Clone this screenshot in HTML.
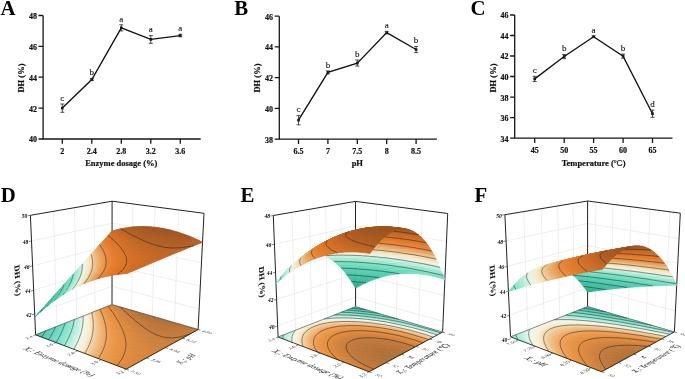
<!DOCTYPE html><html><head><meta charset="utf-8"><style>*{margin:0;padding:0}html,body{width:685px;height:379px;overflow:hidden;background:#fff}
svg{display:block;will-change:transform}
text{font-family:"Liberation Serif",serif}
.ax{fill:none;stroke:#161616;stroke-width:1.3}
.dl{fill:none;stroke:#111;stroke-width:1.35}
.eb{fill:none;stroke:#222;stroke-width:.8}
.mk{fill:#111}
.tl{font-size:8px;font-weight:bold;fill:#111;stroke:#111;stroke-width:.2}
.xt{font-size:8.5px;font-weight:bold;fill:#111;stroke:#111;stroke-width:.2}
.lt{font-size:9px;fill:#111;stroke:#111;stroke-width:.12}
.pl{font-size:20.8px;font-weight:bold;fill:#000}
.gr{fill:none;stroke:#dcdcdc;stroke-width:.5}
.bx{fill:none;stroke:#222;stroke-width:1}
.fe{fill:none;stroke:#111;stroke-width:.8}
.fb{fill:none;stroke:#444;stroke-width:.6}
.zl{font-size:5.5px;font-weight:bold;font-style:italic;fill:#000}
.dh{font-size:9px;font-weight:bold;fill:#111;stroke:#111;stroke-width:.1}
.kl{font-size:5.4px;font-style:italic;fill:#222}
.at{font-size:7.3px;font-style:italic;fill:#111}
.tk{fill:none;stroke:#333;stroke-width:.6}
.s path{fill:currentColor;stroke:currentColor;stroke-width:.7}
.s path.cl,path.cl{fill:none;stroke:#1a1a1a;stroke-width:.5}
</style></head><body><svg width="685" height="379" viewBox="0 0 685 379"><path d="M43.1 15.5V139H200.7" class="ax"/><text x="36.9" y="18.9" class="tl" text-anchor="end">48</text><text x="36.9" y="49.8" class="tl" text-anchor="end">46</text><text x="36.9" y="80.7" class="tl" text-anchor="end">44</text><text x="36.9" y="111.5" class="tl" text-anchor="end">42</text><text x="36.9" y="142.4" class="tl" text-anchor="end">40</text><text x="62.3" y="153.6" class="tl" text-anchor="middle">2</text><text x="91.8" y="153.6" class="tl" text-anchor="middle">2.4</text><text x="121.3" y="153.6" class="tl" text-anchor="middle">2.8</text><text x="150.8" y="153.6" class="tl" text-anchor="middle">3.2</text><text x="180.3" y="153.6" class="tl" text-anchor="middle">3.6</text><path d="M38.5 15.5H43.1M38.5 46.4H43.1M38.5 77.2H43.1M38.5 108.1H43.1M38.5 139H43.1M62.3 139V143.8M91.8 139V143.8M121.3 139V143.8M150.8 139V143.8M180.3 139V143.8" class="ax"/><polyline points="62.3,108.1 91.8,79.6 121.3,27.8 150.8,39.4 180.3,35.6" class="dl"/><rect x="61" y="106.8" width="2.6" height="2.6" class="mk"/><text x="62.3" y="100.8" class="lt" text-anchor="middle">c</text><rect x="90.5" y="78.3" width="2.6" height="2.6" class="mk"/><text x="91.8" y="75.4" class="lt" text-anchor="middle">b</text><rect x="120" y="26.5" width="2.6" height="2.6" class="mk"/><text x="121.3" y="21.6" class="lt" text-anchor="middle">a</text><rect x="149.5" y="38.1" width="2.6" height="2.6" class="mk"/><text x="150.8" y="32.4" class="lt" text-anchor="middle">a</text><rect x="179" y="34.3" width="2.6" height="2.6" class="mk"/><text x="180.3" y="31.1" class="lt" text-anchor="middle">a</text><path d="M62.3 104V112.3M60.3 104h4M60.3 112.3h4M91.8 78.6V80.5M89.8 78.6h4M89.8 80.5h4M121.3 24.8V30.9M119.3 24.8h4M119.3 30.9h4M150.8 35.6V43.3M148.8 35.6h4M148.8 43.3h4M180.3 34.3V36.8M178.3 34.3h4M178.3 36.8h4" class="eb"/><text x="121.3" y="166.1" class="xt" text-anchor="middle">Enzyme dosage (%)</text><text transform="translate(23.8 78) rotate(-90)" class="xt" text-anchor="middle">DH (%)</text><text x=".5" y="14.6" class="pl">A</text><path d="M279.3 16.2V139.1H436.9" class="ax"/><text x="273.1" y="19.6" class="tl" text-anchor="end">46</text><text x="273.1" y="50.3" class="tl" text-anchor="end">44</text><text x="273.1" y="81.1" class="tl" text-anchor="end">42</text><text x="273.1" y="111.8" class="tl" text-anchor="end">40</text><text x="273.1" y="142.5" class="tl" text-anchor="end">38</text><text x="298.5" y="153.7" class="tl" text-anchor="middle">6.5</text><text x="327.9" y="153.7" class="tl" text-anchor="middle">7</text><text x="357.3" y="153.7" class="tl" text-anchor="middle">7.5</text><text x="386.7" y="153.7" class="tl" text-anchor="middle">8</text><text x="416.1" y="153.7" class="tl" text-anchor="middle">8.5</text><path d="M274.7 16.2H279.3M274.7 46.9H279.3M274.7 77.7H279.3M274.7 108.4H279.3M274.7 139.1H279.3M298.5 139.1V143.9M327.9 139.1V143.9M357.3 139.1V143.9M386.7 139.1V143.9M416.1 139.1V143.9" class="ax"/><polyline points="298.5,120.2 327.9,72.4 357.3,63.1 386.7,32.6 416.1,49.5" class="dl"/><rect x="297.2" y="118.9" width="2.6" height="2.6" class="mk"/><text x="298.5" y="112.4" class="lt" text-anchor="middle">c</text><rect x="326.6" y="71.1" width="2.6" height="2.6" class="mk"/><text x="327.9" y="67.7" class="lt" text-anchor="middle">b</text><rect x="356" y="61.8" width="2.6" height="2.6" class="mk"/><text x="357.3" y="56.8" class="lt" text-anchor="middle">b</text><rect x="385.4" y="31.3" width="2.6" height="2.6" class="mk"/><text x="386.7" y="28.2" class="lt" text-anchor="middle">a</text><rect x="414.8" y="48.2" width="2.6" height="2.6" class="mk"/><text x="416.1" y="43.3" class="lt" text-anchor="middle">b</text><path d="M298.5 115.6V124.8M296.5 115.6h4M296.5 124.8h4M327.9 70.9V74M325.9 70.9h4M325.9 74h4M357.3 60V66.1M355.3 60h4M355.3 66.1h4M386.7 31.4V33.9M384.7 31.4h4M384.7 33.9h4M416.1 46.5V52.6M414.1 46.5h4M414.1 52.6h4" class="eb"/><text x="357.3" y="166.1" class="xt" text-anchor="middle">pH</text><text transform="translate(260 78) rotate(-90)" class="xt" text-anchor="middle">DH (%)</text><text x="234.3" y="14.6" class="pl">B</text><path d="M514.7 15V138.1H672.5" class="ax"/><text x="508.5" y="18.4" class="tl" text-anchor="end">46</text><text x="508.5" y="38.9" class="tl" text-anchor="end">44</text><text x="508.5" y="59.4" class="tl" text-anchor="end">42</text><text x="508.5" y="80" class="tl" text-anchor="end">40</text><text x="508.5" y="100.5" class="tl" text-anchor="end">38</text><text x="508.5" y="121" class="tl" text-anchor="end">36</text><text x="508.5" y="141.5" class="tl" text-anchor="end">34</text><text x="534.7" y="152.7" class="tl" text-anchor="middle">45</text><text x="564.2" y="152.7" class="tl" text-anchor="middle">50</text><text x="593.6" y="152.7" class="tl" text-anchor="middle">55</text><text x="623.1" y="152.7" class="tl" text-anchor="middle">60</text><text x="652.5" y="152.7" class="tl" text-anchor="middle">65</text><path d="M510.1 15H514.7M510.1 35.5H514.7M510.1 56H514.7M510.1 76.5H514.7M510.1 97.1H514.7M510.1 117.6H514.7M510.1 138.1H514.7M534.7 138.1V142.9M564.2 138.1V142.9M593.6 138.1V142.9M623.1 138.1V142.9M652.5 138.1V142.9" class="ax"/><polyline points="534.7,78.9 564.2,56.5 593.6,36.7 623.1,56.1 652.5,113.7" class="dl"/><rect x="533.4" y="77.6" width="2.6" height="2.6" class="mk"/><text x="534.7" y="73.1" class="lt" text-anchor="middle">c</text><rect x="562.9" y="55.2" width="2.6" height="2.6" class="mk"/><text x="564.2" y="51.3" class="lt" text-anchor="middle">b</text><rect x="592.3" y="35.4" width="2.6" height="2.6" class="mk"/><text x="593.6" y="32.7" class="lt" text-anchor="middle">a</text><rect x="621.8" y="54.8" width="2.6" height="2.6" class="mk"/><text x="623.1" y="50.9" class="lt" text-anchor="middle">b</text><rect x="651.2" y="112.4" width="2.6" height="2.6" class="mk"/><text x="652.5" y="106.9" class="lt" text-anchor="middle">d</text><path d="M534.7 76.3V81.5M532.7 76.3h4M532.7 81.5h4M564.2 54.5V58.6M562.2 54.5h4M562.2 58.6h4M593.6 35.9V37.6M591.6 35.9h4M591.6 37.6h4M623.1 54.1V58.2M621.1 54.1h4M621.1 58.2h4M652.5 110.1V117.3M650.5 110.1h4M650.5 117.3h4" class="eb"/><text x="593.6" y="166.1" class="xt" text-anchor="middle">Temperature (<tspan font-size="5.5px" font-weight="normal" dy="-3">o</tspan><tspan dy="3" font-family="Liberation Sans" font-weight="normal" stroke-width=".1">C</tspan>)</text><text transform="translate(495.7 78) rotate(-90)" class="xt" text-anchor="middle">DH (%)</text><text x="470.6" y="14.6" class="pl">C</text><path d="M34.7 313.8L112 286.3L199.1 309.1M33.7 290.2L112 265.8L200.3 286.1M32.6 265.9L112 244.8L201.5 262.5M31.5 241L112 223.2L202.8 238.2M57 326.4L53.4 211.3M76.7 318.6L74.5 207.7M95 311.3L94 204.3M131.6 310.3L132.9 203.9M152.4 316.3L155 206.9M174.5 322.7L178.7 210" class="gr"/><path d="M35.6 334.8L30.4 215.3L112.1 201.2L204 213.3M112.1 201.2L112 304.6M204 213.3L198.1 329.5" class="bx"/><g class="s"><path d="M35.6 334.8l3.1 1.1 3.4-1.3-3.1-1.1z" color="#4cc1a6"/><path d="M38.7 335.9l3 1.2 3.4-1.4-3-1.1z" color="#54c8ae"/><path d="M41.7 337.1l3.1 1.2 3.4-1.4-3.1-1.2z" color="#5bcdb4"/><path d="M44.8 338.3l3.1 1.2 3.4-1.4-3.1-1.2z" color="#61d1b9"/><path d="M47.9 339.5l3.2 1.2 3.4-1.5-3.2-1.1z" color="#69d5bf"/><path d="M51.1 340.7l3.2 1.2 3.4-1.5-3.2-1.2z" color="#71dac3"/><path d="M54.3 341.9l3.2 1.2 3.4-1.5-3.2-1.2z" color="#79e0c6"/><path d="M57.5 343.1l3.3 1.2 3.4-1.4-3.3-1.3z" color="#87e4cc"/><path d="M60.8 344.3l3.3 1.3 3.4-1.5-3.3-1.2z" color="#98e9d3"/><path d="M64.1 345.6l3.3 1.2 3.4-1.5-3.3-1.2z" color="#aaedda"/><path d="M67.4 346.8l3.4 1.3 3.4-1.5-3.4-1.3z" color="#c2f1e2"/><path d="M70.8 348.1l3.4 1.3 3.4-1.5-3.4-1.3z" color="#ddf5e9"/><path d="M74.2 349.4l3.5 1.3 3.3-1.5-3.4-1.3z" color="#f2f6e7"/><path d="M77.7 350.7l3.4 1.3 3.4-1.5-3.5-1.3z" color="#f7efd7"/><path d="M81.1 352l3.6 1.4 3.3-1.6-3.5-1.3z" color="#f5e1be"/><path d="M84.7 353.4l3.5 1.3 3.4-1.6-3.6-1.3z" color="#f2d0a2"/><path d="M88.2 354.7l3.6 1.4 3.4-1.6-3.6-1.4z" color="#f0c189"/><path d="M91.8 356.1l3.7 1.4 3.3-1.7-3.6-1.3z" color="#efb374"/><path d="M95.5 357.5l3.7 1.3 3.3-1.6-3.7-1.4z" color="#eea55f"/><path d="M99.2 358.8l3.7 1.5 3.3-1.7-3.7-1.4z" color="#ec9f55"/><path d="M102.9 360.3l3.8 1.4 3.3-1.7-3.8-1.4z" color="#ea984b"/><path d="M106.7 361.7l3.8 1.4 3.3-1.7-3.8-1.4z" color="#e89344"/><path d="M110.5 363.1l3.9 1.5 3.3-1.7-3.9-1.5z" color="#e59042"/><path d="M114.4 364.6l3.9 1.5 3.3-1.8-3.9-1.4z" color="#e18d41"/><path d="M118.3 366.1l3.9 1.5 3.3-1.8-3.9-1.5z" color="#de8b40"/><path d="M122.2 367.6l4 1.5 3.3-1.8-4-1.5z" color="#dc893f"/><path d="M39 333.5l3.1 1.1 3.3-1.3-3-1.2z" color="#51c6ab"/><path d="M42.1 334.6l3 1.1 3.4-1.3-3.1-1.1z" color="#58ccb2"/><path d="M45.1 335.7l3.1 1.2 3.4-1.4-3.1-1.1z" color="#5fd0b7"/><path d="M48.2 336.9l3.1 1.2 3.4-1.4-3.1-1.2z" color="#66d3bd"/><path d="M51.3 338.1l3.2 1.1 3.3-1.4-3.1-1.1z" color="#6ed9c1"/><path d="M54.5 339.2l3.2 1.2 3.3-1.4-3.2-1.2z" color="#76dec5"/><path d="M57.7 340.4l3.2 1.2 3.4-1.4-3.3-1.2z" color="#80e3c9"/><path d="M60.9 341.6l3.3 1.3 3.3-1.5-3.2-1.2z" color="#92e7d0"/><path d="M64.2 342.9l3.3 1.2 3.3-1.5-3.3-1.2z" color="#a2ebd7"/><path d="M67.5 344.1l3.3 1.2 3.3-1.4-3.3-1.3z" color="#b9f0df"/><path d="M70.8 345.3l3.4 1.3 3.3-1.5-3.4-1.2z" color="#d1f4e7"/><path d="M74.2 346.6l3.4 1.3 3.3-1.5-3.4-1.3z" color="#eff8ec"/><path d="M77.6 347.9l3.4 1.3 3.3-1.6-3.4-1.2z" color="#f5f2dd"/><path d="M81 349.2l3.5 1.3 3.3-1.6-3.5-1.3z" color="#f7e8ca"/><path d="M84.5 350.5l3.5 1.3 3.3-1.6-3.5-1.3z" color="#f3d7ae"/><path d="M88 351.8l3.6 1.3 3.3-1.6-3.6-1.3z" color="#f0c894"/><path d="M91.6 353.1l3.6 1.4 3.3-1.6-3.6-1.4z" color="#efb97e"/><path d="M95.2 354.5l3.6 1.3 3.3-1.6-3.6-1.3z" color="#eeac69"/><path d="M98.8 355.8l3.7 1.4 3.3-1.6-3.7-1.4z" color="#eda25a"/><path d="M102.5 357.2l3.7 1.4 3.3-1.7-3.7-1.3z" color="#eb9c50"/><path d="M106.2 358.6l3.8 1.4 3.3-1.7-3.8-1.4z" color="#ea9647"/><path d="M110 360l3.8 1.4 3.3-1.7-3.8-1.4z" color="#e79243"/><path d="M113.8 361.4l3.9 1.5 3.2-1.8-3.8-1.4z" color="#e38f42"/><path d="M117.7 362.9l3.9 1.4 3.2-1.7-3.9-1.5z" color="#e08c41"/><path d="M121.6 364.3l3.9 1.5 3.2-1.8-3.9-1.4z" color="#de8a3f"/><path d="M125.5 365.8l4 1.5 3.2-1.8-4-1.5z" color="#db883e"/><path d="M42.4 332.1l3 1.2 3.3-1.4-3-1.1z" color="#56cbb0"/><path d="M45.4 333.3l3.1 1.1 3.3-1.4-3.1-1.1z" color="#5dceb6"/><path d="M48.5 334.4l3.1 1.1 3.3-1.3-3.1-1.2z" color="#64d2bb"/><path d="M51.6 335.5l3.1 1.2 3.3-1.4-3.1-1.1z" color="#6bd7c0"/><path d="M54.7 336.7l3.1 1.1 3.3-1.3-3.1-1.2z" color="#74dcc4"/><path d="M57.8 337.8l3.2 1.2 3.3-1.4-3.2-1.1z" color="#7ce1c7"/><path d="M61 339l3.3 1.2 3.2-1.4-3.2-1.2z" color="#8ce6ce"/><path d="M64.3 340.2l3.2 1.2 3.3-1.4-3.3-1.2z" color="#9dead5"/><path d="M67.5 341.4l3.3 1.2 3.3-1.4-3.3-1.2z" color="#b1eedc"/><path d="M70.8 342.6l3.3 1.3 3.3-1.5-3.3-1.2z" color="#c8f2e4"/><path d="M74.1 343.9l3.4 1.2 3.3-1.5-3.4-1.2z" color="#e4f6ea"/><path d="M77.5 345.1l3.4 1.3 3.3-1.5-3.4-1.3z" color="#f3f4e3"/><path d="M80.9 346.4l3.4 1.2 3.3-1.5-3.4-1.2z" color="#f8eed5"/><path d="M84.3 347.6l3.5 1.3 3.3-1.5-3.5-1.3z" color="#f5deb9"/><path d="M87.8 348.9l3.5 1.3 3.3-1.5-3.5-1.3z" color="#f2ce9e"/><path d="M91.3 350.2l3.6 1.3 3.2-1.5-3.5-1.3z" color="#f0bf87"/><path d="M94.9 351.5l3.6 1.4 3.2-1.6-3.6-1.3z" color="#efb172"/><path d="M98.5 352.9l3.6 1.3 3.2-1.6-3.6-1.3z" color="#eea55f"/><path d="M102.1 354.2l3.7 1.4 3.2-1.7-3.7-1.3z" color="#ec9e55"/><path d="M105.8 355.6l3.7 1.3 3.2-1.6-3.7-1.4z" color="#ea994b"/><path d="M109.5 356.9l3.8 1.4 3.2-1.6-3.8-1.4z" color="#e89344"/><path d="M113.3 358.3l3.8 1.4 3.2-1.6-3.8-1.4z" color="#e59142"/><path d="M117.1 359.7l3.8 1.4 3.2-1.6-3.8-1.4z" color="#e28e41"/><path d="M120.9 361.1l3.9 1.5 3.2-1.7-3.9-1.4z" color="#df8b40"/><path d="M124.8 362.6l3.9 1.4 3.2-1.7-3.9-1.4z" color="#dd893f"/><path d="M128.7 364l4 1.5 3.2-1.7-4-1.5z" color="#da873e"/><path d="M45.7 330.8l3 1.1 3.3-1.3-3-1.1z" color="#5bcdb4"/><path d="M48.7 331.9l3.1 1.1 3.2-1.3-3-1.1z" color="#62d1ba"/><path d="M51.8 333l3.1 1.2 3.2-1.4-3.1-1.1z" color="#69d5bf"/><path d="M54.9 334.2l3.1 1.1 3.2-1.3-3.1-1.2z" color="#71dac3"/><path d="M58 335.3l3.1 1.2 3.3-1.4-3.2-1.1z" color="#79e0c6"/><path d="M61.1 336.5l3.2 1.1 3.3-1.3-3.2-1.2z" color="#86e4cc"/><path d="M64.3 337.6l3.2 1.2 3.3-1.4-3.2-1.1z" color="#97e9d2"/><path d="M67.5 338.8l3.3 1.2 3.2-1.4-3.2-1.2z" color="#a9edd9"/><path d="M70.8 340l3.3 1.2 3.2-1.4-3.3-1.2z" color="#c0f1e2"/><path d="M74.1 341.2l3.3 1.2 3.3-1.4-3.4-1.2z" color="#daf5e8"/><path d="M77.4 342.4l3.4 1.2 3.2-1.4-3.3-1.2z" color="#f1f7e9"/><path d="M80.8 343.6l3.4 1.3 3.2-1.5-3.4-1.2z" color="#f6f0da"/><path d="M84.2 344.9l3.4 1.2 3.2-1.5-3.4-1.2z" color="#f6e4c3"/><path d="M87.6 346.1l3.5 1.3 3.2-1.5-3.5-1.3z" color="#f3d4a8"/><path d="M91.1 347.4l3.5 1.3 3.2-1.5-3.5-1.3z" color="#f0c58f"/><path d="M94.6 348.7l3.5 1.3 3.2-1.6-3.5-1.2z" color="#efb77a"/><path d="M98.1 350l3.6 1.3 3.2-1.6-3.6-1.3z" color="#eeaa66"/><path d="M101.7 351.3l3.6 1.3 3.2-1.6-3.6-1.3z" color="#eda159"/><path d="M105.3 352.6l3.7 1.3 3.2-1.5-3.7-1.4z" color="#eb9b4f"/><path d="M109 353.9l3.7 1.4 3.2-1.6-3.7-1.3z" color="#e99646"/><path d="M112.7 355.3l3.8 1.4 3.1-1.7-3.7-1.3z" color="#e79243"/><path d="M116.5 356.7l3.8 1.4 3.1-1.7-3.8-1.4z" color="#e38f42"/><path d="M120.3 358.1l3.8 1.4 3.2-1.7-3.9-1.4z" color="#e18d41"/><path d="M124.1 359.5l3.9 1.4 3.1-1.7-3.8-1.4z" color="#de8a40"/><path d="M128 360.9l3.9 1.4 3.2-1.7-4-1.4z" color="#dc883f"/><path d="M131.9 362.3l4 1.5 3.1-1.8-3.9-1.4z" color="#d9873e"/><path d="M49 329.5l3 1.1 3.2-1.3-3-1z" color="#60d0b8"/><path d="M52 330.6l3 1.1 3.3-1.3-3.1-1.1z" color="#66d4bd"/><path d="M55 331.7l3.1 1.1 3.3-1.3-3.1-1.1z" color="#6fd9c1"/><path d="M58.1 332.8l3.1 1.2 3.3-1.4-3.1-1.1z" color="#77dec5"/><path d="M61.2 334l3.2 1.1 3.2-1.3-3.1-1.2z" color="#81e3ca"/><path d="M64.4 335.1l3.2 1.2 3.2-1.4-3.2-1.1z" color="#92e7d0"/><path d="M67.6 336.3l3.2 1.1 3.2-1.4-3.2-1.1z" color="#a3ebd7"/><path d="M70.8 337.4l3.2 1.2 3.3-1.4-3.3-1.2z" color="#b9f0df"/><path d="M74 338.6l3.3 1.2 3.2-1.4-3.2-1.2z" color="#d1f4e7"/><path d="M77.3 339.8l3.4 1.2 3.2-1.4-3.4-1.2z" color="#edf8ec"/><path d="M80.7 341l3.3 1.2 3.2-1.5-3.3-1.1z" color="#f4f2df"/><path d="M84 342.2l3.4 1.2 3.2-1.4-3.4-1.3z" color="#f7e9cc"/><path d="M87.4 343.4l3.4 1.2 3.2-1.4-3.4-1.2z" color="#f4d9b1"/><path d="M90.8 344.6l3.5 1.3 3.2-1.5-3.5-1.2z" color="#f1ca97"/><path d="M94.3 345.9l3.5 1.3 3.2-1.5-3.5-1.3z" color="#efbc81"/><path d="M97.8 347.2l3.5 1.2 3.2-1.5-3.5-1.2z" color="#efae6d"/><path d="M101.3 348.4l3.6 1.3 3.2-1.5-3.6-1.3z" color="#eea35c"/><path d="M104.9 349.7l3.6 1.3 3.2-1.5-3.6-1.3z" color="#ec9d53"/><path d="M108.5 351l3.7 1.4 3.1-1.6-3.6-1.3z" color="#ea984a"/><path d="M112.2 352.4l3.7 1.3 3.1-1.6-3.7-1.3z" color="#e89344"/><path d="M115.9 353.7l3.7 1.3 3.2-1.6-3.8-1.3z" color="#e59042"/><path d="M119.6 355l3.8 1.4 3.1-1.6-3.7-1.4z" color="#e28e41"/><path d="M123.4 356.4l3.9 1.4 3.1-1.6-3.9-1.4z" color="#df8c40"/><path d="M127.3 357.8l3.8 1.4 3.1-1.7-3.8-1.3z" color="#dd893f"/><path d="M131.1 359.2l4 1.4 3-1.7-3.9-1.4z" color="#db883e"/><path d="M135.1 360.6l3.9 1.4 3.1-1.7-4-1.4z" color="#d8863e"/><path d="M52.2 328.3l3 1 3.2-1.2-3-1.1z" color="#65d3bc"/><path d="M55.2 329.3l3.1 1.1 3.2-1.3-3.1-1z" color="#6cd7c0"/><path d="M58.3 330.4l3.1 1.1 3.1-1.3-3-1.1z" color="#75ddc4"/><path d="M61.4 331.5l3.1 1.1 3.1-1.3-3.1-1.1z" color="#7de2c8"/><path d="M64.5 332.6l3.1 1.2 3.2-1.4-3.2-1.1z" color="#8de6cf"/><path d="M67.6 333.8l3.2 1.1 3.2-1.3-3.2-1.2z" color="#9eead5"/><path d="M70.8 334.9l3.2 1.1 3.2-1.3-3.2-1.1z" color="#b2eedd"/><path d="M74 336l3.3 1.2 3.1-1.4-3.2-1.1z" color="#c9f2e5"/><path d="M77.3 337.2l3.2 1.2 3.2-1.4-3.3-1.2z" color="#e5f6ea"/><path d="M80.5 338.4l3.4 1.2 3.1-1.4-3.3-1.2z" color="#f3f4e3"/><path d="M83.9 339.6l3.3 1.1 3.2-1.4-3.4-1.1z" color="#f8eed4"/><path d="M87.2 340.7l3.4 1.3 3.1-1.5-3.3-1.2z" color="#f5deba"/><path d="M90.6 342l3.4 1.2 3.2-1.5-3.5-1.2z" color="#f2cf9f"/><path d="M94 343.2l3.5 1.2 3.1-1.4-3.4-1.3z" color="#f0c088"/><path d="M97.5 344.4l3.5 1.3 3.1-1.5-3.5-1.2z" color="#efb374"/><path d="M101 345.7l3.5 1.2 3.1-1.5-3.5-1.2z" color="#eea661"/><path d="M104.5 346.9l3.6 1.3 3.1-1.5-3.6-1.3z" color="#ec9f56"/><path d="M108.1 348.2l3.6 1.3 3.1-1.5-3.6-1.3z" color="#eb9a4d"/><path d="M111.7 349.5l3.6 1.3 3.1-1.6-3.6-1.2z" color="#e99445"/><path d="M115.3 350.8l3.7 1.3 3.1-1.6-3.7-1.3z" color="#e69143"/><path d="M119 352.1l3.8 1.3 3.1-1.5-3.8-1.4z" color="#e38f42"/><path d="M122.8 353.4l3.7 1.4 3.1-1.6-3.7-1.3z" color="#e08c41"/><path d="M126.5 354.8l3.9 1.4 3-1.7-3.8-1.3z" color="#de8a40"/><path d="M130.4 356.2l3.8 1.3 3.1-1.6-3.9-1.4z" color="#dc893f"/><path d="M134.2 357.5l3.9 1.4 3.1-1.6-3.9-1.4z" color="#da873e"/><path d="M138.1 358.9l4 1.4 3-1.6-3.9-1.4z" color="#d7853e"/><path d="M55.4 327l3 1.1 3.2-1.3-3.1-1.1z" color="#6ad6bf"/><path d="M58.4 328.1l3.1 1 3.1-1.2-3-1.1z" color="#73dbc3"/><path d="M61.5 329.1l3 1.1 3.2-1.3-3.1-1z" color="#7be1c7"/><path d="M64.5 330.2l3.1 1.1 3.2-1.3-3.1-1.1z" color="#89e5cd"/><path d="M67.6 331.3l3.2 1.1 3.1-1.3-3.1-1.1z" color="#9ae9d4"/><path d="M70.8 332.4l3.2 1.2 3.1-1.4-3.2-1.1z" color="#aceddb"/><path d="M74 333.6l3.2 1.1 3.1-1.4-3.2-1.1z" color="#c3f1e3"/><path d="M77.2 334.7l3.2 1.1 3.1-1.3-3.2-1.2z" color="#ddf5e9"/><path d="M80.4 335.8l3.3 1.2 3.1-1.4-3.3-1.1z" color="#f2f6e7"/><path d="M83.7 337l3.3 1.2 3.1-1.4-3.3-1.2z" color="#f7f0d8"/><path d="M87 338.2l3.4 1.1 3.1-1.4-3.4-1.1z" color="#f6e3c1"/><path d="M90.4 339.3l3.3 1.2 3.1-1.4-3.3-1.2z" color="#f3d3a7"/><path d="M93.7 340.5l3.5 1.2 3.1-1.4-3.5-1.2z" color="#f0c48e"/><path d="M97.2 341.7l3.4 1.3 3.1-1.5-3.4-1.2z" color="#efb77a"/><path d="M100.6 343l3.5 1.2 3.1-1.5-3.5-1.2z" color="#eeaa66"/><path d="M104.1 344.2l3.5 1.2 3.1-1.4-3.5-1.3z" color="#eda159"/><path d="M107.6 345.4l3.6 1.3 3.1-1.5-3.6-1.2z" color="#eb9b50"/><path d="M111.2 346.7l3.6 1.3 3.1-1.5-3.6-1.3z" color="#ea9647"/><path d="M114.8 348l3.6 1.2 3.1-1.5-3.6-1.2z" color="#e79243"/><path d="M118.4 349.2l3.7 1.3 3.1-1.5-3.7-1.3z" color="#e49042"/><path d="M122.1 350.5l3.8 1.4 3-1.6-3.7-1.3z" color="#e18d41"/><path d="M125.9 351.9l3.7 1.3 3.1-1.6-3.8-1.3z" color="#df8b40"/><path d="M129.6 353.2l3.8 1.3 3.1-1.6-3.8-1.3z" color="#dd893f"/><path d="M133.4 354.5l3.9 1.4 3-1.6-3.8-1.4z" color="#db883e"/><path d="M137.3 355.9l3.9 1.4 3-1.7-3.9-1.3z" color="#d8863e"/><path d="M141.2 357.3l3.9 1.4 3-1.7-3.9-1.4z" color="#d6853e"/><path d="M58.5 325.7l3.1 1.1 3.1-1.2-3-1.1z" color="#71dac2"/><path d="M61.6 326.8l3 1.1 3.1-1.3-3-1z" color="#79dfc6"/><path d="M64.6 327.9l3.1 1 3.1-1.2-3.1-1.1z" color="#85e4cb"/><path d="M67.7 328.9l3.1 1.1 3.1-1.3-3.1-1z" color="#96e8d2"/><path d="M70.8 330l3.1 1.1 3.1-1.3-3.1-1.1z" color="#a7ecd9"/><path d="M73.9 331.1l3.2 1.1 3.1-1.3-3.2-1.1z" color="#bef0e1"/><path d="M77.1 332.2l3.2 1.1 3.1-1.3-3.2-1.1z" color="#d6f4e8"/><path d="M80.3 333.3l3.2 1.2 3.1-1.4-3.2-1.1z" color="#f0f7eb"/><path d="M83.5 334.5l3.3 1.1 3.1-1.3-3.3-1.2z" color="#f5f1dc"/><path d="M86.8 335.6l3.3 1.2 3.1-1.4-3.3-1.1z" color="#f7e7c8"/><path d="M90.1 336.8l3.4 1.1 3-1.3-3.3-1.2z" color="#f3d7ad"/><path d="M93.5 337.9l3.3 1.2 3.1-1.4-3.4-1.1z" color="#f0c894"/><path d="M96.8 339.1l3.5 1.2 3-1.4-3.4-1.2z" color="#efba7f"/><path d="M100.3 340.3l3.4 1.2 3.1-1.4-3.5-1.2z" color="#eead6b"/><path d="M103.7 341.5l3.5 1.2 3-1.4-3.4-1.2z" color="#eda35c"/><path d="M107.2 342.7l3.5 1.3 3-1.5-3.5-1.2z" color="#ec9d52"/><path d="M110.7 344l3.6 1.2 3-1.5-3.6-1.2z" color="#ea984a"/><path d="M114.3 345.2l3.6 1.3 3-1.5-3.6-1.3z" color="#e89344"/><path d="M117.9 346.5l3.6 1.2 3-1.5-3.6-1.2z" color="#e59042"/><path d="M121.5 347.7l3.7 1.3 3-1.5-3.7-1.3z" color="#e28e41"/><path d="M125.2 349l3.7 1.3 3-1.5-3.7-1.3z" color="#e08c40"/><path d="M128.9 350.3l3.8 1.3 3-1.5-3.8-1.3z" color="#dd8a3f"/><path d="M132.7 351.6l3.8 1.3 3-1.5-3.8-1.3z" color="#db883f"/><path d="M136.5 352.9l3.8 1.4 3-1.6-3.8-1.3z" color="#d9873e"/><path d="M140.3 354.3l3.9 1.3 3-1.6-3.9-1.3z" color="#d7853e"/><path d="M144.2 355.6l3.9 1.4 3-1.6-3.9-1.4z" color="#d5843e"/><path d="M61.7 324.5l3 1.1 3-1.3-3-1z" color="#77dec5"/><path d="M64.7 325.6l3 1 3.1-1.2-3.1-1.1z" color="#82e3ca"/><path d="M67.7 326.6l3.1 1.1 3.1-1.3-3.1-1z" color="#92e7d1"/><path d="M70.8 327.7l3.1 1 3.1-1.2-3.1-1.1z" color="#a3ebd7"/><path d="M73.9 328.7l3.1 1.1 3.1-1.3-3.1-1z" color="#b9f0df"/><path d="M77 329.8l3.2 1.1 3.1-1.3-3.2-1.1z" color="#d0f3e7"/><path d="M80.2 330.9l3.2 1.1 3.1-1.3-3.2-1.1z" color="#edf8eb"/><path d="M83.4 332l3.2 1.1 3.1-1.3-3.2-1.1z" color="#f4f3df"/><path d="M86.6 333.1l3.3 1.2 3-1.4-3.2-1.1z" color="#f7eace"/><path d="M89.9 334.3l3.3 1.1 3-1.3-3.3-1.2z" color="#f4dab3"/><path d="M93.2 335.4l3.3 1.2 3.1-1.4-3.4-1.1z" color="#f1cb99"/><path d="M96.5 336.6l3.4 1.1 3-1.4-3.3-1.1z" color="#efbd83"/><path d="M99.9 337.7l3.4 1.2 3-1.4-3.4-1.2z" color="#efb06f"/><path d="M103.3 338.9l3.5 1.2 3-1.4-3.5-1.2z" color="#eea45e"/><path d="M106.8 340.1l3.4 1.2 3-1.4-3.4-1.2z" color="#ec9e54"/><path d="M110.2 341.3l3.5 1.2 3.1-1.4-3.6-1.2z" color="#ea994b"/><path d="M113.7 342.5l3.6 1.2 3-1.4-3.5-1.2z" color="#e99444"/><path d="M117.3 343.7l3.6 1.3 3-1.5-3.6-1.2z" color="#e69143"/><path d="M120.9 345l3.6 1.2 3-1.5-3.6-1.2z" color="#e38f41"/><path d="M124.5 346.2l3.7 1.3 3-1.5-3.7-1.3z" color="#e08c40"/><path d="M128.2 347.5l3.7 1.3 3-1.6-3.7-1.2z" color="#de8a40"/><path d="M131.9 348.8l3.8 1.3 2.9-1.6-3.7-1.3z" color="#dc893f"/><path d="M135.7 350.1l3.8 1.3 2.9-1.6-3.8-1.3z" color="#da873e"/><path d="M139.5 351.4l3.8 1.3 2.9-1.6-3.8-1.3z" color="#d7863e"/><path d="M143.3 352.7l3.9 1.3 2.9-1.6-3.9-1.3z" color="#d5843e"/><path d="M147.2 354l3.9 1.4 2.9-1.6-3.9-1.4z" color="#d4833d"/><path d="M64.7 323.3l3 1 3.1-1.2-3-1z" color="#7ee2c9"/><path d="M67.7 324.3l3.1 1.1 3-1.3-3-1z" color="#8fe7cf"/><path d="M70.8 325.4l3.1 1 3-1.2-3.1-1.1z" color="#a0ebd6"/><path d="M73.9 326.4l3.1 1.1 3-1.3-3.1-1z" color="#b5efde"/><path d="M77 327.5l3.1 1 3-1.2-3.1-1.1z" color="#cbf3e5"/><path d="M80.1 328.5l3.2 1.1 3-1.3-3.2-1z" color="#e8f7eb"/><path d="M83.3 329.6l3.2 1.1 3-1.3-3.2-1.1z" color="#f3f4e2"/><path d="M86.5 330.7l3.2 1.1 3-1.3-3.2-1.1z" color="#f8edd3"/><path d="M89.7 331.8l3.2 1.1 3.1-1.3-3.3-1.1z" color="#f5ddb8"/><path d="M92.9 332.9l3.3 1.2 3-1.4-3.2-1.1z" color="#f2ce9e"/><path d="M96.2 334.1l3.4 1.1 3-1.4-3.4-1.1z" color="#f0bf87"/><path d="M99.6 335.2l3.3 1.1 3-1.3-3.3-1.2z" color="#efb273"/><path d="M102.9 336.3l3.4 1.2 3-1.4-3.4-1.1z" color="#eea660"/><path d="M106.3 337.5l3.5 1.2 2.9-1.4-3.4-1.2z" color="#ec9f56"/><path d="M109.8 338.7l3.4 1.2 3-1.4-3.5-1.2z" color="#eb9a4d"/><path d="M113.2 339.9l3.6 1.2 2.9-1.5-3.5-1.1z" color="#e99445"/><path d="M116.8 341.1l3.5 1.2 3-1.5-3.6-1.2z" color="#e69243"/><path d="M120.3 342.3l3.6 1.2 2.9-1.5-3.5-1.2z" color="#e38f42"/><path d="M123.9 343.5l3.6 1.2 2.9-1.4-3.6-1.3z" color="#e18d41"/><path d="M127.5 344.7l3.7 1.3 2.9-1.5-3.7-1.2z" color="#de8b40"/><path d="M131.2 346l3.7 1.2 2.9-1.4-3.7-1.3z" color="#dc893f"/><path d="M134.9 347.2l3.7 1.3 2.9-1.5-3.7-1.2z" color="#da873e"/><path d="M138.6 348.5l3.8 1.3 2.9-1.5-3.8-1.3z" color="#d8863e"/><path d="M142.4 349.8l3.8 1.3 2.9-1.5-3.8-1.3z" color="#d6853e"/><path d="M146.2 351.1l3.9 1.3 2.9-1.5-3.9-1.3z" color="#d4843e"/><path d="M150.1 352.4l3.9 1.4 2.9-1.6-3.9-1.3z" color="#d2833d"/><path d="M67.8 322.1l3 1 3-1.2-3-1z" color="#8de6ce"/><path d="M70.8 323.1l3 1 3-1.2-3-1z" color="#9dead5"/><path d="M73.8 324.1l3.1 1.1 3-1.3-3.1-1z" color="#b1eedc"/><path d="M76.9 325.2l3.1 1 3-1.2-3.1-1.1z" color="#c8f2e4"/><path d="M80 326.2l3.1 1.1 3-1.3-3.1-1z" color="#e3f6ea"/><path d="M83.1 327.3l3.2 1 3-1.2-3.2-1.1z" color="#f3f5e4"/><path d="M86.3 328.3l3.2 1.1 2.9-1.3-3.1-1z" color="#f7efd6"/><path d="M89.5 329.4l3.2 1.1 3-1.3-3.3-1.1z" color="#f5dfbc"/><path d="M92.7 330.5l3.3 1.1 2.9-1.3-3.2-1.1z" color="#f2d0a2"/><path d="M96 331.6l3.2 1.1 3-1.3-3.3-1.1z" color="#f0c18a"/><path d="M99.2 332.7l3.4 1.1 2.9-1.3-3.3-1.1z" color="#efb476"/><path d="M102.6 333.8l3.3 1.2 3-1.4-3.4-1.1z" color="#eea763"/><path d="M105.9 335l3.4 1.1 3-1.3-3.4-1.2z" color="#eda057"/><path d="M109.3 336.1l3.4 1.2 3-1.4-3.4-1.1z" color="#eb9a4e"/><path d="M112.7 337.3l3.5 1.2 2.9-1.4-3.4-1.2z" color="#e99546"/><path d="M116.2 338.5l3.5 1.1 2.9-1.4-3.5-1.1z" color="#e79243"/><path d="M119.7 339.6l3.6 1.2 2.9-1.4-3.6-1.2z" color="#e48f42"/><path d="M123.3 340.8l3.5 1.2 2.9-1.4-3.5-1.2z" color="#e18d41"/><path d="M126.8 342l3.6 1.3 2.9-1.5-3.6-1.2z" color="#de8b40"/><path d="M130.4 343.3l3.7 1.2 2.9-1.5-3.7-1.2z" color="#dc893f"/><path d="M134.1 344.5l3.7 1.3 2.9-1.5-3.7-1.3z" color="#da873e"/><path d="M137.8 345.8l3.7 1.2 2.9-1.5-3.7-1.2z" color="#d8863e"/><path d="M141.5 347l3.8 1.3 2.9-1.5-3.8-1.3z" color="#d6853e"/><path d="M145.3 348.3l3.8 1.3 2.9-1.5-3.8-1.3z" color="#d4833d"/><path d="M149.1 349.6l3.9 1.3 2.8-1.6-3.8-1.2z" color="#d2833d"/><path d="M153 350.9l3.9 1.3 2.8-1.6-3.9-1.3z" color="#d1823d"/><path d="M70.8 320.9l3 1 3-1.2-3-1z" color="#9be9d4"/><path d="M73.8 321.9l3 1 3-1.2-3-1z" color="#aeeedb"/><path d="M76.8 322.9l3.1 1 2.9-1.2-3-1z" color="#c5f2e3"/><path d="M79.9 323.9l3.1 1.1 2.9-1.2-3.1-1.1z" color="#dff6e9"/><path d="M83 325l3.1 1 3-1.2-3.2-1z" color="#f2f5e6"/><path d="M86.1 326l3.2 1.1 2.9-1.3-3.1-1z" color="#f7efd7"/><path d="M89.3 327.1l3.1 1 3-1.2-3.2-1.1z" color="#f5e1bf"/><path d="M92.4 328.1l3.3 1.1 2.9-1.2-3.2-1.1z" color="#f2d2a5"/><path d="M95.7 329.2l3.2 1.1 3-1.3-3.3-1z" color="#f0c38c"/><path d="M98.9 330.3l3.3 1.1 2.9-1.3-3.2-1.1z" color="#efb578"/><path d="M102.2 331.4l3.3 1.1 2.9-1.3-3.3-1.1z" color="#eea964"/><path d="M105.5 332.5l3.4 1.1 2.9-1.3-3.4-1.1z" color="#eda158"/><path d="M108.9 333.6l3.4 1.2 2.9-1.4-3.4-1.1z" color="#eb9b4f"/><path d="M112.3 334.8l3.4 1.1 2.9-1.3-3.4-1.2z" color="#e99646"/><path d="M115.7 335.9l3.4 1.2 2.9-1.4-3.4-1.1z" color="#e79243"/><path d="M119.1 337.1l3.5 1.1 2.9-1.3-3.5-1.2z" color="#e48f42"/><path d="M122.6 338.2l3.6 1.2 2.9-1.4-3.6-1.1z" color="#e18d41"/><path d="M126.2 339.4l3.5 1.2 2.9-1.4-3.5-1.2z" color="#de8b40"/><path d="M129.7 340.6l3.6 1.2 2.9-1.4-3.6-1.2z" color="#dc893f"/><path d="M133.3 341.8l3.7 1.2 2.9-1.4-3.7-1.2z" color="#da873e"/><path d="M137 343l3.7 1.3 2.8-1.5-3.6-1.2z" color="#d8863e"/><path d="M140.7 344.3l3.7 1.2 2.8-1.5-3.7-1.2z" color="#d5843e"/><path d="M144.4 345.5l3.8 1.3 2.8-1.5-3.8-1.3z" color="#d3833d"/><path d="M148.2 346.8l3.8 1.3 2.8-1.6-3.8-1.2z" color="#d2823d"/><path d="M152 348.1l3.8 1.2 2.8-1.5-3.8-1.3z" color="#d1823d"/><path d="M155.8 349.3l3.9 1.3 2.8-1.5-3.9-1.3z" color="#d0823d"/><path d="M73.8 319.7l3 1 2.9-1.1-3-1z" color="#abedda"/><path d="M76.8 320.7l3 1 2.9-1.2-3-.9z" color="#c2f1e2"/><path d="M79.8 321.7l3 1 3-1.2-3.1-1z" color="#dcf5e9"/><path d="M82.8 322.7l3.1 1.1 3-1.2-3.1-1.1z" color="#f2f6e7"/><path d="M85.9 323.8l3.2 1 2.9-1.2-3.1-1z" color="#f6f0d9"/><path d="M89.1 324.8l3.1 1 2.9-1.2-3.1-1z" color="#f6e3c1"/><path d="M92.2 325.8l3.2 1.1 2.9-1.3-3.2-1z" color="#f3d3a7"/><path d="M95.4 326.9l3.2 1.1 2.9-1.3-3.2-1.1z" color="#f0c48e"/><path d="M98.6 328l3.3 1 2.8-1.2-3.2-1.1z" color="#efb679"/><path d="M101.9 329l3.2 1.1 2.9-1.3-3.3-1z" color="#eea966"/><path d="M105.1 330.1l3.3 1.1 2.9-1.3-3.3-1.1z" color="#eda159"/><path d="M108.4 331.2l3.4 1.1 2.9-1.3-3.4-1.1z" color="#eb9b4f"/><path d="M111.8 332.3l3.4 1.1 2.8-1.3-3.3-1.1z" color="#ea9647"/><path d="M115.2 333.4l3.4 1.2 2.9-1.4-3.5-1.1z" color="#e79243"/><path d="M118.6 334.6l3.4 1.1 2.9-1.3-3.4-1.2z" color="#e48f42"/><path d="M122 335.7l3.5 1.2 2.9-1.4-3.5-1.1z" color="#e18d41"/><path d="M125.5 336.9l3.6 1.1 2.8-1.4-3.5-1.1z" color="#de8b40"/><path d="M129.1 338l3.5 1.2 2.9-1.4-3.6-1.2z" color="#dc893f"/><path d="M132.6 339.2l3.6 1.2 2.8-1.4-3.5-1.2z" color="#da873e"/><path d="M136.2 340.4l3.7 1.2 2.8-1.4-3.7-1.2z" color="#d7853e"/><path d="M139.9 341.6l3.6 1.2 2.8-1.4-3.6-1.2z" color="#d5843e"/><path d="M143.5 342.8l3.7 1.2 2.8-1.4-3.7-1.2z" color="#d3833d"/><path d="M147.2 344l3.8 1.3 2.8-1.5-3.8-1.2z" color="#d1823d"/><path d="M151 345.3l3.8 1.2 2.8-1.4-3.8-1.3z" color="#d0813d"/><path d="M154.8 346.5l3.8 1.3 2.8-1.5-3.8-1.2z" color="#d0813d"/><path d="M158.6 347.8l3.9 1.3 2.8-1.5-3.9-1.3z" color="#cf813d"/><path d="M76.7 318.6l3 1 2.9-1.2-3-1z" color="#c0f1e2"/><path d="M79.7 319.6l3 .9 2.9-1.1-3-1z" color="#daf5e8"/><path d="M82.7 320.5l3.1 1 2.9-1.1-3.1-1z" color="#f1f7e8"/><path d="M85.8 321.5l3.1 1.1 2.8-1.2-3-1z" color="#f6f0da"/><path d="M88.9 322.6l3.1 1 2.9-1.2-3.2-1z" color="#f6e4c3"/><path d="M92 323.6l3.1 1 2.9-1.2-3.1-1z" color="#f3d4a8"/><path d="M95.1 324.6l3.2 1 2.9-1.2-3.2-1z" color="#f0c58f"/><path d="M98.3 325.6l3.2 1.1 2.9-1.2-3.2-1.1z" color="#efb77a"/><path d="M101.5 326.7l3.2 1.1 2.9-1.3-3.2-1z" color="#eeaa66"/><path d="M104.7 327.8l3.3 1 2.9-1.2-3.3-1.1z" color="#eda159"/><path d="M108 328.8l3.3 1.1 2.9-1.3-3.3-1z" color="#eb9b4f"/><path d="M111.3 329.9l3.4 1.1 2.8-1.3-3.3-1.1z" color="#e99647"/><path d="M114.7 331l3.3 1.1 2.9-1.3-3.4-1.1z" color="#e79243"/><path d="M118 332.1l3.5 1.1 2.8-1.3-3.4-1.1z" color="#e48f42"/><path d="M121.5 333.2l3.4 1.2 2.8-1.4-3.4-1.1z" color="#e18d41"/><path d="M124.9 334.4l3.5 1.1 2.8-1.4-3.5-1.1z" color="#de8b40"/><path d="M128.4 335.5l3.5 1.1 2.8-1.3-3.5-1.2z" color="#dc893f"/><path d="M131.9 336.6l3.6 1.2 2.8-1.4-3.6-1.1z" color="#da873e"/><path d="M135.5 337.8l3.5 1.2 2.8-1.4-3.5-1.2z" color="#d7853e"/><path d="M139 339l3.7 1.2 2.8-1.4-3.7-1.2z" color="#d4843e"/><path d="M142.7 340.2l3.6 1.2 2.8-1.4-3.6-1.2z" color="#d2833d"/><path d="M146.3 341.4l3.7 1.2 2.8-1.4-3.7-1.2z" color="#d0823d"/><path d="M150 342.6l3.8 1.2 2.7-1.4-3.7-1.2z" color="#cf813d"/><path d="M153.8 343.8l3.8 1.3 2.7-1.5-3.8-1.2z" color="#ce813d"/><path d="M157.6 345.1l3.8 1.2 2.7-1.5-3.8-1.2z" color="#ce803d"/><path d="M161.4 346.3l3.9 1.3 2.7-1.5-3.9-1.3z" color="#ce803d"/><path d="M79.6 317.4l3 1 2.9-1.2-3-.9z" color="#d9f5e8"/><path d="M82.6 318.4l3 1 2.9-1.2-3-1z" color="#f1f7e9"/><path d="M85.6 319.4l3.1 1 2.8-1.2-3-1z" color="#f6f1da"/><path d="M88.7 320.4l3 1 2.9-1.2-3.1-1z" color="#f6e4c4"/><path d="M91.7 321.4l3.2 1 2.8-1.2-3.1-1z" color="#f3d4a9"/><path d="M94.9 322.4l3.1 1 2.8-1.2-3.1-1z" color="#f0c58f"/><path d="M98 323.4l3.2 1 2.8-1.2-3.2-1z" color="#efb77a"/><path d="M101.2 324.4l3.2 1.1 2.8-1.3-3.2-1z" color="#eeaa66"/><path d="M104.4 325.5l3.2 1 2.8-1.2-3.2-1.1z" color="#eda159"/><path d="M107.6 326.5l3.3 1.1 2.8-1.3-3.3-1z" color="#eb9b4f"/><path d="M110.9 327.6l3.3 1 2.8-1.2-3.3-1.1z" color="#e99546"/><path d="M114.2 328.6l3.3 1.1 2.8-1.3-3.3-1z" color="#e69243"/><path d="M117.5 329.7l3.4 1.1 2.8-1.3-3.4-1.1z" color="#e38f42"/><path d="M120.9 330.8l3.4 1.1 2.8-1.3-3.4-1.1z" color="#e08d41"/><path d="M124.3 331.9l3.4 1.1 2.8-1.3-3.4-1.1z" color="#de8a3f"/><path d="M127.7 333l3.5 1.1 2.8-1.3-3.5-1.1z" color="#db883f"/><path d="M131.2 334.1l3.5 1.2 2.8-1.4-3.5-1.1z" color="#d9863e"/><path d="M134.7 335.3l3.6 1.1 2.7-1.3-3.5-1.2z" color="#d6853e"/><path d="M138.3 336.4l3.5 1.2 2.8-1.4-3.6-1.1z" color="#d3833d"/><path d="M141.8 337.6l3.7 1.2 2.7-1.4-3.6-1.2z" color="#d1823d"/><path d="M145.5 338.8l3.6 1.2 2.8-1.4-3.7-1.2z" color="#cf813d"/><path d="M149.1 340l3.7 1.2 2.7-1.5-3.6-1.1z" color="#ce803d"/><path d="M152.8 341.2l3.7 1.2 2.8-1.5-3.8-1.2z" color="#cd803d"/><path d="M156.5 342.4l3.8 1.2 2.7-1.5-3.7-1.2z" color="#cd803d"/><path d="M160.3 343.6l3.8 1.2 2.7-1.4-3.8-1.3z" color="#cd803d"/><path d="M164.1 344.8l3.9 1.3 2.7-1.5-3.9-1.2z" color="#cd803d"/><path d="M82.5 316.3l3 .9 2.8-1.1-3-.9z" color="#f1f7ea"/><path d="M85.5 317.2l3 1 2.8-1.1-3-1z" color="#f6f1da"/><path d="M88.5 318.2l3 1 2.8-1.2-3-.9z" color="#f6e4c4"/><path d="M91.5 319.2l3.1 1 2.8-1.2-3.1-1z" color="#f3d4a9"/><path d="M94.6 320.2l3.1 1 2.8-1.2-3.1-1z" color="#f0c58f"/><path d="M97.7 321.2l3.1 1 2.8-1.2-3.1-1z" color="#efb67a"/><path d="M100.8 322.2l3.2 1 2.8-1.2-3.2-1z" color="#eea965"/><path d="M104 323.2l3.2 1 2.8-1.2-3.2-1z" color="#eda158"/><path d="M107.2 324.2l3.2 1.1 2.8-1.3-3.2-1z" color="#eb9b4e"/><path d="M110.4 325.3l3.3 1 2.8-1.2-3.3-1.1z" color="#e99545"/><path d="M113.7 326.3l3.3 1.1 2.8-1.3-3.3-1z" color="#e69143"/><path d="M117 327.4l3.3 1 2.8-1.2-3.3-1.1z" color="#e38f42"/><path d="M120.3 328.4l3.4 1.1 2.8-1.3-3.4-1z" color="#e08c40"/><path d="M123.7 329.5l3.4 1.1 2.7-1.3-3.3-1.1z" color="#dd8a3f"/><path d="M127.1 330.6l3.4 1.1 2.8-1.3-3.5-1.1z" color="#db883e"/><path d="M130.5 331.7l3.5 1.1 2.7-1.3-3.4-1.1z" color="#d8863e"/><path d="M134 332.8l3.5 1.1 2.7-1.3-3.5-1.1z" color="#d5843e"/><path d="M137.5 333.9l3.5 1.2 2.7-1.4-3.5-1.1z" color="#d2823d"/><path d="M141 335.1l3.6 1.1 2.7-1.3-3.6-1.2z" color="#d0813d"/><path d="M144.6 336.2l3.6 1.2 2.7-1.4-3.6-1.1z" color="#ce803d"/><path d="M148.2 337.4l3.7 1.2 2.7-1.4-3.7-1.2z" color="#cc7f3d"/><path d="M151.9 338.6l3.6 1.1 2.7-1.4-3.6-1.1z" color="#cb7f3d"/><path d="M155.5 339.7l3.8 1.2 2.7-1.4-3.8-1.2z" color="#cb7f3d"/><path d="M159.3 340.9l3.7 1.2 2.7-1.4-3.7-1.2z" color="#cb7f3d"/><path d="M163 342.1l3.8 1.3 2.7-1.5-3.8-1.2z" color="#cb7f3d"/><path d="M166.8 343.4l3.9 1.2 2.6-1.5-3.8-1.2z" color="#cc7f3d"/><path d="M85.3 315.2l3 .9 2.8-1.1-3-.9z" color="#f6f1da"/><path d="M88.3 316.1l3 1 2.8-1.2-3-.9z" color="#f6e4c3"/><path d="M91.3 317.1l3 .9 2.8-1.1-3-1z" color="#f3d4a8"/><path d="M94.3 318l3.1 1 2.8-1.1-3.1-1z" color="#f0c48e"/><path d="M97.4 319l3.1 1 2.8-1.2-3.1-.9z" color="#efb678"/><path d="M100.5 320l3.1 1 2.8-1.2-3.1-1z" color="#eea864"/><path d="M103.6 321l3.2 1 2.8-1.2-3.2-1z" color="#eda057"/><path d="M106.8 322l3.2 1 2.8-1.2-3.2-1z" color="#eb9a4d"/><path d="M110 323l3.2 1 2.8-1.2-3.2-1z" color="#e99444"/><path d="M113.2 324l3.3 1.1 2.7-1.2-3.2-1.1z" color="#e69143"/><path d="M116.5 325.1l3.3 1 2.7-1.2-3.3-1z" color="#e28e41"/><path d="M119.8 326.1l3.3 1.1 2.7-1.3-3.3-1z" color="#df8c40"/><path d="M123.1 327.2l3.4 1 2.7-1.2-3.4-1.1z" color="#dc893f"/><path d="M126.5 328.2l3.3 1.1 2.8-1.3-3.4-1z" color="#da873e"/><path d="M129.8 329.3l3.5 1.1 2.7-1.3-3.4-1.1z" color="#d6853e"/><path d="M133.3 330.4l3.4 1.1 2.7-1.3-3.4-1.1z" color="#d3833d"/><path d="M136.7 331.5l3.5 1.1 2.7-1.3-3.5-1.1z" color="#d0823d"/><path d="M140.2 332.6l3.5 1.1 2.7-1.3-3.5-1.1z" color="#ce803d"/><path d="M143.7 333.7l3.6 1.2 2.7-1.4-3.6-1.1z" color="#cc7f3d"/><path d="M147.3 334.9l3.6 1.1 2.7-1.3-3.6-1.2z" color="#cb7e3d"/><path d="M150.9 336l3.7 1.2 2.6-1.4-3.6-1.1z" color="#ca7e3d"/><path d="M154.6 337.2l3.6 1.1 2.7-1.3-3.7-1.2z" color="#c97d3d"/><path d="M158.2 338.3l3.8 1.2 2.6-1.4-3.7-1.1z" color="#c97d3d"/><path d="M162 339.5l3.7 1.2 2.6-1.4-3.7-1.2z" color="#c97e3d"/><path d="M165.7 340.7l3.8 1.2 2.6-1.4-3.8-1.2z" color="#ca7e3d"/><path d="M169.5 341.9l3.8 1.2 2.7-1.4-3.9-1.2z" color="#cb7f3d"/><path d="M88.1 314.1l3 .9 2.8-1.1-3-.9z" color="#f6e3c2"/><path d="M91.1 315l3 .9 2.8-1.1-3-.9z" color="#f3d3a6"/><path d="M94.1 315.9l3 1 2.8-1.1-3-1z" color="#f0c38c"/><path d="M97.1 316.9l3.1 1 2.8-1.2-3.1-.9z" color="#efb476"/><path d="M100.2 317.9l3.1 .9 2.7-1.1-3-1z" color="#eea761"/><path d="M103.3 318.8l3.1 1 2.8-1.1-3.2-1z" color="#ec9f56"/><path d="M106.4 319.8l3.2 1 2.7-1.2-3.1-.9z" color="#ea994c"/><path d="M109.6 320.8l3.2 1 2.7-1.2-3.2-1z" color="#e89344"/><path d="M112.8 321.8l3.2 1 2.7-1.2-3.2-1z" color="#e59042"/><path d="M116 322.8l3.2 1.1 2.8-1.3-3.3-1z" color="#e18d41"/><path d="M119.2 323.9l3.3 1 2.7-1.2-3.2-1.1z" color="#de8b40"/><path d="M122.5 324.9l3.3 1 2.7-1.2-3.3-1z" color="#dc883f"/><path d="M125.8 325.9l3.4 1.1 2.7-1.3-3.4-1z" color="#d8863e"/><path d="M129.2 327l3.4 1 2.7-1.2-3.4-1.1z" color="#d5843e"/><path d="M132.6 328l3.4 1.1 2.7-1.3-3.4-1z" color="#d1823d"/><path d="M136 329.1l3.4 1.1 2.7-1.3-3.4-1.1z" color="#cf813d"/><path d="M139.4 330.2l3.5 1.1 2.7-1.3-3.5-1.1z" color="#cc7f3d"/><path d="M142.9 331.3l3.5 1.1 2.7-1.3-3.5-1.1z" color="#ca7e3d"/><path d="M146.4 332.4l3.6 1.1 2.7-1.3-3.6-1.1z" color="#c97d3d"/><path d="M150 333.5l3.6 1.2 2.6-1.4-3.5-1.1z" color="#c77d3d"/><path d="M153.6 334.7l3.6 1.1 2.7-1.4-3.7-1.1z" color="#c77c3c"/><path d="M157.2 335.8l3.7 1.2 2.6-1.4-3.6-1.2z" color="#c77c3c"/><path d="M160.9 337l3.7 1.1 2.6-1.4-3.7-1.1z" color="#c77c3c"/><path d="M164.6 338.1l3.7 1.2 2.7-1.4-3.8-1.2z" color="#c77d3d"/><path d="M168.3 339.3l3.8 1.2 2.6-1.4-3.7-1.2z" color="#c97d3d"/><path d="M172.1 340.5l3.9 1.2 2.5-1.4-3.8-1.2z" color="#ca7e3d"/><path d="M90.9 313l3 .9 2.7-1.1-3-.9z" color="#f2d1a3"/><path d="M93.9 313.9l3 .9 2.7-1.1-3-.9z" color="#f0c18a"/><path d="M96.9 314.8l3 1 2.7-1.1-3-1z" color="#efb374"/><path d="M99.9 315.8l3.1 .9 2.7-1.1-3.1-.9z" color="#eea55f"/><path d="M103 316.7l3 1 2.8-1.1-3.1-1z" color="#ec9e54"/><path d="M106 317.7l3.2 1 2.7-1.2-3.1-.9z" color="#ea984a"/><path d="M109.2 318.7l3.1 .9 2.7-1.1-3.1-1z" color="#e89343"/><path d="M112.3 319.6l3.2 1 2.7-1.1-3.2-1z" color="#e49042"/><path d="M115.5 320.6l3.2 1 2.7-1.1-3.2-1z" color="#e18d41"/><path d="M118.7 321.6l3.3 1 2.7-1.1-3.3-1z" color="#dd8a3f"/><path d="M122 322.6l3.2 1.1 2.7-1.2-3.2-1z" color="#db883e"/><path d="M125.2 323.7l3.3 1 2.7-1.2-3.3-1z" color="#d7853e"/><path d="M128.5 324.7l3.4 1 2.7-1.2-3.4-1z" color="#d3833d"/><path d="M131.9 325.7l3.4 1.1 2.6-1.3-3.3-1z" color="#cf813d"/><path d="M135.3 326.8l3.4 1 2.6-1.2-3.4-1.1z" color="#cc7f3d"/><path d="M138.7 327.8l3.4 1.1 2.7-1.2-3.5-1.1z" color="#ca7e3d"/><path d="M142.1 328.9l3.5 1.1 2.6-1.3-3.4-1z" color="#c87d3d"/><path d="M145.6 330l3.5 1.1 2.6-1.3-3.5-1.1z" color="#c67c3c"/><path d="M149.1 331.1l3.6 1.1 2.6-1.3-3.6-1.1z" color="#c57b3c"/><path d="M152.7 332.2l3.5 1.1 2.7-1.3-3.6-1.1z" color="#c47b3c"/><path d="M156.2 333.3l3.7 1.1 2.6-1.3-3.6-1.1z" color="#c47b3c"/><path d="M159.9 334.4l3.6 1.2 2.6-1.4-3.6-1.1z" color="#c47b3c"/><path d="M163.5 335.6l3.7 1.1 2.6-1.3-3.7-1.2z" color="#c57b3c"/><path d="M167.2 336.7l3.8 1.2 2.5-1.4-3.7-1.1z" color="#c67c3c"/><path d="M171 337.9l3.7 1.2 2.6-1.4-3.8-1.2z" color="#c77d3d"/><path d="M174.7 339.1l3.8 1.2 2.6-1.4-3.8-1.2z" color="#c97e3d"/><path d="M93.6 311.9l3 .9 2.7-1.1-3-.9z" color="#f0bf87"/><path d="M96.6 312.8l3 .9 2.7-1.1-3-.9z" color="#efb070"/><path d="M99.6 313.7l3 1 2.7-1.1-3-1z" color="#eea45d"/><path d="M102.6 314.7l3.1 .9 2.7-1.1-3.1-.9z" color="#ec9d52"/><path d="M105.7 315.6l3.1 1 2.7-1.2-3.1-.9z" color="#ea9648"/><path d="M108.8 316.6l3.1 .9 2.7-1.1-3.1-1z" color="#e79243"/><path d="M111.9 317.5l3.1 1 2.7-1.2-3.1-.9z" color="#e38f42"/><path d="M115 318.5l3.2 1 2.7-1.2-3.2-1z" color="#e08c40"/><path d="M118.2 319.5l3.2 1 2.7-1.2-3.2-1z" color="#dc893f"/><path d="M121.4 320.5l3.3 1 2.6-1.2-3.2-1z" color="#d9863e"/><path d="M124.7 321.5l3.2 1 2.7-1.2-3.3-1z" color="#d5843e"/><path d="M127.9 322.5l3.3 1 2.7-1.2-3.3-1z" color="#d1823d"/><path d="M131.2 323.5l3.4 1 2.6-1.2-3.3-1z" color="#cd803d"/><path d="M134.6 324.5l3.3 1 2.7-1.2-3.4-1z" color="#ca7e3d"/><path d="M137.9 325.5l3.4 1.1 2.7-1.2-3.4-1.1z" color="#c87d3d"/><path d="M141.3 326.6l3.5 1.1 2.6-1.3-3.4-1z" color="#c57b3c"/><path d="M144.8 327.7l3.4 1 2.6-1.2-3.4-1.1z" color="#c47b3c"/><path d="M148.2 328.7l3.5 1.1 2.6-1.3-3.5-1z" color="#c27a3c"/><path d="M151.7 329.8l3.6 1.1 2.6-1.3-3.6-1.1z" color="#c2793c"/><path d="M155.3 330.9l3.6 1.1 2.5-1.3-3.5-1.1z" color="#c1793c"/><path d="M158.9 332l3.6 1.1 2.5-1.3-3.6-1.1z" color="#c1793c"/><path d="M162.5 333.1l3.6 1.1 2.6-1.3-3.7-1.1z" color="#c2793c"/><path d="M166.1 334.2l3.7 1.2 2.6-1.4-3.7-1.1z" color="#c37a3c"/><path d="M169.8 335.4l3.7 1.1 2.6-1.3-3.7-1.2z" color="#c47b3c"/><path d="M173.5 336.5l3.8 1.2 2.5-1.4-3.7-1.1z" color="#c67c3c"/><path d="M177.3 337.7l3.8 1.2 2.5-1.4-3.8-1.2z" color="#c87d3d"/><path d="M96.3 310.8l3 .9 2.7-1-3-.9z" color="#efae6c"/><path d="M99.3 311.7l3 .9 2.7-1-3-.9z" color="#eda25b"/><path d="M102.3 312.6l3 1 2.7-1.1-3-.9z" color="#eb9b50"/><path d="M105.3 313.6l3.1 .9 2.6-1.1-3-.9z" color="#e99545"/><path d="M108.4 314.5l3.1 .9 2.6-1.1-3.1-.9z" color="#e69143"/><path d="M111.5 315.4l3.1 1 2.6-1.1-3.1-1z" color="#e28e41"/><path d="M114.6 316.4l3.1 .9 2.6-1.1-3.1-.9z" color="#de8b40"/><path d="M117.7 317.3l3.2 1 2.6-1.1-3.2-1z" color="#db883e"/><path d="M120.9 318.3l3.2 1 2.6-1.2-3.2-.9z" color="#d7853e"/><path d="M124.1 319.3l3.2 1 2.6-1.2-3.2-1z" color="#d2833d"/><path d="M127.3 320.3l3.3 1 2.6-1.2-3.3-1z" color="#ce803d"/><path d="M130.6 321.3l3.3 1 2.6-1.2-3.3-1z" color="#cb7e3d"/><path d="M133.9 322.3l3.3 1 2.6-1.2-3.3-1z" color="#c87d3d"/><path d="M137.2 323.3l3.4 1 2.6-1.2-3.4-1z" color="#c57b3c"/><path d="M140.6 324.3l3.4 1.1 2.5-1.3-3.3-1z" color="#c37a3c"/><path d="M144 325.4l3.4 1 2.6-1.2-3.5-1.1z" color="#c1793c"/><path d="M147.4 326.4l3.4 1.1 2.6-1.3-3.4-1z" color="#c0783c"/><path d="M150.8 327.5l3.5 1 2.6-1.2-3.5-1.1z" color="#bf783c"/><path d="M154.3 328.5l3.6 1.1 2.5-1.3-3.5-1z" color="#bf783b"/><path d="M157.9 329.6l3.5 1.1 2.6-1.3-3.6-1.1z" color="#bf783b"/><path d="M161.4 330.7l3.6 1.1 2.6-1.3-3.6-1.1z" color="#bf783c"/><path d="M165 331.8l3.7 1.1 2.5-1.3-3.6-1.1z" color="#c0783c"/><path d="M168.7 332.9l3.7 1.1 2.5-1.3-3.7-1.1z" color="#c1793c"/><path d="M172.4 334l3.7 1.2 2.5-1.4-3.7-1.1z" color="#c27a3c"/><path d="M176.1 335.2l3.7 1.1 2.5-1.3-3.7-1.2z" color="#c57b3c"/><path d="M179.8 336.3l3.8 1.2 2.5-1.4-3.8-1.1z" color="#c77d3d"/><path d="M99 309.8l3 .9 2.6-1.1-3-.9z" color="#eda058"/><path d="M102 310.7l3 .9 2.6-1.1-3-.9z" color="#eb9a4d"/><path d="M105 311.6l3 .9 2.6-1.1-3-.9z" color="#e89344"/><path d="M108 312.5l3 .9 2.7-1.1-3.1-.9z" color="#e49042"/><path d="M111 313.4l3.1 .9 2.6-1.1-3-.9z" color="#e08d41"/><path d="M114.1 314.3l3.1 1 2.6-1.1-3.1-1z" color="#dd8a3f"/><path d="M117.2 315.3l3.1 .9 2.7-1.1-3.2-.9z" color="#d9873e"/><path d="M120.3 316.2l3.2 1 2.6-1.2-3.1-.9z" color="#d4843e"/><path d="M123.5 317.2l3.2 .9 2.6-1.1-3.2-1z" color="#d0813d"/><path d="M126.7 318.1l3.2 1 2.6-1.1-3.2-1z" color="#cc7f3d"/><path d="M129.9 319.1l3.3 1 2.6-1.2-3.3-.9z" color="#c87d3d"/><path d="M133.2 320.1l3.3 1 2.6-1.2-3.3-1z" color="#c57b3c"/><path d="M136.5 321.1l3.3 1 2.6-1.2-3.3-1z" color="#c27a3c"/><path d="M139.8 322.1l3.4 1 2.5-1.2-3.3-1z" color="#c0793c"/><path d="M143.2 323.1l3.3 1 2.6-1.2-3.4-1z" color="#bf783b"/><path d="M146.5 324.1l3.5 1.1 2.5-1.3-3.4-1z" color="#be773b"/><path d="M150 325.2l3.4 1 2.6-1.2-3.5-1.1z" color="#bd773b"/><path d="M153.4 326.2l3.5 1.1 2.5-1.3-3.4-1z" color="#bd773b"/><path d="M156.9 327.3l3.5 1 2.6-1.2-3.6-1.1z" color="#bc773b"/><path d="M160.4 328.3l3.6 1.1 2.5-1.3-3.5-1z" color="#bd773b"/><path d="M164 329.4l3.6 1.1 2.5-1.3-3.6-1.1z" color="#bd773b"/><path d="M167.6 330.5l3.6 1.1 2.5-1.3-3.6-1.1z" color="#be783b"/><path d="M171.2 331.6l3.7 1.1 2.5-1.3-3.7-1.1z" color="#bf783c"/><path d="M174.9 332.7l3.7 1.1 2.5-1.3-3.7-1.1z" color="#c1793c"/><path d="M178.6 333.8l3.7 1.2 2.5-1.4-3.7-1.1z" color="#c37a3c"/><path d="M182.3 335l3.8 1.1 2.5-1.4-3.8-1.1z" color="#c67c3c"/><path d="M101.6 308.7l3 .9 2.6-1.1-2.9-.8z" color="#ea984a"/><path d="M104.6 309.6l3 .9 2.6-1.1-3-.9z" color="#e79243"/><path d="M107.6 310.5l3 .9 2.6-1.1-3-.9z" color="#e38f42"/><path d="M110.6 311.4l3.1 .9 2.6-1.1-3.1-.9z" color="#df8b40"/><path d="M113.7 312.3l3 .9 2.6-1.1-3-.9z" color="#db883f"/><path d="M116.7 313.2l3.1 1 2.6-1.1-3.1-1z" color="#d7853e"/><path d="M119.8 314.2l3.2 .9 2.5-1.1-3.1-.9z" color="#d2823d"/><path d="M123 315.1l3.1 .9 2.6-1.1-3.2-.9z" color="#cd803d"/><path d="M126.1 316l3.2 1 2.6-1.1-3.2-1z" color="#c97d3d"/><path d="M129.3 317l3.2 1 2.6-1.2-3.2-.9z" color="#c57b3c"/><path d="M132.5 318l3.3 .9 2.5-1.1-3.2-1z" color="#c2793c"/><path d="M135.8 318.9l3.3 1 2.5-1.1-3.3-1z" color="#bf783c"/><path d="M139.1 319.9l3.3 1 2.5-1.2-3.3-.9z" color="#be773b"/><path d="M142.4 320.9l3.3 1 2.6-1.2-3.4-1z" color="#bc773b"/><path d="M145.7 321.9l3.4 1 2.5-1.2-3.3-1z" color="#bb763a"/><path d="M149.1 322.9l3.4 1 2.5-1.2-3.4-1z" color="#ba763a"/><path d="M152.5 323.9l3.5 1.1 2.5-1.2-3.5-1.1z" color="#ba753a"/><path d="M156 325l3.4 1 2.5-1.2-3.4-1z" color="#ba753a"/><path d="M159.4 326l3.6 1.1 2.4-1.3-3.5-1z" color="#ba753a"/><path d="M163 327.1l3.5 1 2.5-1.2-3.6-1.1z" color="#ba763a"/><path d="M166.5 328.1l3.6 1.1 2.5-1.3-3.6-1z" color="#bb763a"/><path d="M170.1 329.2l3.6 1.1 2.5-1.3-3.6-1.1z" color="#bc773b"/><path d="M173.7 330.3l3.7 1.1 2.4-1.3-3.6-1.1z" color="#be773b"/><path d="M177.4 331.4l3.7 1.1 2.4-1.3-3.7-1.1z" color="#c0783c"/><path d="M181.1 332.5l3.7 1.1 2.4-1.3-3.7-1.1z" color="#c27a3c"/><path d="M184.8 333.6l3.8 1.1 2.4-1.3-3.8-1.1z" color="#c57b3c"/><path d="M104.3 307.7l2.9 .8 2.6-1-2.9-.9z" color="#e59143"/><path d="M107.2 308.5l3 .9 2.6-1-3-.9z" color="#e18d41"/><path d="M110.2 309.4l3 .9 2.6-1-3-.9z" color="#dd8a3f"/><path d="M113.2 310.3l3.1 .9 2.5-1-3-.9z" color="#d9873e"/><path d="M116.3 311.2l3 .9 2.6-1-3.1-.9z" color="#d4843e"/><path d="M119.3 312.1l3.1 1 2.6-1.1-3.1-.9z" color="#cf813d"/><path d="M122.4 313.1l3.1 .9 2.6-1.1-3.1-.9z" color="#ca7e3d"/><path d="M125.5 314l3.2 .9 2.6-1.1-3.2-.9z" color="#c67c3c"/><path d="M128.7 314.9l3.2 1 2.5-1.1-3.1-1z" color="#c2793c"/><path d="M131.9 315.9l3.2 .9 2.5-1.1-3.2-.9z" color="#bf783b"/><path d="M135.1 316.8l3.2 1 2.6-1.2-3.3-.9z" color="#bd773b"/><path d="M138.3 317.8l3.3 1 2.5-1.2-3.2-1z" color="#bb763a"/><path d="M141.6 318.8l3.3 .9 2.5-1.1-3.3-1z" color="#ba753a"/><path d="M144.9 319.7l3.4 1 2.5-1.1-3.4-1z" color="#b9753a"/><path d="M148.3 320.7l3.3 1 2.5-1.2-3.3-.9z" color="#b87439"/><path d="M151.6 321.7l3.4 1 2.5-1.2-3.4-1z" color="#b77439"/><path d="M155 322.7l3.5 1.1 2.5-1.2-3.5-1.1z" color="#b77439"/><path d="M158.5 323.8l3.4 1 2.5-1.2-3.4-1z" color="#b77439"/><path d="M161.9 324.8l3.5 1 2.5-1.2-3.5-1z" color="#b87439"/><path d="M165.4 325.8l3.6 1.1 2.4-1.3-3.5-1z" color="#b8753a"/><path d="M169 326.9l3.6 1 2.4-1.2-3.6-1.1z" color="#b9753a"/><path d="M172.6 327.9l3.6 1.1 2.4-1.3-3.6-1z" color="#bb763a"/><path d="M176.2 329l3.6 1.1 2.5-1.3-3.7-1.1z" color="#bc773b"/><path d="M179.8 330.1l3.7 1.1 2.4-1.3-3.6-1.1z" color="#bf783b"/><path d="M183.5 331.2l3.7 1.1 2.4-1.3-3.7-1.1z" color="#c1793c"/><path d="M187.2 332.3l3.8 1.1 2.4-1.3-3.8-1.1z" color="#c57b3c"/><path d="M106.9 306.6l2.9 .9 2.6-1-3-.9z" color="#df8c40"/><path d="M109.8 307.5l3 .9 2.5-1-2.9-.9z" color="#dc883f"/><path d="M112.8 308.4l3 .9 2.5-1.1-3-.8z" color="#d6853e"/><path d="M115.8 309.3l3 .9 2.6-1.1-3.1-.9z" color="#d1823d"/><path d="M118.8 310.2l3.1 .9 2.5-1.1-3-.9z" color="#cb7f3d"/><path d="M121.9 311.1l3.1 .9 2.5-1.1-3.1-.9z" color="#c77c3c"/><path d="M125 312l3.1 .9 2.5-1.1-3.1-.9z" color="#c27a3c"/><path d="M128.1 312.9l3.2 .9 2.5-1.1-3.2-.9z" color="#bf783b"/><path d="M131.3 313.8l3.1 1 2.5-1.1-3.1-1z" color="#bd773b"/><path d="M134.4 314.8l3.2 .9 2.5-1.1-3.2-.9z" color="#ba763a"/><path d="M137.6 315.7l3.3 .9 2.5-1.1-3.3-.9z" color="#b8753a"/><path d="M140.9 316.6l3.2 1 2.5-1.1-3.2-1z" color="#b77439"/><path d="M144.1 317.6l3.3 1 2.5-1.2-3.3-.9z" color="#b67339"/><path d="M147.4 318.6l3.4 1 2.4-1.2-3.3-1z" color="#b57339"/><path d="M150.8 319.6l3.3 .9 2.5-1.1-3.4-1z" color="#b47338"/><path d="M154.1 320.5l3.4 1 2.5-1.1-3.4-1z" color="#b47238"/><path d="M157.5 321.5l3.5 1.1 2.4-1.2-3.4-1z" color="#b47238"/><path d="M161 322.6l3.4 1 2.5-1.2-3.5-1z" color="#b47338"/><path d="M164.4 323.6l3.5 1 2.5-1.2-3.5-1z" color="#b57339"/><path d="M167.9 324.6l3.5 1 2.5-1.2-3.5-1z" color="#b67439"/><path d="M171.4 325.6l3.6 1.1 2.4-1.3-3.5-1z" color="#b77439"/><path d="M175 326.7l3.6 1 2.4-1.2-3.6-1.1z" color="#b9753a"/><path d="M178.6 327.7l3.7 1.1 2.3-1.2-3.6-1.1z" color="#bb763a"/><path d="M182.3 328.8l3.6 1.1 2.4-1.3-3.7-1z" color="#bd773b"/><path d="M185.9 329.9l3.7 1.1 2.4-1.3-3.7-1.1z" color="#c0783c"/><path d="M189.6 331l3.8 1.1 2.4-1.3-3.8-1.1z" color="#c47a3c"/><path d="M109.4 305.6l3 .9 2.5-1-2.9-.9z" color="#d9873e"/><path d="M112.4 306.5l2.9 .9 2.6-1.1-3-.8z" color="#d3833d"/><path d="M115.3 307.4l3 .8 2.6-1-3-.9z" color="#cd803d"/><path d="M118.3 308.2l3.1 .9 2.5-1-3-.9z" color="#c87d3d"/><path d="M121.4 309.1l3 .9 2.5-1-3-.9z" color="#c37a3c"/><path d="M124.4 310l3.1 .9 2.5-1.1-3.1-.8z" color="#bf783c"/><path d="M127.5 310.9l3.1 .9 2.5-1.1-3.1-.9z" color="#bc773b"/><path d="M130.6 311.8l3.2 .9 2.5-1.1-3.2-.9z" color="#ba753a"/><path d="M133.8 312.7l3.1 1 2.5-1.1-3.1-1z" color="#b87439"/><path d="M136.9 313.7l3.2 .9 2.5-1.1-3.2-.9z" color="#b67339"/><path d="M140.1 314.6l3.3 .9 2.4-1.1-3.2-.9z" color="#b47238"/><path d="M143.4 315.5l3.2 1 2.5-1.1-3.3-1z" color="#b37238"/><path d="M146.6 316.5l3.3 .9 2.5-1.1-3.3-.9z" color="#b27138"/><path d="M149.9 317.4l3.3 1 2.5-1.1-3.3-1z" color="#b17138"/><path d="M153.2 318.4l3.4 1 2.4-1.2-3.3-.9z" color="#b17137"/><path d="M156.6 319.4l3.4 1 2.4-1.2-3.4-1z" color="#b17137"/><path d="M160 320.4l3.4 1 2.4-1.2-3.4-1z" color="#b17138"/><path d="M163.4 321.4l3.5 1 2.4-1.2-3.5-1z" color="#b27138"/><path d="M166.9 322.4l3.5 1 2.4-1.2-3.5-1z" color="#b37238"/><path d="M170.4 323.4l3.5 1 2.4-1.2-3.5-1z" color="#b47238"/><path d="M173.9 324.4l3.5 1 2.4-1.2-3.5-1z" color="#b57339"/><path d="M177.4 325.4l3.6 1.1 2.4-1.2-3.6-1.1z" color="#b77439"/><path d="M181 326.5l3.6 1.1 2.4-1.3-3.6-1z" color="#ba753a"/><path d="M184.6 327.6l3.7 1 2.4-1.2-3.7-1.1z" color="#bc773b"/><path d="M188.3 328.6l3.7 1.1 2.4-1.3-3.7-1z" color="#bf783b"/><path d="M192 329.7l3.8 1.1 2.3-1.3-3.7-1.1z" color="#c37a3c"/></g><path d="M41.9 337l.8-1.2M42.7 335.8l.5-.8M41.8 337.1l.1 0M41.9 337.1l0-.1M49 339l.6-.9M49.6 338.1l.3-.6M48.6 339.7l.1-.3M48.7 339.4l.3-.4M57.1 340.7l.1-.2M57.2 340.5l.1-.2M56 342.5l.5-.7M56.5 341.8l.6-1.1M64.4 345.5l.8-1.3M65.2 344.2l.4-.8M64.2 345.6l.1 0M64.3 345.6l.1-.1M73.7 349.2l.8-1.2M74.5 348l.5-1.1M84.7 353.3l1-1.4M85.7 351.9l.4-.8M84.7 353.4l0 0M84.7 353.4l0-.1M98.3 358.5l.9-1.2M99.2 357.3l.6-1.1M117 365.6l1-1.1M118 364.5l.8-1.2M44 333.8l.3-.5M44.3 333.3l.2-.4M43.2 335l.3-.5M43.5 334.5l.5-.7M51 335.8l.1-.3M51.1 335.5l.1-.1M49.9 337.5l.5-.7M50.4 336.8l.6-1M57.3 340.3l.8-1.2M58.1 339.1l.5-1M66.5 341.9l.2-.5M66.7 341.4l.1-.2M65.6 343.4l.4-.6M66 342.8l.5-.9M75.5 346l.5-.8M76 345.2l.3-.5M75 346.9l.2-.3M75.2 346.6l.3-.6M87.1 349.3l.2-.4M87.3 348.9l0-.2M86.1 351.1l.4-.7M86.5 350.4l.6-1.1M100.5 355l.5-.8M101 354.2l.1-.4M99.8 356.2l.3-.4M100.1 355.8l.4-.8M119.9 361.6l.4-.4M120.3 361.2l.1-.2M118.8 363.3l.4-.5M119.2 362.8l.7-1.2M44.5 332.9l.6-.9M45.1 332l.6-1.2M51.2 335.4l.7-1.1M51.9 334.3l.5-1M59 337.4l.5-.9M59.5 336.5l.3-.5M58.6 338.1l.2-.3M58.8 337.8l.2-.4M66.8 341.2l.6-1.1M67.4 340.1l.6-1.1M77.4 342.4l0 0M77.4 342.4l0 0M76.3 344.7l.5-.9M76.8 343.8l.6-1.4M87.3 348.7l.7-1.2M88 347.5l.5-1M101.1 353.8l.7-1.1M101.8 352.7l.5-1.2M120.4 361l1.1-1.4M121.5 359.6l.4-.9M45.7 330.8l0 0M45.7 330.8l.1 0M52.7 332.7l.5-.9M53.2 331.8l.3-.6M52.4 333.3l.2-.3M52.6 333l.1-.3M60.6 334.2l.2-.2M60.8 334l0-.2M59.8 336l.4-.8M60.2 335.2l.4-1M68.2 338.5l.5-1M68.7 337.5l.3-.7M68 339l.1-.2M68.1 338.8l.1-.3M77.4 342.4l.7-1.3M78.1 341.1l.3-.9M88.9 345.5l.4-.8M89.3 344.7l.2-.5M88.5 346.5l.2-.4M88.7 346.1l.2-.6M102.6 350.9l.5-1.1M103.1 349.8l.3-.6M102.3 351.5l.2-.2M102.5 351.3l.1-.4M122.9 356.7l.2-.3M123.1 356.4l0-.1M121.9 358.7l.5-.7M122.4 358l.5-1.3M54.3 329.7l.1-.3M54.4 329.4l.2-.3M53.5 331.2l.4-.6M53.9 330.6l.4-.9M60.8 333.8l.6-1.1M61.4 332.7l.4-1M69.7 335.4l.2-.5M69.9 334.9l.1-.3M69 336.8l.3-.6M69.3 336.2l.4-.8M78.8 339.1l.4-.7M79.2 338.4l.1-.5M78.4 340.2l.2-.5M78.6 339.7l.2-.6M90.3 342.1l0-.1M90.3 342l.1-.1M89.5 344.2l.4-.9M89.9 343.3l.4-1.2M104.1 347.1l.1-.2M104.2 346.9l0-.1M103.4 349.2l.3-.8M103.7 348.4l.4-1.3M123.1 356.3l.8-1.4M123.9 354.9l.3-1M54.6 329.1l.4-.9M55 328.2l.5-1.2M62 331.2l.5-.9M62.5 330.3l.3-.7M61.8 331.7l.1-.2M61.9 331.5l.1-.3M70 334.6l.4-.9M70.4 333.7l.5-1.2M80 336l.1-.2M80.1 335.8l0-.1M79.3 337.9l.4-.8M79.7 337.1l.3-1.1M90.4 341.9l.5-1.3M90.9 340.6l.2-1M104.2 346.8l.5-1.3M104.7 345.5l.3-1M124.6 352.5l.3-.6M124.9 351.9l.1-.4M124.2 353.9l.2-.5M124.4 353.4l.2-.9M55.5 327l0 0M55.5 327l.1-.1M63.2 328.4l.2-.5M63.4 327.9l.2-.4M62.8 329.6l.2-.5M63 329.1l.2-.7M70.9 332.4l.5-1.2M71.4 331.2l.2-.9M70.9 332.5l0-.1M70.9 332.4l0 0M80.1 335.7l.5-1.1M80.6 334.6l.2-1.1M91.3 338.9l.3-.9M91.6 338l.2-.7M91.1 339.6l.1-.3M91.2 339.3l.1-.4M105.1 343.7l.3-.9M105.4 342.8l.1-.7M105 344.5l.1-.3M105.1 344.2l0-.5M125 351.5l.3-1.1M125.3 350.4l.2-1.3M64.2 325.7l.1-.1M64.3 325.6l0-.2M63.6 327.5l.3-.8M63.9 326.7l.3-1M71.9 329.6l.3-.8M72.2 328.8l.1-.6M71.6 330.3l.2-.3M71.8 330l.1-.4M81 333.1l.3-1M81.3 332.1l.2-.7M80.8 333.5l.1-.2M80.9 333.3l.1-.2M92.1 335.9l.1-.5M92.2 335.4l.1-.3M91.8 337.3l.2-.6M92 336.7l.1-.8M105.8 340.5l.1-.4M105.9 340.1l.1-.3M105.5 342.1l.2-.7M105.7 341.4l.1-.9M125.5 348.8l.3-1.2M125.8 347.6l0-.9M125.5 349.1l0-.1M125.5 349l0-.2M64.3 325.4l.4-1M64.7 324.4l.3-1M72.7 326.9l.1-.5M72.8 326.4l.1-.3M72.3 328.2l.2-.6M72.5 327.6l.2-.7M81.7 330.3l.2-.6M81.9 329.7l.1-.5M81.5 331.4l.1-.5M81.6 330.9l.1-.6M92.7 333.1l0-.2M92.7 332.9l0-.1M92.3 335.1l.2-.9M92.5 334.2l.2-1.1M106.2 337.6l0-.1M106.2 337.5l0 0M106 339.8l.1-1M106.1 338.8l.1-1.2M125.9 345.6l.1-.8M126 344.8l-.1-.6M125.8 346.7l.1-.5M125.9 346.2l0-.6M65 323.4l0-.1M65 323.3l0-.1M73.3 324.3l.1-.1M73.4 324.2l0-.2M72.9 326.1l.2-.8M73.1 325.3l.2-1M82.3 327.6l0-.3M82.3 327.3l.1-.3M82 329.2l.1-.7M82.1 328.5l.2-.9M92.7 332.8l.2-1.1M92.9 331.7l.1-1.1M106.2 337.5l.2-1.3M106.4 336.2l0-1.1M125.8 342.5l0-.4M125.8 342.1l0-.4M125.9 344.2l.1-.8M126 343.4l-.2-.9M73.4 324l.2-1M73.6 323l.2-1.1M82.7 325.1l0-.1M82.7 325l0-.1M82.4 327l.2-.9M82.6 326.1l.1-1M93 330.4l.2-1.1M93.2 329.3l0-.9M93 330.6l0-.1M93 330.5l0-.1M106.4 334.8l0-1.1M106.4 333.7l0-.9M106.4 335.1l0-.1M106.4 335l0-.2M125.5 339.8l0-.4M125.5 339.4l-.1-.2M125.8 341.7l-.1-.9M125.7 340.8l-.2-1M73.8 321.9l.3-1.1M74.1 320.8l.1-.9M73.8 321.9l0 0M73.8 321.9l0 0M82.7 324.9l.2-1M82.9 323.9l0-1.1M93.2 327.8l.1-.8M93.3 327l0-.8M93.2 328.4l0-.3M93.2 328.1l0-.3M106.3 332.2l0-.9M106.3 331.3l-.1-.8M106.4 332.8l0-.3M106.4 332.5l-.1-.3M124.9 337.1l0-.2M124.9 336.9l-.1-.3M125.4 339.2l-.1-1M125.3 338.2l-.4-1.1M74.2 319.9l0-.2M74.2 319.7l0-.2M82.9 322.7l.2-1.1M83.1 321.6l0-.9M82.9 322.8l0-.1M82.9 322.7l0 0M93.3 325.4l0-.7M93.3 324.7l0-.7M93.3 326.2l0-.4M93.3 325.8l0-.4M106.1 329.7l0-.8M106.1 328.9l-.1-.7M106.2 330.5l0-.4M106.2 330.1l-.1-.4M124.3 334.7l-.1-.3M124.2 334.4l-.1-.3M124.8 336.6l-.2-1M124.6 335.6l-.3-.9M83.1 320.4l.1-1M83.2 319.4l-.1-.8M83.1 320.7l0-.2M83.1 320.5l0-.1M93.2 323.1l0-.7M93.2 322.4l0-.6M93.3 324l0-.5M93.3 323.5l-.1-.4M105.8 327.3l0-.7M105.8 326.6l-.2-.7M106 328.2l-.1-.5M105.9 327.7l-.1-.4M123.4 332.3l0-.4M123.4 331.9l-.2-.3M124.1 334.1l-.3-1M123.8 333.1l-.4-.8M83.1 318.2l.1-.9M83.2 317.3l-.1-.8M83.1 318.6l0-.2M83.1 318.4l0-.2M93.1 320.8l-.1-.6M93 320.2l0-.5M93.2 321.8l-.1-.5M93.1 321.3l0-.5M105.4 325l-.1-.7M105.3 324.3l-.2-.7M105.6 325.9l0-.5M105.6 325.4l-.2-.4M122.5 330l-.1-.4M122.4 329.6l-.3-.6M123.2 331.6l-.3-.9M122.9 330.7l-.4-.7M83.1 316.5l0-.2M83.1 316.3l0-.3M92.8 318.7l0-.6M92.8 318.1l-.1-.6M93 319.7l-.1-.5M92.9 319.2l-.1-.5M104.9 322.8l-.1-.7M104.8 322.1l-.2-.8M105.1 323.6l0-.4M105.1 323.2l-.2-.4M121.6 327.9l-.2-.7M121.4 327.2l-.4-.7M122.1 329l-.2-.6M121.9 328.4l-.3-.5M92.5 316.6l0-.6M92.5 316l-.2-.6M92.7 317.5l-.1-.5M92.6 317l-.1-.4M104.4 320.7l-.2-.8M104.2 319.9l-.3-.9M104.6 321.3l-.1-.3M104.5 321l-.1-.3M120.6 325.8l-.4-.8M120.2 325l-.5-1M121 326.5l-.2-.4M120.8 326.1l-.2-.3M92.1 314.6l0-.7M92.1 313.9l-.2-.6M92.3 315.4l0-.4M92.3 315l-.2-.4M103.8 318.6l-.3-.8M103.5 317.8l-.4-1M103.9 319l-.1-.2M103.8 318.8l0-.2M118.4 321.8l0-.2M118.4 321.6l-.1-.1M119.5 323.7l-.5-1M119 322.7l-.6-.9M119.7 324l-.1-.2M119.6 323.8l-.1-.1M151.9 332.6l-.5-.4M151.4 332.2l-1.7-.9M154.8 334.1l-1.1-.7M153.7 333.4l-1.8-.8M157.9 335.4l-1.8-.8M156.1 334.6l-1.3-.5M161.5 336.6l-2.5-.9M159 335.7l-1.1-.3M165.7 337.5l-2.8-.6M162.9 336.9l-1.4-.3M170.9 337.9l0 0M170.9 337.9l-5.2-.4M171 337.9l-.1 0M91.9 313.3l-.1-.4M91.8 312.9l-.1-.3M102.4 314.8l0-.1M102.4 314.7l-.1-.1M103.1 316.7l-.3-1M102.8 315.7l-.4-.9M103.1 316.8l0-.1M103.1 316.7l0 0M117.3 319.9l-.2-.4M117.1 319.5l-.2-.4M118.3 321.5l-.5-.9M117.8 320.6l-.5-.7M144.4 327.8l-.1-.1M144.3 327.7l-.5-.3M146.8 329.4l-.8-.6M146 328.8l-1.6-1M149.2 331l-1.5-1.1M147.7 329.9l-.9-.5M149.7 331.3l-.3-.2M149.4 331.1l-.2-.1M171 337.9l0 0M171 337.9l5.5-.4M101.6 312.9l0-.2M101.6 312.7l-.2-.3M102.3 314.6l-.3-.9M102 313.7l-.4-.8M116.2 318l-.3-.6M115.9 317.4l-.5-.8M116.9 319.1l-.4-.7M116.5 318.4l-.3-.4M140.1 324.6l-.3-.3M139.8 324.3l-.5-.4M142.2 326.2l-.9-.8M141.3 325.4l-1.2-.8M143.8 327.4l-1-.8M142.8 326.6l-.6-.4M176.5 337.5l1.6-.3M180.9 336.6l-2.8 .6M100.9 311.1l-.2-.4M100.7 310.7l-.2-.5M101.4 312.4l-.2-.7M101.2 311.7l-.3-.6M113.9 314.4l0-.1M113.9 314.3l-.1-.1M115.1 316.2l-.5-.9M114.6 315.3l-.7-.9M115.4 316.6l-.2-.2M115.2 316.4l-.1-.2M136 321.3l-.2-.2M135.8 321.1l-.4-.3M138 322.9l-.8-.7M137.2 322.2l-1.2-.9M139.3 323.9l-.8-.6M138.5 323.3l-.5-.4M180.9 336.6l1.4-.4M182.3 336.2l2.4-.5M100.5 310.2l-.2-.5M100.3 309.7l-.2-.4M112.8 312.7l-.2-.4M112.6 312.3l-.4-.4M113.8 314.2l-.5-.9M113.3 313.3l-.5-.6M132.3 318.1l-.1-.1M132.2 318l-.3-.2M134.1 319.7l-.7-.7M133.4 319l-1.1-.9M135.4 320.8l-.8-.7M134.6 320.1l-.5-.4M184.7 335.7l2.7-.9M187.4 334.8l.7-.2M111.6 311l-.4-.6M111.2 310.4l-.6-.8M112.2 311.9l-.3-.5M111.9 311.4l-.3-.4M130.5 316.5l-.6-.6M129.9 315.9l-1.2-1M131.9 317.8l-.9-.9M131 316.9l-.5-.4M188.1 334.6l1.8-.6M109.3 307.7l-.1-.2M109.2 307.5l-.2-.2M110.5 309.3l-.6-.8M109.9 308.5l-.6-.8M110.6 309.6l-.1-.2M110.5 309.4l0-.1M127 313.4l-.4-.5M126.6 312.9l-.9-.7M128.7 314.9l-1-1M127.7 313.9l-.7-.5M128.7 314.9l0 0M128.7 314.9l0 0M109 307.3l-.4-.7M108.6 306.6l-.4-.5M123.7 310.3l-.3-.3M123.4 310l-.5-.4M125.3 311.8l-.8-.8M124.5 311l-.8-.7M125.7 312.2l-.2-.2M125.5 312l-.2-.2M120.5 307.3l-.1-.1M120.4 307.2l-.2-.2M122.1 308.8l-.7-.7M121.4 308.1l-.9-.8M122.9 309.6l-.5-.5M122.4 309.1l-.3-.3" class="cl"/><path d="M35.6 334.8L112 304.6L198.1 329.5" class="fb"/><path d="M35.6 334.8L126.2 369.1L198.1 329.5" class="fe"/><g class="s"><path d="M110 233.3l2.4-.8 2-2.1-2.4 .7z" color="#cd6b26"/><path d="M108 235.5l2.3-.8 2.1-2.2-2.4 .8z" color="#d37027"/><path d="M112.4 232.5l2.3-.6 2-2.2-2.3 .7z" color="#c76925"/><path d="M105.9 237.8l2.4-.8 2-2.3-2.3 .8z" color="#d97429"/><path d="M110.3 234.7l2.4-.7 2-2.1-2.3 .6z" color="#cf6d26"/><path d="M114.7 231.9l2.4-.7 2-2.1-2.4 .6z" color="#c16625"/><path d="M103.9 240l2.3-.8 2.1-2.2-2.4 .8z" color="#df782a"/><path d="M108.3 237l2.3-.8 2.1-2.2-2.4 .7z" color="#d57128"/><path d="M112.7 234l2.4-.6 2-2.2-2.4 .7z" color="#ca6a26"/><path d="M117.1 231.2l2.4-.5 2-2.1-2.4 .5z" color="#bc6325"/><path d="M101.8 242.3l2.3-.9 2.1-2.2-2.3 .8z" color="#e37f30"/><path d="M106.2 239.2l2.4-.8 2-2.2-2.3 .8z" color="#db7529"/><path d="M110.6 236.2l2.4-.7 2.1-2.1-2.4 .6z" color="#d16e27"/><path d="M115.1 233.4l2.4-.7 2-2-2.4 .5z" color="#c46725"/><path d="M119.5 230.7l2.4-.5 2-2.1-2.4 .5z" color="#b76125"/><path d="M99.7 244.6l2.3-.9 2.1-2.3-2.3 .9z" color="#e6863a"/><path d="M104.1 241.4l2.4-.8 2.1-2.2-2.4 .8z" color="#e1792b"/><path d="M108.6 238.4l2.4-.8 2-2.1-2.4 .7z" color="#d77228"/><path d="M113 235.5l2.4-.7 2.1-2.1-2.4 .7z" color="#cd6c26"/><path d="M117.5 232.7l2.4-.5 2-2-2.4 .5z" color="#bf6525"/><path d="M97.6 247l2.3-1 2.1-2.3-2.3 .9z" color="#e88f45"/><path d="M121.9 230.2l2.5-.5 2-2-2.5 .4z" color="#b25f24"/><path d="M102 243.7l2.4-.9 2.1-2.2-2.4 .8z" color="#e48032"/><path d="M106.5 240.6l2.4-.8 2.1-2.2-2.4 .8z" color="#dc7629"/><path d="M111 237.6l2.4-.7 2-2.1-2.4 .7z" color="#d36f27"/><path d="M115.4 234.8l2.5-.6 2-2-2.4 .5z" color="#c86925"/><path d="M95.5 249.3l2.3-1 2.1-2.3-2.3 1z" color="#e99f59"/><path d="M119.9 232.2l2.4-.5 2.1-2-2.5 .5z" color="#ba6225"/><path d="M124.4 229.7l2.4-.4 2.1-1.9-2.5 .3z" color="#ae5d24"/><path d="M99.9 246l2.4-.9 2.1-2.3-2.4 .9z" color="#e6883c"/><path d="M104.4 242.8l2.4-.8 2.1-2.2-2.4 .8z" color="#e27b2b"/><path d="M108.9 239.8l2.4-.7 2.1-2.2-2.4 .7z" color="#d87328"/><path d="M113.4 236.9l2.4-.6 2.1-2.1-2.5 .6z" color="#cf6d26"/><path d="M93.4 251.7l2.3-1.1 2.1-2.3-2.3 1z" color="#ebaf6f"/><path d="M117.9 234.2l2.4-.5 2-2-2.4 .5z" color="#c26625"/><path d="M122.3 231.7l2.5-.4 2-2-2.4 .4z" color="#b56024"/><path d="M97.8 248.3l2.4-1 2.1-2.2-2.4 .9z" color="#e99248"/><path d="M126.8 229.3l2.5-.3 2-1.9-2.4 .3z" color="#ab5c23"/><path d="M102.3 245.1l2.4-.9 2.1-2.2-2.4 .8z" color="#e48234"/><path d="M106.8 242l2.4-.8 2.1-2.1-2.4 .7z" color="#de772a"/><path d="M111.3 239.1l2.4-.7 2.1-2.1-2.4 .6z" color="#d57127"/><path d="M91.2 254.1l2.3-1.1 2.2-2.4-2.3 1.1z" color="#edc087"/><path d="M115.8 236.3l2.4-.6 2.1-2-2.4 .5z" color="#ca6a26"/><path d="M95.7 250.6l2.4-1 2.1-2.3-2.4 1z" color="#eaa15c"/><path d="M120.3 233.7l2.5-.5 2-1.9-2.5 .4z" color="#bd6425"/><path d="M124.8 231.3l2.5-.4 2-1.9-2.5 .3z" color="#b15e24"/><path d="M100.2 247.3l2.4-.9 2.1-2.2-2.4 .9z" color="#e7893e"/><path d="M129.3 229l2.5-.3 2-1.9-2.5 .3z" color="#a95a23"/><path d="M104.7 244.2l2.4-.8 2.1-2.2-2.4 .8z" color="#e27c2d"/><path d="M89.1 256.5l2.3-1.2 2.1-2.3-2.3 1.1z" color="#f1d2a3"/><path d="M109.2 241.2l2.4-.7 2.1-2.1-2.4 .7z" color="#da7429"/><path d="M113.7 238.4l2.5-.6 2-2.1-2.4 .6z" color="#d16e26"/><path d="M93.5 253l2.4-1.1 2.2-2.3-2.4 1z" color="#ebb171"/><path d="M118.2 235.7l2.5-.5 2.1-2-2.5 .5z" color="#c56825"/><path d="M122.8 233.2l2.5-.4 2-1.9-2.5 .4z" color="#b96225"/><path d="M98.1 249.6l2.3-1 2.2-2.2-2.4 .9z" color="#e9944b"/><path d="M127.3 230.9l2.5-.4 2-1.8-2.5 .3z" color="#ae5d24"/><path d="M131.8 228.7l2.6-.2 2-1.8-2.6 .1z" color="#a65923"/><path d="M102.6 246.4l2.4-.9 2.1-2.1-2.4 .8z" color="#e58336"/><path d="M86.9 258.9l2.3-1.2 2.2-2.4-2.3 1.2z" color="#f5e4c0"/><path d="M107.1 243.4l2.4-.8 2.1-2.1-2.4 .7z" color="#df782a"/><path d="M111.6 240.5l2.5-.7 2.1-2-2.5 .6z" color="#d67228"/><path d="M91.4 255.3l2.3-1.1 2.2-2.3-2.4 1.1z" color="#eec28a"/><path d="M116.2 237.8l2.4-.6 2.1-2-2.5 .5z" color="#cd6c26"/><path d="M120.7 235.2l2.5-.5 2.1-1.9-2.5 .4z" color="#c06525"/><path d="M95.9 251.9l2.4-1 2.1-2.3-2.3 1z" color="#eaa35f"/><path d="M125.3 232.8l2.5-.4 2-1.9-2.5 .4z" color="#b46024"/><path d="M129.8 230.5l2.5-.2 2.1-1.8-2.6 .2z" color="#ab5c23"/><path d="M100.4 248.6l2.4-.9 2.2-2.2-2.4 .9z" color="#e78b3f"/><path d="M134.4 228.5l2.5-.2 2-1.8-2.5 .2z" color="#a45922"/><path d="M84.7 261.3l2.3-1.2 2.2-2.4-2.3 1.2z" color="#f2edd2"/><path d="M105 245.5l2.4-.8 2.1-2.1-2.4 .8z" color="#e37e2f"/><path d="M109.5 242.6l2.5-.7 2.1-2.1-2.5 .7z" color="#db7529"/><path d="M89.2 257.7l2.4-1.2 2.1-2.3-2.3 1.1z" color="#f1d3a5"/><path d="M114.1 239.8l2.4-.6 2.1-2-2.4 .6z" color="#d36f27"/><path d="M93.7 254.2l2.4-1 2.2-2.3-2.4 1z" color="#ebb373"/><path d="M118.6 237.2l2.5-.5 2.1-2-2.5 .5z" color="#c86925"/><path d="M123.2 234.7l2.5-.4 2.1-1.9-2.5 .4z" color="#bc6325"/><path d="M127.8 232.4l2.5-.3 2-1.8-2.5 .2z" color="#b15e24"/><path d="M98.3 250.9l2.4-.9 2.1-2.3-2.4 .9z" color="#e9964e"/><path d="M132.3 230.3l2.6-.2 2-1.8-2.5 .2z" color="#a95b23"/><path d="M136.9 228.3l2.6-.1 2-1.7-2.6 0z" color="#a25822"/><path d="M82.5 263.8l2.3-1.3 2.2-2.4-2.3 1.2z" color="#ecf4e1"/><path d="M102.8 247.7l2.5-.8 2.1-2.2-2.4 .8z" color="#e58538"/><path d="M87 260.1l2.4-1.2 2.2-2.4-2.4 1.2z" color="#f5e5c1"/><path d="M107.4 244.7l2.4-.7 2.2-2.1-2.5 .7z" color="#e0792a"/><path d="M112 241.9l2.4-.7 2.1-2-2.4 .6z" color="#d77328"/><path d="M91.6 256.5l2.3-1 2.2-2.3-2.4 1z" color="#eec38c"/><path d="M116.5 239.2l2.5-.5 2.1-2-2.5 .5z" color="#cf6d26"/><path d="M121.1 236.7l2.5-.5 2.1-1.9-2.5 .4z" color="#c36725"/><path d="M96.1 253.2l2.4-1 2.2-2.2-2.4 .9z" color="#eaa561"/><path d="M125.7 234.3l2.5-.3 2.1-1.9-2.5 .3z" color="#b86125"/><path d="M80.3 266.2l2.3-1.3 2.2-2.4-2.3 1.3z" color="#d7f3e2"/><path d="M130.3 232.1l2.5-.2 2.1-1.8-2.6 .2z" color="#ae5d24"/><path d="M134.9 230.1l2.5-.2 2.1-1.7-2.6 .1z" color="#a75a23"/><path d="M139.5 228.2l2.5 0 2-1.7-2.5 0z" color="#a05721"/><path d="M100.7 250l2.4-.9 2.2-2.2-2.5 .8z" color="#e88c41"/><path d="M84.8 262.5l2.3-1.2 2.3-2.4-2.4 1.2z" color="#f2edd2"/><path d="M105.3 246.9l2.4-.8 2.1-2.1-2.4 .7z" color="#e37f31"/><path d="M109.8 244l2.5-.7 2.1-2.1-2.4 .7z" color="#dc7629"/><path d="M89.4 258.9l2.3-1.1 2.2-2.3-2.3 1z" color="#f1d4a6"/><path d="M114.4 241.2l2.5-.6 2.1-1.9-2.5 .5z" color="#d47027"/><path d="M119 238.7l2.5-.5 2.1-2-2.5 .5z" color="#cb6a26"/><path d="M93.9 255.5l2.4-1.1 2.2-2.2-2.4 1z" color="#ebb475"/><path d="M78 268.7l2.3-1.3 2.3-2.5-2.3 1.3z" color="#bcefdd"/><path d="M123.6 236.2l2.6-.4 2-1.8-2.5 .3z" color="#bf6525"/><path d="M128.2 234l2.6-.3 2-1.8-2.5 .2z" color="#b45f24"/><path d="M132.8 231.9l2.6-.2 2-1.8-2.5 .2z" color="#ab5c23"/><path d="M98.5 252.2l2.4-1 2.2-2.1-2.4 .9z" color="#e99850"/><path d="M137.4 229.9l2.6 0 2-1.7-2.5 0z" color="#a55922"/><path d="M142 228.2l2.6 0 2-1.6-2.6-.1z" color="#9f5621"/><path d="M82.6 264.9l2.3-1.2 2.2-2.4-2.3 1.2z" color="#edf4e1"/><path d="M103.1 249.1l2.4-.9 2.2-2.1-2.4 .8z" color="#e68639"/><path d="M107.7 246.1l2.5-.8 2.1-2-2.5 .7z" color="#e17a2b"/><path d="M87.1 261.3l2.4-1.2 2.2-2.3-2.3 1.1z" color="#f5e5c1"/><path d="M112.3 243.3l2.5-.7 2.1-2-2.5 .6z" color="#d97428"/><path d="M91.7 257.8l2.4-1.1 2.2-2.3-2.4 1.1z" color="#eec48d"/><path d="M116.9 240.6l2.5-.5 2.1-1.9-2.5 .5z" color="#d16e26"/><path d="M75.8 271.2l2.3-1.4 2.2-2.4-2.3 1.3z" color="#a8ebd6"/><path d="M121.5 238.2l2.6-.5 2.1-1.9-2.6 .4z" color="#c66825"/><path d="M126.2 235.8l2.5-.3 2.1-1.8-2.6 .3z" color="#bb6325"/><path d="M96.3 254.4l2.4-1 2.2-2.2-2.4 1z" color="#eaa663"/><path d="M130.8 233.7l2.5-.3 2.1-1.7-2.6 .2z" color="#b05e24"/><path d="M135.4 231.7l2.6-.1 2-1.7-2.6 0z" color="#a95b23"/><path d="M140 229.9l2.6-.1 2-1.6-2.6 0z" color="#a35822"/><path d="M144.6 228.2l2.7 .1 2-1.6-2.7-.1z" color="#9e5621"/><path d="M80.3 267.4l2.4-1.3 2.2-2.4-2.3 1.2z" color="#d8f3e2"/><path d="M100.9 251.2l2.5-.8 2.1-2.2-2.4 .9z" color="#e88d42"/><path d="M105.5 248.2l2.5-.8 2.2-2.1-2.5 .8z" color="#e48032"/><path d="M84.9 263.7l2.4-1.3 2.2-2.3-2.4 1.2z" color="#f2edd2"/><path d="M110.2 245.3l2.5-.6 2.1-2.1-2.5 .7z" color="#de772a"/><path d="M89.5 260.1l2.4-1.1 2.2-2.3-2.4 1.1z" color="#f1d4a7"/><path d="M73.5 273.8l2.3-1.5 2.3-2.5-2.3 1.4z" color="#95e7ce"/><path d="M114.8 242.6l2.5-.5 2.1-2-2.5 .5z" color="#d57128"/><path d="M119.4 240.1l2.6-.5 2.1-1.9-2.6 .5z" color="#cd6b26"/><path d="M94.1 256.7l2.4-1 2.2-2.3-2.4 1z" color="#ebb577"/><path d="M124.1 237.7l2.5-.4 2.1-1.8-2.5 .3z" color="#c16625"/><path d="M128.7 235.5l2.6-.3 2-1.8-2.5 .3z" color="#b76125"/><path d="M78.1 269.8l2.3-1.3 2.3-2.4-2.4 1.3z" color="#beefde"/><path d="M133.3 233.4l2.6-.1 2.1-1.7-2.6 .1z" color="#ae5d24"/><path d="M147.3 228.3l2.6 .1 2-1.5-2.6-.2z" color="#9d5521"/><path d="M138 231.6l2.6-.1 2-1.7-2.6 .1z" color="#a75a23"/><path d="M142.6 229.8l2.6 .1 2.1-1.6-2.7-.1z" color="#a25822"/><path d="M98.7 253.4l2.5-.9 2.2-2.1-2.5 .8z" color="#e99952"/><path d="M82.7 266.1l2.3-1.3 2.3-2.4-2.4 1.3z" color="#edf3e1"/><path d="M103.4 250.4l2.4-.9 2.2-2.1-2.5 .8z" color="#e6873a"/><path d="M108 247.4l2.5-.7 2.2-2-2.5 .6z" color="#e27b2c"/><path d="M87.3 262.4l2.4-1.1 2.2-2.3-2.4 1.1z" color="#f5e5c1"/><path d="M71.2 276.3l2.3-1.4 2.3-2.6-2.3 1.5z" color="#86e3c8"/><path d="M112.7 244.7l2.5-.7 2.1-1.9-2.5 .5z" color="#da7529"/><path d="M117.3 242.1l2.5-.6 2.2-1.9-2.6 .5z" color="#d26f27"/><path d="M91.9 259l2.4-1.1 2.2-2.2-2.4 1z" color="#eec48e"/><path d="M122 239.6l2.5-.4 2.1-1.9-2.5 .4z" color="#c86925"/><path d="M75.8 272.3l2.3-1.4 2.3-2.4-2.3 1.3z" color="#aaebd6"/><path d="M126.6 237.3l2.6-.3 2.1-1.8-2.6 .3z" color="#bd6425"/><path d="M131.3 235.2l2.6-.2 2-1.7-2.6 .1z" color="#b35f24"/><path d="M149.9 228.4l2.7 .2 1.9-1.4-2.6-.3z" color="#9c5521"/><path d="M96.5 255.7l2.5-1 2.2-2.2-2.5 .9z" color="#eaa764"/><path d="M135.9 233.3l2.6-.1 2.1-1.7-2.6 .1z" color="#ac5c24"/><path d="M145.2 229.9l2.7 .1 2-1.6-2.6-.1z" color="#a15721"/><path d="M140.6 231.5l2.6 0 2-1.6-2.6-.1z" color="#a65922"/><path d="M80.4 268.5l2.4-1.3 2.2-2.4-2.3 1.3z" color="#daf3e3"/><path d="M101.2 252.5l2.5-.9 2.1-2.1-2.4 .9z" color="#e88e43"/><path d="M105.8 249.5l2.5-.7 2.2-2.1-2.5 .7z" color="#e48133"/><path d="M68.9 278.9l2.3-1.5 2.3-2.5-2.3 1.4z" color="#79e0c3"/><path d="M85 264.8l2.4-1.2 2.3-2.3-2.4 1.1z" color="#f2edd2"/><path d="M110.5 246.7l2.5-.7 2.2-2-2.5 .7z" color="#df782a"/><path d="M115.2 244l2.5-.5 2.1-2-2.5 .6z" color="#d67228"/><path d="M89.7 261.3l2.4-1.1 2.2-2.3-2.4 1.1z" color="#f2d4a7"/><path d="M73.5 274.9l2.3-1.5 2.3-2.5-2.3 1.4z" color="#97e7cf"/><path d="M119.8 241.5l2.6-.4 2.1-1.9-2.5 .4z" color="#cf6d26"/><path d="M124.5 239.2l2.6-.4 2.1-1.8-2.6 .3z" color="#c46725"/><path d="M94.3 257.9l2.5-1 2.2-2.2-2.5 1z" color="#ebb678"/><path d="M152.6 228.6l2.6 .3 2-1.4-2.7-.3z" color="#9b5521"/><path d="M129.2 237l2.6-.2 2.1-1.8-2.6 .2z" color="#ba6225"/><path d="M147.9 230l2.7 .2 2-1.6-2.7-.2z" color="#a05721"/><path d="M133.9 235l2.6-.1 2-1.7-2.6 .1z" color="#b05e24"/><path d="M143.2 231.5l2.7 .1 2-1.6-2.7-.1z" color="#a45922"/><path d="M138.5 233.2l2.7-.1 2-1.6-2.6 0z" color="#aa5b23"/><path d="M78.1 270.9l2.4-1.3 2.3-2.4-2.4 1.3z" color="#c0efde"/><path d="M99 254.7l2.4-.9 2.3-2.2-2.5 .9z" color="#e99b54"/><path d="M66.6 281.5l2.3-1.6 2.3-2.5-2.3 1.5z" color="#6ddcbd"/><path d="M103.7 251.6l2.4-.8 2.2-2-2.5 .7z" color="#e6883c"/><path d="M82.8 267.2l2.4-1.3 2.2-2.3-2.4 1.2z" color="#edf3e0"/><path d="M108.3 248.8l2.5-.8 2.2-2-2.5 .7z" color="#e27c2d"/><path d="M87.4 263.6l2.4-1.1 2.3-2.3-2.4 1.1z" color="#f5e5c1"/><path d="M113 246l2.5-.6 2.2-1.9-2.5 .5z" color="#db7529"/><path d="M71.2 277.4l2.3-1.5 2.3-2.5-2.3 1.5z" color="#87e4c9"/><path d="M117.7 243.5l2.6-.6 2.1-1.8-2.6 .4z" color="#d37027"/><path d="M92.1 260.2l2.4-1.1 2.3-2.2-2.5 1z" color="#eec58f"/><path d="M122.4 241.1l2.6-.5 2.1-1.8-2.6 .4z" color="#cb6a26"/><path d="M155.2 228.9l2.7 .4 2-1.4-2.7-.4z" color="#9b5520"/><path d="M127.1 238.8l2.6-.3 2.1-1.7-2.6 .2z" color="#c06525"/><path d="M75.8 273.4l2.4-1.4 2.3-2.4-2.4 1.3z" color="#acecd7"/><path d="M150.6 230.2l2.6 .2 2-1.5-2.6-.3z" color="#9f5621"/><path d="M131.8 236.8l2.6-.2 2.1-1.7-2.6 .1z" color="#b66125"/><path d="M145.9 231.6l2.6 .1 2.1-1.5-2.7-.2z" color="#a35822"/><path d="M136.5 234.9l2.6-.1 2.1-1.7-2.7 .1z" color="#ae5d24"/><path d="M141.2 233.1l2.6 0 2.1-1.5-2.7-.1z" color="#a85a23"/><path d="M96.8 256.9l2.4-1 2.2-2.1-2.4 .9z" color="#eaa865"/><path d="M64.3 284.1l2.2-1.6 2.4-2.6-2.3 1.6z" color="#61d9b8"/><path d="M80.5 269.6l2.4-1.3 2.3-2.4-2.4 1.3z" color="#dcf3e3"/><path d="M101.4 253.8l2.5-.9 2.2-2.1-2.4 .8z" color="#e88f45"/><path d="M106.1 250.8l2.6-.7 2.1-2.1-2.5 .8z" color="#e48235"/><path d="M85.2 265.9l2.4-1.2 2.2-2.2-2.4 1.1z" color="#f2edd1"/><path d="M68.9 279.9l2.3-1.5 2.3-2.5-2.3 1.5z" color="#7be0c4"/><path d="M110.8 248l2.6-.6 2.1-2-2.5 .6z" color="#df792a"/><path d="M115.5 245.4l2.6-.6 2.2-1.9-2.6 .6z" color="#d77328"/><path d="M89.8 262.5l2.5-1.2 2.2-2.2-2.4 1.1z" color="#f1d4a7"/><path d="M120.3 242.9l2.5-.4 2.2-1.9-2.6 .5z" color="#d06d26"/><path d="M157.9 229.3l2.8 .4 1.9-1.4-2.7-.4z" color="#9b5520"/><path d="M73.5 275.9l2.4-1.4 2.3-2.5-2.4 1.4z" color="#99e8d0"/><path d="M125 240.6l2.6-.3 2.1-1.8-2.6 .3z" color="#c66825"/><path d="M153.2 230.4l2.7 .3 2-1.4-2.7-.4z" color="#9e5621"/><path d="M129.7 238.5l2.6-.2 2.1-1.7-2.6 .2z" color="#bc6325"/><path d="M148.5 231.7l2.7 .2 2-1.5-2.6-.2z" color="#a25822"/><path d="M94.5 259.1l2.5-1 2.2-2.2-2.4 1z" color="#ebb678"/><path d="M134.4 236.6l2.6-.2 2.1-1.6-2.6 .1z" color="#b35f24"/><path d="M143.8 233.1l2.7 .1 2-1.5-2.6-.1z" color="#a75a23"/><path d="M139.1 234.8l2.7-.1 2-1.6-2.6 0z" color="#ac5c24"/><path d="M61.9 286.8l2.3-1.7 2.3-2.6-2.2 1.6z" color="#5cd5b5"/><path d="M78.2 272l2.4-1.3 2.3-2.4-2.4 1.3z" color="#c3f0df"/><path d="M99.2 255.9l2.5-.9 2.2-2.1-2.5 .9z" color="#e99b55"/><path d="M103.9 252.9l2.5-.8 2.3-2-2.6 .7z" color="#e7883c"/><path d="M66.5 282.5l2.4-1.6 2.3-2.5-2.3 1.5z" color="#70ddbe"/><path d="M82.9 268.3l2.4-1.2 2.3-2.4-2.4 1.2z" color="#edf3df"/><path d="M108.7 250.1l2.5-.7 2.2-2-2.6 .6z" color="#e37d2e"/><path d="M113.4 247.4l2.5-.6 2.2-2-2.6 .6z" color="#dc7629"/><path d="M87.6 264.7l2.4-1.1 2.3-2.3-2.5 1.2z" color="#f5e4c0"/><path d="M71.2 278.4l2.4-1.5 2.3-2.4-2.4 1.4z" color="#89e4ca"/><path d="M160.7 229.7l2.7 .5 2-1.3-2.8-.6z" color="#9b5520"/><path d="M118.1 244.8l2.6-.5 2.1-1.8-2.5 .4z" color="#d47027"/><path d="M155.9 230.7l2.8 .4 2-1.4-2.8-.4z" color="#9e5621"/><path d="M122.8 242.5l2.6-.4 2.2-1.8-2.6 .3z" color="#cd6b26"/><path d="M92.3 261.3l2.4-1 2.3-2.2-2.5 1z" color="#eec58e"/><path d="M151.2 231.9l2.7 .2 2-1.4-2.7-.3z" color="#a25722"/><path d="M127.6 240.3l2.6-.3 2.1-1.7-2.6 .2z" color="#c26625"/><path d="M59.5 289.4l2.3-1.7 2.4-2.6-2.3 1.7z" color="#57d1b2"/><path d="M146.5 233.2l2.7 .2 2-1.5-2.7-.2z" color="#a65922"/><path d="M132.3 238.3l2.6-.2 2.1-1.7-2.6 .2z" color="#b96225"/><path d="M141.8 234.7l2.6 .1 2.1-1.6-2.7-.1z" color="#ab5b23"/><path d="M137 236.4l2.7-.1 2.1-1.6-2.7 .1z" color="#b05e24"/><path d="M75.9 274.5l2.4-1.4 2.3-2.4-2.4 1.3z" color="#afecd8"/><path d="M97 258.1l2.5-.9 2.2-2.2-2.5 .9z" color="#eaa966"/><path d="M64.2 285.1l2.3-1.6 2.4-2.6-2.4 1.6z" color="#64d9b9"/><path d="M101.7 255l2.5-.8 2.2-2.1-2.5 .8z" color="#e89046"/><path d="M80.6 270.7l2.4-1.3 2.3-2.3-2.4 1.2z" color="#dff4e4"/><path d="M106.4 252.1l2.6-.7 2.2-2-2.5 .7z" color="#e58335"/><path d="M85.3 267.1l2.4-1.2 2.3-2.3-2.4 1.1z" color="#f2ecd0"/><path d="M111.2 249.4l2.5-.7 2.2-1.9-2.5 .6z" color="#e0792a"/><path d="M68.9 280.9l2.3-1.5 2.4-2.5-2.4 1.5z" color="#7ee1c5"/><path d="M163.4 230.2l2.8 .5 1.9-1.2-2.7-.6z" color="#9b5521"/><path d="M115.9 246.8l2.6-.6 2.2-1.9-2.6 .5z" color="#d87328"/><path d="M158.7 231.1l2.7 .4 2-1.3-2.7-.5z" color="#9e5621"/><path d="M57.1 292.1l2.3-1.8 2.4-2.6-2.3 1.7z" color="#52cdaf"/><path d="M120.7 244.3l2.6-.4 2.1-1.8-2.6 .4z" color="#d16e27"/><path d="M90 263.6l2.5-1.1 2.2-2.2-2.4 1z" color="#f1d4a6"/><path d="M153.9 232.1l2.8 .4 2-1.4-2.8-.4z" color="#a15722"/><path d="M125.4 242.1l2.7-.3 2.1-1.8-2.6 .3z" color="#c96925"/><path d="M149.2 233.4l2.7 .2 2-1.5-2.7-.2z" color="#a55922"/><path d="M130.2 240l2.6-.2 2.1-1.7-2.6 .2z" color="#bf6525"/><path d="M73.6 276.9l2.3-1.4 2.4-2.4-2.4 1.4z" color="#9ce9d1"/><path d="M144.4 234.8l2.7 .1 2.1-1.5-2.7-.2z" color="#a95b23"/><path d="M134.9 238.1l2.7-.1 2.1-1.7-2.7 .1z" color="#b66025"/><path d="M139.7 236.3l2.7 0 2-1.5-2.6-.1z" color="#ae5d24"/><path d="M94.7 260.3l2.5-1 2.3-2.1-2.5 .9z" color="#ebb678"/><path d="M61.8 287.7l2.3-1.6 2.4-2.6-2.3 1.6z" color="#5ed6b6"/><path d="M78.3 273.1l2.4-1.3 2.3-2.4-2.4 1.3z" color="#c6f0df"/><path d="M99.5 257.2l2.5-.9 2.2-2.1-2.5 .8z" color="#e99c56"/><path d="M104.2 254.2l2.6-.8 2.2-2-2.6 .7z" color="#e7893d"/><path d="M83 269.4l2.4-1.2 2.3-2.3-2.4 1.2z" color="#eef2dd"/><path d="M66.5 283.5l2.3-1.6 2.4-2.5-2.3 1.5z" color="#72debf"/><path d="M109 251.4l2.5-.7 2.2-2-2.5 .7z" color="#e37e2f"/><path d="M166.2 230.7l2.7 .6 2-1.2-2.8-.6z" color="#9c5521"/><path d="M113.7 248.7l2.6-.6 2.2-1.9-2.6 .6z" color="#dd7729"/><path d="M54.7 294.8l2.3-1.8 2.4-2.7-2.3 1.8z" color="#4dc9ad"/><path d="M161.4 231.5l2.8 .5 2-1.3-2.8-.5z" color="#9e5621"/><path d="M87.7 265.9l2.5-1.2 2.3-2.2-2.5 1.1z" color="#f4e3be"/><path d="M118.5 246.2l2.6-.5 2.2-1.8-2.6 .4z" color="#d57128"/><path d="M156.7 232.5l2.7 .4 2-1.4-2.7-.4z" color="#a15722"/><path d="M71.2 279.4l2.4-1.4 2.3-2.5-2.3 1.4z" color="#8ce5cb"/><path d="M123.3 243.9l2.6-.4 2.2-1.7-2.7 .3z" color="#cf6c26"/><path d="M151.9 233.6l2.7 .3 2.1-1.4-2.8-.4z" color="#a45922"/><path d="M128.1 241.8l2.6-.3 2.1-1.7-2.6 .2z" color="#c56725"/><path d="M147.1 234.9l2.8 .1 2-1.4-2.7-.2z" color="#a85a23"/><path d="M132.8 239.8l2.7-.2 2.1-1.6-2.7 .1z" color="#bb6325"/><path d="M142.4 236.3l2.7 .1 2-1.5-2.7-.1z" color="#ad5c24"/><path d="M137.6 238l2.7-.1 2.1-1.6-2.7 0z" color="#b35f24"/><path d="M92.5 262.5l2.4-1 2.3-2.2-2.5 1z" color="#eec48e"/><path d="M59.4 290.3l2.3-1.6 2.4-2.6-2.3 1.6z" color="#59d2b3"/><path d="M75.9 275.5l2.4-1.4 2.4-2.3-2.4 1.3z" color="#b2edd9"/><path d="M97.2 259.3l2.5-.9 2.3-2.1-2.5 .9z" color="#eaa966"/><path d="M102 256.3l2.5-.9 2.3-2-2.6 .8z" color="#e89046"/><path d="M64.1 286.1l2.4-1.6 2.3-2.6-2.3 1.6z" color="#67daba"/><path d="M80.7 271.8l2.4-1.3 2.3-2.3-2.4 1.2z" color="#e2f4e4"/><path d="M168.9 231.3l2.8 .7 2-1.1-2.8-.8z" color="#9d5521"/><path d="M106.8 253.4l2.5-.8 2.2-1.9-2.5 .7z" color="#e58436"/><path d="M52.3 297.5l2.3-1.8 2.4-2.7-2.3 1.8z" color="#49c5a9"/><path d="M164.2 232l2.8 .6 1.9-1.3-2.7-.6z" color="#9e5621"/><path d="M111.5 250.7l2.6-.7 2.2-1.9-2.6 .6z" color="#e17a2b"/><path d="M85.4 268.2l2.5-1.2 2.3-2.3-2.5 1.2z" color="#f3eccf"/><path d="M159.4 232.9l2.8 .4 2-1.3-2.8-.5z" color="#a15722"/><path d="M68.8 281.9l2.4-1.5 2.4-2.4-2.4 1.4z" color="#80e2c6"/><path d="M116.3 248.1l2.6-.5 2.2-1.9-2.6 .5z" color="#d97429"/><path d="M154.6 233.9l2.8 .3 2-1.3-2.7-.4z" color="#a45822"/><path d="M121.1 245.7l2.6-.4 2.2-1.8-2.6 .4z" color="#d26f27"/><path d="M149.9 235l2.7 .3 2-1.4-2.7-.3z" color="#a75a23"/><path d="M90.2 264.7l2.4-1.1 2.3-2.1-2.4 1z" color="#f1d3a4"/><path d="M125.9 243.5l2.7-.3 2.1-1.7-2.6 .3z" color="#cb6a26"/><path d="M145.1 236.4l2.7 .1 2.1-1.5-2.8-.1z" color="#ac5c23"/><path d="M130.7 241.5l2.7-.2 2.1-1.7-2.7 .2z" color="#c16625"/><path d="M57 293l2.3-1.7 2.4-2.6-2.3 1.6z" color="#54ceb0"/><path d="M140.3 237.9l2.7 0 2.1-1.5-2.7-.1z" color="#b15e24"/><path d="M135.5 239.6l2.7-.1 2.1-1.6-2.7 .1z" color="#b86225"/><path d="M73.6 278l2.4-1.5 2.3-2.4-2.4 1.4z" color="#a0e9d3"/><path d="M94.9 261.5l2.5-1 2.3-2.1-2.5 .9z" color="#ebb678"/><path d="M99.7 258.4l2.6-.9 2.2-2.1-2.5 .9z" color="#e99c56"/><path d="M61.7 288.7l2.3-1.7 2.5-2.5-2.4 1.6z" color="#5fd7b6"/><path d="M78.3 274.1l2.4-1.3 2.4-2.3-2.4 1.3z" color="#caf1e0"/><path d="M171.7 232l2.8 .8 2-1.1-2.8-.8z" color="#9e5621"/><path d="M49.9 300.2l2.2-1.8 2.5-2.7-2.3 1.8z" color="#45c3a6"/><path d="M104.5 255.4l2.6-.8 2.2-2-2.5 .8z" color="#e7893e"/><path d="M167 232.6l2.8 .6 1.9-1.2-2.8-.7z" color="#9f5621"/><path d="M83.1 270.5l2.4-1.2 2.4-2.3-2.5 1.2z" color="#eef1dc"/><path d="M109.3 252.6l2.6-.6 2.2-2-2.6 .7z" color="#e37e30"/><path d="M66.5 284.5l2.3-1.6 2.4-2.5-2.4 1.5z" color="#75dfc1"/><path d="M162.2 233.3l2.8 .5 2-1.2-2.8-.6z" color="#a15722"/><path d="M114.1 250l2.6-.5 2.2-1.9-2.6 .5z" color="#dd772a"/><path d="M157.4 234.2l2.8 .4 2-1.3-2.8-.4z" color="#a45822"/><path d="M118.9 247.6l2.7-.5 2.1-1.8-2.6 .4z" color="#d67228"/><path d="M87.9 267l2.4-1.1 2.3-2.3-2.4 1.1z" color="#f4e1bc"/><path d="M54.6 295.7l2.3-1.8 2.4-2.6-2.3 1.7z" color="#4fcaae"/><path d="M152.6 235.3l2.8 .3 2-1.4-2.8-.3z" color="#a75a23"/><path d="M123.7 245.3l2.7-.3 2.2-1.8-2.7 .3z" color="#d06d26"/><path d="M147.8 236.5l2.7 .2 2.1-1.4-2.7-.3z" color="#aa5b23"/><path d="M128.6 243.2l2.6-.2 2.2-1.7-2.7 .2z" color="#c76825"/><path d="M143 237.9l2.7 .1 2.1-1.5-2.7-.1z" color="#af5d24"/><path d="M71.2 280.4l2.4-1.4 2.4-2.5-2.4 1.5z" color="#8fe6cc"/><path d="M133.4 241.3l2.7-.2 2.1-1.6-2.7 .1z" color="#be6425"/><path d="M138.2 239.5l2.7 0 2.1-1.6-2.7 0z" color="#b66025"/><path d="M92.6 263.6l2.6-1 2.2-2.1-2.5 1z" color="#eec38c"/><path d="M59.3 291.3l2.3-1.7 2.4-2.6-2.3 1.7z" color="#5ad3b4"/><path d="M97.4 260.5l2.6-1 2.3-2-2.6 .9z" color="#eaa866"/><path d="M174.5 232.8l2.9 .8 1.9-1.1-2.8-.8z" color="#9f5621"/><path d="M76 276.5l2.4-1.3 2.3-2.4-2.4 1.3z" color="#b5eddb"/><path d="M47.4 303l2.3-1.9 2.4-2.7-2.2 1.8z" color="#42c0a2"/><path d="M102.3 257.5l2.5-.9 2.3-2-2.6 .8z" color="#e99147"/><path d="M169.8 233.2l2.8 .8 1.9-1.2-2.8-.8z" color="#a05721"/><path d="M80.7 272.8l2.5-1.3 2.3-2.2-2.4 1.2z" color="#e6f5e5"/><path d="M64 287l2.4-1.6 2.4-2.5-2.3 1.6z" color="#6adbbc"/><path d="M107.1 254.6l2.6-.7 2.2-1.9-2.6 .6z" color="#e58437"/><path d="M165 233.8l2.8 .6 2-1.2-2.8-.6z" color="#a15722"/><path d="M111.9 252l2.6-.7 2.2-1.8-2.6 .5z" color="#e17a2b"/><path d="M160.2 234.6l2.8 .5 2-1.3-2.8-.5z" color="#a45822"/><path d="M52.1 298.4l2.3-1.8 2.5-2.7-2.3 1.8z" color="#4ac6ab"/><path d="M85.5 269.3l2.5-1.2 2.3-2.2-2.4 1.1z" color="#f3ebcd"/><path d="M116.7 249.5l2.7-.6 2.2-1.8-2.7 .5z" color="#da7529"/><path d="M155.4 235.6l2.7 .4 2.1-1.4-2.8-.4z" color="#a65923"/><path d="M121.6 247.1l2.6-.4 2.2-1.7-2.7 .3z" color="#d37027"/><path d="M150.5 236.7l2.8 .3 2.1-1.4-2.8-.3z" color="#aa5b23"/><path d="M68.8 282.9l2.4-1.5 2.4-2.4-2.4 1.4z" color="#83e3c7"/><path d="M126.4 245l2.7-.3 2.1-1.7-2.6 .2z" color="#cc6b26"/><path d="M145.7 238l2.8 .2 2-1.5-2.7-.2z" color="#ae5d24"/><path d="M131.2 243l2.7-.2 2.2-1.7-2.7 .2z" color="#c36725"/><path d="M140.9 239.5l2.7 0 2.1-1.5-2.7-.1z" color="#b35f24"/><path d="M136.1 241.1l2.7 0 2.1-1.6-2.7 0z" color="#bb6325"/><path d="M90.3 265.9l2.5-1.1 2.4-2.2-2.6 1z" color="#f1d1a2"/><path d="M56.9 293.9l2.3-1.7 2.4-2.6-2.3 1.7z" color="#55cfb1"/><path d="M177.4 233.6l2.8 .9 1.9-1-2.8-1z" color="#a05721"/><path d="M73.6 279l2.4-1.5 2.4-2.3-2.4 1.3z" color="#a4ead4"/><path d="M95.2 262.6l2.5-1 2.3-2.1-2.6 1z" color="#ebb577"/><path d="M44.9 305.8l2.3-1.9 2.5-2.8-2.3 1.9z" color="#3ebd9e"/><path d="M172.6 234l2.8 .7 2-1.1-2.9-.8z" color="#a15722"/><path d="M100 259.5l2.5-.8 2.3-2.1-2.5 .9z" color="#e99c56"/><path d="M78.4 275.2l2.4-1.4 2.4-2.3-2.5 1.3z" color="#cef1e1"/><path d="M61.6 289.6l2.4-1.7 2.4-2.5-2.4 1.6z" color="#60d8b7"/><path d="M167.8 234.4l2.8 .7 2-1.1-2.8-.8z" color="#a25822"/><path d="M104.8 256.6l2.6-.7 2.3-2-2.6 .7z" color="#e78a3e"/><path d="M163 235.1l2.8 .6 2-1.3-2.8-.6z" color="#a45822"/><path d="M49.7 301.1l2.2-1.9 2.5-2.6-2.3 1.8z" color="#47c4a7"/><path d="M109.7 253.9l2.6-.7 2.2-1.9-2.6 .7z" color="#e37f30"/><path d="M83.2 271.5l2.5-1.2 2.3-2.2-2.5 1.2z" color="#eff0da"/><path d="M158.1 236l2.8 .4 2.1-1.3-2.8-.5z" color="#a65923"/><path d="M114.5 251.3l2.6-.5 2.3-1.9-2.7 .6z" color="#de772a"/><path d="M66.4 285.4l2.4-1.5 2.4-2.5-2.4 1.5z" color="#78dfc2"/><path d="M153.3 237l2.8 .3 2-1.3-2.7-.4z" color="#a95b23"/><path d="M119.4 248.9l2.6-.4 2.2-1.8-2.6 .4z" color="#d77228"/><path d="M148.5 238.2l2.7 .2 2.1-1.4-2.8-.3z" color="#ad5c24"/><path d="M124.2 246.7l2.7-.3 2.2-1.7-2.7 .3z" color="#d16e26"/><path d="M88 268.1l2.5-1.2 2.3-2.1-2.5 1.1z" color="#f4e0b9"/><path d="M143.6 239.5l2.8 .1 2.1-1.4-2.8-.2z" color="#b25e24"/><path d="M129.1 244.7l2.7-.3 2.1-1.6-2.7 .2z" color="#c86925"/><path d="M138.8 241.1l2.7-.1 2.1-1.5-2.7 0z" color="#b86225"/><path d="M133.9 242.8l2.7-.2 2.2-1.5-2.7 0z" color="#c06525"/><path d="M180.2 234.5l2.9 1 1.9-1-2.9-1z" color="#a25822"/><path d="M54.4 296.6l2.3-1.8 2.5-2.6-2.3 1.7z" color="#50cbae"/><path d="M71.2 281.4l2.4-1.5 2.4-2.4-2.4 1.5z" color="#93e7ce"/><path d="M42.5 308.6l2.2-2 2.5-2.7-2.3 1.9z" color="#3bbb9a"/><path d="M92.8 264.8l2.6-1.1 2.3-2.1-2.5 1z" color="#eec28b"/><path d="M175.4 234.7l2.9 .9 1.9-1.1-2.8-.9z" color="#a25822"/><path d="M97.7 261.6l2.5-.9 2.3-2-2.5 .8z" color="#eaa865"/><path d="M59.2 292.2l2.3-1.7 2.5-2.6-2.4 1.7z" color="#5cd4b5"/><path d="M76 277.5l2.4-1.3 2.4-2.4-2.4 1.4z" color="#b9eedc"/><path d="M170.6 235.1l2.8 .8 2-1.2-2.8-.7z" color="#a35822"/><path d="M102.5 258.7l2.6-.9 2.3-1.9-2.6 .7z" color="#e99147"/><path d="M47.2 303.9l2.3-2 2.4-2.7-2.2 1.9z" color="#43c1a3"/><path d="M165.8 235.7l2.8 .6 2-1.2-2.8-.7z" color="#a45922"/><path d="M107.4 255.9l2.6-.7 2.3-2-2.6 .7z" color="#e58437"/><path d="M80.8 273.8l2.5-1.2 2.4-2.3-2.5 1.2z" color="#eaf5e6"/><path d="M160.9 236.4l2.9 .5 2-1.2-2.8-.6z" color="#a65923"/><path d="M64 287.9l2.3-1.6 2.5-2.4-2.4 1.5z" color="#6ddcbd"/><path d="M112.3 253.2l2.6-.6 2.2-1.8-2.6 .5z" color="#e27a2b"/><path d="M156.1 237.3l2.8 .4 2-1.3-2.8-.4z" color="#a95b23"/><path d="M117.1 250.8l2.7-.5 2.2-1.8-2.6 .4z" color="#db7529"/><path d="M183.1 235.5l2.9 1.1 1.9-1-2.9-1.1z" color="#a45822"/><path d="M151.2 238.4l2.8 .2 2.1-1.3-2.8-.3z" color="#ac5c24"/><path d="M85.7 270.3l2.5-1.2 2.3-2.2-2.5 1.2z" color="#f4eacb"/><path d="M51.9 299.2l2.4-1.8 2.4-2.6-2.3 1.8z" color="#4cc7ac"/><path d="M122 248.5l2.7-.4 2.2-1.7-2.7 .3z" color="#d47027"/><path d="M146.4 239.6l2.7 .2 2.1-1.4-2.7-.2z" color="#b05e24"/><path d="M126.9 246.4l2.7-.3 2.2-1.7-2.7 .3z" color="#ce6c26"/><path d="M141.5 241l2.8 .1 2.1-1.5-2.8-.1z" color="#b66125"/><path d="M39.9 311.4l2.3-2 2.5-2.8-2.2 2z" color="#37b796"/><path d="M131.8 244.4l2.7-.2 2.1-1.6-2.7 .2z" color="#c56825"/><path d="M136.6 242.6l2.8 0 2.1-1.6-2.7 .1z" color="#bd6425"/><path d="M68.8 283.9l2.4-1.6 2.4-2.4-2.4 1.5z" color="#86e4c8"/><path d="M178.3 235.6l2.9 .9 1.9-1-2.9-1z" color="#a45822"/><path d="M90.5 266.9l2.5-1 2.4-2.2-2.6 1.1z" color="#f1d0a0"/><path d="M56.7 294.8l2.4-1.8 2.4-2.5-2.3 1.7z" color="#57d0b2"/><path d="M173.4 235.9l2.9 .8 2-1.1-2.9-.9z" color="#a45922"/><path d="M95.4 263.7l2.5-.9 2.3-2.1-2.5 .9z" color="#ebb475"/><path d="M73.6 279.9l2.4-1.4 2.4-2.3-2.4 1.3z" color="#a8ebd6"/><path d="M44.7 306.6l2.2-1.9 2.6-2.8-2.3 2z" color="#40bfa0"/><path d="M168.6 236.3l2.9 .7 1.9-1.1-2.8-.8z" color="#a55922"/><path d="M100.2 260.7l2.6-.9 2.3-2-2.6 .9z" color="#e99c55"/><path d="M78.4 276.2l2.5-1.3 2.4-2.3-2.5 1.2z" color="#d3f2e2"/><path d="M163.8 236.9l2.8 .6 2-1.2-2.8-.6z" color="#a65a23"/><path d="M105.1 257.8l2.6-.7 2.3-1.9-2.6 .7z" color="#e78a3e"/><path d="M61.5 290.5l2.4-1.7 2.4-2.5-2.3 1.6z" color="#63d9b8"/><path d="M186 236.6l2.9 1.1 1.9-.9-2.9-1.2z" color="#a65923"/><path d="M158.9 237.7l2.8 .4 2.1-1.2-2.9-.5z" color="#a95a23"/><path d="M110 255.2l2.6-.7 2.3-1.9-2.6 .6z" color="#e37f31"/><path d="M49.5 301.9l2.3-1.8 2.5-2.7-2.4 1.8z" color="#48c5a8"/><path d="M83.3 272.6l2.5-1.2 2.4-2.3-2.5 1.2z" color="#f0efd7"/><path d="M154 238.6l2.8 .4 2.1-1.3-2.8-.4z" color="#ab5c23"/><path d="M114.9 252.6l2.6-.5 2.3-1.8-2.7 .5z" color="#de782a"/><path d="M37.4 314.3l2.2-2.1 2.6-2.8-2.3 2z" color="#34b292"/><path d="M149.1 239.8l2.8 .2 2.1-1.4-2.8-.2z" color="#af5d24"/><path d="M119.8 250.3l2.7-.5 2.2-1.7-2.7 .4z" color="#d87328"/><path d="M66.3 286.3l2.5-1.5 2.4-2.5-2.4 1.6z" color="#7be0c4"/><path d="M181.2 236.5l2.8 1 2-.9-2.9-1.1z" color="#a55922"/><path d="M144.3 241.1l2.7 .1 2.1-1.4-2.7-.2z" color="#b46024"/><path d="M124.7 248.1l2.7-.3 2.2-1.7-2.7 .3z" color="#d16e27"/><path d="M139.4 242.6l2.7 0 2.2-1.5-2.8-.1z" color="#bb6325"/><path d="M129.6 246.1l2.7-.2 2.2-1.7-2.7 .2z" color="#ca6a26"/><path d="M134.5 244.2l2.7-.1 2.2-1.5-2.8 0z" color="#c26625"/><path d="M88.2 269.1l2.5-1.1 2.3-2.1-2.5 1z" color="#f3ddb5"/><path d="M176.3 236.7l2.9 .9 2-1.1-2.9-.9z" color="#a55922"/><path d="M54.3 297.4l2.3-1.8 2.5-2.6-2.4 1.8z" color="#52cdaf"/><path d="M71.2 282.3l2.4-1.4 2.4-2.4-2.4 1.4z" color="#98e8d0"/><path d="M93 265.9l2.6-1 2.3-2.1-2.5 .9z" color="#edc188"/><path d="M42.2 309.4l2.2-2 2.5-2.7-2.2 1.9z" color="#3cbc9c"/><path d="M171.5 237l2.8 .8 2-1.1-2.9-.8z" color="#a65922"/><path d="M97.9 262.8l2.6-.9 2.3-2.1-2.6 .9z" color="#eaa764"/><path d="M76 278.5l2.5-1.3 2.4-2.3-2.5 1.3z" color="#bdefde"/><path d="M166.6 237.5l2.9 .6 2-1.1-2.9-.7z" color="#a75a23"/><path d="M59.1 293l2.3-1.6 2.5-2.6-2.4 1.7z" color="#5dd5b6"/><path d="M188.9 237.7l2.9 1.2 1.9-.9-2.9-1.2z" color="#a85a23"/><path d="M102.8 259.8l2.6-.8 2.3-1.9-2.6 .7z" color="#e99047"/><path d="M161.7 238.1l2.9 .6 2-1.2-2.8-.6z" color="#a95b23"/><path d="M46.9 304.7l2.3-1.9 2.6-2.7-2.3 1.8z" color="#45c2a5"/><path d="M107.7 257.1l2.7-.7 2.2-1.9-2.6 .7z" color="#e58437"/><path d="M34.9 317.2l2.2-2.1 2.5-2.9-2.2 2.1z" color="#31ad8d"/><path d="M80.9 274.9l2.5-1.3 2.4-2.2-2.5 1.2z" color="#ecf5e3"/><path d="M156.8 239l2.9 .4 2-1.3-2.8-.4z" color="#ab5b23"/><path d="M184 237.5l3 1.1 1.9-.9-2.9-1.1z" color="#a75a23"/><path d="M112.6 254.5l2.7-.6 2.2-1.8-2.6 .5z" color="#e27b2b"/><path d="M63.9 288.8l2.4-1.6 2.5-2.4-2.5 1.5z" color="#71ddbf"/><path d="M151.9 240l2.8 .3 2.1-1.3-2.8-.4z" color="#ae5d24"/><path d="M117.5 252.1l2.7-.5 2.3-1.8-2.7 .5z" color="#db7529"/><path d="M147 241.2l2.8 .2 2.1-1.4-2.8-.2z" color="#b25f24"/><path d="M122.5 249.8l2.7-.3 2.2-1.7-2.7 .3z" color="#d57127"/><path d="M142.1 242.6l2.8 .1 2.1-1.5-2.7-.1z" color="#b86225"/><path d="M85.8 271.4l2.5-1.2 2.4-2.2-2.5 1.1z" color="#f5e9c9"/><path d="M127.4 247.8l2.7-.3 2.2-1.6-2.7 .2z" color="#cf6d26"/><path d="M137.2 244.1l2.8 0 2.1-1.5-2.7 0z" color="#bf6525"/><path d="M132.3 245.9l2.7-.2 2.2-1.6-2.7 .1z" color="#c76825"/><path d="M179.2 237.6l2.9 .9 1.9-1-2.8-1z" color="#a75a23"/><path d="M51.8 300.1l2.3-1.8 2.5-2.7-2.3 1.8z" color="#4ec9ad"/><path d="M68.8 284.8l2.4-1.5 2.4-2.4-2.4 1.4z" color="#8ae5ca"/><path d="M39.6 312.2l2.3-2 2.5-2.8-2.2 2z" color="#39b998"/><path d="M90.7 268l2.5-1 2.4-2.1-2.6 1z" color="#f0ce9d"/><path d="M174.3 237.8l2.9 .8 2-1-2.9-.9z" color="#a75a23"/><path d="M95.6 264.9l2.6-1 2.3-2-2.6 .9z" color="#ebb374"/><path d="M191.8 238.9l3 1.3 1.8-.9-2.9-1.3z" color="#ab5c23"/><path d="M169.5 238.1l2.8 .8 2-1.1-2.8-.8z" color="#a85a23"/><path d="M56.6 295.6l2.3-1.7 2.5-2.5-2.3 1.6z" color="#59d2b3"/><path d="M73.6 280.9l2.5-1.4 2.4-2.3-2.5 1.3z" color="#adecd8"/><path d="M100.5 261.9l2.6-.9 2.3-2-2.6 .8z" color="#e99b54"/><path d="M164.6 238.7l2.8 .6 2.1-1.2-2.9-.6z" color="#a95b23"/><path d="M44.4 307.4l2.3-1.9 2.5-2.7-2.3 1.9z" color="#41c0a1"/><path d="M187 238.6l2.9 1.2 1.9-.9-2.9-1.2z" color="#aa5b23"/><path d="M105.4 259l2.7-.7 2.3-1.9-2.7 .7z" color="#e78a3e"/><path d="M78.5 277.2l2.5-1.3 2.4-2.3-2.5 1.3z" color="#d9f3e3"/><path d="M159.7 239.4l2.8 .5 2.1-1.2-2.9-.6z" color="#ab5b23"/><path d="M61.4 291.4l2.4-1.7 2.5-2.5-2.4 1.6z" color="#66daba"/><path d="M110.4 256.4l2.6-.7 2.3-1.8-2.7 .6z" color="#e47f31"/><path d="M154.7 240.3l2.9 .4 2.1-1.3-2.9-.4z" color="#ad5d24"/><path d="M115.3 253.9l2.7-.5 2.2-1.8-2.7 .5z" color="#df782a"/><path d="M182.1 238.5l2.9 1.1 2-1-3-1.1z" color="#a95a23"/><path d="M149.8 241.4l2.8 .3 2.1-1.4-2.8-.3z" color="#b15e24"/><path d="M83.4 273.6l2.5-1.2 2.4-2.2-2.5 1.2z" color="#f1eed5"/><path d="M120.2 251.6l2.7-.4 2.3-1.7-2.7 .3z" color="#d87328"/><path d="M144.9 242.7l2.8 .1 2.1-1.4-2.8-.2z" color="#b66125"/><path d="M49.2 302.8l2.4-1.9 2.5-2.6-2.3 1.8z" color="#4ac6aa"/><path d="M125.2 249.5l2.7-.4 2.2-1.6-2.7 .3z" color="#d26f27"/><path d="M140 244.1l2.8 0 2.1-1.4-2.8-.1z" color="#bd6425"/><path d="M130.1 247.5l2.7-.2 2.2-1.6-2.7 .2z" color="#cc6b26"/><path d="M135 245.7l2.8-.1 2.2-1.5-2.8 0z" color="#c46725"/><path d="M37.1 315.1l2.2-2.1 2.6-2.8-2.3 2z" color="#36b494"/><path d="M66.3 287.2l2.4-1.5 2.5-2.4-2.4 1.5z" color="#7fe1c5"/><path d="M177.2 238.6l2.9 .9 2-1-2.9-.9z" color="#a85a23"/><path d="M88.3 270.2l2.6-1.1 2.3-2.1-2.5 1z" color="#f3dbb1"/><path d="M194.8 240.2l2.9 1.3 1.9-.8-3-1.4z" color="#ae5d24"/><path d="M172.3 238.9l2.9 .8 2-1.1-2.9-.8z" color="#a95a23"/><path d="M93.2 267l2.6-1 2.4-2.1-2.6 1z" color="#edbf86"/><path d="M54.1 298.3l2.3-1.8 2.5-2.6-2.3 1.7z" color="#54ceb1"/><path d="M71.2 283.3l2.4-1.5 2.5-2.3-2.5 1.4z" color="#9de9d1"/><path d="M167.4 239.3l2.9 .7 2-1.1-2.8-.8z" color="#aa5b23"/><path d="M41.9 310.2l2.3-2 2.5-2.7-2.3 1.9z" color="#3ebd9e"/><path d="M189.9 239.8l3 1.2 1.9-.8-3-1.3z" color="#ac5c24"/><path d="M98.2 263.9l2.6-.9 2.3-2-2.6 .9z" color="#eaa663"/><path d="M162.5 239.9l2.9 .6 2-1.2-2.8-.6z" color="#ab5c23"/><path d="M76.1 279.5l2.5-1.4 2.4-2.2-2.5 1.3z" color="#c3f0df"/><path d="M103.1 261l2.6-.8 2.4-1.9-2.7 .7z" color="#e89046"/><path d="M58.9 293.9l2.4-1.7 2.5-2.5-2.4 1.7z" color="#5fd7b6"/><path d="M185 239.6l3 1.1 1.9-.9-2.9-1.2z" color="#ab5b23"/><path d="M157.6 240.7l2.8 .4 2.1-1.2-2.8-.5z" color="#ad5c24"/><path d="M108.1 258.3l2.6-.7 2.3-1.9-2.6 .7z" color="#e58437"/><path d="M152.6 241.7l2.9 .3 2.1-1.3-2.9-.4z" color="#b05e24"/><path d="M113 255.7l2.7-.5 2.3-1.8-2.7 .5z" color="#e27b2b"/><path d="M81 275.9l2.5-1.3 2.4-2.2-2.5 1.2z" color="#edf3e0"/><path d="M46.7 305.5l2.3-2 2.6-2.6-2.4 1.9z" color="#46c3a7"/><path d="M147.7 242.8l2.8 .2 2.1-1.3-2.8-.3z" color="#b56024"/><path d="M118 253.4l2.7-.5 2.2-1.7-2.7 .4z" color="#db7629"/><path d="M180.1 239.5l3 1 1.9-.9-2.9-1.1z" color="#aa5b23"/><path d="M142.8 244.1l2.8 .1 2.1-1.4-2.8-.1z" color="#ba6325"/><path d="M63.8 289.7l2.4-1.6 2.5-2.4-2.4 1.5z" color="#75dec1"/><path d="M122.9 251.2l2.7-.4 2.3-1.7-2.7 .4z" color="#d57128"/><path d="M137.8 245.6l2.8 0 2.2-1.5-2.8 0z" color="#c16625"/><path d="M197.7 241.5l3 1.5 1.9-.8-3-1.5z" color="#b25f24"/><path d="M127.9 249.1l2.7-.2 2.2-1.6-2.7 .2z" color="#d06d26"/><path d="M132.8 247.3l2.8-.2 2.2-1.5-2.8 .1z" color="#c86925"/><path d="M85.9 272.4l2.6-1.2 2.4-2.1-2.6 1.1z" color="#f6e8c7"/><path d="M175.2 239.7l3 .8 1.9-1-2.9-.9z" color="#aa5b23"/><path d="M51.6 300.9l2.3-1.8 2.5-2.6-2.3 1.8z" color="#50cbae"/><path d="M90.9 269.1l2.5-1.1 2.4-2-2.6 1z" color="#f0cb99"/><path d="M68.7 285.7l2.5-1.5 2.4-2.4-2.4 1.5z" color="#8de6cc"/><path d="M192.9 241l2.9 1.3 1.9-.8-2.9-1.3z" color="#af5d24"/><path d="M39.3 313l2.3-2.1 2.6-2.7-2.3 2z" color="#3bbb9a"/><path d="M170.3 240l2.9 .7 2-1-2.9-.8z" color="#aa5b23"/><path d="M95.8 266l2.6-1 2.4-2-2.6 .9z" color="#ebb171"/><path d="M165.4 240.5l2.9 .6 2-1.1-2.9-.7z" color="#ab5c23"/><path d="M73.6 281.8l2.5-1.4 2.5-2.3-2.5 1.4z" color="#b2edd9"/><path d="M188 240.7l2.9 1.2 2-.9-3-1.2z" color="#ad5c24"/><path d="M56.4 296.5l2.4-1.8 2.5-2.5-2.4 1.7z" color="#5bd3b4"/><path d="M100.8 263l2.6-.8 2.3-2-2.6 .8z" color="#e99a53"/><path d="M160.4 241.1l2.9 .5 2.1-1.1-2.9-.6z" color="#ad5c24"/><path d="M105.7 260.2l2.7-.7 2.3-1.9-2.6 .7z" color="#e7893d"/><path d="M44.2 308.2l2.3-2 2.5-2.7-2.3 2z" color="#43c1a3"/><path d="M155.5 242l2.9 .4 2-1.3-2.8-.4z" color="#b05d24"/><path d="M78.6 278.1l2.5-1.3 2.4-2.2-2.5 1.3z" color="#dff4e4"/><path d="M183.1 240.5l2.9 1.1 2-.9-3-1.1z" color="#ac5c24"/><path d="M110.7 257.6l2.7-.6 2.3-1.8-2.7 .5z" color="#e47f31"/><path d="M150.5 243l2.9 .3 2.1-1.3-2.9-.3z" color="#b45f24"/><path d="M61.3 292.2l2.4-1.6 2.5-2.5-2.4 1.6z" color="#6bdbbc"/><path d="M115.7 255.2l2.7-.6 2.3-1.7-2.7 .5z" color="#df782a"/><path d="M145.6 244.2l2.8 .2 2.1-1.4-2.8-.2z" color="#b96225"/><path d="M120.7 252.9l2.7-.4 2.2-1.7-2.7 .4z" color="#d87328"/><path d="M140.6 245.6l2.8 0 2.2-1.4-2.8-.1z" color="#be6525"/><path d="M125.6 250.8l2.8-.3 2.2-1.6-2.7 .2z" color="#d36f27"/><path d="M83.5 274.6l2.6-1.2 2.4-2.2-2.6 1.2z" color="#f2edd2"/><path d="M135.6 247.1l2.8 0 2.2-1.5-2.8 0z" color="#c56825"/><path d="M130.6 248.9l2.8-.2 2.2-1.6-2.8 .2z" color="#cd6b26"/><path d="M178.2 240.5l2.9 1 2-1-3-1z" color="#ab5c23"/><path d="M195.8 242.3l3 1.4 1.9-.7-3-1.5z" color="#b35f24"/><path d="M49 303.5l2.4-1.8 2.5-2.6-2.3 1.8z" color="#4bc7ac"/><path d="M66.2 288.1l2.5-1.5 2.5-2.4-2.5 1.5z" color="#83e3c7"/><path d="M88.5 271.2l2.5-1.1 2.4-2.1-2.5 1.1z" color="#f2d8ad"/><path d="M173.2 240.7l3 .8 2-1-3-.8z" color="#ab5c23"/><path d="M93.4 268l2.6-1 2.4-2-2.6 1z" color="#edbd82"/><path d="M190.9 241.9l3 1.2 1.9-.8-2.9-1.3z" color="#b05d24"/><path d="M168.3 241.1l2.9 .7 2-1.1-2.9-.7z" color="#ac5c24"/><path d="M71.2 284.2l2.5-1.5 2.4-2.3-2.5 1.4z" color="#a2ead4"/><path d="M53.9 299.1l2.4-1.8 2.5-2.6-2.4 1.8z" color="#56d0b2"/><path d="M98.4 265l2.6-.9 2.4-1.9-2.6 .8z" color="#eaa461"/><path d="M163.3 241.6l2.9 .6 2.1-1.1-2.9-.6z" color="#ad5c24"/><path d="M41.6 310.9l2.3-2 2.6-2.7-2.3 2z" color="#40bfa0"/><path d="M186 241.6l3 1.1 1.9-.8-2.9-1.2z" color="#ae5d24"/><path d="M103.4 262.2l2.7-.8 2.3-1.9-2.7 .7z" color="#e88f45"/><path d="M158.4 242.4l2.8 .4 2.1-1.2-2.9-.5z" color="#af5d24"/><path d="M76.1 280.4l2.5-1.3 2.5-2.3-2.5 1.3z" color="#caf1e0"/><path d="M58.8 294.7l2.4-1.6 2.5-2.5-2.4 1.6z" color="#61d8b8"/><path d="M108.4 259.5l2.7-.7 2.3-1.8-2.7 .6z" color="#e58437"/><path d="M153.4 243.3l2.9 .3 2.1-1.2-2.9-.4z" color="#b35f24"/><path d="M113.4 257l2.7-.6 2.3-1.8-2.7 .6z" color="#e27b2b"/><path d="M181.1 241.5l3 1 1.9-.9-2.9-1.1z" color="#ad5c24"/><path d="M148.4 244.4l2.8 .2 2.2-1.3-2.9-.3z" color="#b76125"/><path d="M81.1 276.8l2.5-1.2 2.5-2.2-2.6 1.2z" color="#eef2dd"/><path d="M118.4 254.6l2.7-.4 2.3-1.7-2.7 .4z" color="#dc7629"/><path d="M143.4 245.6l2.8 .1 2.2-1.3-2.8-.2z" color="#bc6425"/><path d="M123.4 252.5l2.7-.4 2.3-1.6-2.8 .3z" color="#d67128"/><path d="M138.4 247.1l2.8 0 2.2-1.5-2.8 0z" color="#c36625"/><path d="M46.5 306.2l2.3-1.9 2.6-2.6-2.4 1.8z" color="#48c5a8"/><path d="M128.4 250.5l2.8-.2 2.2-1.6-2.8 .2z" color="#d06e26"/><path d="M133.4 248.7l2.8-.1 2.2-1.5-2.8 0z" color="#ca6a26"/><path d="M63.7 290.6l2.5-1.6 2.5-2.4-2.5 1.5z" color="#79e0c2"/><path d="M176.2 241.5l2.9 .9 2-.9-2.9-1z" color="#ad5c24"/><path d="M86.1 273.4l2.5-1.2 2.4-2.1-2.5 1.1z" color="#f5e5c1"/><path d="M193.9 243.1l3 1.4 1.9-.8-3-1.4z" color="#b35f24"/><path d="M171.2 241.8l2.9 .8 2.1-1.1-3-.8z" color="#ad5c24"/><path d="M91 270.1l2.6-1 2.4-2.1-2.6 1z" color="#efc995"/><path d="M51.4 301.7l2.3-1.8 2.6-2.6-2.4 1.8z" color="#52ccaf"/><path d="M68.7 286.6l2.5-1.5 2.5-2.4-2.5 1.5z" color="#93e7ce"/><path d="M166.2 242.2l3 .7 2-1.1-2.9-.7z" color="#ae5d24"/><path d="M189 242.7l3 1.2 1.9-.8-3-1.2z" color="#b15e24"/><path d="M96 267l2.7-.9 2.3-2-2.6 .9z" color="#ebaf6f"/><path d="M161.2 242.8l3 .6 2-1.2-2.9-.6z" color="#af5d24"/><path d="M73.7 282.7l2.5-1.3 2.4-2.3-2.5 1.3z" color="#b7eedb"/><path d="M101 264.1l2.7-.8 2.4-1.9-2.7 .8z" color="#e99951"/><path d="M56.3 297.3l2.4-1.7 2.5-2.5-2.4 1.6z" color="#5dd5b5"/><path d="M184.1 242.5l2.9 1.1 2-.9-3-1.1z" color="#af5d24"/><path d="M156.3 243.6l2.8 .4 2.1-1.2-2.8-.4z" color="#b25f24"/><path d="M106.1 261.4l2.6-.8 2.4-1.8-2.7 .7z" color="#e7893d"/><path d="M151.2 244.6l2.9 .3 2.2-1.3-2.9-.3z" color="#b66125"/><path d="M111.1 258.8l2.7-.6 2.3-1.8-2.7 .6z" color="#e37f31"/><path d="M78.6 279.1l2.6-1.3 2.4-2.2-2.5 1.2z" color="#e6f5e5"/><path d="M43.9 308.9l2.3-1.9 2.6-2.7-2.3 1.9z" color="#45c2a5"/><path d="M146.2 245.7l2.9 .2 2.1-1.3-2.8-.2z" color="#bb6325"/><path d="M116.1 256.4l2.7-.5 2.3-1.7-2.7 .4z" color="#df782a"/><path d="M179.1 242.4l3 1 2-.9-3-1z" color="#ae5d24"/><path d="M141.2 247.1l2.9 0 2.1-1.4-2.8-.1z" color="#c06525"/><path d="M121.1 254.2l2.8-.4 2.2-1.7-2.7 .4z" color="#d97428"/><path d="M61.2 293.1l2.5-1.7 2.5-2.4-2.5 1.6z" color="#6fddbe"/><path d="M136.2 248.6l2.8-.1 2.2-1.4-2.8 0z" color="#c76825"/><path d="M126.1 252.1l2.8-.2 2.3-1.6-2.8 .2z" color="#d37027"/><path d="M131.2 250.3l2.8-.2 2.2-1.5-2.8 .1z" color="#ce6c26"/><path d="M83.6 275.6l2.6-1.2 2.4-2.2-2.5 1.2z" color="#f3eccf"/><path d="M174.1 242.6l3 .8 2-1-2.9-.9z" color="#ae5d24"/><path d="M48.8 304.3l2.3-1.9 2.6-2.5-2.3 1.8z" color="#4ec9ad"/><path d="M88.6 272.2l2.6-1 2.4-2.1-2.6 1z" color="#f2d5a8"/><path d="M66.2 289l2.5-1.5 2.5-2.4-2.5 1.5z" color="#87e4c9"/><path d="M192 243.9l3 1.3 1.9-.7-3-1.4z" color="#b46024"/><path d="M169.2 242.9l2.9 .7 2-1-2.9-.8z" color="#ae5d24"/><path d="M93.6 269.1l2.7-1 2.4-2-2.7 .9z" color="#ecba7f"/><path d="M164.2 243.4l2.9 .6 2.1-1.1-3-.7z" color="#b05d24"/><path d="M71.2 285.1l2.5-1.5 2.5-2.2-2.5 1.3z" color="#a8ebd6"/><path d="M187 243.6l3 1.2 2-.9-3-1.2z" color="#b25e24"/><path d="M53.7 299.9l2.4-1.8 2.6-2.5-2.4 1.7z" color="#58d2b3"/><path d="M98.7 266.1l2.6-.9 2.4-1.9-2.7 .8z" color="#eaa35e"/><path d="M159.1 244l3 .5 2.1-1.1-3-.6z" color="#b25f24"/><path d="M103.7 263.3l2.7-.8 2.3-1.9-2.6 .8z" color="#e88e43"/><path d="M154.1 244.9l2.9 .4 2.1-1.3-2.8-.4z" color="#b56024"/><path d="M76.2 281.4l2.5-1.4 2.5-2.2-2.6 1.3z" color="#d1f2e1"/><path d="M182.1 243.4l3 1.1 1.9-.9-2.9-1.1z" color="#b05e24"/><path d="M108.7 260.6l2.7-.6 2.4-1.8-2.7 .6z" color="#e58436"/><path d="M149.1 245.9l2.9 .3 2.1-1.3-2.9-.3z" color="#b96225"/><path d="M113.8 258.2l2.7-.6 2.3-1.7-2.7 .5z" color="#e27b2b"/><path d="M58.7 295.6l2.4-1.7 2.6-2.5-2.5 1.7z" color="#65dab9"/><path d="M144.1 247.1l2.8 .2 2.2-1.4-2.9-.2z" color="#be6425"/><path d="M118.8 255.9l2.8-.4 2.3-1.7-2.8 .4z" color="#dc7629"/><path d="M139 248.5l2.9 0 2.2-1.4-2.9 0z" color="#c46725"/><path d="M123.9 253.8l2.8-.3 2.2-1.6-2.8 .2z" color="#d67228"/><path d="M134 250.1l2.8-.1 2.2-1.5-2.8 .1z" color="#cb6a26"/><path d="M128.9 251.9l2.8-.3 2.3-1.5-2.8 .2z" color="#d16e26"/><path d="M81.2 277.8l2.5-1.3 2.5-2.1-2.6 1.2z" color="#eff0d9"/><path d="M177.1 243.4l3 .9 2-.9-3-1z" color="#af5d24"/><path d="M46.2 307l2.4-1.9 2.5-2.7-2.3 1.9z" color="#4ac6aa"/><path d="M63.7 291.4l2.4-1.6 2.6-2.3-2.5 1.5z" color="#7de1c4"/><path d="M86.2 274.4l2.6-1.2 2.4-2-2.6 1z" color="#f4e1bb"/><path d="M172.1 243.6l3 .8 2-1-3-.8z" color="#af5d24"/><path d="M190 244.8l3.1 1.2 1.9-.8-3-1.3z" color="#b56024"/><path d="M91.2 271.2l2.6-1.1 2.5-2-2.7 1z" color="#eec690"/><path d="M167.1 244l2.9 .7 2.1-1.1-2.9-.7z" color="#b05e24"/><path d="M68.7 287.5l2.5-1.5 2.5-2.4-2.5 1.5z" color="#99e8d0"/><path d="M51.1 302.4l2.4-1.8 2.6-2.5-2.4 1.8z" color="#54ceb0"/><path d="M96.3 268.1l2.6-.9 2.4-2-2.6 .9z" color="#eaad6c"/><path d="M162.1 244.5l2.9 .6 2.1-1.1-2.9-.6z" color="#b25f24"/><path d="M185.1 244.5l3 1.1 1.9-.8-3-1.2z" color="#b35f24"/><path d="M101.3 265.2l2.7-.8 2.4-1.9-2.7 .8z" color="#e9974f"/><path d="M157 245.3l2.9 .4 2.2-1.2-3-.5z" color="#b56024"/><path d="M73.7 283.6l2.5-1.3 2.5-2.3-2.5 1.4z" color="#bdefde"/><path d="M106.4 262.5l2.7-.7 2.3-1.8-2.7 .6z" color="#e7883c"/><path d="M152 246.2l2.9 .3 2.1-1.2-2.9-.4z" color="#b86225"/><path d="M56.1 298.1l2.4-1.8 2.6-2.4-2.4 1.7z" color="#5fd7b6"/><path d="M180.1 244.3l3 1 2-.8-3-1.1z" color="#b15e24"/><path d="M111.4 260l2.8-.6 2.3-1.8-2.7 .6z" color="#e37f31"/><path d="M146.9 247.3l2.9 .2 2.2-1.3-2.9-.3z" color="#bd6425"/><path d="M116.5 257.6l2.8-.5 2.3-1.6-2.8 .4z" color="#df782a"/><path d="M141.9 248.5l2.8 .1 2.2-1.3-2.8-.2z" color="#c26625"/><path d="M78.7 280l2.6-1.3 2.4-2.2-2.5 1.3z" color="#ebf5e4"/><path d="M121.6 255.5l2.8-.4 2.3-1.6-2.8 .3z" color="#d97429"/><path d="M136.8 250l2.8 0 2.3-1.5-2.9 0z" color="#c86925"/><path d="M126.7 253.5l2.8-.3 2.2-1.6-2.8 .3z" color="#d47027"/><path d="M131.7 251.6l2.9-.1 2.2-1.5-2.8 .1z" color="#cf6c26"/><path d="M175.1 244.4l2.9 .9 2.1-1-3-.9z" color="#b15e24"/><path d="M61.1 293.9l2.5-1.7 2.5-2.4-2.4 1.6z" color="#74dec0"/><path d="M83.7 276.5l2.6-1.1 2.5-2.2-2.6 1.2z" color="#f4eacb"/><path d="M170 244.7l3 .7 2.1-1-3-.8z" color="#b15e24"/><path d="M88.8 273.2l2.6-1 2.4-2.1-2.6 1.1z" color="#f1d1a2"/><path d="M48.6 305.1l2.3-1.9 2.6-2.6-2.4 1.8z" color="#50cbae"/><path d="M66.1 289.8l2.5-1.5 2.6-2.3-2.5 1.5z" color="#8be5cb"/><path d="M165 245.1l3 .6 2-1-2.9-.7z" color="#b25f24"/><path d="M188.1 245.6l3 1.2 2-.8-3.1-1.2z" color="#b66025"/><path d="M93.8 270.1l2.7-1 2.4-1.9-2.6 .9z" color="#ebb77a"/><path d="M159.9 245.7l3 .5 2.1-1.1-2.9-.6z" color="#b46024"/><path d="M98.9 267.2l2.7-.9 2.4-1.9-2.7 .8z" color="#eaa15b"/><path d="M71.2 286l2.5-1.5 2.5-2.2-2.5 1.3z" color="#aeecd8"/><path d="M183.1 245.3l3 1.1 2-.8-3-1.1z" color="#b46024"/><path d="M53.5 300.6l2.5-1.8 2.5-2.5-2.4 1.8z" color="#5bd3b4"/><path d="M154.9 246.5l2.9 .4 2.1-1.2-2.9-.4z" color="#b76125"/><path d="M104 264.4l2.7-.8 2.4-1.8-2.7 .7z" color="#e88d42"/><path d="M149.8 247.5l2.9 .2 2.2-1.2-2.9-.3z" color="#bb6325"/><path d="M109.1 261.8l2.7-.7 2.4-1.7-2.8 .6z" color="#e58336"/><path d="M76.2 282.3l2.6-1.4 2.5-2.2-2.6 1.3z" color="#d9f3e3"/><path d="M144.7 248.6l2.9 .2 2.2-1.3-2.9-.2z" color="#c06525"/><path d="M114.2 259.4l2.7-.6 2.4-1.7-2.8 .5z" color="#e27b2b"/><path d="M178 245.3l3.1 .9 2-.9-3-1z" color="#b35f24"/><path d="M139.6 250l2.9 0 2.2-1.4-2.8-.1z" color="#c56825"/><path d="M119.3 257.1l2.8-.4 2.3-1.6-2.8 .4z" color="#dc7629"/><path d="M134.6 251.5l2.8-.1 2.2-1.4-2.8 0z" color="#cc6b26"/><path d="M124.4 255.1l2.8-.3 2.3-1.6-2.8 .3z" color="#d67228"/><path d="M129.5 253.2l2.8-.2 2.3-1.5-2.9 .1z" color="#d16e27"/><path d="M58.5 296.3l2.5-1.6 2.6-2.5-2.5 1.7z" color="#6adbbc"/><path d="M81.3 278.7l2.5-1.2 2.5-2.1-2.6 1.1z" color="#f0efd6"/><path d="M173 245.4l3 .8 2-.9-2.9-.9z" color="#b35f24"/><path d="M86.3 275.4l2.6-1.2 2.5-2-2.6 1z" color="#f3ddb5"/><path d="M63.6 292.2l2.5-1.5 2.5-2.4-2.5 1.5z" color="#82e2c7"/><path d="M168 245.7l2.9 .7 2.1-1-3-.7z" color="#b35f24"/><path d="M91.4 272.2l2.7-1.1 2.4-2-2.7 1z" color="#eec28b"/><path d="M162.9 246.2l3 .6 2.1-1.1-3-.6z" color="#b56024"/><path d="M186.1 246.4l3 1.2 2-.8-3-1.2z" color="#b76125"/><path d="M68.6 288.3l2.5-1.5 2.6-2.3-2.5 1.5z" color="#a0e9d3"/><path d="M96.5 269.1l2.7-.9 2.4-1.9-2.7 .9z" color="#eaaa68"/><path d="M50.9 303.2l2.4-1.8 2.7-2.6-2.5 1.8z" color="#56d0b2"/><path d="M157.8 246.9l3 .5 2.1-1.2-3-.5z" color="#b76125"/><path d="M101.6 266.3l2.7-.8 2.4-1.9-2.7 .8z" color="#e9954c"/><path d="M152.7 247.7l3 .4 2.1-1.2-2.9-.4z" color="#ba6225"/><path d="M181.1 246.2l3 1.1 2-.9-3-1.1z" color="#b56024"/><path d="M73.7 284.5l2.5-1.4 2.6-2.2-2.6 1.4z" color="#c6f0df"/><path d="M106.7 263.6l2.7-.7 2.4-1.8-2.7 .7z" color="#e6883b"/><path d="M147.6 248.8l2.9 .2 2.2-1.3-2.9-.2z" color="#be6425"/><path d="M111.8 261.1l2.8-.5 2.3-1.8-2.7 .6z" color="#e37f30"/><path d="M142.5 250l2.9 .1 2.2-1.3-2.9-.2z" color="#c36725"/><path d="M56 298.8l2.4-1.7 2.6-2.4-2.5 1.6z" color="#61d8b8"/><path d="M116.9 258.8l2.8-.4 2.4-1.7-2.8 .4z" color="#df782a"/><path d="M137.4 251.4l2.9 0 2.2-1.4-2.9 0z" color="#c96926"/><path d="M122.1 256.7l2.8-.4 2.3-1.5-2.8 .3z" color="#d97429"/><path d="M132.3 253l2.8-.1 2.3-1.5-2.8 .1z" color="#cf6d26"/><path d="M176 246.2l3 1 2.1-1-3.1-.9z" color="#b46024"/><path d="M127.2 254.8l2.8-.3 2.3-1.5-2.8 .2z" color="#d47027"/><path d="M78.8 280.9l2.5-1.3 2.5-2.1-2.5 1.2z" color="#edf3e0"/><path d="M170.9 246.4l3 .8 2.1-1-3-.8z" color="#b46024"/><path d="M61 294.7l2.5-1.7 2.6-2.3-2.5 1.5z" color="#78e0c2"/><path d="M83.8 277.5l2.7-1.2 2.4-2.1-2.6 1.2z" color="#f5e9c8"/><path d="M165.9 246.8l2.9 .7 2.1-1.1-2.9-.7z" color="#b56024"/><path d="M88.9 274.2l2.7-1.1 2.5-2-2.7 1.1z" color="#f0cd9c"/><path d="M66.1 290.7l2.5-1.6 2.5-2.3-2.5 1.5z" color="#91e6cd"/><path d="M160.8 247.4l2.9 .5 2.2-1.1-3-.6z" color="#b76125"/><path d="M94.1 271.1l2.6-.9 2.5-2-2.7 .9z" color="#ebb476"/><path d="M184.1 247.3l3 1.1 2-.8-3-1.2z" color="#b86125"/><path d="M155.7 248.1l2.9 .4 2.2-1.1-3-.5z" color="#b96225"/><path d="M99.2 268.2l2.7-.8 2.4-1.9-2.7 .8z" color="#e99e58"/><path d="M71.1 286.8l2.6-1.4 2.5-2.3-2.5 1.4z" color="#b5eddb"/><path d="M150.5 249l3 .3 2.2-1.2-3-.4z" color="#bd6425"/><path d="M104.3 265.5l2.7-.8 2.4-1.8-2.7 .7z" color="#e88c41"/><path d="M53.3 301.4l2.5-1.8 2.6-2.5-2.4 1.7z" color="#5dd5b5"/><path d="M179 247.2l3.1 .9 2-.8-3-1.1z" color="#b66125"/><path d="M145.4 250.1l2.9 .2 2.2-1.3-2.9-.2z" color="#c16625"/><path d="M109.4 262.9l2.8-.6 2.4-1.7-2.8 .5z" color="#e58335"/><path d="M140.3 251.4l2.9 0 2.2-1.3-2.9-.1z" color="#c66825"/><path d="M114.6 260.6l2.8-.6 2.3-1.6-2.8 .4z" color="#e27a2b"/><path d="M76.2 283.1l2.6-1.3 2.5-2.2-2.5 1.3z" color="#e2f4e4"/><path d="M135.1 252.9l2.9-.1 2.3-1.4-2.9 0z" color="#cd6b26"/><path d="M119.7 258.4l2.8-.5 2.4-1.6-2.8 .4z" color="#dc7629"/><path d="M130 254.5l2.9-.2 2.2-1.4-2.8 .1z" color="#d26e27"/><path d="M124.9 256.3l2.8-.3 2.3-1.5-2.8 .3z" color="#d67228"/><path d="M173.9 247.2l3.1 .9 2-.9-3-1z" color="#b66025"/><path d="M58.4 297.1l2.5-1.7 2.6-2.4-2.5 1.7z" color="#6fddbe"/><path d="M81.3 279.6l2.7-1.2 2.5-2.1-2.7 1.2z" color="#f2edd1"/><path d="M168.8 247.5l3.1 .7 2-1-3-.8z" color="#b66025"/><path d="M86.5 276.3l2.6-1.1 2.5-2.1-2.7 1.1z" color="#f2d9ae"/><path d="M63.5 293l2.5-1.6 2.6-2.3-2.5 1.6z" color="#87e4c9"/><path d="M163.7 247.9l3 .6 2.1-1-2.9-.7z" color="#b76125"/><path d="M91.6 273.1l2.7-1 2.4-1.9-2.6 .9z" color="#edbf85"/><path d="M158.6 248.5l3 .5 2.1-1.1-2.9-.5z" color="#b96225"/><path d="M96.7 270.2l2.7-.9 2.5-1.9-2.7 .8z" color="#eaa764"/><path d="M68.6 289.1l2.5-1.5 2.6-2.2-2.6 1.4z" color="#a7ebd5"/><path d="M182.1 248.1l3 1.1 2-.8-3-1.1z" color="#b86225"/><path d="M153.5 249.3l2.9 .4 2.2-1.2-2.9-.4z" color="#bc6325"/><path d="M101.9 267.4l2.7-.8 2.4-1.9-2.7 .8z" color="#e9934a"/><path d="M148.3 250.3l3 .2 2.2-1.2-3-.3z" color="#c06525"/><path d="M107 264.7l2.8-.7 2.4-1.7-2.8 .6z" color="#e6873a"/><path d="M143.2 251.4l2.9 .2 2.2-1.3-2.9-.2z" color="#c46725"/><path d="M73.7 285.4l2.6-1.4 2.5-2.2-2.6 1.3z" color="#cff1e1"/><path d="M112.2 262.3l2.8-.6 2.4-1.7-2.8 .6z" color="#e37e2f"/><path d="M177 248.1l3 .9 2.1-.9-3.1-.9z" color="#b76125"/><path d="M138 252.8l2.9 0 2.3-1.4-2.9 0z" color="#ca6a26"/><path d="M117.4 260l2.8-.4 2.3-1.7-2.8 .5z" color="#de782a"/><path d="M132.9 254.3l2.9-.1 2.2-1.4-2.9 .1z" color="#cf6d26"/><path d="M122.5 257.9l2.9-.3 2.3-1.6-2.8 .3z" color="#d97429"/><path d="M127.7 256l2.9-.2 2.3-1.5-2.9 .2z" color="#d47027"/><path d="M55.8 299.6l2.5-1.7 2.6-2.5-2.5 1.7z" color="#66daba"/><path d="M78.8 281.8l2.6-1.3 2.6-2.1-2.7 1.2z" color="#eef1db"/><path d="M171.9 248.2l3 .8 2.1-.9-3.1-.9z" color="#b76125"/><path d="M84 278.4l2.6-1.2 2.5-2-2.6 1.1z" color="#f5e4c0"/><path d="M166.7 248.5l3.1 .7 2.1-1-3.1-.7z" color="#b86125"/><path d="M60.9 295.4l2.5-1.6 2.6-2.4-2.5 1.6z" color="#7ee1c5"/><path d="M89.1 275.2l2.7-1.1 2.5-2-2.7 1z" color="#efc996"/><path d="M161.6 249l3 .6 2.1-1.1-3-.6z" color="#b96225"/><path d="M66 291.4l2.5-1.5 2.6-2.3-2.5 1.5z" color="#99e8d0"/><path d="M94.3 272.1l2.7-.9 2.4-1.9-2.7 .9z" color="#ebb171"/><path d="M156.4 249.7l3 .4 2.2-1.1-3-.5z" color="#bb6325"/><path d="M99.4 269.3l2.8-.9 2.4-1.8-2.7 .8z" color="#e99b55"/><path d="M151.3 250.5l3 .3 2.1-1.1-2.9-.4z" color="#be6425"/><path d="M180 249l3.1 1 2-.8-3-1.1z" color="#b96225"/><path d="M104.6 266.6l2.8-.8 2.4-1.8-2.8 .7z" color="#e78b3f"/><path d="M71.1 287.6l2.6-1.4 2.6-2.2-2.6 1.4z" color="#bdefdd"/><path d="M146.1 251.6l3 .2 2.2-1.3-3-.2z" color="#c26625"/><path d="M109.8 264l2.8-.6 2.4-1.7-2.8 .6z" color="#e48234"/><path d="M140.9 252.8l3 .1 2.2-1.3-2.9-.2z" color="#c76925"/><path d="M115 261.7l2.8-.5 2.4-1.6-2.8 .4z" color="#e17a2b"/><path d="M135.8 254.2l2.9 0 2.2-1.4-2.9 0z" color="#cd6b26"/><path d="M120.2 259.6l2.8-.4 2.4-1.6-2.9 .3z" color="#db7629"/><path d="M130.6 255.8l2.9-.1 2.3-1.5-2.9 .1z" color="#d26e27"/><path d="M174.9 249l3.1 .9 2-.9-3-.9z" color="#b86225"/><path d="M125.4 257.6l2.8-.3 2.4-1.5-2.9 .2z" color="#d67228"/><path d="M76.3 284l2.6-1.3 2.5-2.2-2.6 1.3z" color="#ebf6e6"/><path d="M169.8 249.2l3 .8 2.1-1-3-.8z" color="#b86225"/><path d="M81.4 280.5l2.7-1.2 2.5-2.1-2.6 1.2z" color="#f3ebcd"/><path d="M58.3 297.9l2.5-1.7 2.6-2.4-2.5 1.6z" color="#75dec1"/><path d="M164.6 249.6l3 .6 2.2-1-3.1-.7z" color="#b96225"/><path d="M86.6 277.2l2.7-1.1 2.5-2-2.7 1.1z" color="#f1d4a7"/><path d="M63.4 293.8l2.5-1.6 2.6-2.3-2.5 1.5z" color="#8ce5cb"/><path d="M159.4 250.1l3 .5 2.2-1-3-.6z" color="#bb6325"/><path d="M91.8 274.1l2.7-1 2.5-1.9-2.7 .9z" color="#ecbb7f"/><path d="M154.3 250.8l2.9 .4 2.2-1.1-3-.4z" color="#bd6425"/><path d="M97 271.2l2.7-.9 2.5-1.9-2.8 .9z" color="#eaa460"/><path d="M68.5 289.9l2.6-1.5 2.6-2.2-2.6 1.4z" color="#afecd8"/><path d="M149.1 251.8l2.9 .2 2.3-1.2-3-.3z" color="#c16625"/><path d="M102.2 268.4l2.7-.8 2.5-1.8-2.8 .8z" color="#e89046"/><path d="M178 249.9l3 1 2.1-.9-3.1-1z" color="#ba6225"/><path d="M143.9 252.9l2.9 .1 2.3-1.2-3-.2z" color="#c56825"/><path d="M107.4 265.8l2.8-.7 2.4-1.7-2.8 .6z" color="#e68639"/><path d="M138.7 254.2l2.9 0 2.3-1.3-3-.1z" color="#ca6a26"/><path d="M112.6 263.4l2.8-.5 2.4-1.7-2.8 .5z" color="#e37d2e"/><path d="M73.7 286.2l2.6-1.4 2.6-2.1-2.6 1.3z" color="#d9f3e3"/><path d="M133.5 255.7l2.9-.1 2.3-1.4-2.9 0z" color="#d06d26"/><path d="M117.8 261.2l2.9-.4 2.3-1.6-2.8 .4z" color="#de782a"/><path d="M128.2 257.3l2.9-.2 2.4-1.4-2.9 .1z" color="#d47027"/><path d="M123 259.2l2.9-.4 2.3-1.5-2.8 .3z" color="#d97428"/><path d="M172.8 250l3.1 .8 2.1-.9-3.1-.9z" color="#ba6225"/><path d="M78.9 282.7l2.6-1.3 2.6-2.1-2.7 1.2z" color="#f0efd6"/><path d="M167.6 250.2l3.1 .7 2.1-.9-3-.8z" color="#ba6225"/><path d="M84.1 279.3l2.7-1.2 2.5-2-2.7 1.1z" color="#f4dfb8"/><path d="M162.4 250.6l3.1 .6 2.1-1-3-.6z" color="#bb6325"/><path d="M60.8 296.2l2.5-1.7 2.6-2.3-2.5 1.6z" color="#83e3c7"/><path d="M89.3 276.1l2.7-1.1 2.5-1.9-2.7 1z" color="#eec58f"/><path d="M157.2 251.2l3.1 .5 2.1-1.1-3-.5z" color="#bd6425"/><path d="M94.5 273.1l2.7-1 2.5-1.8-2.7 .9z" color="#eaad6c"/><path d="M65.9 292.2l2.6-1.5 2.6-2.3-2.6 1.5z" color="#a1e9d3"/><path d="M152 252l3 .4 2.2-1.2-2.9-.4z" color="#c06525"/><path d="M99.7 270.3l2.8-.9 2.4-1.8-2.7 .8z" color="#e99851"/><path d="M146.8 253l3 .2 2.2-1.2-2.9-.2z" color="#c36725"/><path d="M104.9 267.6l2.8-.7 2.5-1.8-2.8 .7z" color="#e78a3e"/><path d="M141.6 254.2l3 .1 2.2-1.3-2.9-.1z" color="#c86925"/><path d="M71.1 288.4l2.6-1.4 2.6-2.2-2.6 1.4z" color="#c7f0df"/><path d="M110.2 265.1l2.8-.6 2.4-1.6-2.8 .5z" color="#e48133"/><path d="M175.9 250.8l3.1 .9 2-.8-3-1z" color="#bb6325"/><path d="M136.4 255.6l2.9-.1 2.3-1.3-2.9 0z" color="#ce6c26"/><path d="M115.4 262.9l2.9-.5 2.4-1.6-2.9 .4z" color="#e17a2b"/><path d="M131.1 257.1l3-.1 2.3-1.4-2.9 .1z" color="#d26f27"/><path d="M120.7 260.8l2.8-.4 2.4-1.6-2.9 .4z" color="#db7529"/><path d="M125.9 258.8l2.9-.2 2.3-1.5-2.9 .2z" color="#d67228"/><path d="M76.3 284.8l2.7-1.3 2.5-2.1-2.6 1.3z" color="#edf3e0"/><path d="M170.7 250.9l3.1 .8 2.1-.9-3.1-.8z" color="#bb6325"/><path d="M81.5 281.4l2.7-1.2 2.6-2.1-2.7 1.2z" color="#f5e9c8"/><path d="M165.5 251.2l3 .7 2.2-1-3.1-.7z" color="#bb6325"/><path d="M86.8 278.1l2.7-1.1 2.5-2-2.7 1.1z" color="#f0cf9f"/><path d="M160.3 251.7l3 .5 2.2-1-3.1-.6z" color="#bd6425"/><path d="M63.3 294.5l2.6-1.5 2.6-2.3-2.6 1.5z" color="#94e7ce"/><path d="M92 275l2.7-1 2.5-1.9-2.7 1z" color="#ebb679"/><path d="M155 252.4l3.1 .4 2.2-1.1-3.1-.5z" color="#bf6525"/><path d="M97.2 272.1l2.8-.8 2.5-1.9-2.8 .9z" color="#eaa15c"/><path d="M149.8 253.2l3 .3 2.2-1.1-3-.4z" color="#c26625"/><path d="M102.5 269.4l2.8-.8 2.4-1.7-2.8 .7z" color="#e88d43"/><path d="M144.6 254.3l3 .2 2.2-1.3-3-.2z" color="#c66825"/><path d="M68.5 290.7l2.6-1.5 2.6-2.2-2.6 1.4z" color="#b7eedb"/><path d="M107.7 266.9l2.9-.7 2.4-1.7-2.8 .6z" color="#e58437"/><path d="M139.3 255.5l3 .1 2.3-1.3-3-.1z" color="#cb6a26"/><path d="M113 264.5l2.8-.5 2.5-1.6-2.9 .5z" color="#e27c2d"/><path d="M134.1 257l2.9-.1 2.3-1.4-2.9 .1z" color="#d06d26"/><path d="M118.3 262.4l2.8-.5 2.4-1.5-2.8 .4z" color="#de772a"/><path d="M173.8 251.7l3.1 .9 2.1-.9-3.1-.9z" color="#bc6325"/><path d="M128.8 258.6l2.9-.2 2.4-1.4-3 .1z" color="#d47027"/><path d="M123.5 260.4l2.9-.3 2.4-1.5-2.9 .2z" color="#d87328"/><path d="M73.7 287l2.7-1.4 2.6-2.1-2.7 1.3z" color="#e3f4e4"/><path d="M168.5 251.9l3.1 .7 2.2-.9-3.1-.8z" color="#bc6325"/><path d="M79 283.5l2.6-1.3 2.6-2-2.7 1.2z" color="#f2edd1"/><path d="M163.3 252.2l3.1 .7 2.1-1-3-.7z" color="#bd6425"/><path d="M84.2 280.2l2.7-1.2 2.6-2-2.7 1.1z" color="#f3d9af"/><path d="M158.1 252.8l3 .5 2.2-1.1-3-.5z" color="#be6425"/><path d="M89.5 277l2.7-1 2.5-2-2.7 1z" color="#edc087"/><path d="M152.8 253.5l3 .4 2.3-1.1-3.1-.4z" color="#c16625"/><path d="M94.7 274l2.8-.9 2.5-1.8-2.8 .8z" color="#eaa967"/><path d="M147.6 254.5l3 .2 2.2-1.2-3-.3z" color="#c46725"/><path d="M65.9 293l2.6-1.6 2.6-2.2-2.6 1.5z" color="#aaebd6"/><path d="M100 271.3l2.8-.9 2.5-1.8-2.8 .8z" color="#e9954d"/><path d="M142.3 255.6l3 .1 2.3-1.2-3-.2z" color="#c96925"/><path d="M105.3 268.6l2.8-.7 2.5-1.7-2.9 .7z" color="#e6883c"/><path d="M137 256.9l3 0 2.3-1.3-3-.1z" color="#ce6c26"/><path d="M110.6 266.2l2.8-.6 2.4-1.6-2.8 .5z" color="#e48031"/><path d="M131.7 258.4l3-.1 2.3-1.4-2.9 .1z" color="#d26e27"/><path d="M115.8 264l2.9-.5 2.4-1.6-2.8 .5z" color="#e0792a"/><path d="M71.1 289.2l2.6-1.4 2.7-2.2-2.7 1.4z" color="#d1f2e1"/><path d="M126.4 260.1l3-.3 2.3-1.4-2.9 .2z" color="#d67228"/><path d="M121.1 261.9l2.9-.3 2.4-1.5-2.9 .3z" color="#db7529"/><path d="M171.6 252.6l3.1 .8 2.2-.8-3.1-.9z" color="#bd6425"/><path d="M76.4 285.6l2.6-1.3 2.6-2.1-2.6 1.3z" color="#eff1db"/><path d="M166.4 252.9l3.1 .7 2.1-1-3.1-.7z" color="#bd6425"/><path d="M81.6 282.2l2.7-1.2 2.6-2-2.7 1.2z" color="#f5e4c0"/><path d="M161.1 253.3l3.1 .6 2.2-1-3.1-.7z" color="#be6425"/><path d="M86.9 279l2.7-1.1 2.6-1.9-2.7 1z" color="#efca96"/><path d="M155.8 253.9l3.1 .4 2.2-1-3-.5z" color="#c06525"/><path d="M92.2 276l2.7-1 2.6-1.9-2.8 .9z" color="#ebb272"/><path d="M150.6 254.7l3 .3 2.2-1.1-3-.4z" color="#c36725"/><path d="M97.5 273.1l2.8-.9 2.5-1.8-2.8 .9z" color="#e99d57"/><path d="M145.3 255.7l3 .2 2.3-1.2-3-.2z" color="#c76825"/><path d="M102.8 270.4l2.8-.7 2.5-1.8-2.8 .7z" color="#e88c41"/><path d="M140 256.9l3 .1 2.3-1.3-3-.1z" color="#cb6b26"/><path d="M68.5 291.4l2.6-1.4 2.6-2.2-2.6 1.4z" color="#c0efde"/><path d="M108.1 267.9l2.8-.6 2.5-1.7-2.8 .6z" color="#e58336"/><path d="M134.7 258.3l2.9-.1 2.4-1.3-3 0z" color="#d06d26"/><path d="M113.4 265.6l2.9-.5 2.4-1.6-2.9 .5z" color="#e27b2c"/><path d="M129.4 259.8l2.9-.2 2.4-1.3-3 .1z" color="#d47027"/><path d="M118.7 263.5l2.9-.4 2.4-1.5-2.9 .3z" color="#dd772a"/><path d="M124 261.6l3-.3 2.4-1.5-3 .3z" color="#d87328"/><path d="M169.5 253.6l3.1 .7 2.1-.9-3.1-.8z" color="#be6425"/><path d="M73.7 287.8l2.7-1.4 2.6-2.1-2.6 1.3z" color="#ecf5e4"/><path d="M164.2 253.9l3.1 .6 2.2-.9-3.1-.7z" color="#be6425"/><path d="M79 284.3l2.7-1.3 2.6-2-2.7 1.2z" color="#f4ebcc"/><path d="M158.9 254.3l3.1 .6 2.2-1-3.1-.6z" color="#c06525"/><path d="M84.3 281l2.7-1.1 2.6-2-2.7 1.1z" color="#f1d3a6"/><path d="M153.6 255l3.1 .4 2.2-1.1-3.1-.4z" color="#c26625"/><path d="M89.6 277.9l2.8-1 2.5-1.9-2.7 1z" color="#ecbb7f"/><path d="M148.3 255.9l3 .3 2.3-1.2-3-.3z" color="#c56825"/><path d="M94.9 275l2.8-1 2.6-1.8-2.8 .9z" color="#eaa561"/><path d="M143 257l3 .1 2.3-1.2-3-.2z" color="#c96926"/><path d="M100.3 272.2l2.8-.8 2.5-1.7-2.8 .7z" color="#e99148"/><path d="M137.6 258.2l3 0 2.4-1.2-3-.1z" color="#ce6c26"/><path d="M105.6 269.7l2.9-.7 2.4-1.7-2.8 .6z" color="#e6873a"/><path d="M132.3 259.6l3-.1 2.3-1.3-2.9 .1z" color="#d16e27"/><path d="M110.9 267.3l2.9-.6 2.5-1.6-2.9 .5z" color="#e37e30"/><path d="M127 261.3l2.9-.3 2.4-1.4-2.9 .2z" color="#d57128"/><path d="M116.3 265.1l2.9-.5 2.4-1.5-2.9 .4z" color="#df782a"/><path d="M121.6 263.1l3-.4 2.4-1.4-3 .3z" color="#da7529"/><path d="M71.1 290l2.6-1.5 2.7-2.1-2.7 1.4z" color="#ddf4e3"/><path d="M167.3 254.5l3.1 .7 2.2-.9-3.1-.7z" color="#bf6525"/><path d="M76.4 286.4l2.7-1.3 2.6-2.1-2.7 1.3z" color="#f1eed5"/><path d="M162 254.9l3.1 .6 2.2-1-3.1-.6z" color="#bf6525"/><path d="M81.7 283l2.7-1.2 2.6-1.9-2.7 1.1z" color="#f3deb5"/><path d="M156.7 255.4l3.1 .5 2.2-1-3.1-.6z" color="#c16625"/><path d="M87 279.9l2.8-1.1 2.6-1.9-2.8 1z" color="#eec48d"/><path d="M151.3 256.2l3.1 .3 2.3-1.1-3.1-.4z" color="#c46725"/><path d="M92.4 276.9l2.8-1 2.5-1.9-2.8 1z" color="#eaad6c"/><path d="M146 257.1l3 .2 2.3-1.1-3-.3z" color="#c76925"/><path d="M97.7 274l2.9-.8 2.5-1.8-2.8 .8z" color="#e99951"/><path d="M140.6 258.2l3.1 .1 2.3-1.2-3-.1z" color="#cb6b26"/><path d="M103.1 271.4l2.8-.8 2.6-1.6-2.9 .7z" color="#e78a3f"/><path d="M135.3 259.5l3 0 2.3-1.3-3 0z" color="#d06d26"/><path d="M108.5 269l2.8-.7 2.5-1.6-2.9 .6z" color="#e48234"/><path d="M129.9 261l3-.1 2.4-1.4-3 .1z" color="#d37027"/><path d="M113.8 266.7l2.9-.5 2.5-1.6-2.9 .5z" color="#e17a2b"/><path d="M124.6 262.7l2.9-.2 2.4-1.5-2.9 .3z" color="#d77328"/><path d="M119.2 264.6l2.9-.4 2.5-1.5-3 .4z" color="#dc7629"/><path d="M73.7 288.5l2.7-1.3 2.7-2.1-2.7 1.3z" color="#eef2de"/><path d="M165.1 255.5l3.1 .6 2.2-.9-3.1-.7z" color="#c06525"/><path d="M79.1 285.1l2.7-1.3 2.6-2-2.7 1.2z" color="#f5e8c6"/><path d="M159.8 255.9l3.1 .5 2.2-.9-3.1-.6z" color="#c16625"/><path d="M84.4 281.8l2.8-1.1 2.6-1.9-2.8 1.1z" color="#f0cd9c"/><path d="M154.4 256.5l3.1 .4 2.3-1-3.1-.5z" color="#c36625"/><path d="M89.8 278.8l2.8-1.1 2.6-1.8-2.8 1z" color="#ebb577"/><path d="M149 257.3l3.1 .3 2.3-1.1-3.1-.3z" color="#c56825"/><path d="M95.2 275.9l2.8-1 2.6-1.7-2.9 .8z" color="#eaa05b"/><path d="M143.7 258.3l3 .2 2.3-1.2-3-.2z" color="#c96a26"/><path d="M100.6 273.2l2.8-.8 2.5-1.8-2.8 .8z" color="#e88e43"/><path d="M138.3 259.5l3 0 2.4-1.2-3.1-.1z" color="#ce6c26"/><path d="M105.9 270.6l2.9-.6 2.5-1.7-2.8 .7z" color="#e58538"/><path d="M132.9 260.9l3-.1 2.4-1.3-3 0z" color="#d16e27"/><path d="M111.3 268.3l2.9-.6 2.5-1.5-2.9 .5z" color="#e37d2e"/><path d="M127.5 262.5l3-.3 2.4-1.3-3 .1z" color="#d57128"/><path d="M116.7 266.2l3-.5 2.4-1.5-2.9 .4z" color="#de782a"/><path d="M122.1 264.2l3-.3 2.4-1.4-2.9 .2z" color="#d97429"/><path d="M162.9 256.4l3.1 .6 2.2-.9-3.1-.6z" color="#c16625"/><path d="M76.4 287.2l2.8-1.3 2.6-2.1-2.7 1.3z" color="#f3eccf"/><path d="M157.5 256.9l3.1 .5 2.3-1-3.1-.5z" color="#c26625"/><path d="M81.8 283.8l2.8-1.2 2.6-1.9-2.8 1.1z" color="#f2d7ab"/><path d="M152.1 257.6l3.1 .4 2.3-1.1-3.1-.4z" color="#c46725"/><path d="M87.2 280.7l2.8-1.1 2.6-1.9-2.8 1.1z" color="#edbe84"/><path d="M146.7 258.5l3.1 .2 2.3-1.1-3.1-.3z" color="#c76925"/><path d="M92.6 277.7l2.8-.9 2.6-1.9-2.8 1z" color="#eaa865"/><path d="M141.3 259.5l3.1 .1 2.3-1.1-3-.2z" color="#cb6b26"/><path d="M98 274.9l2.9-.8 2.5-1.7-2.8 .8z" color="#e9944c"/><path d="M135.9 260.8l3.1 0 2.3-1.3-3 0z" color="#cf6d26"/><path d="M103.4 272.4l2.9-.8 2.5-1.6-2.9 .6z" color="#e6883c"/><path d="M130.5 262.2l3-.1 2.4-1.3-3 .1z" color="#d36f27"/><path d="M108.8 270l2.9-.7 2.5-1.6-2.9 .6z" color="#e48032"/><path d="M125.1 263.9l3-.3 2.4-1.4-3 .3z" color="#d77228"/><path d="M114.2 267.7l3-.5 2.5-1.5-3 .5z" color="#e0792a"/><path d="M119.7 265.7l2.9-.4 2.5-1.4-3 .3z" color="#db7629"/><path d="M160.6 257.4l3.2 .6 2.2-1-3.1-.6z" color="#c26625"/><path d="M79.2 285.9l2.7-1.3 2.7-2-2.8 1.2z" color="#f4e0ba"/><path d="M155.2 258l3.2 .4 2.2-1-3.1-.5z" color="#c36725"/><path d="M84.6 282.6l2.8-1.1 2.6-1.9-2.8 1.1z" color="#efc792"/><path d="M149.8 258.7l3.1 .3 2.3-1-3.1-.4z" color="#c66825"/><path d="M90 279.6l2.8-1 2.6-1.8-2.8 .9z" color="#ebb070"/><path d="M144.4 259.6l3.1 .2 2.3-1.1-3.1-.2z" color="#c96a26"/><path d="M95.4 276.8l2.9-1 2.6-1.7-2.9 .8z" color="#e99b55"/><path d="M139 260.8l3 0 2.4-1.2-3.1-.1z" color="#cd6c26"/><path d="M100.9 274.1l2.8-.8 2.6-1.7-2.9 .8z" color="#e88b40"/><path d="M133.5 262.1l3.1-.1 2.4-1.2-3.1 0z" color="#d16e26"/><path d="M106.3 271.6l2.9-.7 2.5-1.6-2.9 .7z" color="#e58336"/><path d="M128.1 263.6l3-.2 2.4-1.3-3 .1z" color="#d47027"/><path d="M111.7 269.3l3-.5 2.5-1.6-3 .5z" color="#e27b2c"/><path d="M122.6 265.3l3-.3 2.5-1.4-3 .3z" color="#d97428"/><path d="M117.2 267.2l3-.4 2.4-1.5-2.9 .4z" color="#dd772a"/><path d="M158.4 258.4l3.1 .5 2.3-.9-3.2-.6z" color="#c36625"/><path d="M81.9 284.6l2.8-1.2 2.7-1.9-2.8 1.1z" color="#f1d0a0"/><path d="M152.9 259l3.2 .4 2.3-1-3.2-.4z" color="#c46725"/><path d="M87.4 281.5l2.8-1.1 2.6-1.8-2.8 1z" color="#ebb87b"/><path d="M147.5 259.8l3.1 .3 2.3-1.1-3.1-.3z" color="#c76925"/><path d="M92.8 278.6l2.9-1 2.6-1.8-2.9 1z" color="#eaa35e"/><path d="M142 260.8l3.1 .2 2.4-1.2-3.1-.2z" color="#cb6a26"/><path d="M98.3 275.8l2.8-.8 2.6-1.7-2.8 .8z" color="#e89046"/><path d="M136.6 262l3 0 2.4-1.2-3 0z" color="#cf6c26"/><path d="M103.7 273.3l2.9-.7 2.6-1.7-2.9 .7z" color="#e68639"/><path d="M131.1 263.4l3.1-.1 2.4-1.3-3.1 .1z" color="#d26f27"/><path d="M109.2 270.9l3-.6 2.5-1.5-3 .5z" color="#e37e2f"/><path d="M125.6 265l3.1-.2 2.4-1.4-3 .2z" color="#d67228"/><path d="M114.7 268.8l3-.5 2.5-1.5-3 .4z" color="#df782a"/><path d="M120.2 266.8l3-.4 2.4-1.4-3 .3z" color="#da7529"/><path d="M156.1 259.4l3.1 .5 2.3-1-3.1-.5z" color="#c46725"/><path d="M150.6 260.1l3.2 .3 2.3-1-3.2-.4z" color="#c66825"/><path d="M84.7 283.4l2.8-1.1 2.7-1.9-2.8 1.1z" color="#edc087"/><path d="M145.1 261l3.2 .2 2.3-1.1-3.1-.3z" color="#c96926"/><path d="M90.2 280.4l2.8-1 2.7-1.8-2.9 1z" color="#eaaa68"/><path d="M139.6 262l3.2 .1 2.3-1.1-3.1-.2z" color="#cd6b26"/><path d="M95.7 277.6l2.8-.9 2.6-1.7-2.8 .8z" color="#e9964e"/><path d="M134.2 263.3l3 0 2.4-1.3-3 0z" color="#d06d26"/><path d="M101.1 275l3-.8 2.5-1.6-2.9 .7z" color="#e7893d"/><path d="M128.7 264.8l3-.2 2.5-1.3-3.1 .1z" color="#d47027"/><path d="M106.6 272.6l3-.7 2.6-1.6-3 .6z" color="#e48133"/><path d="M123.2 266.4l3-.3 2.5-1.3-3.1 .2z" color="#d87328"/><path d="M112.2 270.3l2.9-.5 2.6-1.5-3 .5z" color="#e17a2b"/><path d="M117.7 268.3l3-.4 2.5-1.5-3 .4z" color="#dc7629"/><path d="M153.8 260.4l3.1 .4 2.3-.9-3.1-.5z" color="#c56725"/><path d="M148.3 261.2l3.1 .2 2.4-1-3.2-.3z" color="#c76925"/><path d="M87.5 282.3l2.9-1.1 2.6-1.8-2.8 1z" color="#ebb172"/><path d="M142.8 262.1l3.1 .2 2.4-1.1-3.2-.2z" color="#ca6a26"/><path d="M93 279.4l2.9-1 2.6-1.7-2.8 .9z" color="#e99d57"/><path d="M137.2 263.3l3.1 0 2.5-1.2-3.2-.1z" color="#ce6c26"/><path d="M98.5 276.7l3-.8 2.6-1.7-3 .8z" color="#e88c41"/><path d="M131.7 264.6l3.1-.1 2.4-1.2-3 0z" color="#d26e27"/><path d="M104.1 274.2l2.9-.7 2.6-1.6-3 .7z" color="#e58437"/><path d="M126.2 266.1l3-.2 2.5-1.3-3 .2z" color="#d57128"/><path d="M109.6 271.9l3-.6 2.5-1.5-2.9 .5z" color="#e27c2d"/><path d="M120.7 267.9l3-.4 2.5-1.4-3 .3z" color="#d97429"/><path d="M115.1 269.8l3-.5 2.6-1.4-3 .4z" color="#de782a"/><path d="M151.4 261.4l3.2 .4 2.3-1-3.1-.4z" color="#c66825"/><path d="M145.9 262.3l3.1 .2 2.4-1.1-3.1-.2z" color="#c86925"/><path d="M90.4 281.2l2.8-1 2.7-1.8-2.9 1z" color="#eaa460"/><path d="M140.3 263.3l3.2 .1 2.4-1.1-3.1-.2z" color="#cc6b26"/><path d="M95.9 278.4l2.9-.9 2.7-1.6-3 .8z" color="#e99147"/><path d="M134.8 264.5l3.1 0 2.4-1.2-3.1 0z" color="#d06d26"/><path d="M101.5 275.9l2.9-.8 2.6-1.6-2.9 .7z" color="#e6873a"/><path d="M129.2 265.9l3.1-.2 2.5-1.2-3.1 .1z" color="#d36f27"/><path d="M107 273.5l3-.7 2.6-1.5-3 .6z" color="#e37f30"/><path d="M123.7 267.5l3.1-.3 2.4-1.3-3 .2z" color="#d77228"/><path d="M112.6 271.3l3-.5 2.5-1.5-3 .5z" color="#e0792a"/><path d="M118.1 269.3l3.1-.4 2.5-1.4-3 .4z" color="#db7529"/><path d="M149 262.5l3.2 .3 2.4-1-3.2-.4z" color="#c76825"/><path d="M143.5 263.4l3.2 .2 2.3-1.1-3.1-.2z" color="#ca6a26"/><path d="M137.9 264.5l3.2 0 2.4-1.1-3.2-.1z" color="#cd6c26"/><path d="M93.2 280.2l3-1 2.6-1.7-2.9 .9z" color="#e9974f"/><path d="M132.3 265.7l3.2 0 2.4-1.2-3.1 0z" color="#d16e26"/><path d="M98.8 277.5l3-.8 2.6-1.6-2.9 .8z" color="#e78a3e"/><path d="M126.8 267.2l3-.2 2.5-1.3-3.1 .2z" color="#d47027"/><path d="M104.4 275.1l3-.7 2.6-1.6-3 .7z" color="#e48134"/><path d="M121.2 268.9l3-.4 2.6-1.3-3.1 .3z" color="#d87328"/><path d="M110 272.8l3-.6 2.6-1.4-3 .5z" color="#e27a2b"/><path d="M115.6 270.8l3-.5 2.6-1.4-3.1 .4z" color="#dd7629"/><path d="M146.7 263.6l3.2 .2 2.3-1-3.2-.3z" color="#c86925"/><path d="M141.1 264.5l3.1 .1 2.5-1-3.2-.2z" color="#cb6a26"/><path d="M135.5 265.7l3.1-.1 2.5-1.1-3.2 0z" color="#cf6c26"/><path d="M96.2 279.2l2.9-.8 2.7-1.7-3 .8z" color="#e88c42"/><path d="M129.8 267l3.2-.1 2.5-1.2-3.2 0z" color="#d26f27"/><path d="M101.8 276.7l2.9-.8 2.7-1.5-3 .7z" color="#e58437"/><path d="M124.2 268.5l3.1-.2 2.5-1.3-3 .2z" color="#d57128"/><path d="M107.4 274.4l3-.7 2.6-1.5-3 .6z" color="#e37d2d"/><path d="M118.6 270.3l3.1-.4 2.5-1.4-3 .4z" color="#da7429"/><path d="M113 272.2l3-.5 2.6-1.4-3 .5z" color="#de782a"/><path d="M144.2 264.6l3.2 .2 2.5-1-3.2-.2z" color="#c96926"/><path d="M138.6 265.6l3.2 .1 2.4-1.1-3.1-.1z" color="#cc6b26"/><path d="M133 266.9l3.1-.1 2.5-1.2-3.1 .1z" color="#d06d26"/><path d="M127.3 268.3l3.2-.2 2.5-1.2-3.2 .1z" color="#d36f27"/><path d="M99.1 278.4l3-.9 2.6-1.6-2.9 .8z" color="#e6873a"/><path d="M121.7 269.9l3.1-.3 2.5-1.3-3.1 .2z" color="#d77228"/><path d="M104.7 275.9l3.1-.6 2.6-1.6-3 .7z" color="#e37f30"/><path d="M116 271.7l3.1-.4 2.6-1.4-3.1 .4z" color="#db7529"/><path d="M110.4 273.7l3-.5 2.6-1.5-3 .5z" color="#e0792a"/><path d="M141.8 265.7l3.2 .2 2.4-1.1-3.2-.2z" color="#ca6a26"/><path d="M136.1 266.8l3.2 0 2.5-1.1-3.2-.1z" color="#ce6c26"/><path d="M130.5 268.1l3.1-.1 2.5-1.2-3.1 .1z" color="#d16e26"/><path d="M124.8 269.6l3.1-.3 2.6-1.2-3.2 .2z" color="#d47027"/><path d="M102.1 277.5l3-.7 2.7-1.5-3.1 .6z" color="#e48133"/><path d="M119.1 271.3l3.1-.4 2.6-1.3-3.1 .3z" color="#d87328"/><path d="M107.8 275.3l3-.7 2.6-1.4-3 .5z" color="#e27a2b"/><path d="M113.4 273.2l3.1-.5 2.6-1.4-3.1 .4z" color="#dd7629"/><path d="M139.3 266.8l3.2 .1 2.5-1-3.2-.2z" color="#cb6a26"/><path d="M133.6 268l3.2-.1 2.5-1.1-3.2 0z" color="#cf6c26"/><path d="M127.9 269.3l3.2-.1 2.5-1.2-3.1 .1z" color="#d26f27"/><path d="M122.2 270.9l3.2-.3 2.5-1.3-3.1 .3z" color="#d57128"/><path d="M105.1 276.8l3-.7 2.7-1.5-3 .7z" color="#e27c2d"/><path d="M116.5 272.7l3.1-.5 2.6-1.3-3.1 .4z" color="#d97429"/><path d="M110.8 274.6l3.1-.5 2.6-1.4-3.1 .5z" color="#de782a"/><path d="M136.8 267.9l3.2 .1 2.5-1.1-3.2-.1z" color="#cc6b26"/><path d="M131.1 269.2l3.2-.1 2.5-1.2-3.2 .1z" color="#d06d26"/><path d="M125.4 270.6l3.1-.2 2.6-1.2-3.2 .1z" color="#d36f27"/><path d="M119.6 272.2l3.2-.3 2.6-1.3-3.2 .3z" color="#d67228"/><path d="M113.9 274.1l3.1-.5 2.6-1.4-3.1 .5z" color="#db7529"/><path d="M108.1 276.1l3.1-.6 2.7-1.4-3.1 .5z" color="#e0792a"/><path d="M134.3 269.1l3.2-.1 2.5-1-3.2-.1z" color="#cd6b26"/><path d="M128.5 270.4l3.2-.2 2.6-1.1-3.2 .1z" color="#d06e26"/><path d="M122.8 271.9l3.1-.3 2.6-1.2-3.1 .2z" color="#d47027"/><path d="M117 273.6l3.1-.4 2.7-1.3-3.2 .3z" color="#d87328"/><path d="M111.2 275.5l3.1-.6 2.7-1.3-3.1 .5z" color="#dc7629"/><path d="M131.7 270.2l3.3-.1 2.5-1.1-3.2 .1z" color="#ce6c26"/><path d="M125.9 271.6l3.2-.2 2.6-1.2-3.2 .2z" color="#d16e27"/><path d="M120.1 273.2l3.2-.4 2.6-1.2-3.1 .3z" color="#d57127"/><path d="M114.3 274.9l3.2-.4 2.6-1.3-3.1 .4z" color="#d97428"/><path d="M129.1 271.4l3.3-.2 2.6-1.1-3.3 .1z" color="#cf6c26"/><path d="M123.3 272.8l3.2-.3 2.6-1.1-3.2 .2z" color="#d26f27"/><path d="M117.5 274.5l3.2-.4 2.6-1.3-3.2 .4z" color="#d67128"/><path d="M126.5 272.5l3.3-.2 2.6-1.1-3.3 .2z" color="#d06d26"/><path d="M120.7 274.1l3.2-.4 2.6-1.2-3.2 .3z" color="#d36f27"/><path d="M123.9 273.7l3.2-.2 2.7-1.2-3.3 .2z" color="#d06d26"/></g><path d="M40.8 311.6l.5-.6M41.3 311l.6-.8M48.3 304.7l.1 0M47.3 306l.4-.4M47.7 305.6l.5-.6M55.6 299.2l0 0M54.6 300.4l.4-.4M55 300l.4-.6M62.9 294.8l.6-.7M63.5 294.1l.1-.2M63.7 293.8l.1-.2M73.3 288.2l.1-.1M73.4 288l.1-.1M72.4 289.3l.3-.5M72.7 288.8l.4-.5M83.7 283.9l.5-.6M84.2 283.3l.6-.7M97.8 278.8l.4-.5M98.2 278.3l.7-.8M117.3 274.5l1.1-.8M118.4 273.7l.4-.4M42.5 309.3l.1-.2M55.7 299l.3-.4M56.3 298.2l.1-.1M56.5 297.9l.1-.1M64.5 292.7l.1-.1M64.7 292.4l.3-.3M63.9 293.5l.2-.2M64.1 293.3l.1-.2M73.5 287.9l.6-.7M74.1 287.2l.4-.6M84.9 282.4l.6-.7M85.5 281.7l.3-.4M84.8 282.6l0-.1M84.8 282.5l.1-.1M99 277.4l.8-.8M99.8 276.6l.3-.3M98.9 277.5l.1 0M99 277.5l0-.1M118.8 273.3l.6-.5M119.4 272.8l.8-.6M43.8 307.5l.1-.1M49.7 302.8l.1-.2M50.3 302l.1-.1M57.2 297l.1-.2M57.5 296.5l.1-.1M57 297.3l.1-.2M65.8 290.9l.1-.1M65.2 291.7l.1-.1M65.5 291.4l.1-.2M65.7 291l.1-.1M74.9 286l.4-.5M75.3 285.5l.1-.2M74.5 286.6l.2-.2M74.7 286.4l.2-.3M86.6 280.2l.1-.2M86.7 280l.1 0M85.8 281.3l.4-.5M86.2 280.8l.4-.6M101 275.1l.1-.1M101.1 275l0 0M100.1 276.3l.4-.5M100.5 275.8l.5-.7M120.7 271.7l.6-.5M121.3 271.2l.1-.2M120.2 272.2l.2-.2M120.4 272l.3-.3M51.3 300.5l0-.1M50.4 301.8l.1-.1M50.9 301l.1-.1M58.6 295l0 0M58.6 295l0-.1M57.7 296.3l.3-.4M58.3 295.4l.1-.2M65.9 290.7l.3-.3M66.5 290l.3-.6M75.4 285.3l.4-.6M75.8 284.7l.3-.3M76.2 284.2l.1-.2M86.8 280l.5-.8M87.3 279.2l.4-.5M101.1 275l.6-.8M101.7 274.2l.3-.4M121.4 271l.7-.6M122.1 270.4l.5-.6M51.5 300.2l.1-.2M51.9 299.5l.1-.2M58.7 294.7l.4-.6M59.2 294l.1-.2M67.3 288.7l0-.1M67.4 288.5l.1-.1M67.5 288.4l.2-.3M66.8 289.4l.1-.1M66.9 289.2l.1 0M67 289.2l.2-.4M76.3 283.9l.6-.8M76.9 283.1l.2-.4M76.3 284l0 0M76.3 284l0-.1M88 278.1l.3-.4M88.3 277.7l.2-.3M87.7 278.7l.1-.2M87.8 278.5l.2-.4M102.6 272.9l.2-.2M102.8 272.7l0-.2M102 273.8l.3-.4M102.3 273.4l.3-.5M123.1 269.1l.4-.3M123.5 268.8l.1-.2M122.6 269.8l.2-.2M122.8 269.6l.3-.5M52.7 298.2l.1-.1M53 297.7l.1-.1M52.2 299l.1-.1M52.3 298.9l.1-.1M60 292.7l.1-.2M60.1 292.5l.1-.1M60.2 292.3l.1-.1M59.5 293.5l.1-.2M59.7 293.2l0-.1M68.3 286.9l.1-.1M67.7 287.9l.3-.3M68.1 287.4l.2-.5M77.5 282l.3-.4M77.8 281.6l.1-.2M77.1 282.7l.2-.3M77.3 282.4l.2-.4M89.2 276.2l0 0M89.2 276.2l0-.1M88.5 277.4l.3-.5M88.8 276.9l.4-.7M102.8 272.5l.5-.6M103.3 271.9l.3-.6M123.6 268.6l.5-.6M124.1 268l.3-.6M53.6 296.8l0-.1M53.7 296.5l.2-.2M53.3 297.3l0-.1M53.5 297l0-.2M60.8 291.2l.1 0M61 291l0-.2M60.3 292.2l0-.1M60.4 292l.1-.1M60.5 291.8l.1-.2M60.7 291.5l.1-.3M68.4 286.7l.5-.7M68.9 286l.3-.6M78.5 280.1l.1 0M78.6 280.1l0 0M77.9 281.4l.3-.6M78.2 280.8l.3-.7M89.2 276.1l.4-.7M89.6 275.4l.3-.5M103.7 270.9l.4-.5M104.1 270.4l.1-.4M103.6 271.3l.1-.2M103.7 271.1l0-.2M124.7 266.9l.4-.4M125.1 266.5l.1-.3M124.4 267.4l.2-.2M124.6 267.2l.1-.3M54 296l.1-.2M54.3 295.5l.1-.1M61 290.8l.1-.1M61.2 290.5l.2-.3M61.4 290.2l.2-.4M61.7 289.7l0-.2M69.4 284.9l.3-.4M69.7 284.5l.1-.4M69.2 285.4l.1-.1M69.3 285.3l0-.2M78.6 280.1l.4-.8M79 279.3l.2-.5M90.1 274.4l.2-.5M90.3 273.9l.2-.3M89.9 274.9l.1-.3M90 274.6l.1-.2M104.6 269.1l.1-.2M104.7 268.9l.1-.1M104.2 270l.2-.4M104.4 269.6l.2-.5M125.2 266.2l.3-.5M125.5 265.7l.2-.7M61.8 289.4l.3-.5M62.2 288.7l.2-.5M61.7 289.5l.1 0M61.8 289.5l0-.1M70.2 283.3l.2-.3M70.4 283l.1-.2M69.9 284l.1-.2M70 283.8l.2-.5M79.4 278.4l.2-.5M79.6 277.9l.2-.4M79.2 278.8l.1-.2M79.3 278.6l.1-.2M90.9 272.6l0-.2M90.9 272.4l.1-.1M90.5 273.6l.2-.4M90.7 273.2l.2-.6M104.8 268.8l.3-.6M105.1 268.2l.1-.7M125.8 264.9l.3-.7M126.1 264.2l.1-.4M125.7 265l.1 0M125.8 265l0-.1M62.6 287.7l.1-.1M62.7 287.4l.2-.2M62.9 287.2l0-.1M62.9 287l.1-.2M62.4 288.2l.1-.1M62.5 288l0-.1M62.5 287.9l.1-.2M71 281.6l0 0M71 281.6l0-.1M70.5 282.8l.2-.5M70.7 282.3l.3-.7M80.1 276.7l.1-.3M80.2 276.4l.1-.2M79.8 277.5l.2-.4M80 277.1l.1-.4M91 272.3l.2-.6M91.2 271.7l.2-.6M105.3 267.4l.2-.7M105.5 266.7l.1-.4M105.2 267.5l.1 0M105.3 267.5l0-.1M126.4 263.1l.1-.3M126.5 262.8l0-.3M126.2 263.8l.1-.3M126.3 263.5l.1-.4M63.4 286l.1-.3M63.5 285.7l.1-.2M63 286.8l.1-.1M63.2 286.5l.2-.5M71 281.5l.1-.2M71.2 281.2l.1-.4M71.3 280.8l.2-.6M80.7 275.1l0-.1M80.7 275l0-.1M80.3 276.2l.2-.5M80.5 275.7l.2-.6M91.5 271l.2-.7M91.7 270.3l.1-.5M91.4 271.1l0-.1M91.4 271l.1 0M105.7 265.7l.2-.4M105.9 265.3l0-.3M105.6 266.3l.1-.3M105.7 266l0-.3M126.6 261.5l0-.1M126.6 261.4l0-.1M126.5 262.5l.1-.4M126.6 262.1l0-.6M63.6 285.5l.2-.5M63.8 285l0-.1M63.9 284.7l.1-.3M71.6 280l.2-.6M71.8 279.4l.2-.5M71.5 280.2l.1-.1M71.6 280.1l0-.1M80.7 274.9l.3-.6M81 274.3l.1-.6M91.9 269.4l.1-.5M92 268.9l.1-.3M91.8 269.8l.1-.2M91.9 269.6l0-.2M106 264.2l.1-.2M106.1 264l0-.2M105.9 265l.1-.4M106 264.6l0-.4M126.6 261.3l.1-.6M126.7 260.7l-.1-.7M72.1 278.4l.2-.4M72.3 278l.1-.3M72 278.9l.1-.2M72.1 278.7l0-.3M81.2 273.5l.2-.6M81.4 272.9l.1-.5M81.1 273.7l.1-.1M81.2 273.6l0-.1M92.2 267.9l.1-.3M92.3 267.6l0-.3M92.1 268.6l.1-.4M92.2 268.2l0-.3M106.2 262.7l0-.1M106.2 262.6l0 0M106.1 263.8l.1-.5M106.2 263.3l0-.6M126.6 259.9l0-.6M126.6 259.3l-.1-.5M126.6 260l0 0M126.6 260l0-.1M72.6 276.9l.1-.3M72.7 276.6l0-.2M72.4 277.7l.1-.4M72.5 277.3l.1-.4M81.6 272l.1-.5M81.7 271.5l0-.3M81.5 272.4l0-.2M81.5 272.2l.1-.2M92.5 266.4l0-.2M92.5 266.2l0-.1M92.3 267.3l.1-.4M92.4 266.9l.1-.5M106.2 262.6l0-.7M106.2 261.9l0-.6M126.4 258.5l0-.5M126.4 258l-.1-.5M126.5 258.8l0-.2M126.5 258.6l-.1-.1M73 275.5l0-.2M73 275.3l0-.1M72.7 276.4l.2-.4M72.9 276l.1-.5M81.8 270.6l.1-.4M81.9 270.2l.1-.3M81.7 271.2l.1-.3M81.8 270.9l0-.3M92.6 265l0-.1M92.6 264.9l0 0M92.5 266.1l.1-.5M92.6 265.6l0-.6M106.2 261.3l0-.7M106.2 260.6l-.1-.5M106.2 261.3l0 0M106.2 261.3l0 0M126.1 257.1l-.1-.5M126 256.6l-.1-.4M126.3 257.5l-.1-.2M126.2 257.3l-.1-.2M73 275.2l.2-.6M73.2 274.6l.1-.6M82.1 269.2l0-.3M82.1 268.9l0-.2M82 269.9l0-.3M82 269.6l.1-.4M92.6 264.9l.1-.6M92.7 264.3l-.1-.7M106.1 259.9l0-.6M106.1 259.3l-.1-.4M106.1 260.1l0-.1M106.1 260l0-.1M125.7 255.8l-.1-.4M125.6 255.4l-.2-.4M125.9 256.2l-.1-.2M125.8 256l-.1-.2M82.2 267.8l0-.2M82.2 267.6l0-.1M82.1 268.7l.1-.4M82.2 268.3l0-.5M92.6 263.6l.1-.6M92.7 263l-.1-.6M92.6 263.6l0 0M92.6 263.6l0 0M105.9 258.6l0-.5M105.9 258.1l-.1-.5M106 258.9l0-.2M106 258.7l-.1-.1M125.1 254.5l-.1-.4M125 254.1l-.3-.4M125.4 255l-.1-.3M125.3 254.7l-.2-.2M82.3 266.5l0-.1M82.3 266.4l0-.1M82.2 267.5l.1-.5M82.3 267l0-.5M92.6 262.3l0-.6M92.6 261.7l0-.5M92.6 262.4l0 0M92.6 262.4l0-.1M105.7 257.3l-.1-.4M105.6 256.9l-.1-.5M105.8 257.6l0-.1M105.8 257.5l-.1-.2M124.5 253.3l-.2-.4M124.3 252.9l-.3-.5M124.7 253.7l-.1-.2M124.6 253.5l-.1-.2M82.3 265.2l0-.1M82.3 265.1l0 0M82.3 266.3l0-.6M82.3 265.7l0-.5M92.6 261.1l-.1-.6M92.5 260.5l-.1-.5M92.6 261.2l0-.1M92.6 261.1l0 0M105.4 256.1l-.1-.5M105.3 255.6l-.1-.4M105.5 256.4l0-.1M105.5 256.3l-.1-.2M123.8 252.2l-.2-.6M123.6 251.6l-.4-.5M124 252.4l-.1-.1M123.9 252.3l-.1-.1M82.3 265.1l0-.6M82.3 264.5l0-.5M92.4 259.8l0-.5M92.4 259.3l-.1-.5M92.4 260l0-.1M92.4 259.9l0-.1M105.1 254.9l-.2-.4M104.9 254.5l-.2-.5M105.2 255.2l-.1-.1M105.1 255.1l0-.2M122.3 249.9l0 0M122.3 249.9l0 0M123.1 251l-.3-.5M122.8 250.5l-.5-.6M123.2 251.1l-.1 0M123.1 251.1l0-.1M92.2 258.7l0-.6M92.2 258.1l-.2-.5M92.3 258.8l-.1-.1M92.2 258.7l0 0M104.7 253.8l-.2-.5M104.5 253.3l-.2-.5M104.7 254l0-.1M104.7 253.9l0-.1M121.5 248.9l0-.2M121.5 248.7l-.2-.1M122.3 249.9l-.4-.6M121.9 249.3l-.4-.4M92 257.5l-.1-.5M91.9 257l-.1-.5M92 257.6l0 0M92 257.6l0-.1M104.2 252.7l-.2-.6M104 252.1l-.3-.5M104.3 252.8l-.1-.1M104.2 252.7l0 0M120.7 247.8l-.1-.2M120.6 247.6l-.3-.3M121.3 248.6l-.3-.5M121 248.1l-.3-.3M91.7 256.4l-.1-.6M91.6 255.8l-.2-.5M91.8 256.5l-.1-.1M91.7 256.4l0 0M103.2 250.5l0 0M103.2 250.5l0-.1M103.7 251.6l-.2-.6M103.5 251l-.3-.5M103.7 251.6l0 0M103.7 251.6l0 0M119.8 246.8l-.2-.3M119.6 246.5l-.4-.4M120.3 247.3l-.2-.3M120.1 247l-.3-.2M156.7 245.5l-.3-.1M156.4 245.4l-1.1-.4M159.2 246.1l-.7-.2M158.5 245.9l-1.8-.4M161.9 246.8l-1-.3M160.9 246.5l-1.7-.4M164.9 247.3l-1.2-.3M163.7 247l-1.8-.2M168.3 247.7l-.9-.1M167.4 247.6l-2.5-.3M170.5 247.9l-2.2-.2M91.4 255.3l-.1-.6M91.3 254.7l-.2-.5M91.4 255.3l0 0M91.4 255.3l0 0M102.7 249.5l-.1-.1M102.6 249.4l0-.1M103.2 250.4l-.3-.5M102.9 249.9l-.2-.4M118.1 244.9l0 0M118.1 244.9l0 0M119 245.8l-.4-.4M118.6 245.4l-.5-.5M119.2 246.1l-.1-.2M119.1 245.9l-.1-.1M150.1 243.3l-.2-.2M149.9 243.1l-.7-.2M152.2 244l-.8-.3M151.4 243.7l-1.3-.4M154.4 244.8l-1.4-.6M153 244.2l-.8-.2M155.3 245l-.7-.2M154.6 244.8l-.2 0M170.5 247.9l1.9 .1M176.5 247.9l-4.1 .1M102.1 248.5l-.1-.2M102 248.3l-.1-.2M102.6 249.3l-.3-.5M102.3 248.8l-.2-.3M117.2 243.9l-.1-.1M117.1 243.8l-.2-.2M118.1 244.9l-.5-.6M117.6 244.3l-.4-.4M146.3 241.7l-.4-.2M145.9 241.5l-1.1-.4M148.1 242.5l-.9-.4M147.2 242.1l-.9-.4M149.2 242.9l-.7-.3M148.5 242.6l-.4-.1M176.5 247.9l.8 0M180.6 247.7l-3.3 .2M101.5 247.5l-.1-.3M101.4 247.2l-.2-.3M101.9 248.1l-.2-.4M101.7 247.7l-.2-.2M116.3 243l-.2-.3M116.1 242.7l-.4-.3M116.9 243.6l-.3-.4M116.6 243.2l-.3-.2M142.7 240.2l-.4-.3M142.3 239.9l-1.1-.4M144.4 241l-1-.5M143.4 240.5l-.7-.3M144.8 241.1l-.2-.1M144.6 241l-.2 0M180.6 247.7l3.4-.4M184.2 247.3l-.2 0M100.9 246.5l-.2-.3M100.7 246.2l-.2-.4M101.2 246.9l-.1-.2M101.1 246.7l-.2-.2M115.4 242.1l-.4-.4M115 241.7l-.5-.5M115.7 242.4l-.1-.2M115.6 242.2l-.2-.1M139.4 238.6l-.5-.2M138.9 238.4l-.9-.4M141 239.4l-1-.5M140 238.9l-.6-.3M141.2 239.5l-.1-.1M141.1 239.4l-.1 0M184.2 247.3l0 0M184.2 247.3l3-.5M100.3 245.6l-.2-.5M100.1 245.1l-.4-.4M100.5 245.8l-.1-.1M100.4 245.7l-.1-.1M113.6 240.3l-.1-.1M113.5 240.2l-.2-.2M114.5 241.2l-.5-.5M114 240.7l-.4-.4M114.5 241.2l0 0M114.5 241.2l0 0M136.2 237.1l-.4-.2M135.8 236.9l-.7-.4M137.8 237.9l-.9-.5M136.9 237.4l-.7-.3M138 238l-.2-.1M137.8 237.9l0 0M187.2 246.8l1.4-.2M188.6 246.6l1.5-.2M112.6 239.5l-.2-.3M112.4 239.2l-.4-.3M113.3 240l-.4-.3M112.9 239.7l-.3-.2M133.2 235.6l-.3-.2M132.9 235.4l-.6-.3M134.7 236.3l-.8-.4M133.9 235.9l-.7-.3M135.1 236.5l-.3-.1M134.8 236.4l-.1-.1M190.1 246.4l2.2-.5M192.3 245.9l.4 0M110.8 237.8l0 0M110.8 237.8l-.1-.1M111.7 238.6l-.4-.4M111.3 238.2l-.5-.4M112 238.9l-.1-.2M111.9 238.7l-.2-.1M130.3 234.1l-.2-.1M130.1 234l-.3-.2M131.7 234.8l-.6-.4M131.1 234.4l-.8-.3M132.3 235.1l-.3-.2M132 234.9l-.3-.1M192.7 245.9l1.3-.3M109.9 237l-.2-.2M109.7 236.8l-.2-.2M110.7 237.7l-.4-.4M110.3 237.3l-.4-.3M127.6 232.6l-.1 0M127.5 232.6l-.2-.1M128.9 233.3l-.5-.3M128.4 233l-.8-.4M129.8 233.8l-.5-.3M129.3 233.5l-.4-.2M109 236.2l-.3-.3M108.7 235.9l-.5-.5M109.5 236.6l-.3-.3M109.2 236.3l-.2-.1M126.2 231.9l-.4-.3M125.8 231.6l-.8-.4M127.3 232.5l-.7-.4M126.6 232.1l-.4-.2M108.2 235.4l-.1 0M108.1 235.4l0 0M123.6 230.5l-.3-.2M123.3 230.3l-.5-.3M124.9 231.2l-.8-.5M124.1 230.7l-.5-.2M125 231.2l-.1 0M124.9 231.2l0 0M121.1 229.1l-.2-.1M120.9 229l-.3-.2M122.3 229.8l-.6-.4M121.7 229.4l-.6-.3M122.8 230l-.3-.2M122.5 229.8l-.2 0" class="cl"/><path d="M277.6 325.9L355.6 297.1L443.1 321.3M276.6 299.4L355.6 274L444.2 295.4M275.5 272.2L355.5 250.3L445.3 268.8M274.4 244.2L355.5 226.2L446.5 241.5M295.5 330.2L291.9 212.3M311.9 323.8L309.3 209.3M327.3 317.8L325.7 206.5M341.8 312.1L341 203.9M375.4 312.5L376.4 204.1M396.4 318.6L398.6 207.1M418.7 325.1L422.3 210.2" class="gr"/><path d="M278.1 337L273.3 215.5L355.5 201.4L447.7 213.5M355.5 201.4L355.6 306.7M447.7 213.5L442.6 332.1" class="bx"/><g class="s"><path d="M278.1 337l3 1.1 3.5-1.3-3.1-1.2z" color="#94e8d1"/><path d="M281.1 338.1l3.1 1.2 3.4-1.4-3-1.1z" color="#a4ecd8"/><path d="M284.2 339.3l3.1 1.2 3.4-1.4-3.1-1.2z" color="#bbf0e0"/><path d="M287.3 340.5l3.2 1.2 3.4-1.4-3.2-1.2z" color="#d3f4e7"/><path d="M290.5 341.7l3.1 1.2 3.5-1.4-3.2-1.2z" color="#eff8ec"/><path d="M293.6 342.9l3.2 1.2 3.5-1.4-3.2-1.2z" color="#f5f2de"/><path d="M296.8 344.1l3.3 1.3 3.4-1.5-3.2-1.2z" color="#f7e9cb"/><path d="M300.1 345.4l3.3 1.2 3.4-1.4-3.3-1.3z" color="#f4d9b0"/><path d="M303.4 346.6l3.3 1.3 3.4-1.5-3.3-1.2z" color="#f1c997"/><path d="M306.7 347.9l3.3 1.3 3.4-1.5-3.3-1.3z" color="#efbb81"/><path d="M310 349.2l3.4 1.3 3.4-1.6-3.4-1.2z" color="#efae6d"/><path d="M313.4 350.5l3.4 1.3 3.5-1.6-3.5-1.3z" color="#eea35c"/><path d="M316.8 351.8l3.5 1.3 3.4-1.6-3.4-1.3z" color="#ec9d53"/><path d="M320.3 353.1l3.5 1.3 3.4-1.5-3.5-1.4z" color="#ea984a"/><path d="M323.8 354.4l3.6 1.4 3.4-1.6-3.6-1.3z" color="#e89344"/><path d="M327.4 355.8l3.5 1.3 3.4-1.6-3.5-1.3z" color="#e59142"/><path d="M330.9 357.1l3.7 1.4 3.4-1.6-3.7-1.4z" color="#e28e41"/><path d="M334.6 358.5l3.6 1.4 3.4-1.6-3.6-1.4z" color="#e08c40"/><path d="M338.2 359.9l3.7 1.4 3.4-1.6-3.7-1.4z" color="#dd8a3f"/><path d="M341.9 361.3l3.8 1.5 3.4-1.7-3.8-1.4z" color="#db883e"/><path d="M345.7 362.8l3.8 1.4 3.3-1.7-3.7-1.4z" color="#d9863e"/><path d="M349.5 364.2l3.8 1.5 3.4-1.7-3.9-1.5z" color="#d6853e"/><path d="M353.3 365.7l3.9 1.5 3.4-1.8-3.9-1.4z" color="#d4843e"/><path d="M357.2 367.2l3.9 1.5 3.4-1.8-3.9-1.5z" color="#d2833d"/><path d="M361.1 368.7l4 1.5 3.4-1.8-4-1.5z" color="#d1823d"/><path d="M365.1 370.2l4 1.5 3.4-1.8-4-1.5z" color="#d0823d"/><path d="M281.5 335.6l3.1 1.2 3.4-1.4-3.1-1.1z" color="#a4ecd8"/><path d="M284.6 336.8l3 1.1 3.4-1.3-3-1.2z" color="#bcf0e0"/><path d="M287.6 337.9l3.1 1.2 3.4-1.4-3.1-1.1z" color="#d5f4e7"/><path d="M290.7 339.1l3.2 1.2 3.4-1.4-3.2-1.2z" color="#f0f7eb"/><path d="M293.9 340.3l3.2 1.2 3.3-1.4-3.1-1.2z" color="#f6f1db"/><path d="M297.1 341.5l3.2 1.2 3.4-1.4-3.3-1.2z" color="#f6e5c5"/><path d="M300.3 342.7l3.2 1.2 3.4-1.4-3.2-1.2z" color="#f3d4a9"/><path d="M303.5 343.9l3.3 1.3 3.4-1.5-3.3-1.2z" color="#f0c58f"/><path d="M306.8 345.2l3.3 1.2 3.4-1.5-3.3-1.2z" color="#efb679"/><path d="M310.1 346.4l3.3 1.3 3.4-1.5-3.3-1.3z" color="#eea864"/><path d="M313.4 347.7l3.4 1.2 3.4-1.4-3.4-1.3z" color="#eda057"/><path d="M316.8 348.9l3.5 1.3 3.3-1.5-3.4-1.2z" color="#eb9a4d"/><path d="M320.3 350.2l3.4 1.3 3.4-1.5-3.5-1.3z" color="#e99444"/><path d="M323.7 351.5l3.5 1.4 3.4-1.6-3.5-1.3z" color="#e59143"/><path d="M327.2 352.9l3.6 1.3 3.3-1.6-3.5-1.3z" color="#e28e41"/><path d="M330.8 354.2l3.5 1.3 3.4-1.5-3.6-1.4z" color="#df8b40"/><path d="M334.3 355.5l3.7 1.4 3.3-1.6-3.6-1.3z" color="#dc893f"/><path d="M338 356.9l3.6 1.4 3.3-1.6-3.6-1.4z" color="#d9863e"/><path d="M341.6 358.3l3.7 1.4 3.3-1.6-3.7-1.4z" color="#d5843e"/><path d="M345.3 359.7l3.8 1.4 3.3-1.6-3.8-1.4z" color="#d2823d"/><path d="M349.1 361.1l3.7 1.4 3.4-1.6-3.8-1.4z" color="#cf813d"/><path d="M352.8 362.5l3.9 1.5 3.3-1.7-3.8-1.4z" color="#cc7f3d"/><path d="M356.7 364l3.9 1.4 3.3-1.7-3.9-1.4z" color="#ca7e3d"/><path d="M360.6 365.4l3.9 1.5 3.3-1.7-3.9-1.5z" color="#c97d3d"/><path d="M364.5 366.9l4 1.5 3.2-1.7-3.9-1.5z" color="#c77d3d"/><path d="M368.5 368.4l4 1.5 3.3-1.7-4.1-1.5z" color="#c77c3c"/><path d="M284.9 334.3l3.1 1.1 3.3-1.3-3-1.1z" color="#baf0df"/><path d="M288 335.4l3 1.2 3.4-1.4-3.1-1.1z" color="#d3f4e7"/><path d="M291 336.6l3.1 1.1 3.4-1.3-3.1-1.2z" color="#f0f8eb"/><path d="M294.1 337.7l3.2 1.2 3.3-1.4-3.1-1.1z" color="#f6f1db"/><path d="M297.3 338.9l3.1 1.2 3.4-1.4-3.2-1.2z" color="#f6e4c4"/><path d="M300.4 340.1l3.3 1.2 3.3-1.4-3.2-1.2z" color="#f3d3a7"/><path d="M303.7 341.3l3.2 1.2 3.3-1.4-3.2-1.2z" color="#f0c38c"/><path d="M306.9 342.5l3.3 1.2 3.3-1.4-3.3-1.2z" color="#efb375"/><path d="M310.2 343.7l3.3 1.2 3.3-1.4-3.3-1.2z" color="#eea55f"/><path d="M313.5 344.9l3.3 1.3 3.4-1.5-3.4-1.2z" color="#ec9e54"/><path d="M316.8 346.2l3.4 1.3 3.3-1.5-3.3-1.3z" color="#ea9749"/><path d="M320.2 347.5l3.4 1.2 3.3-1.5-3.4-1.2z" color="#e79243"/><path d="M323.6 348.7l3.5 1.3 3.3-1.5-3.5-1.3z" color="#e38f42"/><path d="M327.1 350l3.5 1.3 3.3-1.5-3.5-1.3z" color="#e08c40"/><path d="M330.6 351.3l3.5 1.3 3.3-1.5-3.5-1.3z" color="#dc893f"/><path d="M334.1 352.6l3.6 1.4 3.3-1.6-3.6-1.3z" color="#d9863e"/><path d="M337.7 354l3.6 1.3 3.3-1.6-3.6-1.3z" color="#d4843e"/><path d="M341.3 355.3l3.6 1.4 3.3-1.6-3.6-1.4z" color="#d0813d"/><path d="M344.9 356.7l3.7 1.4 3.3-1.6-3.7-1.4z" color="#cc7f3d"/><path d="M348.6 358.1l3.8 1.4 3.3-1.7-3.8-1.3z" color="#c97d3d"/><path d="M352.4 359.5l3.8 1.4 3.2-1.7-3.7-1.4z" color="#c67c3c"/><path d="M356.2 360.9l3.8 1.4 3.3-1.7-3.9-1.4z" color="#c47b3c"/><path d="M360 362.3l3.9 1.4 3.2-1.6-3.8-1.5z" color="#c2793c"/><path d="M363.9 363.7l3.9 1.5 3.2-1.7-3.9-1.4z" color="#c0793c"/><path d="M367.8 365.2l3.9 1.5 3.3-1.7-4-1.5z" color="#c0783c"/><path d="M371.7 366.7l4.1 1.5 3.2-1.8-4-1.4z" color="#bf783b"/><path d="M288.3 333l3 1.1 3.3-1.3-3-1.1z" color="#cdf3e6"/><path d="M291.3 334.1l3.1 1.1 3.3-1.3-3.1-1.1z" color="#ecf7eb"/><path d="M294.4 335.2l3.1 1.2 3.3-1.4-3.1-1.1z" color="#f5f2de"/><path d="M297.5 336.4l3.1 1.1 3.3-1.3-3.1-1.2z" color="#f7e7c8"/><path d="M300.6 337.5l3.2 1.2 3.3-1.4-3.2-1.1z" color="#f3d5aa"/><path d="M303.8 338.7l3.2 1.2 3.3-1.4-3.2-1.2z" color="#f0c48d"/><path d="M307 339.9l3.2 1.2 3.3-1.4-3.2-1.2z" color="#efb475"/><path d="M310.2 341.1l3.3 1.2 3.3-1.4-3.3-1.2z" color="#eea55f"/><path d="M313.5 342.3l3.3 1.2 3.3-1.4-3.3-1.2z" color="#ec9e53"/><path d="M316.8 343.5l3.4 1.2 3.2-1.4-3.3-1.2z" color="#ea9748"/><path d="M320.2 344.7l3.3 1.3 3.3-1.5-3.4-1.2z" color="#e69243"/><path d="M323.5 346l3.4 1.2 3.3-1.4-3.4-1.3z" color="#e28e41"/><path d="M326.9 347.2l3.5 1.3 3.3-1.5-3.5-1.2z" color="#df8b40"/><path d="M330.4 348.5l3.5 1.3 3.3-1.5-3.5-1.3z" color="#db883e"/><path d="M333.9 349.8l3.5 1.3 3.3-1.5-3.5-1.3z" color="#d6853e"/><path d="M337.4 351.1l3.6 1.3 3.2-1.5-3.5-1.3z" color="#d1823d"/><path d="M341 352.4l3.6 1.3 3.2-1.5-3.6-1.3z" color="#cd803d"/><path d="M344.6 353.7l3.6 1.4 3.3-1.6-3.7-1.3z" color="#c97d3d"/><path d="M348.2 355.1l3.7 1.4 3.3-1.6-3.7-1.4z" color="#c57b3c"/><path d="M351.9 356.5l3.8 1.3 3.2-1.6-3.7-1.3z" color="#c2793c"/><path d="M355.7 357.8l3.7 1.4 3.3-1.6-3.8-1.4z" color="#bf783c"/><path d="M359.4 359.2l3.9 1.4 3.2-1.6-3.8-1.4z" color="#be773b"/><path d="M363.3 360.6l3.8 1.5 3.2-1.7-3.8-1.4z" color="#bc773b"/><path d="M367.1 362.1l3.9 1.4 3.2-1.7-3.9-1.4z" color="#bb763a"/><path d="M371 363.5l4 1.5 3.2-1.8-4-1.4z" color="#ba763a"/><path d="M375 365l4 1.4 3.2-1.7-4-1.5z" color="#ba763a"/><path d="M291.6 331.7l3 1.1 3.3-1.3-3-1.1z" color="#e2f6ea"/><path d="M294.6 332.8l3.1 1.1 3.3-1.3-3.1-1.1z" color="#f3f4e3"/><path d="M297.7 333.9l3.1 1.1 3.3-1.3-3.1-1.1z" color="#f8ecd1"/><path d="M300.8 335l3.1 1.2 3.3-1.3-3.1-1.2z" color="#f4d9b1"/><path d="M303.9 336.2l3.2 1.1 3.3-1.3-3.2-1.1z" color="#f0c793"/><path d="M307.1 337.3l3.2 1.2 3.3-1.3-3.2-1.2z" color="#efb77a"/><path d="M310.3 338.5l3.2 1.2 3.3-1.4-3.2-1.1z" color="#eea762"/><path d="M313.5 339.7l3.3 1.2 3.3-1.4-3.3-1.2z" color="#ec9e55"/><path d="M316.8 340.9l3.3 1.2 3.3-1.4-3.3-1.2z" color="#ea9749"/><path d="M320.1 342.1l3.3 1.2 3.3-1.4-3.3-1.2z" color="#e79243"/><path d="M323.4 343.3l3.4 1.2 3.3-1.4-3.4-1.2z" color="#e28e41"/><path d="M326.8 344.5l3.4 1.3 3.3-1.5-3.4-1.2z" color="#de8b40"/><path d="M330.2 345.8l3.5 1.2 3.2-1.4-3.4-1.3z" color="#db873e"/><path d="M333.7 347l3.5 1.3 3.2-1.5-3.5-1.2z" color="#d5843e"/><path d="M337.2 348.3l3.5 1.3 3.2-1.5-3.5-1.3z" color="#d0813d"/><path d="M340.7 349.6l3.5 1.3 3.3-1.5-3.6-1.3z" color="#cb7e3d"/><path d="M344.2 350.9l3.6 1.3 3.3-1.5-3.6-1.3z" color="#c67c3c"/><path d="M347.8 352.2l3.7 1.3 3.2-1.5-3.6-1.3z" color="#c27a3c"/><path d="M351.5 353.5l3.7 1.4 3.2-1.6-3.7-1.3z" color="#bf783c"/><path d="M355.2 354.9l3.7 1.3 3.2-1.6-3.7-1.3z" color="#bd773b"/><path d="M358.9 356.2l3.8 1.4 3.2-1.6-3.8-1.4z" color="#bb763a"/><path d="M362.7 357.6l3.8 1.4 3.2-1.6-3.8-1.4z" color="#b9753a"/><path d="M366.5 359l3.8 1.4 3.2-1.6-3.8-1.4z" color="#b8753a"/><path d="M370.3 360.4l3.9 1.4 3.2-1.6-3.9-1.4z" color="#b77439"/><path d="M374.2 361.8l4 1.4 3.1-1.6-3.9-1.4z" color="#b67439"/><path d="M378.2 363.2l4 1.5 3.1-1.7-4-1.4z" color="#b67339"/><path d="M294.9 330.4l3 1.1 3.2-1.3-3-1z" color="#f1f7ea"/><path d="M297.9 331.5l3.1 1.1 3.2-1.3-3.1-1.1z" color="#f6f0d9"/><path d="M301 332.6l3.1 1.1 3.2-1.3-3.1-1.1z" color="#f5e1be"/><path d="M304.1 333.7l3.1 1.2 3.2-1.4-3.1-1.1z" color="#f2ce9f"/><path d="M307.2 334.9l3.2 1.1 3.2-1.3-3.2-1.2z" color="#efbd83"/><path d="M310.4 336l3.2 1.2 3.2-1.4-3.2-1.1z" color="#eeac6a"/><path d="M313.6 337.2l3.2 1.1 3.2-1.3-3.2-1.2z" color="#eda158"/><path d="M316.8 338.3l3.3 1.2 3.2-1.4-3.3-1.1z" color="#eb994c"/><path d="M320.1 339.5l3.3 1.2 3.2-1.4-3.3-1.2z" color="#e89343"/><path d="M323.4 340.7l3.3 1.2 3.2-1.4-3.3-1.2z" color="#e38f42"/><path d="M326.7 341.9l3.4 1.2 3.2-1.4-3.4-1.2z" color="#df8b40"/><path d="M330.1 343.1l3.4 1.2 3.2-1.4-3.4-1.2z" color="#db883e"/><path d="M333.5 344.3l3.4 1.3 3.2-1.5-3.4-1.2z" color="#d6843e"/><path d="M336.9 345.6l3.5 1.2 3.2-1.4-3.5-1.3z" color="#d0813d"/><path d="M340.4 346.8l3.5 1.3 3.2-1.5-3.5-1.2z" color="#ca7e3d"/><path d="M343.9 348.1l3.6 1.3 3.1-1.5-3.5-1.3z" color="#c67c3c"/><path d="M347.5 349.4l3.6 1.3 3.1-1.5-3.6-1.3z" color="#c1793c"/><path d="M351.1 350.7l3.6 1.3 3.2-1.6-3.7-1.2z" color="#be783b"/><path d="M354.7 352l3.7 1.3 3.1-1.5-3.6-1.4z" color="#bc763b"/><path d="M358.4 353.3l3.7 1.3 3.1-1.5-3.7-1.3z" color="#ba753a"/><path d="M362.1 354.6l3.8 1.4 3.1-1.6-3.8-1.3z" color="#b87439"/><path d="M365.9 356l3.8 1.4 3.1-1.6-3.8-1.4z" color="#b67439"/><path d="M369.7 357.4l3.8 1.4 3.1-1.7-3.8-1.3z" color="#b57339"/><path d="M373.5 358.8l3.9 1.4 3.1-1.7-3.9-1.4z" color="#b47238"/><path d="M377.4 360.2l3.9 1.4 3.1-1.7-3.9-1.4z" color="#b37238"/><path d="M381.3 361.6l4 1.4 3.1-1.7-4-1.4z" color="#b37238"/><path d="M298.1 329.2l3 1 3.2-1.2-3-1.1z" color="#f3f4e2"/><path d="M301.1 330.2l3.1 1.1 3.2-1.2-3.1-1.1z" color="#f7ebcf"/><path d="M304.2 331.3l3.1 1.1 3.2-1.3-3.1-1z" color="#f4d8af"/><path d="M307.3 332.4l3.1 1.1 3.2-1.3-3.1-1.1z" color="#f0c590"/><path d="M310.4 333.5l3.2 1.2 3.2-1.3-3.2-1.2z" color="#efb577"/><path d="M313.6 334.7l3.2 1.1 3.2-1.3-3.2-1.1z" color="#eea55e"/><path d="M316.8 335.8l3.2 1.2 3.2-1.4-3.2-1.1z" color="#ec9d52"/><path d="M320 337l3.3 1.1 3.1-1.3-3.2-1.2z" color="#e99546"/><path d="M323.3 338.1l3.3 1.2 3.1-1.4-3.3-1.1z" color="#e59142"/><path d="M326.6 339.3l3.3 1.2 3.2-1.4-3.4-1.2z" color="#e18d41"/><path d="M329.9 340.5l3.4 1.2 3.1-1.4-3.3-1.2z" color="#dc893f"/><path d="M333.3 341.7l3.4 1.2 3.1-1.4-3.4-1.2z" color="#d8863e"/><path d="M336.7 342.9l3.4 1.2 3.2-1.4-3.5-1.2z" color="#d1823d"/><path d="M340.1 344.1l3.5 1.3 3.1-1.5-3.4-1.2z" color="#cc7f3d"/><path d="M343.6 345.4l3.5 1.2 3.1-1.5-3.5-1.2z" color="#c77c3c"/><path d="M347.1 346.6l3.5 1.3 3.2-1.5-3.6-1.3z" color="#c2793c"/><path d="M350.6 347.9l3.6 1.3 3.2-1.5-3.6-1.3z" color="#be783b"/><path d="M354.2 349.2l3.7 1.2 3.1-1.5-3.6-1.2z" color="#bc763b"/><path d="M357.9 350.4l3.6 1.4 3.2-1.6-3.7-1.3z" color="#b9753a"/><path d="M361.5 351.8l3.7 1.3 3.2-1.6-3.7-1.3z" color="#b77439"/><path d="M365.2 353.1l3.8 1.3 3.1-1.5-3.7-1.4z" color="#b57339"/><path d="M369 354.4l3.8 1.4 3.1-1.6-3.8-1.3z" color="#b47238"/><path d="M372.8 355.8l3.8 1.3 3.1-1.6-3.8-1.3z" color="#b27238"/><path d="M376.6 357.1l3.9 1.4 3.1-1.6-3.9-1.4z" color="#b17138"/><path d="M380.5 358.5l3.9 1.4 3.1-1.6-3.9-1.4z" color="#b17138"/><path d="M384.4 359.9l4 1.4 3.1-1.6-4-1.4z" color="#b17137"/><path d="M301.3 327.9l3 1.1 3.2-1.3-3-1z" color="#f5f2dd"/><path d="M304.3 329l3.1 1.1 3.1-1.3-3-1.1z" color="#f6e4c4"/><path d="M307.4 330.1l3.1 1 3.1-1.2-3.1-1.1z" color="#f2d1a4"/><path d="M310.5 331.1l3.1 1.1 3.2-1.2-3.2-1.1z" color="#f0bf87"/><path d="M313.6 332.2l3.2 1.2 3.1-1.3-3.1-1.1z" color="#efaf6e"/><path d="M316.8 333.4l3.2 1.1 3.1-1.3-3.2-1.1z" color="#eda25a"/><path d="M320 334.5l3.2 1.1 3.1-1.3-3.2-1.1z" color="#eb9a4d"/><path d="M323.2 335.6l3.2 1.2 3.2-1.4-3.3-1.1z" color="#e89344"/><path d="M326.4 336.8l3.3 1.1 3.2-1.3-3.3-1.2z" color="#e38f42"/><path d="M329.7 337.9l3.4 1.2 3.1-1.4-3.3-1.1z" color="#df8b40"/><path d="M333.1 339.1l3.3 1.2 3.1-1.4-3.3-1.2z" color="#db883e"/><path d="M336.4 340.3l3.4 1.2 3.1-1.4-3.4-1.2z" color="#d5843e"/><path d="M339.8 341.5l3.5 1.2 3.1-1.4-3.5-1.2z" color="#cf813d"/><path d="M343.3 342.7l3.4 1.2 3.1-1.4-3.4-1.2z" color="#c97e3d"/><path d="M346.7 343.9l3.5 1.2 3.1-1.4-3.5-1.2z" color="#c47b3c"/><path d="M350.2 345.1l3.6 1.3 3.1-1.5-3.6-1.2z" color="#c0783c"/><path d="M353.8 346.4l3.6 1.3 3.1-1.5-3.6-1.3z" color="#bd773b"/><path d="M357.4 347.7l3.6 1.2 3.1-1.5-3.6-1.2z" color="#ba753a"/><path d="M361 348.9l3.7 1.3 3-1.5-3.6-1.3z" color="#b77439"/><path d="M364.7 350.2l3.7 1.3 3-1.5-3.7-1.3z" color="#b57339"/><path d="M368.4 351.5l3.7 1.4 3.1-1.6-3.8-1.3z" color="#b47238"/><path d="M372.1 352.9l3.8 1.3 3-1.6-3.7-1.3z" color="#b27238"/><path d="M375.9 354.2l3.8 1.3 3.1-1.5-3.9-1.4z" color="#b17138"/><path d="M379.7 355.5l3.9 1.4 3-1.6-3.8-1.3z" color="#b07137"/><path d="M383.6 356.9l3.9 1.4 3-1.6-3.9-1.4z" color="#b07037"/><path d="M387.5 358.3l4 1.4 3-1.7-4-1.3z" color="#af7037"/><path d="M304.5 326.7l3 1 3.1-1.2-3-1z" color="#f6f0d9"/><path d="M307.5 327.7l3 1.1 3.2-1.2-3.1-1.1z" color="#f5e0bd"/><path d="M310.5 328.8l3.1 1.1 3.2-1.3-3.1-1z" color="#f1cd9d"/><path d="M313.6 329.9l3.2 1.1 3.1-1.3-3.1-1.1z" color="#efbc81"/><path d="M316.8 331l3.1 1.1 3.1-1.3-3.1-1.1z" color="#eeab68"/><path d="M319.9 332.1l3.2 1.1 3.1-1.3-3.2-1.1z" color="#eca057"/><path d="M323.1 333.2l3.2 1.1 3.1-1.3-3.2-1.1z" color="#ea984b"/><path d="M326.3 334.3l3.3 1.1 3.1-1.3-3.3-1.1z" color="#e79243"/><path d="M329.6 335.4l3.3 1.2 3.1-1.4-3.3-1.1z" color="#e28e41"/><path d="M332.9 336.6l3.3 1.1 3.1-1.3-3.3-1.2z" color="#de8a40"/><path d="M336.2 337.7l3.3 1.2 3.1-1.4-3.3-1.1z" color="#da873e"/><path d="M339.5 338.9l3.4 1.2 3.1-1.4-3.4-1.2z" color="#d3833d"/><path d="M342.9 340.1l3.5 1.2 3-1.4-3.4-1.2z" color="#cd803d"/><path d="M346.4 341.3l3.4 1.2 3.1-1.4-3.5-1.2z" color="#c87d3d"/><path d="M349.8 342.5l3.5 1.2 3.1-1.4-3.5-1.2z" color="#c37a3c"/><path d="M353.3 343.7l3.6 1.2 3-1.4-3.5-1.2z" color="#bf783b"/><path d="M356.9 344.9l3.6 1.3 3-1.5-3.6-1.2z" color="#bc763b"/><path d="M360.5 346.2l3.6 1.2 3-1.4-3.6-1.3z" color="#b9753a"/><path d="M364.1 347.4l3.6 1.3 3.1-1.5-3.7-1.2z" color="#b77439"/><path d="M367.7 348.7l3.7 1.3 3.1-1.5-3.7-1.3z" color="#b57339"/><path d="M371.4 350l3.8 1.3 3-1.5-3.7-1.3z" color="#b37238"/><path d="M375.2 351.3l3.7 1.3 3.1-1.5-3.8-1.3z" color="#b27138"/><path d="M378.9 352.6l3.9 1.4 3-1.6-3.8-1.3z" color="#b07137"/><path d="M382.8 354l3.8 1.3 3-1.6-3.8-1.3z" color="#b07037"/><path d="M386.6 355.3l3.9 1.4 3-1.6-3.9-1.4z" color="#af7037"/><path d="M390.5 356.7l4 1.3 3-1.6-4-1.3z" color="#af7037"/><path d="M307.6 325.5l3 1 3.1-1.2-3-1.1z" color="#f7efd7"/><path d="M310.6 326.5l3.1 1.1 3-1.3-3-1z" color="#f5deba"/><path d="M313.7 327.6l3.1 1 3-1.2-3.1-1.1z" color="#f1cc9b"/><path d="M316.8 328.6l3.1 1.1 3-1.3-3.1-1z" color="#efba7f"/><path d="M319.9 329.7l3.1 1.1 3.1-1.3-3.2-1.1z" color="#eeaa66"/><path d="M323 330.8l3.2 1.1 3.1-1.3-3.2-1.1z" color="#ec9f56"/><path d="M326.2 331.9l3.2 1.1 3.1-1.3-3.2-1.1z" color="#ea984a"/><path d="M329.4 333l3.3 1.1 3-1.3-3.2-1.1z" color="#e79243"/><path d="M332.7 334.1l3.3 1.1 3-1.3-3.3-1.1z" color="#e28e41"/><path d="M336 335.2l3.3 1.2 3-1.4-3.3-1.1z" color="#de8a3f"/><path d="M339.3 336.4l3.3 1.1 3.1-1.3-3.4-1.2z" color="#d9873e"/><path d="M342.6 337.5l3.4 1.2 3.1-1.4-3.4-1.1z" color="#d3833d"/><path d="M346 338.7l3.4 1.2 3.1-1.4-3.4-1.2z" color="#cd803d"/><path d="M349.4 339.9l3.5 1.2 3-1.4-3.4-1.2z" color="#c87d3d"/><path d="M352.9 341.1l3.5 1.2 3-1.4-3.5-1.2z" color="#c37a3c"/><path d="M356.4 342.3l3.5 1.2 3-1.4-3.5-1.2z" color="#bf783b"/><path d="M359.9 343.5l3.6 1.2 3-1.4-3.6-1.2z" color="#bc763b"/><path d="M363.5 344.7l3.6 1.3 3-1.5-3.6-1.2z" color="#b9753a"/><path d="M367.1 346l3.7 1.2 3-1.4-3.7-1.3z" color="#b77439"/><path d="M370.8 347.2l3.7 1.3 2.9-1.5-3.6-1.2z" color="#b57339"/><path d="M374.5 348.5l3.7 1.3 3-1.5-3.8-1.3z" color="#b37238"/><path d="M378.2 349.8l3.8 1.3 2.9-1.5-3.7-1.3z" color="#b27138"/><path d="M382 351.1l3.8 1.3 2.9-1.5-3.8-1.3z" color="#b17138"/><path d="M385.8 352.4l3.8 1.3 3-1.5-3.9-1.3z" color="#b07137"/><path d="M389.6 353.7l3.9 1.4 3-1.6-3.9-1.3z" color="#b07037"/><path d="M393.5 355.1l4 1.3 2.9-1.5-3.9-1.4z" color="#b07037"/><path d="M310.7 324.2l3 1.1 3-1.2-3-1z" color="#f7f0d8"/><path d="M313.7 325.3l3 1 3.1-1.2-3.1-1z" color="#f5dfbb"/><path d="M316.7 326.3l3.1 1.1 3.1-1.2-3.1-1.1z" color="#f1cc9c"/><path d="M319.8 327.4l3.1 1 3.1-1.2-3.1-1z" color="#efbb80"/><path d="M322.9 328.4l3.2 1.1 3-1.2-3.1-1.1z" color="#eeab67"/><path d="M326.1 329.5l3.2 1.1 3-1.3-3.2-1z" color="#eca057"/><path d="M329.3 330.6l3.2 1.1 3-1.3-3.2-1.1z" color="#ea984b"/><path d="M332.5 331.7l3.2 1.1 3.1-1.3-3.3-1.1z" color="#e79243"/><path d="M335.7 332.8l3.3 1.1 3-1.3-3.2-1.1z" color="#e28e41"/><path d="M339 333.9l3.3 1.1 3-1.3-3.3-1.1z" color="#de8b40"/><path d="M342.3 335l3.4 1.2 3-1.3-3.4-1.2z" color="#da873e"/><path d="M345.7 336.2l3.4 1.1 3-1.3-3.4-1.1z" color="#d4843e"/><path d="M349.1 337.3l3.4 1.2 3-1.3-3.4-1.2z" color="#ce803d"/><path d="M352.5 338.5l3.4 1.2 3-1.4-3.4-1.1z" color="#c97d3d"/><path d="M355.9 339.7l3.5 1.2 3-1.4-3.5-1.2z" color="#c47b3c"/><path d="M359.4 340.9l3.5 1.2 3-1.4-3.5-1.2z" color="#c0783c"/><path d="M362.9 342.1l3.6 1.2 3-1.4-3.6-1.2z" color="#bd773b"/><path d="M366.5 343.3l3.6 1.2 3-1.4-3.6-1.2z" color="#ba763a"/><path d="M370.1 344.5l3.7 1.3 2.9-1.5-3.6-1.2z" color="#b8753a"/><path d="M373.8 345.8l3.6 1.2 3-1.4-3.7-1.3z" color="#b67439"/><path d="M377.4 347l3.8 1.3 2.9-1.5-3.7-1.2z" color="#b57339"/><path d="M381.2 348.3l3.7 1.3 3-1.5-3.8-1.3z" color="#b37238"/><path d="M384.9 349.6l3.8 1.3 3-1.5-3.8-1.3z" color="#b27238"/><path d="M388.7 350.9l3.9 1.3 2.9-1.5-3.8-1.3z" color="#b27138"/><path d="M392.6 352.2l3.9 1.3 2.9-1.5-3.9-1.3z" color="#b17138"/><path d="M396.5 353.5l3.9 1.4 2.9-1.6-3.9-1.3z" color="#b17138"/><path d="M313.7 323.1l3 1 3-1.2-3-1z" color="#f6f1da"/><path d="M316.7 324.1l3.1 1 3-1.2-3.1-1z" color="#f6e2c0"/><path d="M319.8 325.1l3.1 1.1 3-1.3-3.1-1z" color="#f2d0a1"/><path d="M322.9 326.2l3.1 1 3-1.2-3.1-1.1z" color="#f0be85"/><path d="M326 327.2l3.1 1.1 3-1.3-3.1-1z" color="#efae6c"/><path d="M329.1 328.3l3.2 1 3-1.2-3.2-1.1z" color="#eda25a"/><path d="M332.3 329.3l3.2 1.1 3-1.2-3.2-1.1z" color="#eb9a4e"/><path d="M335.5 330.4l3.3 1.1 2.9-1.3-3.2-1z" color="#e89344"/><path d="M338.8 331.5l3.2 1.1 3-1.3-3.3-1.1z" color="#e48f42"/><path d="M342 332.6l3.3 1.1 3-1.3-3.3-1.1z" color="#e08c40"/><path d="M345.3 333.7l3.4 1.2 3-1.4-3.4-1.1z" color="#dc883f"/><path d="M348.7 334.9l3.4 1.1 2.9-1.3-3.3-1.2z" color="#d6853e"/><path d="M352.1 336l3.4 1.2 2.9-1.4-3.4-1.1z" color="#d1823d"/><path d="M355.5 337.2l3.4 1.1 3-1.3-3.5-1.2z" color="#cb7f3d"/><path d="M358.9 338.3l3.5 1.2 3-1.4-3.5-1.1z" color="#c77c3c"/><path d="M362.4 339.5l3.5 1.2 3-1.4-3.5-1.2z" color="#c27a3c"/><path d="M365.9 340.7l3.6 1.2 2.9-1.4-3.5-1.2z" color="#bf783b"/><path d="M369.5 341.9l3.6 1.2 2.9-1.4-3.6-1.2z" color="#bd773b"/><path d="M373.1 343.1l3.6 1.2 2.9-1.4-3.6-1.2z" color="#ba763a"/><path d="M376.7 344.3l3.7 1.3 2.9-1.5-3.7-1.2z" color="#b8753a"/><path d="M380.4 345.6l3.7 1.2 2.9-1.4-3.7-1.3z" color="#b77439"/><path d="M384.1 346.8l3.8 1.3 2.9-1.5-3.8-1.2z" color="#b67339"/><path d="M387.9 348.1l3.8 1.3 2.9-1.5-3.8-1.3z" color="#b57339"/><path d="M391.7 349.4l3.8 1.3 2.9-1.6-3.8-1.2z" color="#b47238"/><path d="M395.5 350.7l3.9 1.3 2.9-1.6-3.9-1.3z" color="#b47238"/><path d="M399.4 352l3.9 1.3 2.9-1.6-3.9-1.3z" color="#b47238"/><path d="M316.7 321.9l3 1 3-1.2-3-1z" color="#f4f2df"/><path d="M319.7 322.9l3.1 1 3-1.2-3.1-1z" color="#f7e7c9"/><path d="M322.8 323.9l3.1 1 3-1.2-3.1-1z" color="#f3d5aa"/><path d="M325.9 324.9l3.1 1.1 3-1.2-3.1-1.1z" color="#f0c48d"/><path d="M329 326l3.1 1 3-1.2-3.1-1z" color="#efb375"/><path d="M332.1 327l3.2 1.1 3-1.2-3.2-1.1z" color="#eea55e"/><path d="M335.3 328.1l3.2 1.1 3-1.3-3.2-1z" color="#ec9d52"/><path d="M338.5 329.2l3.2 1 3-1.2-3.2-1.1z" color="#ea9647"/><path d="M341.7 330.2l3.3 1.1 3-1.2-3.3-1.1z" color="#e69143"/><path d="M345 331.3l3.3 1.1 3-1.3-3.3-1z" color="#e28e41"/><path d="M348.3 332.4l3.4 1.1 2.9-1.3-3.3-1.1z" color="#de8a3f"/><path d="M351.7 333.5l3.3 1.2 3-1.3-3.4-1.2z" color="#da873e"/><path d="M355 334.7l3.4 1.1 3-1.3-3.4-1.1z" color="#d5843e"/><path d="M358.4 335.8l3.5 1.2 2.9-1.4-3.4-1.1z" color="#cf813d"/><path d="M361.9 337l3.5 1.1 2.9-1.3-3.5-1.2z" color="#cb7e3d"/><path d="M365.4 338.1l3.5 1.2 2.9-1.4-3.5-1.1z" color="#c67c3c"/><path d="M368.9 339.3l3.5 1.2 2.9-1.4-3.5-1.2z" color="#c27a3c"/><path d="M372.4 340.5l3.6 1.2 2.9-1.4-3.6-1.2z" color="#bf783c"/><path d="M376 341.7l3.6 1.2 2.9-1.4-3.6-1.2z" color="#bd773b"/><path d="M379.6 342.9l3.7 1.2 2.9-1.4-3.7-1.2z" color="#bc763a"/><path d="M383.3 344.1l3.7 1.3 2.9-1.5-3.7-1.2z" color="#ba753a"/><path d="M387 345.4l3.8 1.2 2.8-1.5-3.7-1.2z" color="#b9753a"/><path d="M390.8 346.6l3.8 1.3 2.8-1.5-3.8-1.3z" color="#b87439"/><path d="M394.6 347.9l3.8 1.2 2.8-1.4-3.8-1.3z" color="#b77439"/><path d="M398.4 349.1l3.9 1.3 2.8-1.5-3.9-1.2z" color="#b77439"/><path d="M402.3 350.4l3.9 1.3 2.8-1.5-3.9-1.3z" color="#b77439"/><path d="M319.7 320.7l3 1 3-1.1-3-1z" color="#f2f5e5"/><path d="M322.7 321.7l3.1 1 2.9-1.1-3-1z" color="#f8eed5"/><path d="M325.8 322.7l3.1 1 2.9-1.1-3.1-1z" color="#f5ddb7"/><path d="M328.9 323.7l3.1 1.1 2.9-1.2-3.1-1z" color="#f1cb9a"/><path d="M332 324.8l3.1 1 2.9-1.2-3.1-1z" color="#efbb81"/><path d="M335.1 325.8l3.2 1.1 2.9-1.3-3.2-1z" color="#eeac6a"/><path d="M338.3 326.9l3.2 1 2.9-1.2-3.2-1.1z" color="#eda159"/><path d="M341.5 327.9l3.2 1.1 2.9-1.3-3.2-1z" color="#eb9a4e"/><path d="M344.7 329l3.3 1.1 2.9-1.3-3.3-1.1z" color="#e99444"/><path d="M348 330.1l3.3 1 2.9-1.2-3.3-1.1z" color="#e59042"/><path d="M351.3 331.1l3.3 1.1 2.9-1.2-3.3-1.1z" color="#e18d41"/><path d="M354.6 332.2l3.4 1.2 2.9-1.3-3.4-1.1z" color="#dd8a3f"/><path d="M358 333.4l3.4 1.1 2.9-1.3-3.4-1.1z" color="#da873e"/><path d="M361.4 334.5l3.4 1.1 2.9-1.3-3.4-1.1z" color="#d4843e"/><path d="M364.8 335.6l3.5 1.2 2.8-1.4-3.4-1.1z" color="#d0813d"/><path d="M368.3 336.8l3.5 1.1 2.8-1.3-3.5-1.2z" color="#cc7f3d"/><path d="M371.8 337.9l3.5 1.2 2.9-1.4-3.6-1.1z" color="#c87d3d"/><path d="M375.3 339.1l3.6 1.2 2.9-1.4-3.6-1.2z" color="#c47b3c"/><path d="M378.9 340.3l3.6 1.2 2.9-1.4-3.6-1.2z" color="#c1793c"/><path d="M382.5 341.5l3.7 1.2 2.8-1.4-3.6-1.2z" color="#c0783c"/><path d="M386.2 342.7l3.7 1.2 2.8-1.4-3.7-1.2z" color="#be783b"/><path d="M389.9 343.9l3.7 1.2 2.8-1.4-3.7-1.2z" color="#bd773b"/><path d="M393.6 345.1l3.8 1.3 2.8-1.5-3.8-1.2z" color="#bc773b"/><path d="M397.4 346.4l3.8 1.3 2.8-1.5-3.8-1.3z" color="#bc763a"/><path d="M401.2 347.7l3.9 1.2 2.8-1.5-3.9-1.2z" color="#bb763a"/><path d="M405.1 348.9l3.9 1.3 2.8-1.5-3.9-1.3z" color="#bb763a"/><path d="M322.7 319.6l3 1 2.9-1.2-3-1z" color="#eef8ec"/><path d="M325.7 320.6l3 1 2.9-1.2-3-1z" color="#f5f2dd"/><path d="M328.7 321.6l3.1 1 2.9-1.2-3.1-1z" color="#f7e7c9"/><path d="M331.8 322.6l3.1 1 2.9-1.2-3.1-1z" color="#f3d6ac"/><path d="M334.9 323.6l3.1 1 2.9-1.2-3.1-1z" color="#f0c590"/><path d="M338 324.6l3.2 1 2.9-1.2-3.2-1z" color="#efb679"/><path d="M341.2 325.6l3.2 1.1 2.9-1.2-3.2-1.1z" color="#eea864"/><path d="M344.4 326.7l3.2 1 2.9-1.2-3.2-1z" color="#eca056"/><path d="M347.6 327.7l3.3 1.1 2.9-1.2-3.3-1.1z" color="#ea994c"/><path d="M350.9 328.8l3.3 1.1 2.8-1.3-3.2-1z" color="#e89344"/><path d="M354.2 329.9l3.3 1.1 2.9-1.3-3.4-1.1z" color="#e49042"/><path d="M357.5 331l3.4 1.1 2.8-1.3-3.3-1.1z" color="#e18d41"/><path d="M360.9 332.1l3.4 1.1 2.8-1.3-3.4-1.1z" color="#de8a3f"/><path d="M364.3 333.2l3.4 1.1 2.8-1.3-3.4-1.1z" color="#db873e"/><path d="M367.7 334.3l3.4 1.1 2.9-1.3-3.5-1.1z" color="#d6853e"/><path d="M371.1 335.4l3.5 1.2 2.9-1.4-3.5-1.1z" color="#d2833d"/><path d="M374.6 336.6l3.6 1.1 2.8-1.3-3.5-1.2z" color="#ce813d"/><path d="M378.2 337.7l3.6 1.2 2.8-1.4-3.6-1.1z" color="#cb7f3d"/><path d="M381.8 338.9l3.6 1.2 2.8-1.4-3.6-1.2z" color="#c87d3d"/><path d="M385.4 340.1l3.6 1.2 2.8-1.4-3.6-1.2z" color="#c67c3c"/><path d="M389 341.3l3.7 1.2 2.8-1.4-3.7-1.2z" color="#c47b3c"/><path d="M392.7 342.5l3.7 1.2 2.8-1.4-3.7-1.2z" color="#c27a3c"/><path d="M396.4 343.7l3.8 1.2 2.8-1.4-3.8-1.2z" color="#c1793c"/><path d="M400.2 344.9l3.8 1.3 2.8-1.5-3.8-1.2z" color="#c1793c"/><path d="M404 346.2l3.9 1.2 2.7-1.4-3.8-1.3z" color="#c1793c"/><path d="M407.9 347.4l3.9 1.3 2.7-1.5-3.9-1.2z" color="#c1793c"/><path d="M325.6 318.4l3 1 2.9-1.1-3.1-1z" color="#dbf5e8"/><path d="M328.6 319.4l3 1 2.9-1.2-3-.9z" color="#f1f6e8"/><path d="M331.6 320.4l3.1 1 2.9-1.2-3.1-1z" color="#f6f0d9"/><path d="M334.7 321.4l3.1 1 2.9-1.2-3.1-1z" color="#f6e3c1"/><path d="M337.8 322.4l3.1 1 2.9-1.2-3.1-1z" color="#f2d2a6"/><path d="M340.9 323.4l3.2 1 2.8-1.2-3.1-1z" color="#f0c38c"/><path d="M344.1 324.4l3.2 1.1 2.8-1.2-3.2-1.1z" color="#efb577"/><path d="M347.3 325.5l3.2 1 2.8-1.2-3.2-1z" color="#eea763"/><path d="M350.5 326.5l3.3 1.1 2.8-1.3-3.3-1z" color="#eca057"/><path d="M353.8 327.6l3.2 1 2.9-1.2-3.3-1.1z" color="#eb9a4d"/><path d="M357 328.6l3.4 1.1 2.8-1.3-3.3-1z" color="#e99444"/><path d="M360.4 329.7l3.3 1.1 2.8-1.3-3.3-1.1z" color="#e59143"/><path d="M363.7 330.8l3.4 1.1 2.8-1.3-3.4-1.1z" color="#e28e41"/><path d="M367.1 331.9l3.4 1.1 2.8-1.3-3.4-1.1z" color="#df8c40"/><path d="M370.5 333l3.5 1.1 2.8-1.3-3.5-1.1z" color="#dd893f"/><path d="M374 334.1l3.5 1.1 2.8-1.3-3.5-1.1z" color="#da873e"/><path d="M377.5 335.2l3.5 1.2 2.8-1.3-3.5-1.2z" color="#d6853e"/><path d="M381 336.4l3.6 1.1 2.8-1.3-3.6-1.1z" color="#d3833d"/><path d="M384.6 337.5l3.6 1.2 2.8-1.4-3.6-1.1z" color="#d0823d"/><path d="M388.2 338.7l3.6 1.2 2.8-1.4-3.6-1.2z" color="#ce803d"/><path d="M391.8 339.9l3.7 1.2 2.8-1.4-3.7-1.2z" color="#cc7f3d"/><path d="M395.5 341.1l3.7 1.2 2.8-1.4-3.7-1.2z" color="#cb7e3d"/><path d="M399.2 342.3l3.8 1.2 2.7-1.4-3.7-1.2z" color="#ca7e3d"/><path d="M403 343.5l3.8 1.2 2.7-1.4-3.8-1.2z" color="#c97e3d"/><path d="M406.8 344.7l3.8 1.3 2.8-1.5-3.9-1.2z" color="#c97e3d"/><path d="M410.6 346l3.9 1.2 2.7-1.4-3.8-1.3z" color="#c97e3d"/><path d="M328.4 317.3l3.1 1 2.8-1.1-3-1z" color="#c6f2e4"/><path d="M331.5 318.3l3 .9 2.8-1.1-3-.9z" color="#e1f6e9"/><path d="M334.5 319.2l3.1 1 2.8-1.1-3.1-1z" color="#f2f5e6"/><path d="M337.6 320.2l3.1 1 2.8-1.1-3.1-1z" color="#f7efd7"/><path d="M340.7 321.2l3.1 1 2.8-1.1-3.1-1z" color="#f6e2bf"/><path d="M343.8 322.2l3.1 1 2.9-1.1-3.2-1z" color="#f2d2a6"/><path d="M346.9 323.2l3.2 1.1 2.8-1.2-3.1-1z" color="#f0c48e"/><path d="M350.1 324.3l3.2 1 2.9-1.2-3.3-1z" color="#efb77a"/><path d="M353.3 325.3l3.3 1 2.8-1.2-3.2-1z" color="#eeaa67"/><path d="M356.6 326.3l3.3 1.1 2.8-1.2-3.3-1.1z" color="#eda25a"/><path d="M359.9 327.4l3.3 1 2.8-1.2-3.3-1z" color="#eb9c51"/><path d="M363.2 328.4l3.3 1.1 2.8-1.2-3.3-1.1z" color="#ea9748"/><path d="M366.5 329.5l3.4 1.1 2.8-1.3-3.4-1z" color="#e89343"/><path d="M369.9 330.6l3.4 1.1 2.8-1.3-3.4-1.1z" color="#e59042"/><path d="M373.3 331.7l3.5 1.1 2.8-1.3-3.5-1.1z" color="#e28e41"/><path d="M376.8 332.8l3.5 1.1 2.8-1.3-3.5-1.1z" color="#e08c40"/><path d="M380.3 333.9l3.5 1.2 2.8-1.4-3.5-1.1z" color="#dd8a3f"/><path d="M383.8 335.1l3.6 1.1 2.7-1.3-3.5-1.2z" color="#dc883f"/><path d="M387.4 336.2l3.6 1.1 2.7-1.3-3.6-1.1z" color="#da873e"/><path d="M391 337.3l3.6 1.2 2.7-1.3-3.6-1.2z" color="#d8863e"/><path d="M394.6 338.5l3.7 1.2 2.7-1.4-3.7-1.1z" color="#d6853e"/><path d="M398.3 339.7l3.7 1.2 2.7-1.4-3.7-1.2z" color="#d5843e"/><path d="M402 340.9l3.7 1.2 2.8-1.4-3.8-1.2z" color="#d4833d"/><path d="M405.7 342.1l3.8 1.2 2.7-1.4-3.7-1.2z" color="#d3833d"/><path d="M409.5 343.3l3.9 1.2 2.7-1.4-3.9-1.2z" color="#d3833d"/><path d="M413.4 344.5l3.8 1.3 2.7-1.5-3.8-1.2z" color="#d3833d"/><path d="M331.3 316.2l3 1 2.8-1.2-3-.9z" color="#b2eedd"/><path d="M334.3 317.2l3 .9 2.8-1.1-3-1z" color="#c8f2e4"/><path d="M337.3 318.1l3.1 1 2.8-1.1-3.1-1z" color="#e1f6e9"/><path d="M340.4 319.1l3.1 1 2.8-1.2-3.1-.9z" color="#f2f6e6"/><path d="M343.5 320.1l3.1 1 2.8-1.2-3.1-1z" color="#f6f0d9"/><path d="M346.6 321.1l3.2 1 2.8-1.2-3.2-1z" color="#f6e4c4"/><path d="M349.8 322.1l3.1 1 2.8-1.2-3.1-1z" color="#f3d6ab"/><path d="M352.9 323.1l3.3 1 2.7-1.2-3.2-1z" color="#f0c895"/><path d="M356.2 324.1l3.2 1 2.8-1.2-3.3-1z" color="#efbc81"/><path d="M359.4 325.1l3.3 1.1 2.8-1.3-3.3-1z" color="#efb070"/><path d="M362.7 326.2l3.3 1 2.8-1.2-3.3-1.1z" color="#eea55f"/><path d="M366 327.2l3.3 1.1 2.8-1.3-3.3-1z" color="#eda057"/><path d="M369.3 328.3l3.4 1 2.8-1.2-3.4-1.1z" color="#eb9b4f"/><path d="M372.7 329.3l3.4 1.1 2.8-1.2-3.4-1.1z" color="#ea9749"/><path d="M376.1 330.4l3.5 1.1 2.7-1.3-3.4-1z" color="#e89344"/><path d="M379.6 331.5l3.5 1.1 2.7-1.3-3.5-1.1z" color="#e69143"/><path d="M383.1 332.6l3.5 1.1 2.7-1.3-3.5-1.1z" color="#e49042"/><path d="M386.6 333.7l3.5 1.2 2.7-1.4-3.5-1.1z" color="#e28e41"/><path d="M390.1 334.9l3.6 1.1 2.7-1.3-3.6-1.2z" color="#e08d41"/><path d="M393.7 336l3.6 1.2 2.7-1.4-3.6-1.1z" color="#df8b40"/><path d="M397.3 337.2l3.7 1.1 2.7-1.3-3.7-1.2z" color="#de8b40"/><path d="M401 338.3l3.7 1.2 2.7-1.4-3.7-1.1z" color="#dd8a3f"/><path d="M404.7 339.5l3.8 1.2 2.6-1.4-3.7-1.2z" color="#dd893f"/><path d="M408.5 340.7l3.7 1.2 2.7-1.4-3.8-1.2z" color="#dd893f"/><path d="M412.2 341.9l3.9 1.2 2.6-1.4-3.8-1.2z" color="#dd893f"/><path d="M416.1 343.1l3.8 1.2 2.7-1.4-3.9-1.2z" color="#dd893f"/><path d="M334.1 315.1l3 .9 2.8-1.1-3-.9z" color="#9fead5"/><path d="M337.1 316l3 1 2.8-1.1-3-1z" color="#b1eedc"/><path d="M340.1 317l3.1 1 2.8-1.2-3.1-.9z" color="#c5f2e3"/><path d="M343.2 318l3.1 .9 2.8-1.1-3.1-1z" color="#dcf5e9"/><path d="M346.3 318.9l3.1 1 2.8-1.1-3.1-1z" color="#f1f7e9"/><path d="M349.4 319.9l3.2 1 2.7-1.2-3.1-.9z" color="#f5f2dd"/><path d="M352.6 320.9l3.1 1 2.8-1.2-3.2-1z" color="#f7eace"/><path d="M355.7 321.9l3.2 1 2.8-1.2-3.2-1z" color="#f5ddb7"/><path d="M358.9 322.9l3.3 1 2.7-1.2-3.2-1z" color="#f2d0a2"/><path d="M362.2 323.9l3.3 1 2.7-1.1-3.3-1.1z" color="#f0c48e"/><path d="M365.5 324.9l3.3 1.1 2.7-1.2-3.3-1z" color="#efb97e"/><path d="M368.8 326l3.3 1 2.7-1.2-3.3-1z" color="#efb06f"/><path d="M372.1 327l3.4 1.1 2.7-1.2-3.4-1.1z" color="#eea661"/><path d="M375.5 328.1l3.4 1.1 2.7-1.3-3.4-1z" color="#eda159"/><path d="M378.9 329.2l3.4 1 2.7-1.2-3.4-1.1z" color="#ec9e53"/><path d="M382.3 330.2l3.5 1.1 2.7-1.2-3.5-1.1z" color="#eb9a4e"/><path d="M385.8 331.3l3.5 1.1 2.7-1.2-3.5-1.1z" color="#ea9749"/><path d="M389.3 332.4l3.5 1.1 2.7-1.2-3.5-1.1z" color="#e99444"/><path d="M392.8 333.5l3.6 1.2 2.7-1.3-3.6-1.1z" color="#e89343"/><path d="M396.4 334.7l3.6 1.1 2.7-1.3-3.6-1.1z" color="#e69243"/><path d="M400 335.8l3.7 1.2 2.7-1.4-3.7-1.1z" color="#e59143"/><path d="M403.7 337l3.7 1.1 2.6-1.3-3.6-1.2z" color="#e59042"/><path d="M407.4 338.1l3.7 1.2 2.7-1.4-3.8-1.1z" color="#e49042"/><path d="M411.1 339.3l3.8 1.2 2.6-1.4-3.7-1.2z" color="#e49042"/><path d="M414.9 340.5l3.8 1.2 2.6-1.4-3.8-1.2z" color="#e49042"/><path d="M418.7 341.7l3.9 1.2 2.6-1.4-3.9-1.2z" color="#e49042"/><path d="M336.9 314l3 .9 2.7-1-2.9-1z" color="#8de6cf"/><path d="M339.9 314.9l3 1 2.8-1.1-3.1-.9z" color="#9cead4"/><path d="M342.9 315.9l3.1 .9 2.7-1.1-3-.9z" color="#abedda"/><path d="M346 316.8l3.1 1 2.7-1.1-3.1-1z" color="#bff0e1"/><path d="M349.1 317.8l3.1 1 2.7-1.2-3.1-.9z" color="#d2f4e7"/><path d="M352.2 318.8l3.1 .9 2.7-1.1-3.1-1z" color="#e9f7eb"/><path d="M355.3 319.7l3.2 1 2.7-1.1-3.2-1z" color="#f3f5e4"/><path d="M358.5 320.7l3.2 1 2.7-1.1-3.2-1z" color="#f6f0d9"/><path d="M361.7 321.7l3.2 1 2.7-1.1-3.2-1z" color="#f7e7c8"/><path d="M364.9 322.7l3.3 1.1 2.7-1.2-3.3-1z" color="#f4dbb5"/><path d="M368.2 323.8l3.3 1 2.7-1.2-3.3-1z" color="#f2d0a2"/><path d="M371.5 324.8l3.3 1 2.7-1.2-3.3-1z" color="#f0c691"/><path d="M374.8 325.8l3.4 1.1 2.7-1.3-3.4-1z" color="#efbd84"/><path d="M378.2 326.9l3.4 1 2.7-1.2-3.4-1.1z" color="#efb577"/><path d="M381.6 327.9l3.4 1.1 2.7-1.3-3.4-1z" color="#efae6c"/><path d="M385 329l3.5 1.1 2.7-1.3-3.5-1.1z" color="#eea762"/><path d="M388.5 330.1l3.5 1.1 2.7-1.3-3.5-1.1z" color="#eda35c"/><path d="M392 331.2l3.5 1.1 2.7-1.3-3.5-1.1z" color="#eda058"/><path d="M395.5 332.3l3.6 1.1 2.6-1.3-3.5-1.1z" color="#ec9e54"/><path d="M399.1 333.4l3.6 1.1 2.6-1.3-3.6-1.1z" color="#eb9c51"/><path d="M402.7 334.5l3.7 1.1 2.6-1.3-3.7-1.1z" color="#eb9b4f"/><path d="M406.4 335.6l3.6 1.2 2.7-1.4-3.7-1.1z" color="#eb9a4d"/><path d="M410 336.8l3.8 1.1 2.6-1.3-3.7-1.2z" color="#eb994c"/><path d="M413.8 337.9l3.7 1.2 2.6-1.4-3.7-1.1z" color="#ea994c"/><path d="M417.5 339.1l3.8 1.2 2.6-1.4-3.8-1.2z" color="#eb994c"/><path d="M421.3 340.3l3.9 1.2 2.6-1.4-3.9-1.2z" color="#eb9a4d"/><path d="M339.7 312.9l2.9 1 2.8-1.1-3-.9z" color="#7ce1c8"/><path d="M342.6 313.9l3.1 .9 2.7-1.1-3-.9z" color="#89e5cd"/><path d="M345.7 314.8l3 .9 2.7-1.1-3-.9z" color="#96e8d2"/><path d="M348.7 315.7l3.1 1 2.7-1.1-3.1-1z" color="#a3ebd7"/><path d="M351.8 316.7l3.1 .9 2.7-1.1-3.1-.9z" color="#b4efdd"/><path d="M354.9 317.6l3.1 1 2.7-1.1-3.1-1z" color="#c5f2e3"/><path d="M358 318.6l3.2 1 2.7-1.2-3.2-.9z" color="#d8f5e8"/><path d="M361.2 319.6l3.2 1 2.7-1.2-3.2-1z" color="#ecf7eb"/><path d="M364.4 320.6l3.2 1 2.7-1.2-3.2-1z" color="#f3f4e4"/><path d="M367.6 321.6l3.3 1 2.7-1.2-3.3-1z" color="#f6f0da"/><path d="M370.9 322.6l3.3 1 2.7-1.2-3.3-1z" color="#f7eacd"/><path d="M374.2 323.6l3.3 1 2.7-1.2-3.3-1z" color="#f5e0bd"/><path d="M377.5 324.6l3.4 1 2.6-1.2-3.3-1z" color="#f3d7ad"/><path d="M380.9 325.6l3.4 1.1 2.6-1.2-3.4-1.1z" color="#f2cf9f"/><path d="M384.3 326.7l3.4 1 2.6-1.2-3.4-1z" color="#f0c793"/><path d="M387.7 327.7l3.5 1.1 2.6-1.2-3.5-1.1z" color="#f0c088"/><path d="M391.2 328.8l3.5 1.1 2.6-1.3-3.5-1z" color="#efbb80"/><path d="M394.7 329.9l3.5 1.1 2.6-1.3-3.5-1.1z" color="#efb678"/><path d="M398.2 331l3.5 1.1 2.7-1.3-3.6-1.1z" color="#efb172"/><path d="M401.7 332.1l3.6 1.1 2.7-1.3-3.6-1.1z" color="#efae6d"/><path d="M405.3 333.2l3.7 1.1 2.6-1.3-3.6-1.1z" color="#eeab69"/><path d="M409 334.3l3.7 1.1 2.6-1.3-3.7-1.1z" color="#eeaa66"/><path d="M412.7 335.4l3.7 1.2 2.6-1.4-3.7-1.1z" color="#eea864"/><path d="M416.4 336.6l3.7 1.1 2.6-1.3-3.7-1.2z" color="#eea864"/><path d="M420.1 337.7l3.8 1.2 2.6-1.4-3.8-1.1z" color="#eea965"/><path d="M423.9 338.9l3.9 1.2 2.5-1.4-3.8-1.2z" color="#eeaa66"/><path d="M342.4 311.9l3 .9 2.7-1.1-3-.9z" color="#73dbc3"/><path d="M345.4 312.8l3 .9 2.7-1.1-3-.9z" color="#79dfc6"/><path d="M348.4 313.7l3 .9 2.7-1-3-1z" color="#81e3ca"/><path d="M351.4 314.6l3.1 1 2.7-1.1-3.1-.9z" color="#8ee6cf"/><path d="M354.5 315.6l3.1 .9 2.7-1.1-3.1-.9z" color="#9ae9d3"/><path d="M357.6 316.5l3.1 1 2.7-1.1-3.1-1z" color="#a5ecd8"/><path d="M360.7 317.5l3.2 .9 2.7-1.1-3.2-.9z" color="#b5efde"/><path d="M363.9 318.4l3.2 1 2.7-1.1-3.2-1z" color="#c5f2e3"/><path d="M367.1 319.4l3.2 1 2.7-1.1-3.2-1z" color="#d5f4e7"/><path d="M370.3 320.4l3.3 1 2.6-1.2-3.2-.9z" color="#e6f7ea"/><path d="M373.6 321.4l3.3 1 2.6-1.2-3.3-1z" color="#f1f6e8"/><path d="M376.9 322.4l3.3 1 2.6-1.2-3.3-1z" color="#f4f3e0"/><path d="M380.2 323.4l3.3 1 2.7-1.2-3.4-1z" color="#f7f0d8"/><path d="M383.5 324.4l3.4 1.1 2.6-1.2-3.3-1.1z" color="#f7ebcf"/><path d="M386.9 325.5l3.4 1 2.7-1.2-3.5-1z" color="#f6e4c3"/><path d="M390.3 326.5l3.5 1.1 2.6-1.3-3.4-1z" color="#f5ddb8"/><path d="M393.8 327.6l3.5 1 2.6-1.2-3.5-1.1z" color="#f3d7ae"/><path d="M397.3 328.6l3.5 1.1 2.6-1.2-3.5-1.1z" color="#f2d2a5"/><path d="M400.8 329.7l3.6 1.1 2.5-1.3-3.5-1z" color="#f2ce9e"/><path d="M404.4 330.8l3.6 1.1 2.5-1.3-3.6-1.1z" color="#f1cb99"/><path d="M408 331.9l3.6 1.1 2.5-1.3-3.6-1.1z" color="#f0c894"/><path d="M411.6 333l3.7 1.1 2.5-1.3-3.7-1.1z" color="#f0c691"/><path d="M415.3 334.1l3.7 1.1 2.5-1.3-3.7-1.1z" color="#f0c590"/><path d="M419 335.2l3.7 1.2 2.5-1.3-3.7-1.2z" color="#f0c58f"/><path d="M422.7 336.4l3.8 1.1 2.5-1.3-3.8-1.1z" color="#f0c690"/><path d="M426.5 337.5l3.8 1.2 2.5-1.4-3.8-1.1z" color="#f0c793"/><path d="M345.1 310.8l3 .9 2.6-1-3-.9z" color="#68d5bf"/><path d="M348.1 311.7l3 .9 2.6-1-3-.9z" color="#6fd9c1"/><path d="M351.1 312.6l3 1 2.7-1.1-3.1-.9z" color="#75ddc4"/><path d="M354.1 313.6l3.1 .9 2.6-1.1-3-.9z" color="#7ae0c7"/><path d="M357.2 314.5l3.1 .9 2.6-1.1-3.1-.9z" color="#83e3ca"/><path d="M360.3 315.4l3.1 1 2.7-1.1-3.2-1z" color="#8ee6cf"/><path d="M363.4 316.4l3.2 .9 2.6-1.1-3.1-.9z" color="#99e9d3"/><path d="M366.6 317.3l3.2 1 2.6-1.1-3.2-1z" color="#a3ebd7"/><path d="M369.8 318.3l3.2 1 2.6-1.2-3.2-.9z" color="#b0eedc"/><path d="M373 319.3l3.2 .9 2.6-1.1-3.2-1z" color="#bdf0e0"/><path d="M376.2 320.2l3.3 1 2.6-1.1-3.3-1z" color="#c9f2e5"/><path d="M379.5 321.2l3.3 1 2.6-1.1-3.3-1z" color="#d7f4e8"/><path d="M382.8 322.2l3.4 1 2.6-1.1-3.4-1z" color="#e4f6ea"/><path d="M386.2 323.2l3.3 1.1 2.6-1.2-3.3-1z" color="#f0f8ec"/><path d="M389.5 324.3l3.5 1 2.5-1.2-3.4-1z" color="#f2f5e5"/><path d="M393 325.3l3.4 1 2.6-1.2-3.5-1z" color="#f4f3e0"/><path d="M396.4 326.3l3.5 1.1 2.5-1.2-3.4-1.1z" color="#f6f1db"/><path d="M399.9 327.4l3.5 1.1 2.6-1.3-3.6-1z" color="#f7efd7"/><path d="M403.4 328.5l3.5 1 2.6-1.2-3.5-1.1z" color="#f8eed3"/><path d="M406.9 329.5l3.6 1.1 2.6-1.3-3.6-1z" color="#f7eace"/><path d="M410.5 330.6l3.6 1.1 2.6-1.3-3.6-1.1z" color="#f7e8ca"/><path d="M414.1 331.7l3.7 1.1 2.5-1.3-3.6-1.1z" color="#f6e6c7"/><path d="M417.8 332.8l3.7 1.1 2.5-1.3-3.7-1.1z" color="#f6e5c6"/><path d="M421.5 333.9l3.7 1.2 2.5-1.4-3.7-1.1z" color="#f6e5c5"/><path d="M425.2 335.1l3.8 1.1 2.5-1.3-3.8-1.2z" color="#f6e6c7"/><path d="M429 336.2l3.8 1.1 2.5-1.3-3.8-1.1z" color="#f7e8c9"/><path d="M347.7 309.8l3 .9 2.7-1.1-3-.8z" color="#60d0b8"/><path d="M350.7 310.7l3 .9 2.7-1.1-3-.9z" color="#64d3bc"/><path d="M353.7 311.6l3.1 .9 2.6-1.1-3-.9z" color="#69d6bf"/><path d="M356.8 312.5l3 .9 2.7-1.1-3.1-.9z" color="#6fd9c2"/><path d="M359.8 313.4l3.1 .9 2.6-1-3-1z" color="#74dcc4"/><path d="M362.9 314.3l3.2 1 2.6-1.1-3.2-.9z" color="#79e0c6"/><path d="M366.1 315.3l3.1 .9 2.6-1.1-3.1-.9z" color="#7fe3c9"/><path d="M369.2 316.2l3.2 1 2.6-1.1-3.2-1z" color="#89e5cd"/><path d="M372.4 317.2l3.2 .9 2.6-1.1-3.2-.9z" color="#93e7d1"/><path d="M375.6 318.1l3.2 1 2.6-1.1-3.2-1z" color="#9bead4"/><path d="M378.8 319.1l3.3 1 2.6-1.2-3.3-.9z" color="#a4ecd7"/><path d="M382.1 320.1l3.3 1 2.6-1.2-3.3-1z" color="#aeeedb"/><path d="M385.4 321.1l3.4 1 2.5-1.2-3.3-1z" color="#b8efdf"/><path d="M388.8 322.1l3.3 1 2.6-1.2-3.4-1z" color="#c1f1e2"/><path d="M392.1 323.1l3.4 1 2.6-1.2-3.4-1z" color="#caf2e5"/><path d="M395.5 324.1l3.5 1 2.5-1.2-3.4-1z" color="#d3f4e7"/><path d="M399 325.1l3.4 1.1 2.6-1.2-3.5-1.1z" color="#dbf5e8"/><path d="M402.4 326.2l3.6 1 2.5-1.2-3.5-1z" color="#e2f6ea"/><path d="M406 327.2l3.5 1.1 2.5-1.3-3.5-1z" color="#e8f7eb"/><path d="M409.5 328.3l3.6 1 2.5-1.2-3.6-1.1z" color="#edf8eb"/><path d="M413.1 329.3l3.6 1.1 2.5-1.2-3.6-1.1z" color="#f0f8ec"/><path d="M416.7 330.4l3.6 1.1 2.5-1.3-3.6-1z" color="#f1f7ea"/><path d="M420.3 331.5l3.7 1.1 2.5-1.3-3.7-1.1z" color="#f1f7ea"/><path d="M424 332.6l3.7 1.1 2.5-1.3-3.7-1.1z" color="#f1f7ea"/><path d="M427.7 333.7l3.8 1.2 2.5-1.3-3.8-1.2z" color="#f0f7eb"/><path d="M431.5 334.9l3.8 1.1 2.5-1.3-3.8-1.1z" color="#f0f8ec"/><path d="M350.4 308.8l3 .8 2.6-1-3-.9z" color="#57cbb1"/><path d="M353.4 309.6l3 .9 2.6-1-3-.9z" color="#5bceb4"/><path d="M356.4 310.5l3 .9 2.6-1-3-.9z" color="#60d0b8"/><path d="M359.4 311.4l3.1 .9 2.5-1-3-.9z" color="#64d2bb"/><path d="M362.5 312.3l3 1 2.6-1.1-3.1-.9z" color="#68d5bf"/><path d="M365.5 313.3l3.2 .9 2.5-1.1-3.1-.9z" color="#6dd8c1"/><path d="M368.7 314.2l3.1 .9 2.6-1.1-3.2-.9z" color="#72dbc3"/><path d="M371.8 315.1l3.2 1 2.6-1.1-3.2-1z" color="#76dec5"/><path d="M375 316.1l3.2 .9 2.6-1.1-3.2-.9z" color="#7be0c7"/><path d="M378.2 317l3.2 1 2.6-1.1-3.2-1z" color="#80e3c9"/><path d="M381.4 318l3.3 .9 2.6-1.1-3.3-.9z" color="#88e5cc"/><path d="M384.7 318.9l3.3 1 2.5-1.1-3.2-1z" color="#8fe7cf"/><path d="M388 319.9l3.3 1 2.6-1.1-3.4-1z" color="#96e8d2"/><path d="M391.3 320.9l3.4 1 2.5-1.2-3.3-.9z" color="#9cead4"/><path d="M394.7 321.9l3.4 1 2.5-1.2-3.4-1z" color="#a2ebd7"/><path d="M398.1 322.9l3.4 1 2.5-1.2-3.4-1z" color="#a7ecd9"/><path d="M401.5 323.9l3.5 1.1 2.5-1.2-3.5-1.1z" color="#aeeddb"/><path d="M405 325l3.5 1 2.5-1.2-3.5-1z" color="#b3eedd"/><path d="M408.5 326l3.5 1 2.5-1.2-3.5-1z" color="#b7efde"/><path d="M412 327l3.6 1.1 2.5-1.2-3.6-1.1z" color="#bbf0e0"/><path d="M415.6 328.1l3.6 1.1 2.5-1.3-3.6-1z" color="#bdf0e1"/><path d="M419.2 329.2l3.6 1 2.5-1.2-3.6-1.1z" color="#bff1e1"/><path d="M422.8 330.2l3.7 1.1 2.5-1.2-3.7-1.1z" color="#c0f1e1"/><path d="M426.5 331.3l3.7 1.1 2.5-1.2-3.7-1.1z" color="#bff1e1"/><path d="M430.2 332.4l3.8 1.2 2.4-1.3-3.7-1.1z" color="#bef0e1"/><path d="M434 333.6l3.8 1.1 2.4-1.3-3.8-1.1z" color="#bcf0e0"/><path d="M353 307.7l3 .9 2.5-1-2.9-.9z" color="#4dc2a7"/><path d="M356 308.6l3 .9 2.5-1-3-.9z" color="#52c7ac"/><path d="M359 309.5l3 .9 2.6-1-3.1-.9z" color="#56cbb0"/><path d="M362 310.4l3 .9 2.6-1.1-3-.8z" color="#5acdb3"/><path d="M365 311.3l3.1 .9 2.6-1.1-3.1-.9z" color="#5ecfb7"/><path d="M368.1 312.2l3.1 .9 2.6-1.1-3.1-.9z" color="#62d1ba"/><path d="M371.2 313.1l3.2 .9 2.5-1-3.1-1z" color="#65d3bd"/><path d="M374.4 314l3.2 1 2.5-1.1-3.2-.9z" color="#69d5bf"/><path d="M377.6 315l3.2 .9 2.5-1.1-3.2-.9z" color="#6dd8c1"/><path d="M380.8 315.9l3.2 1 2.5-1.2-3.2-.9z" color="#71dbc3"/><path d="M384 316.9l3.3 .9 2.5-1.1-3.3-1z" color="#75ddc4"/><path d="M387.3 317.8l3.2 1 2.6-1.1-3.3-1z" color="#78dfc6"/><path d="M390.5 318.8l3.4 1 2.5-1.2-3.3-.9z" color="#7be1c7"/><path d="M393.9 319.8l3.3 .9 2.5-1.1-3.3-1z" color="#7fe2c9"/><path d="M397.2 320.7l3.4 1 2.5-1.1-3.4-1z" color="#84e4cb"/><path d="M400.6 321.7l3.4 1 2.5-1.1-3.4-1z" color="#89e5cd"/><path d="M404 322.7l3.5 1.1 2.5-1.2-3.5-1z" color="#8de6ce"/><path d="M407.5 323.8l3.5 1 2.5-1.2-3.5-1z" color="#90e7d0"/><path d="M411 324.8l3.5 1 2.5-1.2-3.5-1z" color="#93e8d1"/><path d="M414.5 325.8l3.6 1.1 2.4-1.3-3.5-1z" color="#95e8d2"/><path d="M418.1 326.9l3.6 1 2.4-1.2-3.6-1.1z" color="#97e8d2"/><path d="M421.7 327.9l3.6 1.1 2.4-1.3-3.6-1z" color="#98e9d3"/><path d="M425.3 329l3.7 1.1 2.4-1.3-3.7-1.1z" color="#98e9d3"/><path d="M429 330.1l3.7 1.1 2.4-1.3-3.7-1.1z" color="#98e9d3"/><path d="M432.7 331.2l3.7 1.1 2.4-1.3-3.7-1.1z" color="#97e8d2"/><path d="M436.4 332.3l3.8 1.1 2.4-1.3-3.8-1.1z" color="#95e8d2"/></g><path d="M282.9 337.4l.1-.6M283 336.8l0-.6M282.8 338.8l.1-.7M282.9 338.1l0-.7M291.9 341.1l0-.8M291.9 340.3l-.1-.8M292.1 342.3l-.1-.7M292 341.6l-.1-.5M302.4 344.4l-.1-.4M302.3 344l-.1-.6M303.1 346.5l-.4-1.2M302.7 345.3l-.3-.9M315.7 349.5l-.3-.5M315.4 349l-.4-.7M317.1 351.7l-.8-1.3M316.3 350.4l-.6-.9M317.2 351.9l-.1-.1M317.1 351.8l0-.1M333.7 355.8l-.2-.2M333.5 355.6l-.5-.6M336 357.9l-1-.9M335 357l-1.3-1.2M338.3 359.9l-1.6-1.4M336.7 358.5l-.7-.6M338.5 360l-.1-.1M338.4 359.9l-.1 0M283 336.2l.2-.6M283.2 335.6l.1-.7M291.9 338.7l.1-.9M292 337.8l0-.9M291.8 339.5l0-.4M291.8 339.1l.1-.4M302 342l-.1-.7M301.9 341.3l0-.7M302.2 343.4l-.1-.8M302.1 342.6l-.1-.6M314.6 347.2l-.3-.9M314.3 346.3l-.5-1.2M315 348.3l-.2-.7M314.8 347.6l-.2-.4M330.1 351.5l-.1-.2M330 351.3l-.2-.3M331.8 353.7l-.7-1M331.1 352.7l-1-1.2M333 355l-.8-.8M332.2 354.2l-.4-.5M359.8 362.4l-.1-.1M359.7 362.3l-.6-.3M363 364.2l-.6-.4M362.4 363.8l-2.6-1.4M366.4 365.9l-1.2-.6M365.2 365.3l-2.2-1.1M370 367.6l-1.6-.8M368.4 366.8l-2-.9M373.9 369.2l-2.1-.9M371.8 368.3l-1.8-.7M292.3 336.1l.2-.8M292.5 335.3l.2-.7M292 336.9l.1-.4M292.1 336.5l.2-.4M301.9 339.5l.1-.7M302 338.8l.1-.7M301.9 340.6l0-.6M301.9 340l0-.5M313.4 342.3l0 0M313.4 342.3l0 0M313.8 344.8l-.2-1.2M313.6 343.6l-.2-1.3M313.8 345.1l0-.2M313.8 344.9l0-.1M328.8 349.2l-.3-.6M328.5 348.6l-.4-.9M329.8 351l-.6-1.1M329.2 349.9l-.4-.7M351.7 356.6l-.1-.1M351.6 356.5l-.2-.3M354.2 358.6l-.8-.7M353.4 357.9l-1.7-1.3M356.9 360.5l-1.6-1.1M355.3 359.4l-1.1-.8M359.1 362l-1.7-1.2M357.4 360.8l-.5-.3M293.3 333.3l.3-.5M293.6 332.8l.2-.3M292.7 334.6l.3-.5M293 334.1l.3-.8M302.5 336.8l.2-.6M302.7 336.2l.2-.4M302.1 338.1l.2-.6M302.3 337.5l.2-.7M313.4 342.3l.2-1.3M313.6 341l.1-1.3M327.8 346.8l-.1-.9M327.7 345.9l-.3-1.2M328.1 347.7l-.1-.5M328 347.2l-.2-.4M347.8 352.2l0 0M347.8 352.2l0 0M349.6 354.4l-.6-.8M349 353.6l-1.2-1.4M351.4 356.2l-1.2-1.2M350.2 355l-.6-.6M293.8 332.5l.6-.9M294.4 331.6l.8-1.1M304 333.8l0-.1M304 333.7l0 0M302.9 335.8l.4-.8M303.3 335l.7-1.2M313.7 339.6l.5-1.2M314.2 338.4l.3-.9M313.7 339.7l0 0M313.7 339.7l0-.1M327.4 344.3l.1-1.1M327.5 343.2l.1-1M327.4 344.7l0-.2M327.4 344.5l0-.2M346.6 349.8l-.1-.4M346.5 349.4l-.2-.4M347.8 352.2l-.7-1.4M347.1 350.8l-.5-1M295.2 330.5l.1-.1M295.3 330.4l.2-.2M304 333.7l1.1-1.2M305.1 332.5l.5-.7M315.1 336.5l.5-.7M315.6 335.8l.2-.3M314.5 337.5l.3-.4M314.8 337.1l.3-.6M327.9 341.3l.4-.8M328.3 340.5l.2-.5M327.6 342.2l.2-.4M327.8 341.8l.1-.5M346.1 347l0-.4M346.1 346.6l0-.3M346.3 349l-.1-1M346.2 348l-.1-1M305.6 331.8l.7-.5M306.3 331.3l1.2-1.2M315.8 335.5l.9-.9M316.7 334.6l.9-.9M328.5 340l.6-.8M329.1 339.2l.9-1.2M346.1 346.3l.4-1M346.5 345.3l.5-1.3M308 329.8l1.5-1M309.5 328.8l.4-.2M307.5 330.1l.1-.1M307.6 330l.4-.2M319.5 332.2l.2-.1M319.7 332.1l.1-.1M317.6 333.7l.5-.4M318.1 333.3l1.4-1.1M330.5 337.6l1.2-1M331.7 336.6l.4-.3M330 338l.1-.1M330.1 337.9l.4-.3M347.3 343.6l1.1-1.1M348.4 342.5l.4-.4M347 344l.1-.1M347.1 343.9l.2-.3M309.9 328.6l1.7-1M311.6 327.6l.9-.4M319.8 332l2.2-1.2M322 330.8l.4-.2M332.1 336.3l1.7-1M333.8 335.3l.9-.5M348.8 342.1l1.6-.9M350.4 341.2l1-.6M312.5 327.2l1.8-.8M314.3 326.4l1.2-.5M322.4 330.6l2.5-1.1M324.9 329.5l.6-.2M334.7 334.8l2-.8M336.7 334l1.1-.5M351.4 340.6l2.2-.8M353.6 339.8l1.2-.5M315.5 325.9l2.2-.7M317.7 325.2l1.1-.4M325.5 329.3l3.2-1M328.7 328.3l.2-.1M337.8 333.5l3-.8M340.8 332.7l.7-.3M354.8 339.3l3.7-.8M359.1 338.4l-.6 .1M318.8 324.8l3.3-.9M322.1 323.9l.4-.1M328.9 328.2l.9-.2M332.9 327.3l-3.1 .7M341.5 332.4l1.7-.3M345.9 331.6l-2.7 .5M359.1 338.4l1.1-.1M360.2 338.3l4.3-.5M322.5 323.8l1.1-.2M326.6 323l-3 .6M332.9 327.3l1.9-.3M334.8 327l2.5-.5M345.9 331.6l3.4-.4M349.3 331.2l1.6-.2M364.5 337.8l1.5 0M371.3 337.8l-5.3 0M326.6 323l2.5-.4M329.1 322.6l2-.3M337.3 326.5l2.4-.3M342.2 326l-2.5 .2M350.9 331l.8 0M356.7 330.7l-5 .3M371.3 337.8l.7 0M377.3 338.2l-4.2-.3M373.1 337.9l-1.1-.1M380.4 338.5l-3.1-.3M326.5 318.7l-2.4 .3M331.1 322.3l1.7-.1M336.1 321.8l-3.3 .4M342.2 326l4.5-.3M347.8 325.6l-1.1 .1M356.7 330.7l1.4 0M363.6 330.7l-5.5 0M380.4 338.5l1.8 .2M386.8 339.4l-3.5-.5M383.3 338.9l-1.1-.2M391.2 340.2l-1.3-.3M389.9 339.9l-3.1-.5M395.3 341l-4.1-.8M326.5 318.7l4.9-.4M331.5 318.3l-.1 0M336.1 321.8l3.6-.2M341.6 321.5l-1.9 .1M347.8 325.6l4.9 0M354.2 325.6l-1.5 0M363.6 330.7l.2 .1M368.9 331.1l-4.8-.3M364.1 330.8l-.3 0M372.1 331.3l-3.2-.2M395.3 341l.2 .1M399.7 342.1l-4.1-1M395.6 341.1l-.1 0M403.7 343.2l-3.4-1M400.3 342.2l-.6-.1M407.6 344.3l-3-.9M404.6 343.4l-.9-.2M411.4 345.6l-2.8-.9M408.6 344.7l-1-.4M415.1 346.9l-2.8-1M412.3 345.9l-.9-.3M331.5 318.3l.4 0M331.9 318.3l5.1-.3M341.6 321.5l4.1 0M347.8 321.4l-2.1 .1M354.2 325.6l3.9 .1M361.6 325.8l-3.5-.1M372.1 331.3l1.7 .2M378.5 332l-3.2-.4M375.3 331.6l-1.5-.1M383 332.6l-.1 0M382.9 332.6l-4.4-.6M383.2 332.7l-.2-.1M337 318l.6 0M343.1 317.9l-5.5 .1M347.8 321.4l3.3 .1M354.8 321.6l-3.7-.1M361.6 325.8l1.6 .1M368 326.3l-2.8-.2M365.2 326.1l-2-.2M370.5 326.5l-2.5-.2M383.2 332.7l4.1 .7M391.6 334.2l-2.7-.5M388.9 333.7l-1.6-.3M395.7 335l-1.3-.3M394.4 334.7l-2.8-.5M399.8 335.9l-.4-.1M399.4 335.8l-3.7-.8M402.6 336.6l-2.8-.7M339.6 314.9l-5 0M343.1 317.9l.2 0M348.5 318l-4.6-.1M343.9 317.9l-.6 0M349.9 318.1l-1.4-.1M354.8 321.6l1.5 .1M361.1 322l-2.5-.2M358.6 321.8l-2.3-.1M362.9 322.1l-1.8-.1M370.5 326.5l2.2 .3M377.1 327.3l-2.9-.3M374.2 327l-1.5-.2M381.5 327.9l-.1 0M381.4 327.9l-4.3-.6M381.8 328l-.3-.1M402.6 336.6l1.2 .3M407.7 338l-3.8-1M403.9 337l-.1-.1M411.5 339.1l-3.4-1M408.1 338.1l-.4-.1M415.3 340.2l-3.2-.9M412.1 339.3l-.6-.2M419.1 341.5l-3.2-1.1M415.9 340.4l-.6-.2M422.8 342.8l-3.2-1.2M419.6 341.6l-.5-.1M339.6 314.9l.5 0M345.2 315l-3.5-.1M341.7 314.9l-1.6 0M346.4 315l-1.2 0M349.9 318.1l3.6 .1M357.6 318.5l-4.1-.3M362.9 322.1l2.9 .3M370.3 322.8l-1.9-.2M368.4 322.6l-2.6-.2M372.6 323.1l-2.3-.3M381.8 328l4 .6M389.9 329.4l-2.6-.5M387.3 328.9l-1.5-.3M394 330.2l-1.3-.3M392.7 329.9l-2.8-.5M398 331l-.2 0M397.8 331l-3.8-.8M399.4 331.3l-1.4-.3M343.7 312.3l-2.2-.1M346.4 315l3.7 .2M353.9 315.4l-3.8-.2M357.6 318.5l.6 0M362.8 318.9l-3.9-.3M358.9 318.6l-.7-.1M366.6 319.3l-3.8-.4M372.6 323.1l2.1 .3M379 324l-3.1-.5M375.9 323.5l-1.2-.1M383.2 324.6l-.9-.1M382.3 324.5l-3.3-.5M385.1 324.9l-1.9-.3M399.4 331.3l2.6 .6M405.9 332.9l-3.5-.9M402.4 332l-.4-.1M409.7 333.9l-2.9-.8M406.8 333.1l-.9-.2M413.6 335l-2.7-.8M410.9 334.2l-1.2-.3M417.3 336.1l-2.4-.7M414.9 335.4l-1.3-.4M421.1 337.2l-2.4-.7M418.7 336.5l-1.4-.4M424.8 338.4l-2.4-.7M422.4 337.7l-1.3-.5M428.5 339.7l-2.5-.9M426 338.8l-1.2-.4M343.7 312.3l2.6 .1M351 312.7l-.2-.1M350.8 312.6l-4.5-.2M351.2 312.7l-.2 0M353.9 315.4l.9 .1M359.3 315.8l-3.4-.3M355.9 315.5l-1.1 0M362.5 316.1l-3.2-.3M366.6 319.3l.7 0M371.6 319.9l-3.9-.5M367.7 319.4l-.4-.1M375.8 320.4l-1-.1M374.8 320.3l-3.2-.4M377.6 320.7l-1.8-.3M385.1 324.9l2.2 .4M391.3 326.1l-3.3-.7M388 325.4l-.7-.1M395.3 326.8l-2.1-.4M393.2 326.4l-1.9-.3M399.3 327.7l-1.2-.3M398.1 327.4l-2.8-.6M403.2 328.6l-.4-.1M402.8 328.5l-3.5-.8M405.8 329.2l-2.6-.6M349.3 310.2l-2.4-.1M351.2 312.7l4.3 .3M359.6 313.3l-4.1-.3M362.5 316.1l1.3 .1M368 316.7l-3.3-.4M364.7 316.3l-.9-.1M372.3 317.2l-.3 0M372 317.2l-4-.5M372.8 317.3l-.5-.1M377.6 320.7l2.4 .3M384.1 321.7l-3.1-.5M381 321.2l-1-.2M388.1 322.4l-1.4-.3M386.7 322.1l-2.6-.4M392.1 323.1l-.1 0M392 323.1l-3.9-.7M392.5 323.2l-.4-.1M405.8 329.2l1.2 .3M410.8 330.4l-3.6-.9M407.2 329.5l-.2 0M414.6 331.5l-3.3-.9M411.3 330.6l-.5-.2M418.4 332.5l-3-.8M415.4 331.7l-.8-.2M422.1 333.6l-2.9-.8M419.2 332.8l-.8-.3M425.8 334.7l-2.8-.8M423 333.9l-.9-.3M429.5 335.9l-2.9-.9M426.6 335l-.8-.3M433.2 337.2l-3-1M430.2 336.2l-.7-.3M349.3 310.2l2.1 .2M355.8 310.7l-1.9-.1M353.9 310.6l-2.5-.2M357.6 310.9l-1.8-.2M359.6 313.3l.3 .1M364.2 313.8l-4-.4M360.2 313.4l-.3 0M368.4 314.3l-.7-.1M367.7 314.2l-3.5-.4M369.5 314.4l-1.1-.1M372.8 317.3l3.6 .5M380.5 318.4l-2.3-.3M378.2 318.1l-1.8-.3M384.5 319l-.5 0M384 319l-3.5-.6M385.8 319.3l-1.3-.3M392.5 323.2l3.5 .7M399.9 324.7l-3.1-.6M396.8 324.1l-.8-.2M403.7 325.6l-2.3-.5M401.4 325.1l-1.5-.4M407.5 326.5l-1.6-.4M405.9 326.1l-2.2-.5M411.3 327.4l-1.2-.3M410.1 327.1l-2.6-.6M415.1 328.4l-.9-.3M414.2 328.1l-2.9-.7M418.8 329.4l-.6-.2M418.2 329.2l-3.1-.8M422.5 330.4l-.4-.1M422.1 330.3l-3.3-.9M426.2 331.5l-.4-.1M425.8 331.4l-3.3-1M429.9 332.6l-.5-.1M429.4 332.5l-3.2-1M433.6 333.8l-.6-.2M433 333.6l-3.1-1M437.2 335l-.8-.3M436.4 334.7l-2.8-.9M355.8 308.7l-.5-.1M355.3 308.6l-3.8-.3M356.3 308.7l-.5 0M357.6 310.9l2.5 .2M364.3 311.6l-2.2-.2M362.1 311.4l-2-.3M367.3 311.9l-3-.3M369.5 314.4l3 .4M376.6 315.4l-2.4-.3M374.2 315.1l-1.7-.3M380.6 316l-.5-.1M380.1 315.9l-3.5-.5M381.6 316.1l-1-.1M385.8 319.3l2.6 .4M392.3 320.5l-3-.6M389.3 319.9l-.9-.2M396.2 321.2l-2-.4M394.2 320.8l-1.9-.3M400 322l-1-.2M399 321.8l-2.8-.6M403.9 322.8l-.4 0M403.5 322.8l-3.5-.8M406 323.3l-2.1-.5M356.3 308.7l3.7 .4M364.1 309.5l-1.2-.1M362.9 309.4l-2.9-.3M365.9 309.7l-1.8-.2M367.3 311.9l1.1 .2M372.4 312.6l-3.3-.4M369.1 312.2l-.7-.1M376.4 313.2l-1.1-.2M375.3 313l-2.9-.4M378.9 313.5l-2.5-.3M381.6 316.1l2.9 .5M388.4 317.3l-2.9-.5M385.5 316.8l-1-.2M392.3 318l-1.6-.3M390.7 317.7l-2.3-.4M396.1 318.7l-.6-.1M395.5 318.6l-3.2-.6M398.5 319.2l-2.4-.5M406 323.3l1.6 .4M411.4 324.6l-3.5-.9M407.9 323.7l-.3 0M415.1 325.5l-3.1-.7M412 324.8l-.6-.2M418.8 326.5l-2.8-.7M416 325.8l-.9-.3M422.5 327.5l-2.5-.7M420 326.8l-1.2-.3M426.2 328.5l-2.4-.6M423.8 327.9l-1.3-.4M429.8 329.6l-2.3-.7M427.5 328.9l-1.3-.4M433.5 330.7l-2.4-.7M431.1 330l-1.3-.4M437.2 331.9l-2.5-.8M434.7 331.1l-1.2-.4M440.8 333l-2.6-.8M438.2 332.2l-1-.3" class="cl"/><path d="M278.1 337L355.6 306.7L442.6 332.1" class="fb"/><path d="M278.1 337L369.1 371.7L442.6 332.1" class="fe"/><g class="s"><path d="M353.6 284.8l2.3-1.3 1.9 3.4-2.2 1.3z" color="#31ae8e"/><path d="M355.9 283.5l2.3-1.3 2 3.4-2.4 1.3z" color="#35b293"/><path d="M351.5 281.6l2.3-1.4 2.1 3.3-2.3 1.3z" color="#38b897"/><path d="M358.2 282.2l2.3-1.2 2 3.4-2.3 1.2z" color="#38b796"/><path d="M353.8 280.2l2.4-1.3 2 3.3-2.3 1.3z" color="#3bbb9b"/><path d="M349.5 278.6l2.3-1.4 2 3-2.3 1.4z" color="#3fbe9e"/><path d="M360.5 281l2.4-1.2 1.9 3.5-2.3 1.1z" color="#3bbb9a"/><path d="M356.2 278.9l2.3-1.3 2 3.4-2.3 1.2z" color="#3ebe9e"/><path d="M351.8 277.2l2.3-1.4 2.1 3.1-2.4 1.3z" color="#42c0a2"/><path d="M362.9 279.8l2.3-1.1 2 3.5-2.4 1.1z" color="#3ebd9d"/><path d="M347.4 275.7l2.3-1.5 2.1 3-2.3 1.4z" color="#45c2a5"/><path d="M358.5 277.6l2.4-1.2 2 3.4-2.4 1.2z" color="#42c0a2"/><path d="M354.1 275.8l2.4-1.3 2 3.1-2.3 1.3z" color="#45c3a5"/><path d="M365.2 278.7l2.4-1.1 2 3.6-2.4 1z" color="#40bfa0"/><path d="M349.7 274.2l2.4-1.4 2 3-2.3 1.4z" color="#48c5a9"/><path d="M360.9 276.4l2.4-1.1 1.9 3.4-2.3 1.1z" color="#45c2a5"/><path d="M345.3 273l2.4-1.5 2 2.7-2.3 1.5z" color="#4bc7ab"/><path d="M356.5 274.5l2.3-1.3 2.1 3.2-2.4 1.2z" color="#48c5a9"/><path d="M367.6 277.6l2.5-1 1.9 3.6-2.4 1z" color="#43c1a3"/><path d="M352.1 272.8l2.3-1.3 2.1 3-2.4 1.3z" color="#4cc8ac"/><path d="M363.3 275.3l2.4-1.1 1.9 3.4-2.4 1.1z" color="#48c4a8"/><path d="M347.7 271.5l2.3-1.5 2.1 2.8-2.4 1.4z" color="#50cbae"/><path d="M343.2 270.4l2.3-1.5 2.2 2.6-2.4 1.5z" color="#53cdb0"/><path d="M358.8 273.2l2.4-1.2 2.1 3.3-2.4 1.1z" color="#4cc7ac"/><path d="M370.1 276.6l2.4-1 2 3.7-2.5 .9z" color="#46c3a6"/><path d="M354.4 271.5l2.4-1.3 2 3-2.3 1.3z" color="#50cbae"/><path d="M365.7 274.2l2.4-1.1 2 3.5-2.5 1z" color="#4ac6ab"/><path d="M350 270l2.3-1.3 2.1 2.8-2.3 1.3z" color="#54ceb1"/><path d="M361.2 272l2.4-1.1 2.1 3.3-2.4 1.1z" color="#50cbae"/><path d="M345.5 268.9l2.4-1.5 2.1 2.6-2.3 1.5z" color="#58d1b2"/><path d="M372.5 275.6l2.5-.8 1.9 3.6-2.4 .9z" color="#48c5a9"/><path d="M341.1 268l2.3-1.5 2.1 2.4-2.3 1.5z" color="#5ad3b4"/><path d="M356.8 270.2l2.4-1.2 2 3-2.4 1.2z" color="#55cfb1"/><path d="M368.1 273.1l2.4-.9 2 3.4-2.4 1z" color="#4ec9ad"/><path d="M352.3 268.7l2.4-1.3 2.1 2.8-2.4 1.3z" color="#59d2b3"/><path d="M363.6 270.9l2.5-1.1 2 3.3-2.4 1.1z" color="#54ceb0"/><path d="M347.9 267.4l2.3-1.4 2.1 2.7-2.3 1.3z" color="#5dd5b5"/><path d="M375 274.8l2.4-.9 2 3.8-2.5 .7z" color="#4bc7ab"/><path d="M343.4 266.5l2.3-1.5 2.2 2.4-2.4 1.5z" color="#5fd7b7"/><path d="M359.2 269l2.4-1.2 2 3.1-2.4 1.1z" color="#59d2b3"/><path d="M370.5 272.2l2.5-1 2 3.6-2.5 .8z" color="#51ccaf"/><path d="M338.9 265.9l2.3-1.6 2.2 2.2-2.3 1.5z" color="#62d9b8"/><path d="M354.7 267.4l2.4-1.3 2.1 2.9-2.4 1.2z" color="#5dd6b6"/><path d="M366.1 269.8l2.4-1 2 3.4-2.4 .9z" color="#58d1b2"/><path d="M377.4 273.9l2.6-.7 1.9 3.7-2.5 .8z" color="#4ec9ad"/><path d="M350.2 266l2.4-1.3 2.1 2.7-2.4 1.3z" color="#61d9b8"/><path d="M345.7 265l2.4-1.4 2.1 2.4-2.3 1.4z" color="#68dbbb"/><path d="M361.6 267.8l2.4-1.1 2.1 3.1-2.5 1.1z" color="#5dd5b5"/><path d="M373 271.2l2.5-.8 1.9 3.5-2.4 .9z" color="#55cfb1"/><path d="M341.2 264.3l2.4-1.6 2.1 2.3-2.3 1.5z" color="#6edcbd"/><path d="M357.1 266.1l2.4-1.2 2.1 2.9-2.4 1.2z" color="#62d9b8"/><path d="M336.7 263.9l2.4-1.7 2.1 2.1-2.3 1.6z" color="#71ddbf"/><path d="M368.5 268.8l2.5-.9 2 3.3-2.5 1z" color="#5bd4b4"/><path d="M380 273.2l2.5-.7 1.9 3.8-2.5 .6z" color="#51ccaf"/><path d="M352.6 264.7l2.4-1.3 2.1 2.7-2.4 1.3z" color="#6bdcbc"/><path d="M364 266.7l2.5-1 2 3.1-2.4 1z" color="#61d8b7"/><path d="M348.1 263.6l2.4-1.4 2.1 2.5-2.4 1.3z" color="#73dec0"/><path d="M375.5 270.4l2.5-.8 2 3.6-2.6 .7z" color="#58d1b3"/><path d="M343.6 262.7l2.4-1.4 2.1 2.3-2.4 1.4z" color="#79e0c3"/><path d="M359.5 264.9l2.5-1.1 2 2.9-2.4 1.1z" color="#6cdcbc"/><path d="M339.1 262.2l2.3-1.5 2.2 2-2.4 1.6z" color="#7de1c5"/><path d="M371 267.9l2.5-.9 2 3.4-2.5 .8z" color="#5fd7b6"/><path d="M382.5 272.5l2.5-.6 1.9 3.8-2.5 .6z" color="#54ceb0"/><path d="M334.5 262l2.4-1.6 2.2 1.8-2.4 1.7z" color="#80e2c6"/><path d="M355 263.4l2.5-1.2 2 2.7-2.4 1.2z" color="#76dfc1"/><path d="M366.5 265.7l2.5-1 2 3.2-2.5 .9z" color="#69dbbb"/><path d="M350.5 262.2l2.4-1.3 2.1 2.5-2.4 1.3z" color="#7ee1c5"/><path d="M378 269.6l2.5-.7 2 3.6-2.5 .7z" color="#5bd4b4"/><path d="M346 261.3l2.4-1.4 2.1 2.3-2.4 1.4z" color="#84e3c8"/><path d="M362 263.8l2.5-1.1 2 3-2.5 1z" color="#75dfc1"/><path d="M385 271.9l2.6-.6 1.9 3.8-2.6 .6z" color="#57d0b2"/><path d="M373.5 267l2.5-.8 2 3.4-2.5 .8z" color="#63d9b9"/><path d="M341.4 260.7l2.4-1.5 2.2 2.1-2.4 1.4z" color="#89e4ca"/><path d="M357.5 262.2l2.4-1.2 2.1 2.8-2.5 1.1z" color="#7fe2c6"/><path d="M336.9 260.4l2.3-1.6 2.2 1.9-2.3 1.5z" color="#8de5cb"/><path d="M332.3 260.4l2.3-1.7 2.3 1.7-2.4 1.6z" color="#8ee6cc"/><path d="M369 264.7l2.5-.9 2 3.2-2.5 .9z" color="#71ddbf"/><path d="M380.5 268.9l2.6-.7 1.9 3.7-2.5 .6z" color="#5ed6b6"/><path d="M352.9 260.9l2.4-1.3 2.2 2.6-2.5 1.2z" color="#88e4c9"/><path d="M348.4 259.9l2.4-1.4 2.1 2.4-2.4 1.3z" color="#91e6cd"/><path d="M364.5 262.7l2.4-1 2.1 3-2.5 1z" color="#7ee1c5"/><path d="M387.6 271.3l2.6-.5 1.9 3.9-2.6 .4z" color="#59d2b3"/><path d="M376 266.2l2.6-.8 1.9 3.5-2.5 .7z" color="#6bdbbc"/><path d="M343.8 259.2l2.4-1.5 2.2 2.2-2.4 1.4z" color="#99e8d0"/><path d="M359.9 261l2.5-1.1 2.1 2.8-2.5 1.1z" color="#89e4ca"/><path d="M339.2 258.8l2.4-1.5 2.2 1.9-2.4 1.5z" color="#9fe9d2"/><path d="M371.5 263.8l2.5-.9 2 3.3-2.5 .8z" color="#79e0c3"/><path d="M383.1 268.2l2.6-.6 1.9 3.7-2.6 .6z" color="#61d9b8"/><path d="M334.6 258.7l2.4-1.6 2.2 1.7-2.3 1.6z" color="#a1ead3"/><path d="M355.3 259.6l2.5-1.2 2.1 2.6-2.4 1.2z" color="#95e7cf"/><path d="M330.1 259l2.3-1.7 2.2 1.4-2.3 1.7z" color="#a1ead3"/><path d="M366.9 261.7l2.6-1 2 3.1-2.5 .9z" color="#87e4c9"/><path d="M350.8 258.5l2.4-1.3 2.1 2.4-2.4 1.3z" color="#a1ead3"/><path d="M390.2 270.8l2.6-.4 1.9 3.9-2.6 .4z" color="#5cd4b5"/><path d="M378.6 265.4l2.5-.7 2 3.5-2.6 .7z" color="#72debf"/><path d="M346.2 257.7l2.4-1.3 2.2 2.1-2.4 1.4z" color="#abebd7"/><path d="M362.4 259.9l2.5-1.1 2 2.9-2.4 1z" color="#95e7cf"/><path d="M341.6 257.3l2.4-1.5 2.2 1.9-2.4 1.5z" color="#b1edd9"/><path d="M374 262.9l2.6-.8 2 3.3-2.6 .8z" color="#81e2c6"/><path d="M385.7 267.6l2.6-.5 1.9 3.7-2.6 .5z" color="#67daba"/><path d="M337 257.1l2.4-1.5 2.2 1.7-2.4 1.5z" color="#b5eddb"/><path d="M357.8 258.4l2.5-1.1 2.1 2.6-2.5 1.1z" color="#a5ead5"/><path d="M332.4 257.3l2.3-1.7 2.3 1.5-2.4 1.6z" color="#b6eddb"/><path d="M392.8 270.4l2.6-.4 1.9 4-2.6 .3z" color="#5ed6b6"/><path d="M369.5 260.7l2.5-.9 2 3.1-2.5 .9z" color="#90e6cd"/><path d="M327.8 257.7l2.3-1.7 2.3 1.3-2.3 1.7z" color="#b4edda"/><path d="M353.2 257.2l2.5-1.2 2.1 2.4-2.5 1.2z" color="#b2edd9"/><path d="M381.1 264.7l2.6-.6 2 3.5-2.6 .6z" color="#78e0c2"/><path d="M348.6 256.4l2.4-1.4 2.2 2.2-2.4 1.3z" color="#bcefdd"/><path d="M364.9 258.8l2.5-.9 2.1 2.8-2.6 1z" color="#a3ead4"/><path d="M388.3 267.1l2.6-.5 1.9 3.8-2.6 .4z" color="#6ddcbd"/><path d="M376.6 262.1l2.5-.7 2 3.3-2.5 .7z" color="#89e4ca"/><path d="M344 255.8l2.4-1.4 2.2 2-2.4 1.3z" color="#c6f0df"/><path d="M360.3 257.3l2.5-1.1 2.1 2.6-2.5 1.1z" color="#b4edda"/><path d="M339.4 255.6l2.4-1.5 2.2 1.7-2.4 1.5z" color="#ccf1e0"/><path d="M395.4 270l2.7-.3 1.8 4-2.6 .3z" color="#60d8b7"/><path d="M334.7 255.6l2.4-1.6 2.3 1.6-2.4 1.5z" color="#cef1e1"/><path d="M372 259.8l2.5-.8 2.1 3.1-2.6 .8z" color="#9ce9d1"/><path d="M383.7 264.1l2.6-.6 2 3.6-2.6 .5z" color="#7fe1c5"/><path d="M355.7 256l2.4-1.2 2.2 2.5-2.5 1.1z" color="#c3f0df"/><path d="M330.1 256l2.4-1.7 2.2 1.3-2.3 1.7z" color="#ccf1e0"/><path d="M325.5 256.7l2.3-1.7 2.3 1-2.3 1.7z" color="#c6f0df"/><path d="M351 255l2.5-1.2 2.2 2.2-2.5 1.2z" color="#d2f2e1"/><path d="M367.4 257.9l2.5-1 2.1 2.9-2.5 .9z" color="#b1ecd9"/><path d="M390.9 266.6l2.6-.4 1.9 3.8-2.6 .4z" color="#72dec0"/><path d="M379.1 261.4l2.6-.7 2 3.4-2.6 .6z" color="#91e6cd"/><path d="M346.4 254.4l2.5-1.4 2.1 2-2.4 1.4z" color="#def4e3"/><path d="M362.8 256.2l2.5-1 2.1 2.7-2.5 .9z" color="#c4f0df"/><path d="M341.8 254.1l2.4-1.5 2.2 1.8-2.4 1.4z" color="#e5f5e5"/><path d="M398.1 269.7l2.6-.2 1.9 4-2.7 .2z" color="#63d9b8"/><path d="M374.5 259l2.6-.7 2 3.1-2.5 .7z" color="#a8ebd6"/><path d="M337.1 254l2.4-1.5 2.3 1.6-2.4 1.5z" color="#e8f5e5"/><path d="M386.3 263.5l2.6-.5 2 3.6-2.6 .5z" color="#85e3c8"/><path d="M358.1 254.8l2.6-1.1 2.1 2.5-2.5 1.1z" color="#d8f3e2"/><path d="M332.5 254.3l2.4-1.6 2.2 1.3-2.4 1.6z" color="#e7f5e5"/><path d="M327.8 255l2.4-1.7 2.3 1-2.4 1.7z" color="#e3f4e4"/><path d="M323.2 255.9l2.3-1.8 2.3 .9-2.3 1.7z" color="#daf3e3"/><path d="M353.5 253.8l2.5-1.2 2.1 2.2-2.4 1.2z" color="#e9f5e5"/><path d="M369.9 256.9l2.6-.8 2 2.9-2.5 .8z" color="#beefde"/><path d="M393.5 266.2l2.7-.3 1.9 3.8-2.7 .3z" color="#77dfc2"/><path d="M381.7 260.7l2.6-.5 2 3.3-2.6 .6z" color="#9be8d1"/><path d="M348.9 253l2.4-1.3 2.2 2.1-2.5 1.2z" color="#edf3e0"/><path d="M365.3 255.2l2.5-1 2.1 2.7-2.5 1z" color="#d7f3e2"/><path d="M400.7 269.5l2.7-.1 1.8 4-2.6 .1z" color="#67daba"/><path d="M344.2 252.6l2.4-1.4 2.3 1.8-2.5 1.4z" color="#eef1db"/><path d="M377.1 258.3l2.6-.7 2 3.1-2.6 .7z" color="#b4edda"/><path d="M388.9 263l2.7-.4 1.9 3.6-2.6 .4z" color="#8be5cb"/><path d="M339.5 252.5l2.5-1.5 2.2 1.6-2.4 1.5z" color="#eff0d9"/><path d="M360.7 253.7l2.5-1 2.1 2.5-2.5 1z" color="#ebf5e5"/><path d="M334.9 252.7l2.4-1.5 2.2 1.3-2.4 1.5z" color="#eff0d9"/><path d="M330.2 253.3l2.4-1.7 2.3 1.1-2.4 1.6z" color="#eff1db"/><path d="M396.2 265.9l2.6-.2 1.9 3.8-2.6 .2z" color="#7ce1c4"/><path d="M372.5 256.1l2.6-.8 2 3-2.6 .7z" color="#cef1e1"/><path d="M356 252.6l2.5-1.2 2.2 2.3-2.6 1.1z" color="#eff1db"/><path d="M325.5 254.1l2.4-1.7 2.3 .9-2.4 1.7z" color="#edf3df"/><path d="M384.3 260.2l2.7-.6 1.9 3.4-2.6 .5z" color="#a5ead5"/><path d="M320.8 255.3l2.4-1.8 2.3 .6-2.3 1.8z" color="#ebf6e6"/><path d="M351.3 251.7l2.5-1.2 2.2 2.1-2.5 1.2z" color="#f1eed4"/><path d="M403.4 269.4l2.7-.1 1.8 4-2.7 .1z" color="#6bdbbc"/><path d="M367.8 254.2l2.6-.9 2.1 2.8-2.6 .8z" color="#e9f5e5"/><path d="M391.6 262.6l2.7-.3 1.9 3.6-2.7 .3z" color="#91e6cd"/><path d="M346.6 251.2l2.5-1.3 2.2 1.8-2.4 1.3z" color="#f3eccf"/><path d="M379.7 257.6l2.6-.7 2 3.3-2.6 .5z" color="#bfefde"/><path d="M363.2 252.7l2.5-1 2.1 2.5-2.5 1z" color="#eff1da"/><path d="M342 251l2.4-1.4 2.2 1.6-2.4 1.4z" color="#f4eacc"/><path d="M337.3 251.2l2.4-1.5 2.3 1.3-2.5 1.5z" color="#f4eacb"/><path d="M398.8 265.7l2.7-.2 1.9 3.9-2.7 .1z" color="#80e2c6"/><path d="M375.1 255.3l2.6-.7 2 3-2.6 .7z" color="#dff4e4"/><path d="M387 259.6l2.6-.4 2 3.4-2.7 .4z" color="#aeecd8"/><path d="M358.5 251.4l2.5-1 2.2 2.3-2.5 1z" color="#f2ecd0"/><path d="M332.6 251.6l2.4-1.6 2.3 1.2-2.4 1.5z" color="#f4ebcc"/><path d="M327.9 252.4l2.4-1.7 2.3 .9-2.4 1.7z" color="#f2ecd0"/><path d="M323.2 253.5l2.3-1.8 2.4 .7-2.4 1.7z" color="#f0efd6"/><path d="M406.1 269.3l2.8 0 1.8 4.1-2.8-.1z" color="#6edcbe"/><path d="M318.5 254.9l2.3-1.8 2.4 .4-2.4 1.8z" color="#eef2de"/><path d="M353.8 250.5l2.5-1.2 2.2 2.1-2.5 1.2z" color="#f5e9c8"/><path d="M370.4 253.3l2.6-.8 2.1 2.8-2.6 .8z" color="#eef2dd"/><path d="M394.3 262.3l2.6-.3 1.9 3.7-2.6 .2z" color="#99e8d0"/><path d="M382.3 256.9l2.7-.5 2 3.2-2.7 .6z" color="#cdf1e1"/><path d="M349.1 249.9l2.5-1.2 2.2 1.8-2.5 1.2z" color="#f5e3be"/><path d="M365.7 251.7l2.6-.9 2.1 2.5-2.6 .9z" color="#f2ecd0"/><path d="M344.4 249.6l2.5-1.3 2.2 1.6-2.5 1.3z" color="#f4dfb7"/><path d="M401.5 265.5l2.8-.1 1.8 3.9-2.7 .1z" color="#84e3c8"/><path d="M377.7 254.6l2.6-.7 2 3-2.6 .7z" color="#ecf5e4"/><path d="M339.7 249.7l2.4-1.5 2.3 1.4-2.4 1.4z" color="#f3ddb5"/><path d="M389.6 259.2l2.7-.4 2 3.5-2.7 .3z" color="#b7eedb"/><path d="M361 250.4l2.6-1 2.1 2.3-2.5 1z" color="#f5e7c4"/><path d="M335 250l2.4-1.5 2.3 1.2-2.4 1.5z" color="#f4deb6"/><path d="M408.9 269.3l2.7 0 1.8 4.2-2.7-.1z" color="#71ddbf"/><path d="M330.3 250.7l2.4-1.6 2.3 .9-2.4 1.6z" color="#f4e2bc"/><path d="M325.5 251.7l2.4-1.7 2.4 .7-2.4 1.7z" color="#f6e8c6"/><path d="M320.8 253.1l2.4-1.8 2.3 .4-2.3 1.8z" color="#f3ebce"/><path d="M316.1 254.7l2.4-1.8 2.3 .2-2.3 1.8z" color="#f0f0d8"/><path d="M356.3 249.3l2.6-1.1 2.1 2.2-2.5 1z" color="#f3dcb4"/><path d="M373 252.5l2.6-.7 2.1 2.8-2.6 .7z" color="#f1eed4"/><path d="M396.9 262l2.8-.2 1.8 3.7-2.7 .2z" color="#a0e9d3"/><path d="M385 256.4l2.6-.5 2 3.3-2.6 .4z" color="#daf3e3"/><path d="M351.6 248.7l2.5-1.2 2.2 1.8-2.5 1.2z" color="#f2d5a8"/><path d="M368.3 250.8l2.6-.9 2.1 2.6-2.6 .8z" color="#f6e8c7"/><path d="M404.3 265.4l2.7-.1 1.9 4-2.8 0z" color="#88e4c9"/><path d="M346.9 248.3l2.5-1.3 2.2 1.7-2.5 1.2z" color="#f1d0a0"/><path d="M380.3 253.9l2.7-.6 2 3.1-2.7 .5z" color="#eef2dc"/><path d="M392.3 258.8l2.7-.3 1.9 3.5-2.6 .3z" color="#c0efde"/><path d="M342.1 248.2l2.5-1.3 2.3 1.4-2.5 1.3z" color="#f0ce9c"/><path d="M411.6 269.3l2.8 .2 1.8 4.1-2.8-.1z" color="#74dec0"/><path d="M363.6 249.4l2.6-1 2.1 2.4-2.6 .9z" color="#f3dbb1"/><path d="M337.4 248.5l2.5-1.4 2.2 1.1-2.4 1.5z" color="#f0ce9d"/><path d="M332.7 249.1l2.4-1.5 2.3 .9-2.4 1.5z" color="#f1d1a1"/><path d="M399.7 261.8l2.7-.2 1.9 3.8-2.8 .1z" color="#a7ebd5"/><path d="M375.6 251.8l2.6-.7 2.1 2.8-2.6 .7z" color="#f4ebcc"/><path d="M358.9 248.2l2.5-1 2.2 2.2-2.6 1z" color="#f1d0a0"/><path d="M327.9 250l2.4-1.6 2.4 .7-2.4 1.6z" color="#f2d6aa"/><path d="M387.6 255.9l2.7-.4 2 3.3-2.7 .4z" color="#e6f5e5"/><path d="M313.7 254.7l2.4-1.8 2.4 0-2.4 1.8z" color="#f1eed3"/><path d="M323.2 251.3l2.4-1.7 2.3 .4-2.4 1.7z" color="#f4deb7"/><path d="M318.5 252.9l2.3-1.8 2.4 .2-2.4 1.8z" color="#f5e9c8"/><path d="M354.1 247.5l2.6-1.2 2.2 1.9-2.6 1.1z" color="#efc793"/><path d="M407 265.3l2.8 .1 1.8 3.9-2.7 0z" color="#8be5cb"/><path d="M370.9 249.9l2.6-.7 2.1 2.6-2.6 .7z" color="#f3ddb5"/><path d="M395 258.5l2.7-.2 2 3.5-2.8 .2z" color="#caf1e0"/><path d="M349.4 247l2.5-1.2 2.2 1.7-2.5 1.2z" color="#eec28a"/><path d="M383 253.3l2.6-.5 2 3.1-2.6 .5z" color="#f1eed5"/><path d="M414.4 269.5l2.8 .2 1.7 4.2-2.7-.3z" color="#76dfc1"/><path d="M366.2 248.4l2.6-.9 2.1 2.4-2.6 .9z" color="#f0cf9f"/><path d="M344.6 246.9l2.5-1.4 2.3 1.5-2.5 1.3z" color="#edbf86"/><path d="M339.9 247.1l2.4-1.5 2.3 1.3-2.5 1.3z" color="#edbf85"/><path d="M402.4 261.6l2.7 0 1.9 3.7-2.7 .1z" color="#acecd7"/><path d="M378.2 251.1l2.7-.6 2.1 2.8-2.7 .6z" color="#f5e5c1"/><path d="M335.1 247.6l2.5-1.5 2.3 1-2.5 1.4z" color="#edc188"/><path d="M390.3 255.5l2.7-.3 2 3.3-2.7 .3z" color="#ecf4e2"/><path d="M361.4 247.2l2.6-1 2.2 2.2-2.6 1z" color="#eec48d"/><path d="M330.3 248.4l2.5-1.6 2.3 .8-2.4 1.5z" color="#eec590"/><path d="M311.3 255l2.3-1.9 2.5-.2-2.4 1.8z" color="#f3ecd0"/><path d="M325.6 249.6l2.4-1.7 2.3 .5-2.4 1.6z" color="#f0cd9b"/><path d="M316.1 252.9l2.3-1.8 2.4 0-2.3 1.8z" color="#f5e4bf"/><path d="M320.8 251.1l2.4-1.8 2.4 .3-2.4 1.7z" color="#f2d7ab"/><path d="M409.8 265.4l2.8 .1 1.8 4-2.8-.2z" color="#8ee6cc"/><path d="M356.7 246.3l2.5-1 2.2 1.9-2.5 1z" color="#ecbb80"/><path d="M373.5 249.2l2.7-.8 2 2.7-2.6 .7z" color="#f1d3a5"/><path d="M397.7 258.3l2.8-.2 1.9 3.5-2.7 .2z" color="#d3f2e2"/><path d="M417.2 269.7l2.8 .3 1.7 4.2-2.8-.3z" color="#78dfc2"/><path d="M385.6 252.8l2.7-.4 2 3.1-2.7 .4z" color="#f3ebce"/><path d="M351.9 245.8l2.5-1.2 2.3 1.7-2.6 1.2z" color="#ebb576"/><path d="M368.8 247.5l2.6-.8 2.1 2.5-2.6 .7z" color="#eec48e"/><path d="M347.1 245.5l2.5-1.2 2.3 1.5-2.5 1.2z" color="#ebb172"/><path d="M405.1 261.6l2.8 0 1.9 3.8-2.8-.1z" color="#b2edd9"/><path d="M380.9 250.5l2.7-.6 2 2.9-2.6 .5z" color="#f3dcb3"/><path d="M342.3 245.6l2.5-1.3 2.3 1.2-2.5 1.4z" color="#ebb070"/><path d="M393 255.2l2.8-.3 1.9 3.4-2.7 .2z" color="#eef2dc"/><path d="M364 246.2l2.6-.9 2.2 2.2-2.6 .9z" color="#ecb87c"/><path d="M337.6 246.1l2.4-1.5 2.3 1-2.4 1.5z" color="#ebb272"/><path d="M412.6 265.5l2.8 .2 1.8 4-2.8-.2z" color="#92e7cd"/><path d="M332.8 246.8l2.4-1.5 2.4 .8-2.5 1.5z" color="#ebb577"/><path d="M308.9 255.5l2.3-1.9 2.4-.5-2.3 1.9z" color="#f3ebce"/><path d="M328 247.9l2.4-1.6 2.4 .5-2.5 1.6z" color="#ecbc81"/><path d="M313.6 253.1l2.4-1.8 2.4-.2-2.3 1.8z" color="#f4dfb9"/><path d="M323.2 249.3l2.4-1.7 2.4 .3-2.4 1.7z" color="#eec58f"/><path d="M318.4 251.1l2.4-1.8 2.4 0-2.4 1.8z" color="#f1d1a1"/><path d="M359.2 245.3l2.6-1 2.2 1.9-2.6 1z" color="#ebaf6f"/><path d="M376.2 248.4l2.6-.6 2.1 2.7-2.7 .6z" color="#efca96"/><path d="M420 270l2.8 .4 1.8 4.2-2.9-.4z" color="#79e0c3"/><path d="M400.5 258.1l2.7-.1 1.9 3.6-2.7 0z" color="#dbf3e3"/><path d="M388.3 252.4l2.7-.4 2 3.2-2.7 .3z" color="#f5e9c8"/><path d="M354.4 244.6l2.6-1.1 2.2 1.8-2.5 1z" color="#eaa967"/><path d="M371.4 246.7l2.6-.7 2.2 2.4-2.7 .8z" color="#ecbb7f"/><path d="M407.9 261.6l2.8 .1 1.9 3.8-2.8-.1z" color="#b6eedb"/><path d="M349.6 244.3l2.6-1.2 2.2 1.5-2.5 1.2z" color="#eaa561"/><path d="M383.6 249.9l2.7-.4 2 2.9-2.7 .4z" color="#f1d4a6"/><path d="M395.8 254.9l2.7-.2 2 3.4-2.8 .2z" color="#f0efd7"/><path d="M344.8 244.3l2.6-1.3 2.2 1.3-2.5 1.2z" color="#eaa35f"/><path d="M415.4 265.7l2.8 .3 1.8 4-2.8-.3z" color="#95e7cf"/><path d="M366.6 245.3l2.7-.8 2.1 2.2-2.6 .8z" color="#ebae6e"/><path d="M340 244.6l2.5-1.3 2.3 1-2.5 1.3z" color="#eaa460"/><path d="M306.4 256.2l2.4-1.9 2.4-.7-2.3 1.9z" color="#f3ebce"/><path d="M422.8 270.4l2.9 .5 1.7 4.2-2.8-.5z" color="#7ae0c3"/><path d="M335.2 245.3l2.5-1.4 2.3 .7-2.4 1.5z" color="#eaa764"/><path d="M311.2 253.6l2.4-1.9 2.4-.4-2.4 1.8z" color="#f3ddb5"/><path d="M403.2 258l2.8 0 1.9 3.6-2.8 0z" color="#e3f4e4"/><path d="M378.8 247.8l2.7-.6 2.1 2.7-2.7 .6z" color="#edc189"/><path d="M330.4 246.3l2.5-1.5 2.3 .5-2.4 1.5z" color="#eaac6b"/><path d="M361.8 244.3l2.6-1 2.2 2-2.6 .9z" color="#eaa561"/><path d="M316 251.3l2.4-1.8 2.4-.2-2.4 1.8z" color="#f0cd9b"/><path d="M325.6 247.6l2.4-1.6 2.4 .3-2.4 1.6z" color="#ebb476"/><path d="M320.8 249.3l2.4-1.7 2.4 0-2.4 1.7z" color="#edbf86"/><path d="M391 252l2.8-.3 2 3.2-2.8 .3z" color="#f4e3be"/><path d="M357 243.5l2.6-1 2.2 1.8-2.6 1z" color="#e99e58"/><path d="M410.7 261.7l2.8 .2 1.9 3.8-2.8-.2z" color="#baeedd"/><path d="M374 246l2.7-.7 2.1 2.5-2.6 .6z" color="#ebb172"/><path d="M352.2 243.1l2.6-1.1 2.2 1.5-2.6 1.1z" color="#e99952"/><path d="M398.5 254.7l2.8-.1 1.9 3.4-2.7 .1z" color="#f2edd2"/><path d="M386.3 249.5l2.7-.4 2 2.9-2.7 .4z" color="#f0cc9a"/><path d="M418.2 266l2.8 .3 1.8 4.1-2.8-.4z" color="#97e8cf"/><path d="M347.4 243l2.5-1.2 2.3 1.3-2.6 1.2z" color="#e9974f"/><path d="M369.3 244.5l2.6-.8 2.1 2.3-2.6 .7z" color="#eaa561"/><path d="M425.7 270.9l2.8 .5 1.8 4.3-2.9-.6z" color="#7be0c3"/><path d="M342.5 243.3l2.6-1.3 2.3 1-2.6 1.3z" color="#e9974f"/><path d="M304 257.2l2.3-2 2.5-.9-2.4 1.9z" color="#f3eccf"/><path d="M406 258l2.8 0 1.9 3.7-2.8-.1z" color="#e9f5e5"/><path d="M381.5 247.2l2.7-.5 2.1 2.8-2.7 .4z" color="#ecb97d"/><path d="M337.7 243.9l2.5-1.4 2.3 .8-2.5 1.3z" color="#e99952"/><path d="M308.8 254.3l2.3-1.9 2.5-.7-2.4 1.9z" color="#f3ddb4"/><path d="M393.8 251.7l2.7-.2 2 3.2-2.7 .2z" color="#f3dcb4"/><path d="M364.4 243.3l2.7-.8 2.2 2-2.7 .8z" color="#e99b54"/><path d="M332.9 244.8l2.5-1.5 2.3 .6-2.5 1.4z" color="#e99e58"/><path d="M313.6 251.7l2.4-1.8 2.4-.4-2.4 1.8z" color="#efcb98"/><path d="M328 246l2.5-1.5 2.4 .3-2.5 1.5z" color="#eaa562"/><path d="M318.4 249.5l2.4-1.7 2.4-.2-2.4 1.7z" color="#ecbb80"/><path d="M323.2 247.6l2.4-1.7 2.4 .1-2.4 1.6z" color="#ebaf6e"/><path d="M413.5 261.9l2.9 .2 1.8 3.9-2.8-.3z" color="#beefde"/><path d="M359.6 242.5l2.6-1 2.2 1.8-2.6 1z" color="#e9934b"/><path d="M376.7 245.3l2.7-.6 2.1 2.5-2.7 .6z" color="#eaa967"/><path d="M401.3 254.6l2.8 0 1.9 3.4-2.8 0z" color="#f3ecce"/><path d="M421 266.3l2.9 .5 1.8 4.1-2.9-.5z" color="#99e8d0"/><path d="M389 249.1l2.8-.3 2 2.9-2.8 .3z" color="#eec590"/><path d="M354.8 242l2.6-1.1 2.2 1.6-2.6 1z" color="#e88e44"/><path d="M428.5 271.4l2.9 .6 1.7 4.3-2.8-.6z" color="#7be0c3"/><path d="M371.9 243.7l2.7-.7 2.1 2.3-2.7 .7z" color="#e99c56"/><path d="M349.9 241.8l2.6-1.1 2.3 1.3-2.6 1.1z" color="#e88d42"/><path d="M408.8 258l2.9 .2 1.8 3.7-2.8-.2z" color="#ecf5e4"/><path d="M301.5 258.4l2.3-2 2.5-1.2-2.3 2z" color="#f2edd2"/><path d="M345.1 242l2.5-1.3 2.3 1.1-2.5 1.2z" color="#e88c41"/><path d="M384.2 246.7l2.8-.4 2 2.8-2.7 .4z" color="#ebb272"/><path d="M396.5 251.5l2.8-.1 2 3.2-2.8 .1z" color="#f2d7ab"/><path d="M306.3 255.2l2.4-1.9 2.4-.9-2.3 1.9z" color="#f4deb7"/><path d="M367.1 242.5l2.6-.8 2.2 2-2.6 .8z" color="#e99248"/><path d="M340.2 242.5l2.6-1.4 2.3 .9-2.6 1.3z" color="#e88d43"/><path d="M416.4 262.1l2.8 .3 1.8 3.9-2.8-.3z" color="#c1efde"/><path d="M311.1 252.4l2.4-1.8 2.5-.7-2.4 1.8z" color="#efca97"/><path d="M335.4 243.3l2.5-1.4 2.3 .6-2.5 1.4z" color="#e99147"/><path d="M316 249.9l2.4-1.7 2.4-.4-2.4 1.7z" color="#ecb97c"/><path d="M330.5 244.5l2.5-1.5 2.4 .3-2.5 1.5z" color="#e9974f"/><path d="M320.8 247.8l2.4-1.7 2.4-.2-2.4 1.7z" color="#eaab69"/><path d="M325.6 245.9l2.5-1.5 2.4 .1-2.5 1.5z" color="#eaa05a"/><path d="M362.2 241.5l2.7-.8 2.2 1.8-2.7 .8z" color="#e88c41"/><path d="M379.4 244.7l2.7-.5 2.1 2.5-2.7 .5z" color="#eaa25d"/><path d="M423.9 266.8l2.9 .5 1.7 4.1-2.8-.5z" color="#9ae8d0"/><path d="M404.1 254.6l2.8 0 1.9 3.4-2.8 0z" color="#f4eacb"/><path d="M391.8 248.8l2.7-.3 2 3-2.7 .2z" color="#edbf86"/><path d="M431.4 272l3 .7 1.6 4.3-2.9-.7z" color="#7be0c3"/><path d="M357.4 240.9l2.6-.9 2.2 1.5-2.6 1z" color="#e7893d"/><path d="M374.6 243l2.7-.6 2.1 2.3-2.7 .6z" color="#e9944b"/><path d="M411.7 258.2l2.8 .2 1.9 3.7-2.9-.2z" color="#edf4e1"/><path d="M352.5 240.7l2.6-1.1 2.3 1.3-2.6 1.1z" color="#e6873b"/><path d="M299 259.8l2.3-2 2.5-1.4-2.3 2z" color="#f0efd6"/><path d="M387 246.3l2.7-.3 2.1 2.8-2.8 .3z" color="#eaab6a"/><path d="M399.3 251.4l2.8-.1 2 3.3-2.8 0z" color="#f1d2a3"/><path d="M347.6 240.7l2.6-1.1 2.3 1.1-2.6 1.1z" color="#e6863a"/><path d="M303.8 256.4l2.4-1.9 2.5-1.2-2.4 1.9z" color="#f4e2bc"/><path d="M419.2 262.4l2.9 .4 1.8 4-2.9-.5z" color="#c3f0df"/><path d="M369.7 241.7l2.7-.7 2.2 2-2.7 .7z" color="#e88b40"/><path d="M342.8 241.1l2.5-1.2 2.3 .8-2.5 1.3z" color="#e6873b"/><path d="M308.7 253.3l2.3-1.8 2.5-.9-2.4 1.8z" color="#f0cb99"/><path d="M426.8 267.3l2.9 .6 1.7 4.1-2.9-.6z" color="#9ae8d1"/><path d="M337.9 241.9l2.5-1.4 2.4 .6-2.6 1.4z" color="#e7893d"/><path d="M313.5 250.6l2.4-1.8 2.5-.6-2.4 1.7z" color="#ecb87c"/><path d="M406.9 254.6l2.9 .1 1.9 3.5-2.9-.2z" color="#f5e9c7"/><path d="M333 243l2.5-1.5 2.4 .4-2.5 1.4z" color="#e88c40"/><path d="M318.4 248.2l2.4-1.7 2.4-.4-2.4 1.7z" color="#eaa966"/><path d="M382.1 244.2l2.8-.5 2.1 2.6-2.8 .4z" color="#e99b54"/><path d="M364.9 240.7l2.6-.9 2.2 1.9-2.6 .8z" color="#e6873b"/><path d="M328.1 244.4l2.5-1.6 2.4 .2-2.5 1.5z" color="#e99148"/><path d="M323.2 246.1l2.5-1.6 2.4-.1-2.5 1.5z" color="#e99c55"/><path d="M434.4 272.7l2.9 .8 1.7 4.3-3-.8z" color="#7ae0c3"/><path d="M394.5 248.5l2.8-.2 2 3.1-2.8 .1z" color="#ecba7e"/><path d="M360 240l2.6-1 2.3 1.7-2.7 .8z" color="#e58437"/><path d="M414.5 258.4l2.9 .3 1.8 3.7-2.8-.3z" color="#edf3df"/><path d="M377.3 242.4l2.7-.5 2.1 2.3-2.7 .5z" color="#e88d43"/><path d="M296.5 261.4l2.3-2 2.5-1.6-2.3 2z" color="#eef1dc"/><path d="M355.1 239.6l2.6-1 2.3 1.4-2.6 .9z" color="#e48234"/><path d="M402.1 251.3l2.9 0 1.9 3.3-2.8 0z" color="#f0cd9c"/><path d="M389.7 246l2.8-.3 2 2.8-2.7 .3z" color="#eaa562"/><path d="M422.1 262.8l2.9 .5 1.8 4-2.9-.5z" color="#c5f0df"/><path d="M301.3 257.8l2.4-1.9 2.5-1.4-2.4 1.9z" color="#f5e7c4"/><path d="M350.2 239.6l2.6-1.1 2.3 1.1-2.6 1.1z" color="#e48133"/><path d="M372.4 241l2.7-.7 2.2 2.1-2.7 .6z" color="#e6873b"/><path d="M429.7 267.9l2.9 .6 1.8 4.2-3-.7z" color="#9ae8d1"/><path d="M306.2 254.5l2.3-1.9 2.5-1.1-2.3 1.8z" color="#f0ce9e"/><path d="M345.3 239.9l2.6-1.2 2.3 .9-2.6 1.1z" color="#e48133"/><path d="M409.8 254.7l2.8 .2 1.9 3.5-2.8-.2z" color="#f5e6c3"/><path d="M437.3 273.5l2.9 .8 1.7 4.4-2.9-.9z" color="#79e0c3"/><path d="M311 251.5l2.4-1.8 2.5-.9-2.4 1.8z" color="#ecb97d"/><path d="M384.9 243.7l2.7-.3 2.1 2.6-2.7 .3z" color="#e9944c"/><path d="M340.4 240.5l2.6-1.3 2.3 .7-2.5 1.2z" color="#e58235"/><path d="M397.3 248.3l2.8-.1 2 3.1-2.8 .1z" color="#ebb576"/><path d="M367.5 239.8l2.7-.7 2.2 1.9-2.7 .7z" color="#e58335"/><path d="M315.9 248.8l2.4-1.7 2.5-.6-2.4 1.7z" color="#eaa865"/><path d="M335.5 241.5l2.5-1.4 2.4 .4-2.5 1.4z" color="#e58538"/><path d="M320.8 246.5l2.5-1.6 2.4-.4-2.5 1.6z" color="#e99952"/><path d="M330.6 242.8l2.5-1.4 2.4 .1-2.5 1.5z" color="#e7893d"/><path d="M325.7 244.5l2.5-1.5 2.4-.2-2.5 1.6z" color="#e88e43"/><path d="M417.4 258.7l2.9 .4 1.8 3.7-2.9-.4z" color="#eef2dd"/><path d="M362.6 239l2.7-.8 2.2 1.6-2.6 .9z" color="#e37f31"/><path d="M380 241.9l2.8-.5 2.1 2.3-2.8 .5z" color="#e78a3e"/><path d="M294 263.3l2.3-2 2.5-1.9-2.3 2z" color="#ecf5e3"/><path d="M405 251.3l2.8 .1 2 3.3-2.9-.1z" color="#efc996"/><path d="M425 263.3l2.9 .6 1.8 4-2.9-.6z" color="#c6f0df"/><path d="M392.5 245.7l2.8-.2 2 2.8-2.8 .2z" color="#eaa05b"/><path d="M357.7 238.6l2.7-1 2.2 1.4-2.6 1z" color="#e37d2e"/><path d="M298.8 259.4l2.4-1.9 2.5-1.6-2.4 1.9z" color="#f4eacb"/><path d="M432.6 268.5l3 .8 1.7 4.2-2.9-.8z" color="#99e8d0"/><path d="M375.1 240.3l2.8-.6 2.1 2.2-2.7 .5z" color="#e58436"/><path d="M352.8 238.5l2.7-1.1 2.2 1.2-2.6 1z" color="#e27c2c"/><path d="M440.2 274.3l3 1 1.7 4.4-3-1z" color="#77dfc2"/><path d="M303.7 255.9l2.3-1.9 2.5-1.4-2.3 1.9z" color="#f1d3a5"/><path d="M412.6 254.9l2.9 .3 1.9 3.5-2.9-.3z" color="#f5e3bf"/><path d="M347.9 238.7l2.6-1.1 2.3 .9-2.6 1.1z" color="#e27c2c"/><path d="M387.6 243.4l2.8-.3 2.1 2.6-2.8 .3z" color="#e88f44"/><path d="M308.5 252.6l2.5-1.8 2.4-1.1-2.4 1.8z" color="#ecbc82"/><path d="M400.1 248.2l2.9 0 2 3.1-2.9 0z" color="#ebb171"/><path d="M370.2 239.1l2.7-.7 2.2 1.9-2.7 .7z" color="#e37f30"/><path d="M343 239.2l2.6-1.2 2.3 .7-2.6 1.2z" color="#e37d2e"/><path d="M313.4 249.7l2.5-1.7 2.4-.9-2.4 1.7z" color="#eaa966"/><path d="M420.3 259.1l2.9 .4 1.8 3.8-2.9-.5z" color="#eef2dc"/><path d="M338 240.1l2.6-1.3 2.4 .4-2.6 1.3z" color="#e37f30"/><path d="M318.3 247.1l2.5-1.6 2.5-.6-2.5 1.6z" color="#e99951"/><path d="M333.1 241.4l2.5-1.4 2.4 .1-2.5 1.4z" color="#e48234"/><path d="M323.3 244.9l2.4-1.6 2.5-.3-2.5 1.5z" color="#e88c42"/><path d="M328.2 243l2.5-1.5 2.4-.1-2.5 1.4z" color="#e6873a"/><path d="M291.4 265.5l2.3-2 2.6-2.2-2.3 2z" color="#dff4e4"/><path d="M365.3 238.2l2.7-.8 2.2 1.7-2.7 .7z" color="#e27b2b"/><path d="M427.9 263.9l3 .6 1.7 4-2.9-.6z" color="#c6f0df"/><path d="M382.8 241.4l2.7-.4 2.1 2.4-2.7 .3z" color="#e6873a"/><path d="M407.8 251.4l2.9 .2 1.9 3.3-2.8-.2z" color="#efc691"/><path d="M395.3 245.5l2.8-.1 2 2.8-2.8 .1z" color="#e99c55"/><path d="M435.6 269.3l2.9 .8 1.7 4.2-2.9-.8z" color="#98e8d0"/><path d="M296.3 261.3l2.3-1.9 2.6-1.9-2.4 1.9z" color="#f2edd2"/><path d="M360.4 237.6l2.7-.8 2.2 1.4-2.7 .8z" color="#e0792a"/><path d="M377.9 239.7l2.7-.5 2.2 2.2-2.8 .5z" color="#e48032"/><path d="M415.5 255.2l2.9 .3 1.9 3.6-2.9-.4z" color="#f4e2bc"/><path d="M301.2 257.5l2.3-1.9 2.5-1.6-2.3 1.9z" color="#f3dab0"/><path d="M355.5 237.4l2.6-.9 2.3 1.1-2.7 1z" color="#df782a"/><path d="M390.4 243.1l2.8-.3 2.1 2.7-2.8 .2z" color="#e88c40"/><path d="M403 248.2l2.9 .1 1.9 3.1-2.8-.1z" color="#eaad6c"/><path d="M306 254l2.4-1.8 2.6-1.4-2.5 1.8z" color="#edc189"/><path d="M350.5 237.6l2.6-1.1 2.4 .9-2.7 1.1z" color="#df782a"/><path d="M423.2 259.5l2.9 .6 1.8 3.8-2.9-.6z" color="#eef1dc"/><path d="M372.9 238.4l2.8-.6 2.2 1.9-2.8 .6z" color="#e27b2b"/><path d="M311 250.8l2.4-1.7 2.5-1.1-2.5 1.7z" color="#eaac6a"/><path d="M345.6 238l2.6-1.1 2.3 .7-2.6 1.1z" color="#df782a"/><path d="M288.9 267.9l2.3-2 2.5-2.4-2.3 2z" color="#ccf1e0"/><path d="M315.9 248l2.4-1.7 2.5-.8-2.5 1.6z" color="#e99a52"/><path d="M340.6 238.8l2.6-1.2 2.4 .4-2.6 1.2z" color="#e17a2b"/><path d="M430.9 264.5l2.9 .8 1.8 4-3-.8z" color="#c4f0df"/><path d="M320.8 245.5l2.5-1.6 2.4-.6-2.4 1.6z" color="#e88c41"/><path d="M335.6 240l2.6-1.3 2.4 .1-2.6 1.3z" color="#e27c2d"/><path d="M410.7 251.6l2.9 .2 1.9 3.4-2.9-.3z" color="#eec48d"/><path d="M325.7 243.3l2.6-1.5 2.4-.3-2.5 1.5z" color="#e68539"/><path d="M330.7 241.5l2.5-1.4 2.4-.1-2.5 1.4z" color="#e48032"/><path d="M385.5 241l2.8-.4 2.1 2.5-2.8 .3z" color="#e58436"/><path d="M368 237.4l2.7-.7 2.2 1.7-2.7 .7z" color="#df782a"/><path d="M438.5 270.1l3 1 1.7 4.2-3-1z" color="#95e7cf"/><path d="M398.1 245.4l2.9-.1 2 2.9-2.9 0z" color="#e99750"/><path d="M293.7 263.5l2.4-2 2.5-2.1-2.3 1.9z" color="#eff1db"/><path d="M363.1 236.8l2.7-.8 2.2 1.4-2.7 .8z" color="#dd772a"/><path d="M418.4 255.5l2.9 .4 1.9 3.6-2.9-.4z" color="#f4e0ba"/><path d="M298.6 259.4l2.4-1.9 2.5-1.9-2.3 1.9z" color="#f4e3be"/><path d="M380.6 239.2l2.8-.4 2.1 2.2-2.7 .4z" color="#e37d2e"/><path d="M358.1 236.5l2.7-.9 2.3 1.2-2.7 .8z" color="#db7629"/><path d="M405.9 248.3l2.8 .1 2 3.2-2.9-.2z" color="#eaaa68"/><path d="M393.2 242.8l2.9-.1 2 2.7-2.8 .1z" color="#e7893d"/><path d="M426.1 260.1l3 .6 1.8 3.8-3-.6z" color="#eef1dc"/><path d="M303.5 255.6l2.4-1.8 2.5-1.6-2.4 1.8z" color="#efc793"/><path d="M353.1 236.5l2.7-1 2.3 1-2.6 .9z" color="#db7529"/><path d="M286.3 270.5l2.3-2 2.6-2.6-2.3 2z" color="#b9eedc"/><path d="M375.7 237.8l2.8-.5 2.1 1.9-2.7 .5z" color="#df792a"/><path d="M308.4 252.2l2.5-1.8 2.5-1.3-2.4 1.7z" color="#ebb070"/><path d="M433.8 265.3l3 .8 1.7 4-2.9-.8z" color="#c2f0df"/><path d="M348.2 236.9l2.6-1.1 2.3 .7-2.6 1.1z" color="#db7529"/><path d="M313.4 249.1l2.4-1.7 2.5-1.1-2.4 1.7z" color="#e99c56"/><path d="M413.6 251.8l2.9 .3 1.9 3.4-2.9-.3z" color="#eec28a"/><path d="M343.2 237.6l2.6-1.2 2.4 .5-2.6 1.1z" color="#dc7629"/><path d="M388.3 240.6l2.9-.2 2 2.4-2.8 .3z" color="#e48133"/><path d="M318.3 246.3l2.5-1.6 2.5-.8-2.5 1.6z" color="#e88c42"/><path d="M291.2 265.9l2.3-2 2.6-2.4-2.4 2z" color="#ebf5e5"/><path d="M370.7 236.7l2.8-.6 2.2 1.7-2.8 .6z" color="#dc7629"/><path d="M401 245.3l2.9 .1 2 2.9-2.9-.1z" color="#e9944b"/><path d="M338.2 238.7l2.6-1.3 2.4 .2-2.6 1.2z" color="#de782a"/><path d="M323.3 243.9l2.5-1.5 2.5-.6-2.6 1.5z" color="#e58538"/><path d="M333.2 240.1l2.6-1.4 2.4 0-2.6 1.3z" color="#e17a2b"/><path d="M328.3 241.8l2.5-1.4 2.4-.3-2.5 1.4z" color="#e37f30"/><path d="M421.3 255.9l3 .6 1.8 3.6-2.9-.6z" color="#f4e0b9"/><path d="M296.1 261.5l2.3-1.9 2.6-2.1-2.4 1.9z" color="#f4eacb"/><path d="M365.8 236l2.7-.8 2.2 1.5-2.7 .7z" color="#da7429"/><path d="M383.4 238.8l2.8-.4 2.1 2.2-2.8 .4z" color="#e17a2b"/><path d="M429.1 260.7l3 .7 1.7 3.9-2.9-.8z" color="#eef2dc"/><path d="M408.7 248.4l2.9 .2 2 3.2-2.9-.2z" color="#eaa764"/><path d="M396.1 242.7l2.8-.1 2.1 2.7-2.9 .1z" color="#e6873b"/><path d="M301 257.5l2.4-1.8 2.5-1.9-2.4 1.8z" color="#f1d0a0"/><path d="M283.7 273.4l2.3-2 2.6-2.9-2.3 2z" color="#a7ebd5"/><path d="M360.8 235.6l2.7-.9 2.3 1.3-2.7 .8z" color="#d87328"/><path d="M436.8 266.1l3 .9 1.7 4.1-3-1z" color="#bfefde"/><path d="M378.5 237.3l2.7-.5 2.2 2-2.8 .4z" color="#dd772a"/><path d="M305.9 253.8l2.4-1.8 2.6-1.6-2.5 1.8z" color="#ebb678"/><path d="M355.8 235.5l2.7-.9 2.3 1-2.7 .9z" color="#d77328"/><path d="M416.5 252.1l2.9 .4 1.9 3.4-2.9-.4z" color="#edc088"/><path d="M288.6 268.5l2.3-2 2.6-2.6-2.3 2z" color="#d6f2e2"/><path d="M310.9 250.4l2.4-1.6 2.5-1.4-2.4 1.7z" color="#eaa05b"/><path d="M350.8 235.8l2.7-1 2.3 .7-2.7 1z" color="#d77328"/><path d="M391.2 240.4l2.8-.2 2.1 2.5-2.9 .1z" color="#e37f30"/><path d="M403.9 245.4l2.8 .1 2 2.9-2.8-.1z" color="#e99147"/><path d="M315.8 247.4l2.5-1.6 2.5-1.1-2.5 1.6z" color="#e88e43"/><path d="M345.8 236.4l2.6-1.1 2.4 .5-2.6 1.1z" color="#d87328"/><path d="M373.5 236.1l2.8-.6 2.2 1.8-2.8 .5z" color="#d97429"/><path d="M424.3 256.5l2.9 .6 1.9 3.6-3-.6z" color="#f4dfb9"/><path d="M320.8 244.7l2.5-1.5 2.5-.8-2.5 1.5z" color="#e68538"/><path d="M340.8 237.4l2.6-1.2 2.4 .2-2.6 1.2z" color="#da7529"/><path d="M325.8 242.4l2.5-1.5 2.5-.5-2.5 1.4z" color="#e37e30"/><path d="M335.8 238.7l2.6-1.3 2.4 0-2.6 1.3z" color="#dd772a"/><path d="M293.5 263.9l2.4-1.9 2.5-2.4-2.3 1.9z" color="#f1eed5"/><path d="M330.8 240.4l2.6-1.4 2.4-.3-2.6 1.4z" color="#e0792a"/><path d="M368.5 235.2l2.7-.6 2.3 1.5-2.8 .6z" color="#d77228"/><path d="M432.1 261.4l3 .8 1.7 3.9-3-.8z" color="#eef2dd"/><path d="M386.2 238.4l2.8-.2 2.2 2.2-2.9 .2z" color="#df792a"/><path d="M281.2 276.6l2.2-2 2.6-3.2-2.3 2z" color="#94e7ce"/><path d="M411.6 248.6l3 .3 1.9 3.2-2.9-.3z" color="#eaa662"/><path d="M298.4 259.6l2.4-1.8 2.6-2.1-2.4 1.8z" color="#f3dab0"/><path d="M398.9 242.6l2.9 0 2.1 2.8-2.9-.1z" color="#e58538"/><path d="M363.5 234.7l2.7-.7 2.3 1.2-2.7 .8z" color="#d57127"/><path d="M303.4 255.7l2.4-1.8 2.5-1.9-2.4 1.8z" color="#edbe84"/><path d="M381.2 236.8l2.9-.4 2.1 2-2.8 .4z" color="#db7529"/><path d="M286 271.4l2.4-2 2.5-2.9-2.3 2z" color="#beefde"/><path d="M419.4 252.5l3 .5 1.9 3.5-3-.6z" color="#edc087"/><path d="M358.5 234.6l2.7-.9 2.3 1-2.7 .9z" color="#d47027"/><path d="M308.3 252l2.5-1.7 2.5-1.5-2.4 1.6z" color="#eaa662"/><path d="M394 240.2l2.9-.1 2 2.5-2.8 .1z" color="#e27c2d"/><path d="M406.7 245.5l3 .2 1.9 2.9-2.9-.2z" color="#e88e44"/><path d="M353.5 234.8l2.7-1 2.3 .8-2.7 .9z" color="#d47027"/><path d="M427.2 257.1l3 .7 1.9 3.6-3-.7z" color="#f4e0b9"/><path d="M313.3 248.8l2.5-1.7 2.5-1.3-2.5 1.6z" color="#e99148"/><path d="M376.3 235.5l2.7-.5 2.2 1.8-2.7 .5z" color="#d77228"/><path d="M290.9 266.5l2.4-1.9 2.6-2.6-2.4 1.9z" color="#edf3e1"/><path d="M348.4 235.3l2.7-1 2.4 .5-2.7 1z" color="#d47027"/><path d="M318.3 245.8l2.5-1.5 2.5-1.1-2.5 1.5z" color="#e6863a"/><path d="M278.6 280l2.2-2 2.6-3.4-2.2 2z" color="#84e3c8"/><path d="M343.4 236.2l2.7-1.1 2.3 .2-2.6 1.1z" color="#d67228"/><path d="M435.1 262.2l3 .9 1.7 3.9-3-.9z" color="#edf3df"/><path d="M323.3 243.2l2.6-1.5 2.4-.8-2.5 1.5z" color="#e37f30"/><path d="M338.4 237.4l2.6-1.2 2.4 0-2.6 1.2z" color="#d87328"/><path d="M328.3 240.9l2.6-1.4 2.5-.5-2.6 1.4z" color="#e0792a"/><path d="M333.4 239l2.6-1.3 2.4-.3-2.6 1.3z" color="#dc7629"/><path d="M414.6 248.9l2.9 .4 1.9 3.2-2.9-.4z" color="#eaa460"/><path d="M389 238.2l2.9-.2 2.1 2.2-2.8 .2z" color="#de772a"/><path d="M371.2 234.6l2.8-.6 2.3 1.5-2.8 .6z" color="#d47027"/><path d="M295.9 262l2.4-1.9 2.5-2.3-2.4 1.8z" color="#f5e6c3"/><path d="M401.8 242.6l2.9 .1 2 2.8-2.8-.1z" color="#e58436"/><path d="M283.4 274.6l2.4-2 2.6-3.2-2.4 2z" color="#aaebd7"/><path d="M366.2 234l2.8-.7 2.2 1.3-2.7 .6z" color="#d26f27"/><path d="M300.8 257.8l2.4-1.8 2.6-2.1-2.4 1.8z" color="#efc893"/><path d="M422.4 253l3 .6 1.8 3.5-2.9-.6z" color="#edbf86"/><path d="M384.1 236.4l2.8-.3 2.1 2.1-2.8 .2z" color="#d97428"/><path d="M361.2 233.7l2.7-.7 2.3 1-2.7 .7z" color="#d16e26"/><path d="M305.8 253.9l2.5-1.7 2.5-1.9-2.5 1.7z" color="#eaad6c"/><path d="M409.7 245.7l2.9 .2 2 3-3-.3z" color="#e88d42"/><path d="M396.9 240.1l2.9 0 2 2.5-2.9 0z" color="#e27b2b"/><path d="M430.2 257.8l3.1 .7 1.8 3.7-3-.8z" color="#f4e1bb"/><path d="M288.4 269.4l2.3-1.9 2.6-2.9-2.4 1.9z" color="#dcf3e3"/><path d="M276 283.7l2.2-2.1 2.6-3.6-2.2 2z" color="#76dfc1"/><path d="M356.2 233.8l2.7-.8 2.3 .7-2.7 .9z" color="#d06d26"/><path d="M310.8 250.3l2.5-1.6 2.5-1.6-2.5 1.7z" color="#e9974f"/><path d="M379 235l2.9-.4 2.2 1.8-2.9 .4z" color="#d57127"/><path d="M351.1 234.3l2.7-1 2.4 .5-2.7 1z" color="#d16e26"/><path d="M315.8 247.1l2.5-1.5 2.5-1.3-2.5 1.5z" color="#e7883c"/><path d="M417.5 249.3l3 .5 1.9 3.2-3-.5z" color="#eaa35f"/><path d="M293.3 264.6l2.4-1.8 2.6-2.7-2.4 1.9z" color="#f2edd0"/><path d="M346.1 235.1l2.6-1.1 2.4 .3-2.7 1z" color="#d26f27"/><path d="M320.8 244.3l2.6-1.5 2.5-1.1-2.6 1.5z" color="#e48031"/><path d="M391.9 238l2.9-.2 2.1 2.3-2.9 .1z" color="#dc7629"/><path d="M341 236.2l2.6-1.1 2.5 0-2.7 1.1z" color="#d47027"/><path d="M280.8 278l2.4-2 2.6-3.4-2.4 2z" color="#95e7cf"/><path d="M325.9 241.7l2.5-1.4 2.5-.8-2.6 1.4z" color="#e0792a"/><path d="M374 234l2.8-.5 2.2 1.5-2.7 .5z" color="#d16e27"/><path d="M404.7 242.7l3 .2 2 2.8-3-.2z" color="#e58235"/><path d="M336 237.7l2.6-1.2 2.4-.3-2.6 1.2z" color="#d77328"/><path d="M330.9 239.5l2.6-1.3 2.5-.5-2.6 1.3z" color="#db7629"/><path d="M298.3 260.1l2.4-1.8 2.5-2.3-2.4 1.8z" color="#f1d4a6"/><path d="M425.4 253.6l3 .7 1.8 3.5-3-.7z" color="#edc087"/><path d="M369 233.3l2.8-.6 2.2 1.3-2.8 .6z" color="#cf6d26"/><path d="M386.9 236.1l2.9-.2 2.1 2.1-2.9 .2z" color="#d77228"/><path d="M285.8 272.6l2.3-2 2.6-3.1-2.3 1.9z" color="#c1efde"/><path d="M303.2 256l2.5-1.7 2.6-2.1-2.5 1.7z" color="#ebb779"/><path d="M433.3 258.5l3 .9 1.8 3.7-3-.9z" color="#f4e3be"/><path d="M412.6 245.9l3 .4 1.9 3-2.9-.4z" color="#e88c42"/><path d="M399.8 240.1l2.9 .1 2 2.5-2.9-.1z" color="#e17a2b"/><path d="M363.9 233l2.8-.7 2.3 1-2.8 .7z" color="#cd6b26"/><path d="M308.3 252.2l2.4-1.7 2.6-1.8-2.5 1.6z" color="#e99e58"/><path d="M381.9 234.6l2.8-.3 2.2 1.8-2.8 .3z" color="#d26f27"/><path d="M358.9 233l2.7-.8 2.3 .8-2.7 .7z" color="#cc6b26"/><path d="M290.7 267.5l2.4-1.9 2.6-2.8-2.4 1.8z" color="#eef2de"/><path d="M278.2 281.6l2.3-2 2.7-3.6-2.4 2z" color="#84e3c7"/><path d="M420.5 249.8l3 .5 1.9 3.3-3-.6z" color="#eaa35f"/><path d="M313.3 248.7l2.5-1.6 2.5-1.5-2.5 1.5z" color="#e78b40"/><path d="M353.8 233.3l2.7-.9 2.4 .6-2.7 .8z" color="#cd6b26"/><path d="M394.8 237.8l2.9 0 2.1 2.3-2.9 0z" color="#da7529"/><path d="M318.3 245.6l2.6-1.5 2.5-1.3-2.6 1.5z" color="#e48234"/><path d="M407.7 242.9l2.9 .2 2 2.8-2.9-.2z" color="#e48133"/><path d="M348.7 234l2.7-1 2.4 .3-2.7 1z" color="#ce6c26"/><path d="M376.8 233.5l2.9-.4 2.2 1.5-2.9 .4z" color="#cf6d26"/><path d="M323.4 242.8l2.5-1.4 2.5-1.1-2.5 1.4z" color="#e17a2b"/><path d="M295.7 262.8l2.4-1.8 2.6-2.7-2.4 1.8z" color="#f4e1bc"/><path d="M343.6 235.1l2.7-1.1 2.4 0-2.6 1.1z" color="#d06e26"/><path d="M428.4 254.3l3 .7 1.9 3.5-3.1-.7z" color="#edc189"/><path d="M328.4 240.3l2.6-1.3 2.5-.8-2.6 1.3z" color="#db7629"/><path d="M338.6 236.5l2.6-1.2 2.4-.2-2.6 1.1z" color="#d37027"/><path d="M333.5 238.2l2.6-1.2 2.5-.5-2.6 1.2z" color="#d77228"/><path d="M283.2 276l2.3-2 2.6-3.4-2.3 2z" color="#abebd7"/><path d="M371.8 232.7l2.8-.5 2.2 1.3-2.8 .5z" color="#cb6b26"/><path d="M300.7 258.3l2.4-1.7 2.6-2.3-2.5 1.7z" color="#eec28a"/><path d="M389.8 235.9l2.8-.1 2.2 2-2.9 .2z" color="#d57128"/><path d="M415.6 246.3l3 .4 1.9 3.1-3-.5z" color="#e88c41"/><path d="M402.7 240.2l2.9 .1 2.1 2.6-3-.2z" color="#e0792a"/><path d="M366.7 232.3l2.8-.7 2.3 1.1-2.8 .6z" color="#c96925"/><path d="M305.7 254.3l2.5-1.7 2.5-2.1-2.4 1.7z" color="#eaa764"/><path d="M288.1 270.6l2.4-1.8 2.6-3.2-2.4 1.9z" color="#dff4e4"/><path d="M423.5 250.3l3 .7 1.9 3.3-3-.7z" color="#eaa35f"/><path d="M384.7 234.3l2.9-.2 2.2 1.8-2.9 .2z" color="#d16e26"/><path d="M361.6 232.2l2.8-.7 2.3 .8-2.8 .7z" color="#c76925"/><path d="M310.7 250.5l2.5-1.6 2.6-1.8-2.5 1.6z" color="#e89046"/><path d="M410.6 243.1l3 .4 2 2.8-3-.4z" color="#e48133"/><path d="M397.7 237.8l2.9 0 2.1 2.4-2.9-.1z" color="#d97429"/><path d="M293.1 265.6l2.4-1.8 2.6-2.8-2.4 1.8z" color="#f3ebce"/><path d="M356.5 232.4l2.8-.8 2.3 .6-2.7 .8z" color="#c76925"/><path d="M315.8 247.1l2.5-1.5 2.6-1.5-2.6 1.5z" color="#e58437"/><path d="M431.4 255l3.1 .9 1.8 3.5-3-.9z" color="#eec28b"/><path d="M280.5 279.6l2.4-1.9 2.6-3.7-2.3 2z" color="#94e7ce"/><path d="M379.7 233.1l2.8-.4 2.2 1.6-2.8 .3z" color="#cc6b26"/><path d="M351.4 233l2.7-.9 2.4 .3-2.7 .9z" color="#c96926"/><path d="M320.9 244.1l2.5-1.5 2.5-1.2-2.5 1.4z" color="#e27b2c"/><path d="M346.3 234l2.7-1 2.4 0-2.7 1z" color="#cc6b26"/><path d="M325.9 241.4l2.6-1.4 2.5-1-2.6 1.3z" color="#dc7629"/><path d="M341.2 235.3l2.7-1.1 2.4-.2-2.7 1.1z" color="#cf6d26"/><path d="M331 239l2.6-1.3 2.5-.7-2.6 1.2z" color="#d77228"/><path d="M298.1 261l2.4-1.8 2.6-2.6-2.4 1.7z" color="#f0cf9f"/><path d="M336.1 237l2.7-1.2 2.4-.5-2.6 1.2z" color="#d36f27"/><path d="M418.6 246.7l3 .6 1.9 3-3-.5z" color="#e88c41"/><path d="M392.6 235.8l2.9-.1 2.2 2.1-2.9 0z" color="#d47027"/><path d="M374.6 232.2l2.8-.5 2.3 1.4-2.9 .4z" color="#c76925"/><path d="M285.5 274l2.4-1.8 2.6-3.4-2.4 1.8z" color="#c1efde"/><path d="M405.6 240.3l3 .2 2 2.6-2.9-.2z" color="#df782a"/><path d="M303.1 256.6l2.5-1.7 2.6-2.3-2.5 1.7z" color="#ebb272"/><path d="M369.5 231.6l2.8-.5 2.3 1.1-2.8 .5z" color="#c46725"/><path d="M426.5 251l3.1 .7 1.8 3.3-3-.7z" color="#eaa460"/><path d="M387.6 234.1l2.9-.2 2.1 1.9-2.8 .1z" color="#cf6c26"/><path d="M308.2 252.6l2.5-1.6 2.5-2.1-2.5 1.6z" color="#e99851"/><path d="M290.5 268.8l2.4-1.8 2.6-3.2-2.4 1.8z" color="#eef2dc"/><path d="M364.4 231.5l2.8-.7 2.3 .8-2.8 .7z" color="#c36625"/><path d="M413.6 243.5l3 .4 2 2.8-3-.4z" color="#e48032"/><path d="M400.6 237.8l2.9 .2 2.1 2.3-2.9-.1z" color="#d87328"/><path d="M313.2 248.9l2.6-1.5 2.5-1.8-2.5 1.5z" color="#e6883b"/><path d="M359.3 231.6l2.7-.7 2.4 .6-2.8 .7z" color="#c26625"/><path d="M382.5 232.7l2.9-.2 2.2 1.6-2.9 .2z" color="#c96926"/><path d="M318.3 245.6l2.6-1.4 2.5-1.6-2.5 1.5z" color="#e37e2f"/><path d="M295.5 263.8l2.4-1.7 2.6-2.9-2.4 1.8z" color="#f4dfb7"/><path d="M354.1 232.1l2.8-.8 2.4 .3-2.8 .8z" color="#c36725"/><path d="M282.9 277.7l2.3-1.9 2.7-3.6-2.4 1.8z" color="#a9ebd6"/><path d="M323.4 242.6l2.6-1.3 2.5-1.3-2.6 1.4z" color="#de772a"/><path d="M421.6 247.3l3 .6 1.9 3.1-3-.7z" color="#e88c41"/><path d="M349 233l2.7-.9 2.4 0-2.7 .9z" color="#c66825"/><path d="M328.5 240l2.6-1.3 2.5-1-2.6 1.3z" color="#d87328"/><path d="M395.5 235.7l3 0 2.1 2.1-2.9 0z" color="#d26f27"/><path d="M343.9 234.2l2.7-1 2.4-.2-2.7 1z" color="#ca6a26"/><path d="M333.6 237.7l2.7-1.2 2.5-.7-2.7 1.2z" color="#d36f27"/><path d="M338.8 235.8l2.6-1.1 2.5-.5-2.7 1.1z" color="#cf6c26"/><path d="M377.4 231.7l2.9-.3 2.2 1.3-2.8 .4z" color="#c46725"/><path d="M408.6 240.5l3 .4 2 2.6-3-.4z" color="#de782a"/><path d="M300.5 259.2l2.5-1.7 2.6-2.6-2.5 1.7z" color="#edbe85"/><path d="M429.6 251.7l3 .8 1.9 3.4-3.1-.9z" color="#eaa662"/><path d="M287.9 272.2l2.3-1.8 2.7-3.4-2.4 1.8z" color="#def4e3"/><path d="M372.3 231.1l2.8-.5 2.3 1.1-2.8 .5z" color="#c06525"/><path d="M305.6 254.9l2.5-1.6 2.6-2.3-2.5 1.6z" color="#eaa25e"/><path d="M390.5 233.9l2.9-.1 2.1 1.9-2.9 .1z" color="#cd6b26"/><path d="M416.6 243.9l3 .5 2 2.9-3-.6z" color="#e48032"/><path d="M403.5 238l3 .2 2.1 2.3-3-.2z" color="#d77328"/><path d="M367.2 230.8l2.8-.6 2.3 .9-2.8 .5z" color="#be6425"/><path d="M310.7 251l2.5-1.5 2.6-2.1-2.6 1.5z" color="#e88c41"/><path d="M292.9 267l2.4-1.8 2.6-3.1-2.4 1.7z" color="#f3ebcd"/><path d="M362 230.9l2.8-.7 2.4 .6-2.8 .7z" color="#be6425"/><path d="M385.4 232.5l2.9-.2 2.2 1.6-2.9 .2z" color="#c66825"/><path d="M315.8 247.4l2.5-1.4 2.6-1.8-2.6 1.4z" color="#e48133"/><path d="M424.6 247.9l3.1 .7 1.9 3.1-3.1-.7z" color="#e88c41"/><path d="M356.9 231.3l2.8-.8 2.3 .4-2.7 .7z" color="#be6425"/><path d="M320.9 244.2l2.6-1.4 2.5-1.5-2.6 1.3z" color="#e0792a"/><path d="M398.5 235.7l2.9 .1 2.1 2.2-2.9-.2z" color="#d16e27"/><path d="M297.9 262.1l2.5-1.7 2.6-2.9-2.5 1.7z" color="#f0cd9c"/><path d="M411.6 240.9l3 .4 2 2.6-3-.4z" color="#de782a"/><path d="M351.7 232.1l2.8-.9 2.4 .1-2.8 .8z" color="#c06525"/><path d="M326 241.3l2.6-1.3 2.5-1.3-2.6 1.3z" color="#d97429"/><path d="M380.3 231.4l2.9-.3 2.2 1.4-2.9 .2z" color="#c16625"/><path d="M285.2 275.8l2.4-1.8 2.6-3.6-2.3 1.8z" color="#beefde"/><path d="M346.6 233.2l2.7-1 2.4-.1-2.7 .9z" color="#c46725"/><path d="M331.1 238.7l2.7-1.2 2.5-1-2.7 1.2z" color="#d37027"/><path d="M341.4 234.7l2.7-1.1 2.5-.4-2.7 1z" color="#c96926"/><path d="M336.3 236.5l2.7-1.1 2.4-.7-2.6 1.1z" color="#cf6c26"/><path d="M303 257.5l2.5-1.6 2.6-2.6-2.5 1.6z" color="#ebaf6e"/><path d="M375.1 230.6l2.9-.4 2.3 1.2-2.9 .3z" color="#bd6425"/><path d="M393.4 233.8l2.9 0 2.2 1.9-3 0z" color="#cb6a26"/><path d="M419.6 244.4l3.1 .6 1.9 2.9-3-.6z" color="#e48032"/><path d="M290.2 270.4l2.5-1.8 2.6-3.4-2.4 1.8z" color="#eef2dd"/><path d="M406.5 238.2l3 .3 2.1 2.4-3-.4z" color="#d77228"/><path d="M308.1 253.3l2.5-1.5 2.6-2.3-2.5 1.5z" color="#e9944c"/><path d="M370 230.2l2.8-.5 2.3 .9-2.8 .5z" color="#ba6325"/><path d="M427.7 248.6l3 .8 1.9 3.1-3-.8z" color="#e88d42"/><path d="M313.2 249.5l2.5-1.5 2.6-2-2.5 1.4z" color="#e58538"/><path d="M388.3 232.3l2.9-.1 2.2 1.6-2.9 .1z" color="#c46725"/><path d="M364.8 230.2l2.9-.6 2.3 .6-2.8 .6z" color="#b96225"/><path d="M295.3 265.2l2.5-1.7 2.6-3.1-2.5 1.7z" color="#f4deb7"/><path d="M318.3 246l2.6-1.4 2.6-1.8-2.6 1.4z" color="#e27b2b"/><path d="M414.6 241.3l3 .4 2 2.7-3-.5z" color="#de772a"/><path d="M401.4 235.8l3 .2 2.1 2.2-3-.2z" color="#d06e26"/><path d="M359.7 230.5l2.8-.7 2.3 .4-2.8 .7z" color="#ba6225"/><path d="M323.5 242.8l2.6-1.3 2.5-1.5-2.6 1.3z" color="#db7529"/><path d="M383.2 231.1l2.9-.2 2.2 1.4-2.9 .2z" color="#be6425"/><path d="M354.5 231.2l2.8-.8 2.4 .1-2.8 .8z" color="#bb6325"/><path d="M328.6 240l2.7-1.3 2.5-1.2-2.7 1.2z" color="#d57127"/><path d="M300.4 260.4l2.5-1.6 2.6-2.9-2.5 1.6z" color="#edbd83"/><path d="M349.3 232.2l2.8-.8 2.4-.2-2.8 .9z" color="#be6425"/><path d="M333.8 237.5l2.7-1.1 2.5-1-2.7 1.1z" color="#cf6d26"/><path d="M344.1 233.6l2.8-.9 2.4-.5-2.7 1z" color="#c36725"/><path d="M339 235.4l2.7-1.1 2.4-.7-2.7 1.1z" color="#c96926"/><path d="M287.6 274l2.4-1.7 2.7-3.7-2.5 1.8z" color="#daf3e3"/><path d="M422.7 245l3 .7 2 2.9-3.1-.7z" color="#e48032"/><path d="M396.3 233.8l3 .1 2.1 1.9-2.9-.1z" color="#c96926"/><path d="M378 230.2l2.9-.3 2.3 1.2-2.9 .3z" color="#ba6225"/><path d="M305.5 255.9l2.5-1.5 2.6-2.6-2.5 1.5z" color="#eaa05b"/><path d="M409.5 238.5l3 .3 2.1 2.5-3-.4z" color="#d67228"/><path d="M372.8 229.7l2.9-.4 2.3 .9-2.9 .4z" color="#b76125"/><path d="M292.7 268.6l2.4-1.7 2.7-3.4-2.5 1.7z" color="#f3ecce"/><path d="M310.6 251.8l2.6-1.5 2.5-2.3-2.5 1.5z" color="#e78a3f"/><path d="M391.2 232.2l3-.1 2.1 1.7-2.9 0z" color="#c16625"/><path d="M367.7 229.6l2.8-.5 2.3 .6-2.8 .5z" color="#b56024"/><path d="M417.6 241.7l3.1 .6 2 2.7-3.1-.6z" color="#de772a"/><path d="M315.7 248l2.6-1.4 2.6-2-2.6 1.4z" color="#e37f30"/><path d="M404.4 236l3 .3 2.1 2.2-3-.3z" color="#d06d26"/><path d="M362.5 229.8l2.8-.6 2.4 .4-2.9 .6z" color="#b56024"/><path d="M297.8 263.5l2.4-1.6 2.7-3.1-2.5 1.6z" color="#f0ce9c"/><path d="M320.9 244.6l2.6-1.4 2.6-1.7-2.6 1.3z" color="#dd772a"/><path d="M386.1 230.9l2.9-.2 2.2 1.5-2.9 .1z" color="#bb6325"/><path d="M357.3 230.4l2.8-.7 2.4 .1-2.8 .7z" color="#b76125"/><path d="M326.1 241.5l2.6-1.3 2.6-1.5-2.7 1.3z" color="#d77228"/><path d="M425.7 245.7l3.1 .7 1.9 3-3-.8z" color="#e48133"/><path d="M352.1 231.4l2.7-.8 2.5-.2-2.8 .8z" color="#b96225"/><path d="M331.3 238.7l2.6-1.1 2.6-1.2-2.7 1.1z" color="#d16e26"/><path d="M346.9 232.7l2.7-.9 2.5-.4-2.8 .8z" color="#bd6425"/><path d="M336.5 236.4l2.7-1.1 2.5-1-2.7 1.1z" color="#ca6a26"/><path d="M302.9 258.8l2.5-1.6 2.6-2.8-2.5 1.5z" color="#eaae6d"/><path d="M399.3 233.9l3 .1 2.1 2-3-.2z" color="#c76925"/><path d="M341.7 234.3l2.7-.9 2.5-.7-2.8 .9z" color="#c36725"/><path d="M380.9 229.9l2.9-.2 2.3 1.2-2.9 .2z" color="#b76125"/><path d="M412.5 238.8l3.1 .5 2 2.4-3-.4z" color="#d67228"/><path d="M290 272.3l2.5-1.7 2.6-3.7-2.4 1.7z" color="#edf3e0"/><path d="M308 254.4l2.6-1.5 2.6-2.6-2.6 1.5z" color="#e99249"/><path d="M375.7 229.3l2.9-.3 2.3 .9-2.9 .3z" color="#b45f24"/><path d="M394.2 232.1l2.9 .1 2.2 1.7-3-.1z" color="#c06525"/><path d="M420.7 242.3l3 .7 2 2.7-3-.7z" color="#de782a"/><path d="M313.2 250.3l2.5-1.4 2.6-2.3-2.6 1.4z" color="#e58436"/><path d="M295.1 266.9l2.5-1.6 2.6-3.4-2.4 1.6z" color="#f4e0ba"/><path d="M407.4 236.3l3.1 .3 2 2.2-3-.3z" color="#cf6d26"/><path d="M370.5 229.1l2.9-.4 2.3 .6-2.9 .4z" color="#b25e24"/><path d="M318.3 246.6l2.6-1.3 2.6-2.1-2.6 1.4z" color="#e1792a"/><path d="M365.3 229.2l2.8-.5 2.4 .4-2.8 .5z" color="#b15e24"/><path d="M389 230.7l3 0 2.2 1.4-3 .1z" color="#b96225"/><path d="M323.5 243.2l2.7-1.2 2.5-1.8-2.6 1.3z" color="#d97429"/><path d="M300.2 261.9l2.6-1.6 2.6-3.1-2.5 1.6z" color="#edbe84"/><path d="M360.1 229.7l2.8-.6 2.4 .1-2.8 .6z" color="#b25f24"/><path d="M328.7 240.2l2.7-1.1 2.5-1.5-2.6 1.1z" color="#d26f27"/><path d="M402.3 234l3 .3 2.1 2-3-.3z" color="#c66825"/><path d="M354.8 230.6l2.9-.8 2.4-.1-2.8 .7z" color="#b46024"/><path d="M415.6 239.3l3.1 .5 2 2.5-3.1-.6z" color="#d67228"/><path d="M333.9 237.6l2.7-1.1 2.6-1.2-2.7 1.1z" color="#cc6b26"/><path d="M383.8 229.7l2.9-.2 2.3 1.2-2.9 .2z" color="#b46024"/><path d="M349.6 231.8l2.8-.8 2.4-.4-2.7 .8z" color="#b86125"/><path d="M339.2 235.3l2.7-1 2.5-.9-2.7 .9z" color="#c46725"/><path d="M344.4 233.4l2.7-.9 2.5-.7-2.7 .9z" color="#bd6425"/><path d="M305.4 257.2l2.5-1.5 2.7-2.8-2.6 1.5z" color="#eaa05a"/><path d="M378.6 229l2.9-.3 2.3 1-2.9 .2z" color="#b15e24"/><path d="M292.5 270.6l2.4-1.6 2.7-3.7-2.5 1.6z" color="#f2edd1"/><path d="M397.1 232.2l3 .1 2.2 1.7-3-.1z" color="#be6425"/><path d="M423.7 243l3.2 .7 1.9 2.7-3.1-.7z" color="#de782a"/><path d="M310.6 252.9l2.5-1.4 2.6-2.6-2.5 1.4z" color="#e7893e"/><path d="M410.5 236.6l3 .5 2.1 2.2-3.1-.5z" color="#cf6d26"/><path d="M373.4 228.7l2.9-.4 2.3 .7-2.9 .3z" color="#af5d24"/><path d="M315.7 248.9l2.7-1.3 2.5-2.3-2.6 1.3z" color="#e37e2f"/><path d="M297.6 265.3l2.5-1.6 2.7-3.4-2.6 1.6z" color="#f1d0a0"/><path d="M392 230.7l2.9 0 2.2 1.5-2.9-.1z" color="#b76125"/><path d="M368.1 228.7l2.9-.5 2.4 .5-2.9 .4z" color="#ae5d24"/><path d="M320.9 245.3l2.7-1.3 2.6-2-2.7 1.2z" color="#dc7629"/><path d="M362.9 229.1l2.9-.6 2.3 .2-2.8 .5z" color="#ae5d24"/><path d="M418.7 239.8l3 .7 2 2.5-3-.7z" color="#d67228"/><path d="M405.3 234.3l3.1 .3 2.1 2-3.1-.3z" color="#c56825"/><path d="M326.2 242l2.6-1.2 2.6-1.7-2.7 1.1z" color="#d57127"/><path d="M302.8 260.3l2.5-1.4 2.6-3.2-2.5 1.5z" color="#ebaf6e"/><path d="M357.7 229.8l2.8-.6 2.4-.1-2.8 .6z" color="#b05e24"/><path d="M386.7 229.5l3 0 2.3 1.2-3 0z" color="#b25f24"/><path d="M331.4 239.1l2.7-1.1 2.5-1.5-2.7 1.1z" color="#cf6c26"/><path d="M352.4 231l2.8-.8 2.5-.4-2.9 .8z" color="#b35f24"/><path d="M336.6 236.5l2.8-1 2.5-1.2-2.7 1z" color="#c66825"/><path d="M347.1 232.5l2.8-.9 2.5-.6-2.8 .8z" color="#b86125"/><path d="M341.9 234.3l2.8-.9 2.4-.9-2.7 .9z" color="#be6425"/><path d="M307.9 255.7l2.6-1.4 2.6-2.8-2.5 1.4z" color="#e99249"/><path d="M381.5 228.7l3-.1 2.2 .9-2.9 .2z" color="#ae5d24"/><path d="M400.1 232.3l3.1 .3 2.1 1.7-3-.3z" color="#bd6425"/><path d="M413.5 237.1l3.1 .5 2.1 2.2-3.1-.5z" color="#cf6d26"/><path d="M294.9 269l2.5-1.6 2.7-3.7-2.5 1.6z" color="#f5e5c1"/><path d="M313.1 251.5l2.6-1.4 2.7-2.5-2.7 1.3z" color="#e58336"/><path d="M376.3 228.3l2.9-.3 2.3 .7-2.9 .3z" color="#ac5c24"/><path d="M394.9 230.7l3.1 .1 2.1 1.5-3-.1z" color="#b66025"/><path d="M318.4 247.6l2.6-1.3 2.6-2.3-2.7 1.3z" color="#e0792a"/><path d="M371 228.2l2.9-.3 2.4 .4-2.9 .4z" color="#ac5c24"/><path d="M421.7 240.5l3.2 .7 2 2.5-3.2-.7z" color="#d77228"/><path d="M300.1 263.7l2.5-1.5 2.7-3.3-2.5 1.4z" color="#edc088"/><path d="M408.4 234.6l3 .4 2.1 2.1-3-.5z" color="#c56825"/><path d="M323.6 244l2.7-1.2 2.5-2-2.6 1.2z" color="#d87328"/><path d="M365.8 228.5l2.8-.4 2.4 .1-2.9 .5z" color="#ac5c24"/><path d="M389.7 229.5l3 0 2.2 1.2-2.9 0z" color="#b05e24"/><path d="M328.8 240.8l2.7-1.1 2.6-1.7-2.7 1.1z" color="#d16e26"/><path d="M360.5 229.2l2.9-.6 2.4-.1-2.9 .6z" color="#ad5c24"/><path d="M305.3 258.9l2.6-1.5 2.6-3.1-2.6 1.4z" color="#eaa15c"/><path d="M334.1 238l2.7-1 2.6-1.5-2.8 1z" color="#c86925"/><path d="M355.2 230.2l2.9-.6 2.4-.4-2.8 .6z" color="#af5d24"/><path d="M339.4 235.5l2.7-.9 2.6-1.2-2.8 .9z" color="#c06525"/><path d="M349.9 231.6l2.8-.7 2.5-.7-2.8 .8z" color="#b35f24"/><path d="M344.7 233.4l2.7-.9 2.5-.9-2.8 .9z" color="#b96225"/><path d="M403.2 232.6l3 .3 2.2 1.7-3.1-.3z" color="#bc6325"/><path d="M384.5 228.6l2.9-.1 2.3 1-3 0z" color="#ad5c24"/><path d="M416.6 237.6l3.1 .6 2 2.3-3-.7z" color="#cf6d26"/><path d="M310.5 254.3l2.6-1.3 2.6-2.9-2.6 1.4z" color="#e78a3e"/><path d="M379.2 228l3-.2 2.3 .8-3 .1z" color="#ab5b23"/><path d="M297.4 267.4l2.6-1.5 2.6-3.7-2.5 1.5z" color="#f2d4a7"/><path d="M398 230.8l3 .2 2.2 1.6-3.1-.3z" color="#b46024"/><path d="M315.7 250.1l2.7-1.2 2.6-2.6-2.6 1.3z" color="#e37d2e"/><path d="M373.9 227.9l3-.3 2.3 .4-2.9 .3z" color="#a95b23"/><path d="M411.4 235l3.1 .6 2.1 2-3.1-.5z" color="#c56725"/><path d="M321 246.3l2.7-1.2 2.6-2.3-2.7 1.2z" color="#db7629"/><path d="M368.6 228.1l3-.4 2.3 .2-2.9 .3z" color="#a95b23"/><path d="M302.6 262.2l2.6-1.4 2.7-3.4-2.6 1.5z" color="#ebb272"/><path d="M392.7 229.5l3 .1 2.3 1.2-3.1-.1z" color="#af5d24"/><path d="M326.3 242.8l2.7-1.1 2.5-2-2.7 1.1z" color="#d47027"/><path d="M363.4 228.6l2.8-.5 2.4 0-2.8 .4z" color="#aa5b23"/><path d="M331.5 239.7l2.8-1 2.5-1.7-2.7 1z" color="#cc6b26"/><path d="M358.1 229.6l2.8-.6 2.5-.4-2.9 .6z" color="#ac5c24"/><path d="M406.2 232.9l3.1 .4 2.1 1.7-3-.4z" color="#bb6325"/><path d="M419.7 238.2l3.1 .7 2.1 2.3-3.2-.7z" color="#cf6d26"/><path d="M336.8 237l2.8-1 2.5-1.4-2.7 .9z" color="#c36725"/><path d="M352.7 230.9l2.9-.7 2.5-.6-2.9 .6z" color="#af5d24"/><path d="M342.1 234.6l2.8-.9 2.5-1.2-2.7 .9z" color="#ba6325"/><path d="M307.9 257.4l2.6-1.3 2.6-3.1-2.6 1.3z" color="#e9944c"/><path d="M387.4 228.5l3 0 2.3 1-3 0z" color="#ab5c23"/><path d="M347.4 232.5l2.9-.7 2.4-.9-2.8 .7z" color="#b45f24"/><path d="M313.1 253l2.6-1.3 2.7-2.8-2.7 1.2z" color="#e58436"/><path d="M382.2 227.8l2.9-.1 2.3 .8-2.9 .1z" color="#a95b23"/><path d="M401 231l3 .3 2.2 1.6-3-.3z" color="#b45f24"/><path d="M414.5 235.6l3.1 .6 2.1 2-3.1-.6z" color="#c56825"/><path d="M318.4 248.9l2.6-1.2 2.7-2.6-2.7 1.2z" color="#e0792a"/><path d="M376.9 227.6l2.9-.2 2.4 .4-3 .2z" color="#a85a23"/><path d="M300 265.9l2.5-1.4 2.7-3.7-2.6 1.4z" color="#eec590"/><path d="M395.7 229.6l3.1 .2 2.2 1.2-3-.2z" color="#ae5d24"/><path d="M323.7 245.1l2.7-1.1 2.6-2.3-2.7 1.1z" color="#d77328"/><path d="M371.6 227.7l2.9-.3 2.4 .2-3 .3z" color="#a75a23"/><path d="M329 241.7l2.7-1 2.6-2-2.8 1z" color="#d06d26"/><path d="M366.2 228.1l3-.4 2.4 0-3 .4z" color="#a85a23"/><path d="M305.2 260.8l2.6-1.3 2.7-3.4-2.6 1.3z" color="#eaa561"/><path d="M409.3 233.3l3.1 .5 2.1 1.8-3.1-.6z" color="#bb6325"/><path d="M334.3 238.7l2.7-1 2.6-1.7-2.8 1z" color="#c66825"/><path d="M360.9 229l2.9-.5 2.4-.4-2.8 .5z" color="#a95b23"/><path d="M390.4 228.5l3.1 0 2.2 1.1-3-.1z" color="#aa5b23"/><path d="M339.6 236l2.8-.9 2.5-1.4-2.8 .9z" color="#bd6425"/><path d="M355.6 230.2l2.9-.6 2.4-.6-2.8 .6z" color="#ac5c24"/><path d="M344.9 233.7l2.8-.8 2.6-1.1-2.9 .7z" color="#b66024"/><path d="M350.3 231.8l2.8-.7 2.5-.9-2.9 .7z" color="#af5d24"/><path d="M310.5 256.1l2.6-1.3 2.6-3.1-2.6 1.3z" color="#e78b40"/><path d="M385.1 227.7l3.1 0 2.2 .8-3 0z" color="#a75a23"/><path d="M404 231.3l3.1 .4 2.2 1.6-3.1-.4z" color="#b35f24"/><path d="M417.6 236.2l3.2 .6 2 2.1-3.1-.7z" color="#c56825"/><path d="M315.7 251.7l2.7-1.2 2.6-2.8-2.6 1.2z" color="#e37e2f"/><path d="M379.8 227.4l3-.2 2.3 .5-2.9 .1z" color="#a65922"/><path d="M321 247.7l2.7-1.2 2.7-2.5-2.7 1.1z" color="#dc7629"/><path d="M398.8 229.8l3 .2 2.2 1.3-3-.3z" color="#ad5c24"/><path d="M302.5 264.5l2.6-1.4 2.7-3.6-2.6 1.3z" color="#ebb77a"/><path d="M374.5 227.4l3-.3 2.3 .3-2.9 .2z" color="#a55922"/><path d="M326.4 244l2.7-1.1 2.6-2.2-2.7 1z" color="#d47027"/><path d="M412.4 233.8l3.1 .5 2.1 1.9-3.1-.6z" color="#bb6325"/><path d="M369.2 227.7l2.9-.3 2.4 0-2.9 .3z" color="#a55922"/><path d="M331.7 240.7l2.7-1 2.6-2-2.7 1z" color="#cb6b26"/><path d="M393.5 228.5l3 .2 2.3 1.1-3.1-.2z" color="#a95b23"/><path d="M307.8 259.5l2.6-1.3 2.7-3.4-2.6 1.3z" color="#e99851"/><path d="M363.8 228.5l2.9-.5 2.5-.3-3 .4z" color="#a75a23"/><path d="M337 237.7l2.8-.9 2.6-1.7-2.8 .9z" color="#c16625"/><path d="M358.5 229.6l2.8-.5 2.5-.6-2.9 .5z" color="#a95b23"/><path d="M342.4 235.1l2.8-.8 2.5-1.4-2.8 .8z" color="#b86225"/><path d="M353.1 231.1l2.9-.7 2.5-.8-2.9 .6z" color="#ac5c24"/><path d="M347.7 232.9l2.9-.7 2.5-1.1-2.8 .7z" color="#b15e24"/><path d="M407.1 231.7l3.1 .5 2.2 1.6-3.1-.5z" color="#b35f24"/><path d="M388.2 227.7l3 .1 2.3 .7-3.1 0z" color="#a65923"/><path d="M313.1 254.8l2.7-1.2 2.6-3.1-2.7 1.2z" color="#e58538"/><path d="M382.8 227.2l3 0 2.4 .5-3.1 0z" color="#a45922"/><path d="M318.4 250.5l2.7-1.2 2.6-2.8-2.7 1.2z" color="#e0792a"/><path d="M401.8 230l3.1 .4 2.2 1.3-3.1-.4z" color="#ad5c24"/><path d="M377.5 227.1l3-.1 2.3 .2-3 .2z" color="#a35822"/><path d="M415.5 234.3l3.2 .7 2.1 1.8-3.2-.6z" color="#bc6325"/><path d="M323.7 246.5l2.8-1 2.6-2.6-2.7 1.1z" color="#d87328"/><path d="M305.1 263.1l2.6-1.3 2.7-3.6-2.6 1.3z" color="#eaaa68"/><path d="M372.1 227.4l3-.2 2.4-.1-3 .3z" color="#a35822"/><path d="M329.1 242.9l2.7-.9 2.6-2.3-2.7 1z" color="#d06d26"/><path d="M396.5 228.7l3.1 .3 2.2 1-3-.2z" color="#a85a23"/><path d="M366.7 228l3-.3 2.4-.3-2.9 .3z" color="#a45922"/><path d="M334.4 239.7l2.8-.9 2.6-2-2.8 .9z" color="#c66825"/><path d="M310.4 258.2l2.7-1.2 2.7-3.4-2.7 1.2z" color="#e88d42"/><path d="M361.3 229.1l3-.5 2.4-.6-2.9 .5z" color="#a65a23"/><path d="M339.8 236.8l2.8-.8 2.6-1.7-2.8 .8z" color="#bc6325"/><path d="M410.2 232.2l3.2 .5 2.1 1.6-3.1-.5z" color="#b35f24"/><path d="M356 230.4l2.9-.5 2.4-.8-2.8 .5z" color="#a95b23"/><path d="M345.2 234.3l2.8-.7 2.6-1.4-2.9 .7z" color="#b35f24"/><path d="M350.6 232.2l2.8-.6 2.6-1.2-2.9 .7z" color="#ad5c24"/><path d="M391.2 227.8l3.1 .1 2.2 .8-3-.2z" color="#a55922"/><path d="M315.8 253.6l2.6-1.2 2.7-3.1-2.7 1.2z" color="#e48031"/><path d="M385.8 227.2l3.1 0 2.3 .6-3-.1z" color="#a35822"/><path d="M404.9 230.4l3.2 .4 2.1 1.4-3.1-.5z" color="#ac5c24"/><path d="M321.1 249.3l2.7-1 2.7-2.8-2.8 1z" color="#dc7629"/><path d="M380.5 227l3-.1 2.3 .3-3 0z" color="#a25822"/><path d="M326.5 245.5l2.7-1 2.6-2.5-2.7 .9z" color="#d47027"/><path d="M399.6 229l3.1 .3 2.2 1.1-3.1-.4z" color="#a85a23"/><path d="M375.1 227.2l3-.2 2.4 0-3 .1z" color="#a25822"/><path d="M307.7 261.8l2.7-1.2 2.7-3.6-2.7 1.2z" color="#e99e58"/><path d="M331.8 242l2.8-.9 2.6-2.3-2.8 .9z" color="#cb6b26"/><path d="M369.7 227.7l3-.3 2.4-.2-3 .2z" color="#a25822"/><path d="M413.4 232.7l3.1 .7 2.2 1.6-3.2-.7z" color="#b35f24"/><path d="M337.2 238.8l2.8-.8 2.6-2-2.8 .8z" color="#c06525"/><path d="M364.3 228.6l2.9-.3 2.5-.6-3 .3z" color="#a45922"/><path d="M394.3 227.9l3 .3 2.3 .8-3.1-.3z" color="#a45922"/><path d="M342.6 236l2.9-.7 2.5-1.7-2.8 .7z" color="#b76125"/><path d="M358.9 229.9l2.9-.4 2.5-.9-3 .5z" color="#a75a23"/><path d="M348 233.6l2.9-.6 2.5-1.4-2.8 .6z" color="#af5d24"/><path d="M313.1 257l2.7-1.2 2.6-3.4-2.6 1.2z" color="#e6873b"/><path d="M353.4 231.6l3-.6 2.5-1.1-2.9 .5z" color="#aa5b23"/><path d="M388.9 227.2l3 .2 2.4 .5-3.1-.1z" color="#a25822"/><path d="M408.1 230.8l3.1 .6 2.2 1.3-3.2-.5z" color="#ac5c24"/><path d="M318.4 252.4l2.8-1 2.6-3.1-2.7 1z" color="#e27a2b"/><path d="M383.5 226.9l3 .1 2.4 .2-3.1 0z" color="#a15721"/><path d="M323.8 248.3l2.8-1 2.6-2.8-2.7 1z" color="#d97428"/><path d="M402.7 229.3l3.1 .5 2.3 1-3.2-.4z" color="#a85a23"/><path d="M378.1 227l3-.1 2.4 0-3 .1z" color="#a05721"/><path d="M329.2 244.5l2.8-.9 2.6-2.5-2.8 .9z" color="#d06e26"/><path d="M372.7 227.4l3-.1 2.4-.3-3 .2z" color="#a15721"/><path d="M310.4 260.6l2.7-1.1 2.7-3.7-2.7 1.2z" color="#e99349"/><path d="M334.6 241.1l2.8-.9 2.6-2.2-2.8 .8z" color="#c66825"/><path d="M397.3 228.2l3.2 .3 2.2 .8-3.1-.3z" color="#a45822"/><path d="M367.2 228.3l3-.3 2.5-.6-3 .3z" color="#a25822"/><path d="M340 238l2.9-.7 2.6-2-2.9 .7z" color="#bb6325"/><path d="M361.8 229.5l2.9-.4 2.5-.8-2.9 .3z" color="#a45922"/><path d="M345.5 235.3l2.9-.6 2.5-1.7-2.9 .6z" color="#b35f24"/><path d="M356.4 231l2.9-.4 2.5-1.1-2.9 .4z" color="#a85a23"/><path d="M350.9 233l2.9-.6 2.6-1.4-3 .6z" color="#ac5c24"/><path d="M315.8 255.8l2.7-1 2.7-3.4-2.8 1z" color="#e48234"/><path d="M411.2 231.4l3.2 .6 2.1 1.4-3.1-.7z" color="#ac5c24"/><path d="M391.9 227.4l3.1 .2 2.3 .6-3-.3z" color="#a15722"/><path d="M321.2 251.4l2.7-1 2.7-3.1-2.8 1z" color="#de782a"/><path d="M386.5 227l3.1 .1 2.3 .3-3-.2z" color="#a05721"/><path d="M405.8 229.8l3.2 .5 2.2 1.1-3.1-.6z" color="#a85a23"/><path d="M326.6 247.3l2.8-.9 2.6-2.8-2.8 .9z" color="#d57128"/><path d="M381.1 226.9l3.1 0 2.3 .1-3-.1z" color="#9f5621"/><path d="M332 243.6l2.8-.8 2.6-2.6-2.8 .9z" color="#cc6b26"/><path d="M375.7 227.3l3-.1 2.4-.3-3 .1z" color="#9f5621"/><path d="M400.5 228.5l3.1 .4 2.2 .9-3.1-.5z" color="#a45822"/><path d="M337.4 240.2l2.9-.7 2.6-2.2-2.9 .7z" color="#c16625"/><path d="M370.2 228l3-.2 2.5-.5-3 .1z" color="#a05721"/><path d="M313.1 259.5l2.7-1.1 2.7-3.6-2.7 1z" color="#e78b3f"/><path d="M342.9 237.3l2.9-.7 2.6-1.9-2.9 .6z" color="#b76125"/><path d="M364.7 229.1l3-.3 2.5-.8-3 .3z" color="#a25822"/><path d="M348.4 234.7l2.9-.6 2.5-1.7-2.9 .6z" color="#af5d24"/><path d="M359.3 230.6l2.9-.4 2.5-1.1-2.9 .4z" color="#a55922"/><path d="M353.8 232.4l2.9-.4 2.6-1.4-2.9 .4z" color="#a95b23"/><path d="M395 227.6l3.2 .3 2.3 .6-3.2-.3z" color="#a15722"/><path d="M318.5 254.8l2.7-1 2.7-3.4-2.7 1z" color="#e37d2e"/><path d="M389.6 227.1l3.1 .2 2.3 .3-3.1-.2z" color="#9f5621"/><path d="M409 230.3l3.2 .6 2.2 1.1-3.2-.6z" color="#a85a23"/><path d="M323.9 250.4l2.8-.9 2.7-3.1-2.8 .9z" color="#da7529"/><path d="M384.2 226.9l3 .1 2.4 .1-3.1-.1z" color="#9e5621"/><path d="M329.4 246.4l2.8-.8 2.6-2.8-2.8 .8z" color="#d26f27"/><path d="M378.7 227.2l3 0 2.5-.3-3.1 0z" color="#9e5621"/><path d="M403.6 228.9l3.2 .5 2.2 .9-3.2-.5z" color="#a45822"/><path d="M334.8 242.8l2.9-.8 2.6-2.5-2.9 .7z" color="#c76925"/><path d="M373.2 227.8l3-.1 2.5-.5-3 .1z" color="#9f5621"/><path d="M340.3 239.5l2.9-.7 2.6-2.2-2.9 .7z" color="#bc6325"/><path d="M367.7 228.8l3-.2 2.5-.8-3 .2z" color="#a05721"/><path d="M315.8 258.4l2.7-1 2.7-3.6-2.7 1z" color="#e68639"/><path d="M345.8 236.6l2.9-.6 2.6-1.9-2.9 .6z" color="#b35f24"/><path d="M362.2 230.2l3-.3 2.5-1.1-3 .3z" color="#a35822"/><path d="M398.2 227.9l3.1 .4 2.3 .6-3.1-.4z" color="#a05721"/><path d="M351.3 234.1l2.9-.5 2.5-1.6-2.9 .4z" color="#ac5c24"/><path d="M356.7 232l3-.4 2.5-1.4-2.9 .4z" color="#a75a23"/><path d="M321.2 253.8l2.8-1 2.7-3.3-2.8 .9z" color="#e0792a"/><path d="M392.7 227.3l3.1 .3 2.4 .3-3.2-.3z" color="#9e5621"/><path d="M326.7 249.5l2.8-.9 2.7-3-2.8 .8z" color="#d77228"/><path d="M387.2 227l3.1 .2 2.4 .1-3.1-.2z" color="#9d5521"/><path d="M406.8 229.4l3.2 .6 2.2 .9-3.2-.6z" color="#a45822"/><path d="M332.2 245.6l2.8-.8 2.7-2.8-2.9 .8z" color="#cf6c26"/><path d="M381.7 227.2l3.1 .1 2.4-.3-3-.1z" color="#9d5521"/><path d="M337.7 242l2.8-.7 2.7-2.5-2.9 .7z" color="#c36725"/><path d="M376.2 227.7l3.1 0 2.4-.5-3 0z" color="#9d5621"/><path d="M343.2 238.8l2.9-.6 2.6-2.2-2.9 .6z" color="#b86125"/><path d="M370.7 228.6l3.1-.1 2.4-.8-3 .1z" color="#9f5621"/><path d="M401.3 228.3l3.2 .5 2.3 .6-3.2-.5z" color="#a05721"/><path d="M348.7 236l2.9-.5 2.6-1.9-2.9 .5z" color="#af5d24"/><path d="M365.2 229.9l3-.2 2.5-1.1-3 .2z" color="#a15722"/><path d="M354.2 233.6l2.9-.4 2.6-1.6-3 .4z" color="#a95b23"/><path d="M318.5 257.4l2.8-.9 2.7-3.7-2.8 1z" color="#e48133"/><path d="M359.7 231.6l3-.3 2.5-1.4-3 .3z" color="#a55922"/><path d="M395.8 227.6l3.2 .4 2.3 .3-3.1-.4z" color="#9e5621"/><path d="M324 252.8l2.8-.8 2.7-3.4-2.8 .9z" color="#dd772a"/><path d="M390.3 227.2l3.2 .3 2.3 .1-3.1-.3z" color="#9c5521"/><path d="M329.5 248.6l2.8-.7 2.7-3.1-2.8 .8z" color="#d47027"/><path d="M384.8 227.3l3.2 .2 2.3-.3-3.1-.2z" color="#9c5521"/><path d="M335 244.8l2.9-.7 2.6-2.8-2.8 .7z" color="#ca6a26"/><path d="M379.3 227.7l3.1 .1 2.4-.5-3.1-.1z" color="#9c5521"/><path d="M340.5 241.3l2.9-.5 2.7-2.6-2.9 .6z" color="#be6425"/><path d="M404.5 228.8l3.2 .6 2.3 .6-3.2-.6z" color="#a05721"/><path d="M373.8 228.5l3 0 2.5-.8-3.1 0z" color="#9d5621"/><path d="M346.1 238.2l2.9-.4 2.6-2.3-2.9 .5z" color="#b46024"/><path d="M368.2 229.7l3.1-.1 2.5-1.1-3.1 .1z" color="#a05721"/><path d="M351.6 235.5l3-.4 2.5-1.9-2.9 .4z" color="#ac5c24"/><path d="M362.7 231.3l3-.3 2.5-1.3-3 .2z" color="#a35822"/><path d="M357.1 233.2l3-.3 2.6-1.6-3 .3z" color="#a75a23"/><path d="M321.3 256.5l2.8-.8 2.7-3.7-2.8 .8z" color="#e27c2d"/><path d="M399 228l3.2 .5 2.3 .3-3.2-.5z" color="#9e5621"/><path d="M326.8 252l2.8-.7 2.7-3.4-2.8 .7z" color="#da7429"/><path d="M393.5 227.5l3.1 .4 2.4 .1-3.2-.4z" color="#9c5521"/><path d="M332.3 247.9l2.9-.7 2.7-3.1-2.9 .7z" color="#d16e26"/><path d="M388 227.5l3.1 .2 2.4-.2-3.2-.3z" color="#9b5520"/><path d="M337.9 244.1l2.9-.6 2.6-2.7-2.9 .5z" color="#c66825"/><path d="M382.4 227.8l3.1 .1 2.5-.4-3.2-.2z" color="#9b5520"/><path d="M343.4 240.8l3-.6 2.6-2.4-2.9 .4z" color="#ba6325"/><path d="M376.8 228.5l3.1 0 2.5-.7-3.1-.1z" color="#9c5521"/><path d="M349 237.8l3-.5 2.6-2.2-3 .4z" color="#b15e24"/><path d="M371.3 229.6l3.1-.1 2.4-1-3 0z" color="#9e5621"/><path d="M354.6 235.1l3-.3 2.5-1.9-3 .3z" color="#aa5b23"/><path d="M365.7 231l3.1-.1 2.5-1.3-3.1 .1z" color="#a15722"/><path d="M360.1 232.9l3.1-.2 2.5-1.7-3 .3z" color="#a55922"/><path d="M402.2 228.5l3.2 .5 2.3 .4-3.2-.6z" color="#9e5621"/><path d="M324.1 255.7l2.8-.8 2.7-3.6-2.8 .7z" color="#e0792a"/><path d="M396.6 227.9l3.2 .5 2.4 .1-3.2-.5z" color="#9c5521"/><path d="M329.6 251.3l2.9-.7 2.7-3.4-2.9 .7z" color="#d77228"/><path d="M391.1 227.7l3.2 .4 2.3-.2-3.1-.4z" color="#9a5420"/><path d="M335.2 247.2l2.9-.6 2.7-3.1-2.9 .6z" color="#ce6c26"/><path d="M385.5 227.9l3.2 .3 2.4-.5-3.1-.2z" color="#9a5420"/><path d="M340.8 243.5l2.9-.5 2.7-2.8-3 .6z" color="#c26625"/><path d="M379.9 228.5l3.2 .2 2.4-.8-3.1-.1z" color="#9b5520"/><path d="M346.4 240.2l2.9-.4 2.7-2.5-3 .5z" color="#b76125"/><path d="M374.4 229.5l3.1 .1 2.4-1.1-3.1 0z" color="#9d5521"/><path d="M352 237.3l3-.3 2.6-2.2-3 .3z" color="#ae5d24"/><path d="M368.8 230.9l3 0 2.6-1.4-3.1 .1z" color="#a05721"/><path d="M357.6 234.8l3-.2 2.6-1.9-3.1 .2z" color="#a85a23"/><path d="M363.2 232.7l3-.2 2.6-1.6-3.1 .1z" color="#a35822"/><path d="M326.9 254.9l2.9-.7 2.7-3.6-2.9 .7z" color="#dd772a"/><path d="M399.8 228.4l3.3 .5 2.3 .1-3.2-.5z" color="#9c5521"/><path d="M332.5 250.6l2.9-.6 2.7-3.4-2.9 .6z" color="#d47027"/><path d="M394.3 228.1l3.2 .4 2.3-.1-3.2-.5z" color="#9a5420"/><path d="M338.1 246.6l2.9-.5 2.7-3.1-2.9 .5z" color="#ca6a26"/><path d="M388.7 228.2l3.2 .3 2.4-.4-3.2-.4z" color="#9a5420"/><path d="M343.7 243l3-.4 2.6-2.8-2.9 .4z" color="#be6425"/><path d="M383.1 228.7l3.1 .2 2.5-.7-3.2-.3z" color="#9a5420"/><path d="M349.3 239.8l3-.3 2.7-2.5-3 .3z" color="#b35f24"/><path d="M377.5 229.6l3.1 .1 2.5-1-3.2-.2z" color="#9c5521"/><path d="M355 237l3-.2 2.6-2.2-3 .2z" color="#ac5c24"/><path d="M371.8 230.9l3.1 0 2.6-1.3-3.1-.1z" color="#9e5621"/><path d="M360.6 234.6l3-.2 2.6-1.9-3 .2z" color="#a65923"/><path d="M366.2 232.5l3.1 0 2.5-1.6-3 0z" color="#a25822"/><path d="M329.8 254.2l2.9-.5 2.7-3.7-2.9 .6z" color="#da7529"/><path d="M397.5 228.5l3.2 .6 2.4-.2-3.3-.5z" color="#9a5420"/><path d="M335.4 250l2.9-.5 2.7-3.4-2.9 .5z" color="#d16e27"/><path d="M391.9 228.5l3.2 .5 2.4-.5-3.2-.4z" color="#9a5420"/><path d="M341 246.1l3-.4 2.7-3.1-3 .4z" color="#c66825"/><path d="M386.2 228.9l3.2 .4 2.5-.8-3.2-.3z" color="#9a5420"/><path d="M346.7 242.6l3-.3 2.6-2.8-3 .3z" color="#ba6325"/><path d="M380.6 229.7l3.1 .3 2.5-1.1-3.1-.2z" color="#9b5520"/><path d="M352.3 239.5l3-.3 2.7-2.4-3 .2z" color="#b05e24"/><path d="M374.9 230.9l3.2 .1 2.5-1.3-3.1-.1z" color="#9d5621"/><path d="M358 236.8l3-.2 2.6-2.2-3 .2z" color="#aa5b23"/><path d="M369.3 232.5l3.1 0 2.5-1.6-3.1 0z" color="#a05721"/><path d="M363.6 234.4l3.1 0 2.6-1.9-3.1 0z" color="#a55922"/><path d="M332.7 253.7l2.9-.6 2.7-3.6-2.9 .5z" color="#d77328"/><path d="M395.1 229l3.2 .5 2.4-.4-3.2-.6z" color="#9a5420"/><path d="M338.3 249.5l3-.4 2.7-3.4-3 .4z" color="#cf6c26"/><path d="M389.4 229.3l3.2 .4 2.5-.7-3.2-.5z" color="#9a5420"/><path d="M344 245.7l3-.4 2.7-3-3 .3z" color="#c26625"/><path d="M383.7 230l3.2 .3 2.5-1-3.2-.4z" color="#9b5420"/><path d="M349.7 242.3l3-.3 2.6-2.8-3 .3z" color="#b76125"/><path d="M378.1 231l3.1 .3 2.5-1.3-3.1-.3z" color="#9c5521"/><path d="M355.3 239.2l3.1-.1 2.6-2.5-3 .2z" color="#ae5d24"/><path d="M372.4 232.5l3.1 .1 2.6-1.6-3.2-.1z" color="#9f5721"/><path d="M361 236.6l3.1-.1 2.6-2.1-3.1 0z" color="#a85a23"/><path d="M366.7 234.4l3.1 0 2.6-1.9-3.1 0z" color="#a35822"/><path d="M335.6 253.1l3-.4 2.7-3.6-3 .4z" color="#d57128"/><path d="M341.3 249.1l3-.4 2.7-3.4-3 .4z" color="#cb6b26"/><path d="M392.6 229.7l3.3 .5 2.4-.7-3.2-.5z" color="#995420"/><path d="M347 245.3l3-.2 2.7-3.1-3 .3z" color="#bf6525"/><path d="M386.9 230.3l3.3 .4 2.4-1-3.2-.4z" color="#9a5420"/><path d="M352.7 242l3-.1 2.7-2.8-3.1 .1z" color="#b46024"/><path d="M381.2 231.3l3.2 .3 2.5-1.3-3.2-.3z" color="#9c5521"/><path d="M358.4 239.1l3.1-.1 2.6-2.5-3.1 .1z" color="#ac5c24"/><path d="M375.5 232.6l3.2 .3 2.5-1.6-3.1-.3z" color="#9e5621"/><path d="M364.1 236.5l3.1 .1 2.6-2.2-3.1 0z" color="#a75a23"/><path d="M369.8 234.4l3.2 .1 2.5-1.9-3.1-.1z" color="#a25822"/><path d="M338.6 252.7l3-.3 2.7-3.7-3 .4z" color="#d36f27"/><path d="M344.3 248.7l3-.2 2.7-3.4-3 .2z" color="#c86925"/><path d="M390.2 230.7l3.2 .5 2.5-1-3.3-.5z" color="#9a5420"/><path d="M350 245.1l3.1-.2 2.6-3-3 .1z" color="#bc6425"/><path d="M384.4 231.6l3.3 .4 2.5-1.3-3.3-.4z" color="#9b5521"/><path d="M355.7 241.9l3.1-.1 2.7-2.8-3.1 .1z" color="#b25f24"/><path d="M378.7 232.9l3.2 .3 2.5-1.6-3.2-.3z" color="#9e5621"/><path d="M361.5 239l3.1 0 2.6-2.4-3.1-.1z" color="#ab5b23"/><path d="M373 234.5l3.1 .2 2.6-1.8-3.2-.3z" color="#a15722"/><path d="M367.2 236.6l3.2 .1 2.6-2.2-3.2-.1z" color="#a65922"/><path d="M341.6 252.4l3-.3 2.7-3.6-3 .2z" color="#d16e26"/><path d="M347.3 248.5l3.1-.2 2.7-3.4-3.1 .2z" color="#c56825"/><path d="M353.1 244.9l3.1 0 2.6-3.1-3.1 .1z" color="#ba6225"/><path d="M387.7 232l3.2 .5 2.5-1.3-3.2-.5z" color="#9b5521"/><path d="M358.8 241.8l3.2 0 2.6-2.8-3.1 0z" color="#b05e24"/><path d="M381.9 233.2l3.2 .4 2.6-1.6-3.3-.4z" color="#9d5621"/><path d="M364.6 239l3.1 .2 2.7-2.5-3.2-.1z" color="#aa5b23"/><path d="M376.1 234.7l3.2 .3 2.6-1.8-3.2-.3z" color="#a05721"/><path d="M370.4 236.7l3.1 .2 2.6-2.2-3.1-.2z" color="#a55922"/><path d="M344.6 252.1l3.1-.1 2.7-3.7-3.1 .2z" color="#cf6c26"/><path d="M350.4 248.3l3.1-.1 2.7-3.3-3.1 0z" color="#c36725"/><path d="M356.2 244.9l3.1 0 2.7-3.1-3.2 0z" color="#b86125"/><path d="M385.1 233.6l3.3 .5 2.5-1.6-3.2-.5z" color="#9d5621"/><path d="M362 241.8l3.1 .1 2.6-2.7-3.1-.2z" color="#ae5d24"/><path d="M379.3 235l3.3 .5 2.5-1.9-3.2-.4z" color="#a05721"/><path d="M367.7 239.2l3.2 .2 2.6-2.5-3.1-.2z" color="#a95a23"/><path d="M373.5 236.9l3.2 .3 2.6-2.2-3.2-.3z" color="#a45822"/><path d="M347.7 252l3-.1 2.8-3.7-3.1 .1z" color="#cd6b26"/><path d="M353.5 248.2l3.1 .1 2.7-3.4-3.1 0z" color="#c06525"/><path d="M359.3 244.9l3.1 .1 2.7-3.1-3.1-.1z" color="#b66025"/><path d="M365.1 241.9l3.2 .2 2.6-2.7-3.2-.2z" color="#ad5c24"/><path d="M382.6 235.5l3.2 .5 2.6-1.9-3.3-.5z" color="#a05721"/><path d="M370.9 239.4l3.2 .3 2.6-2.5-3.2-.3z" color="#a85a23"/><path d="M376.7 237.2l3.3 .4 2.6-2.1-3.3-.5z" color="#a35822"/><path d="M350.7 251.9l3.2 0 2.7-3.6-3.1-.1z" color="#ca6a26"/><path d="M356.6 248.3l3.1 .1 2.7-3.4-3.1-.1z" color="#be6525"/><path d="M362.4 245l3.2 .2 2.7-3.1-3.2-.2z" color="#b46024"/><path d="M368.3 242.1l3.2 .3 2.6-2.7-3.2-.3z" color="#ac5c24"/><path d="M380 237.6l3.2 .5 2.6-2.1-3.2-.5z" color="#a35822"/><path d="M374.1 239.7l3.3 .4 2.6-2.5-3.3-.4z" color="#a75a23"/><path d="M353.9 251.9l3.1 .1 2.7-3.6-3.1-.1z" color="#c86925"/><path d="M359.7 248.4l3.2 .2 2.7-3.4-3.2-.2z" color="#bd6425"/><path d="M365.6 245.2l3.2 .3 2.7-3.1-3.2-.3z" color="#b35f24"/><path d="M371.5 242.4l3.2 .4 2.7-2.7-3.3-.4z" color="#ac5c24"/><path d="M377.4 240.1l3.2 .5 2.6-2.5-3.2-.5z" color="#a75a23"/><path d="M357 252l3.2 .3 2.7-3.7-3.2-.2z" color="#c76825"/><path d="M362.9 248.6l3.2 .3 2.7-3.4-3.2-.3z" color="#bc6325"/><path d="M368.8 245.5l3.3 .4 2.6-3.1-3.2-.4z" color="#b25f24"/><path d="M374.7 242.8l3.3 .5 2.6-2.7-3.2-.5z" color="#ab5c23"/><path d="M360.2 252.3l3.2 .3 2.7-3.7-3.2-.3z" color="#c56825"/><path d="M366.1 248.9l3.3 .4 2.7-3.4-3.3-.4z" color="#bb6325"/><path d="M372.1 245.9l3.2 .5 2.7-3.1-3.3-.5z" color="#b15e24"/><path d="M363.4 252.6l3.2 .4 2.8-3.7-3.3-.4z" color="#c46725"/><path d="M369.4 249.3l3.2 .5 2.7-3.4-3.2-.5z" color="#ba6225"/><path d="M366.6 253l3.3 .5 2.7-3.7-3.2-.5z" color="#c36725"/></g><path d="M280.7 278.1l0 0M280.7 278.1l0 0M280.6 279.6l.1-.8M280.7 278.8l0-.7M280.6 279.6l0 0M280.6 279.6l0 0M289.6 271.3l0-.2M289.6 271.1l-.1-.2M289.8 272.4l-.1-.6M289.7 271.8l-.1-.5M300.1 263.7l0 0M300.1 263.7l0 0M300.7 264.9l-.3-.5M300.4 264.4l-.3-.7M300.9 265.4l-.1-.3M300.8 265.1l-.1-.2M314.4 257.7l-.3-.4M314.1 257.3l-.6-.5M315.3 258.6l-.6-.6M314.7 258l-.3-.3M334.4 251.3l-.5-.2M333.9 251.1l-1.1-.6M336.3 252.3l-1.1-.6M335.2 251.7l-.8-.4M337.5 252.9l-.9-.5M336.6 252.4l-.3-.1M280.7 278.1l.2-.7M280.9 277.4l.2-.7M289.6 269.9l0-.2M289.6 269.7l0-.3M289.5 270.9l.1-.5M289.6 270.4l0-.5M299.8 262.5l-.1-.1M299.7 262.4l0-.2M300.1 263.7l-.2-.7M299.9 263l-.1-.5M312.5 255.5l-.1-.1M312.4 255.4l-.1-.2M313.3 256.6l-.4-.6M312.9 256l-.4-.5M313.5 256.8l-.1-.1M313.4 256.7l-.1-.1M331 249.5l-.4-.3M330.6 249.2l-.9-.6M332.6 250.5l-1-.7M331.6 249.8l-.6-.3M332.8 250.5l-.1 0M332.7 250.5l-.1 0M368.8 245.6l-.1-.1M368.7 245.5l-.3 0M371.8 246.2l-.3 0M371.5 246.2l-2.7-.6M374.9 246.9l-.5-.1M374.4 246.8l-2.6-.6M289.8 268.5l.1-.2M289.9 268.3l.1-.2M289.6 269.4l.1-.4M289.7 269l.1-.5M299.7 261.2l0-.2M299.7 261l0-.1M299.7 262.2l0-.5M299.7 261.7l0-.5M311.9 254.3l-.1-.2M311.8 254.1l-.2-.4M312.3 255.2l-.2-.5M312.1 254.7l-.2-.4M328.4 247.5l-.3-.2M328.1 247.3l-.4-.4M329.6 248.5l-.7-.6M328.9 247.9l-.5-.4M329.7 248.6l-.1 0M329.6 248.6l0-.1M358.2 242.5l-.5-.1M357.7 242.4l-1.7-.5M360.6 243.3l-1-.3M359.6 243l-1.4-.5M363.2 244.1l-1.5-.5M361.7 243.6l-1.1-.3M365.9 244.8l-2-.6M363.9 244.2l-.7-.1M368.4 245.5l-2.2-.6M366.2 244.9l-.3-.1M290.4 267.1l.1-.1M290.5 266.9l.1 0M290 268.1l.2-.5M290.2 267.6l.2-.5M299.9 259.9l0-.2M299.9 259.7l.1-.1M299.7 260.9l.1-.5M299.8 260.4l.1-.5M311.5 253.2l0-.4M311.5 252.8l0-.4M311.6 253.7l0-.3M311.6 253.4l-.1-.2M327.3 246.5l-.3-.5M327 246l-.5-.5M327.7 246.9l-.2-.2M327.5 246.7l-.2-.2M351.7 240.1l-.3-.1M351.4 240l-.6-.3M353.7 240.9l-.9-.4M352.8 240.5l-1.1-.4M355.8 241.8l-1.5-.6M354.3 241.2l-.6-.3M356 241.9l-.1-.1M355.9 241.8l-.1 0M290.6 266.9l.2-.3M290.9 266.4l.1-.1M300.6 258.4l0 0M300 259.6l.2-.5M300.2 259.1l.3-.6M311.5 251.9l.1-.4M311.6 251.5l.1-.3M311.5 252.4l0-.2M311.5 252.2l0-.3M326 244.3l0-.1M326 244.2l0-.1M326.5 245.4l-.3-.6M326.2 244.8l-.2-.5M326.5 245.5l0-.1M326.5 245.4l0 0M348.4 238.3l-.2-.1M348.2 238.2l-.4-.3M349.9 239.2l-.7-.5M349.2 238.7l-.8-.4M350.8 239.7l-.6-.3M350.2 239.4l-.3-.2M291.4 265.7l0-.1M291.4 265.6l.1 0M300.6 258.4l.2-.3M301.1 257.7l.1-.2M311.9 250.6l.2-.3M312.1 250.3l.1-.2M311.7 251.2l.1-.3M311.8 250.9l.1-.3M325.9 243.1l0-.1M325.9 243l0 0M326 244.1l0-.5M326 243.6l-.1-.5M347.1 237.4l-.4-.4M346.7 237l-.5-.5M347.8 237.9l-.4-.3M347.4 237.6l-.3-.2M312.2 250.1l.2-.3M312.5 249.7l.1-.2M325.9 243l.3-.6M326.2 242.4l.2-.5M346.1 236.4l-.3-.6M345.8 235.8l-.3-.5M346.2 236.5l-.1-.1M346.1 236.4l0 0M326.5 241.8l.5-.6M327 241.1l.2-.2M326.4 241.9l0-.1M326.4 241.8l.1 0M345.5 235.3l.1-.6M345.6 234.7l0-.5M345.5 235.3l0 0M345.5 235.3l0 0M327.2 240.9l.2-.1M327.5 240.7l.1-.1M327.6 240.6l.2-.1M345.7 234l.4-.4M346.1 233.6l.2-.3M345.6 234.2l0-.1M345.6 234.1l.1-.1M346.3 233.3l.5-.3M346.8 233l.8-.5M348.2 232.2l.3-.1M347.7 232.4l.2 0M326.1 255.6l.9 0M396.1 231.5l-2.1-.3M399.5 231.9l-1.2-.2M398.3 231.7l-2.2-.2M402.8 232.3l-.6-.1M402.2 232.2l-2.7-.3M406.1 232.8l-.2-.1M405.9 232.7l-3.1-.4M409.3 233.2l-.1 0M409.2 233.2l-3.1-.4M412.1 233.7l-2.8-.5M415.5 234.3l-.1 0M415.4 234.3l-2.9-.5M418.5 234.8l-.3 0M418.2 234.8l-2.7-.5M327 255.6l2-.1M331 255.4l-2 .1M412.1 233.7l.3 .1M412.5 233.8l-.1 0M412.4 233.8l0 0M331 255.4l3.1-.2M335.4 255.2l-1.3 0M335.4 255.2l3.4-.1M340 255.1l-1.2 0M388.1 237.2l-2.4-.2M385.7 237l-.5-.1M391.5 237.6l-.9-.1M390.6 237.5l-2.5-.3M394.1 237.9l-2.6-.3M335.1 261.7l-1.1 0M340 255.1l3.2 0M345.1 255.2l-1.9-.1M394.1 237.9l.8 0M398.2 238.3l-3.1-.3M395.1 238l-.2-.1M401.4 238.7l-2.3-.3M399.1 238.4l-.9-.1M404.6 239.2l-1.7-.3M402.9 238.9l-1.5-.2M407.8 239.6l-1.3-.2M406.5 239.4l-1.9-.2M411 240.1l-1.1-.2M409.9 239.9l-2.1-.3M414.1 240.6l-.9-.1M413.2 240.5l-2.2-.4M417.1 241.1l-.7-.1M416.4 241l-2.3-.4M420.2 241.7l-.8-.2M419.4 241.5l-2.3-.4M423.2 242.2l-.9-.1M422.3 242.1l-2.1-.4M426.2 242.8l-1-.2M425.2 242.6l-2-.4M335.1 261.7l3.3-.1M339.9 261.6l-1.5 0M345.1 255.2l2.2 0M350.6 255.3l-3.3-.1M381.5 243.5l-1.6-.2M379.9 243.3l-1.4-.1M384.5 243.8l-3-.3M339.9 261.6l2.6 .1M345.2 261.7l-2.7 0M350.6 255.3l.7 0M355.1 255.4l-2.5-.1M352.6 255.3l-1.3 0M356.7 255.5l-1.6-.1M384.5 243.8l.5 0M388.3 244.2l-3.2-.3M385.1 243.9l-.1-.1M391.6 244.5l-1.9-.2M389.7 244.3l-1.4-.1M394.9 244.9l-.9-.1M394 244.8l-2.4-.3M398.1 245.3l0 0M398.1 245.3l-3.2-.4M398.2 245.4l-.1-.1M345.2 261.7l1.2 .1M350.2 261.9l-1.4-.1M348.8 261.8l-2.4 0M351 261.9l-.8 0M356.7 255.5l2.1 .1M362.5 255.8l-1.1-.1M361.4 255.7l-2.6-.1M363.5 255.9l-1-.1M373 249.7l1.1 .1M377.5 250.1l-2.1-.2M375.4 249.9l-1.3-.1M380.9 250.4l-.1 0M380.8 250.4l-3.3-.3M381.1 250.4l-.2 0M398.2 245.4l3.1 .4M404.4 246.2l-2.5-.4M401.9 245.8l-.6 0M407.6 246.7l-2.1-.4M405.5 246.3l-1.1-.1M410.7 247.1l-1.7-.2M409 246.9l-1.4-.2M413.7 247.6l-1.4-.2M412.3 247.4l-1.6-.3M416.8 248.2l-1.2-.3M415.6 247.9l-1.9-.3M419.8 248.7l-1.1-.2M418.7 248.5l-1.9-.3M422.8 249.2l-1-.2M421.8 249l-2-.3M425.8 249.8l-1.1-.2M424.7 249.6l-1.9-.4M428.8 250.4l-1.2-.2M427.6 250.2l-1.8-.4M431.7 251l-1.3-.3M430.4 250.7l-1.6-.3M345 268.2l-3.3 0M341.7 268.2l-.5 0M346.5 268.3l-1.5-.1M351 261.9l2.9 .1M357.3 262.2l-3.4-.2M363.5 255.9l2.5 .1M369.5 256.3l-1.4-.1M368.1 256.2l-2.1-.2M371.3 256.5l-1.8-.2M381.1 250.4l3.1 .3M387.4 251.1l-1.9-.2M385.5 250.9l-1.3-.2M390.7 251.5l-.8-.1M389.9 251.4l-2.5-.3M393.1 251.8l-2.4-.3M346.5 268.3l2.2 .1M352.3 268.6l-.3 0M352 268.6l-3.3-.2M352.5 268.6l-.2 0M357.3 262.2l.2 .1M361 262.5l-3.2-.2M357.8 262.3l-.3 0M364.4 262.7l-3.4-.2M371.3 256.5l1.6 .1M376.2 256.9l-2.4-.2M373.8 256.7l-.9-.1M379.5 257.2l-.6 0M378.9 257.2l-2.7-.3M380.6 257.4l-1.1-.2M393.1 251.8l.8 .1M397 252.3l-2.9-.4M394.1 251.9l-.2 0M400.2 252.7l-2.2-.3M398 252.4l-1-.1M403.3 253.2l-1.6-.3M401.7 252.9l-1.5-.2M406.4 253.6l-1.1-.1M405.3 253.5l-2-.3M409.4 254.1l-.6-.1M408.8 254l-2.4-.4M412.5 254.6l-.3 0M412.2 254.6l-2.8-.5M415.5 255.1l0 0M415.5 255.1l-3-.5M415.7 255.2l-.2-.1M436.2 259.2l-.1 0M436.1 259.2l-1.8-.4M348.7 274.9l-1.9-.1M352.5 268.6l3.3 .2M359.1 269l-3.3-.2M364.4 262.7l.1 0M367.9 263l-3.3-.3M364.6 262.7l-.1 0M371.2 263.3l-.9-.1M370.3 263.2l-2.4-.2M372.5 263.4l-1.3-.1M380.6 257.4l2.1 .2M385.9 257.9l-2.3-.2M383.6 257.7l-.9-.1M389.1 258.3l-1.1-.1M388 258.2l-2.1-.3M392.3 258.7l-.1 0M392.2 258.7l-3.1-.4M392.5 258.8l-.2-.1M415.7 255.2l2.8 .5M421.5 256.2l-2.9-.5M418.6 255.7l-.1 0M424.4 256.8l-2.7-.5M421.7 256.3l-.2-.1M427.4 257.4l-2.7-.6M424.7 256.8l-.3 0M430.4 258l-2.8-.6M427.6 257.4l-.2 0M433.3 258.6l-2.8-.6M430.5 258l-.1 0M434.3 258.8l-1-.2M433.3 258.6l0 0M348.7 274.9l1.6 .1M353.7 275.2l-1.4-.1M352.3 275.1l-2-.1M355 275.3l-1.3-.1M359.1 269l.1 0M362.6 269.3l-3.3-.3M359.3 269l-.1 0M365.9 269.6l-.5-.1M365.4 269.5l-2.8-.2M366.6 269.6l-.7 0M372.5 263.4l2 .2M377.7 263.9l-2.2-.2M375.5 263.7l-1-.1M380.9 264.3l-.6-.1M380.3 264.2l-2.6-.3M382.2 264.4l-1.3-.1M392.5 258.8l2.9 .3M398.5 259.6l-2.4-.4M396.1 259.2l-.7-.1M401.5 260l-1.6-.2M399.9 259.8l-1.4-.2M404.6 260.5l-1.1-.2M403.5 260.3l-2-.3M407.6 261l-.6-.1M407 260.9l-2.4-.4M410.6 261.5l-.2 0M410.4 261.5l-2.8-.5M412.3 261.8l-1.7-.3M351.7 281.5l-.2 0M355 275.3l2.1 .1M360.4 275.7l-1.4-.1M359 275.6l-1.9-.2M362 275.8l-1.6-.1M366.6 269.6l2.6 .2M372.4 270.2l-1.6-.2M370.8 270l-1.6-.2M375.2 270.5l-2.8-.3M382.2 264.4l1.8 .3M387.2 265l-2.5-.3M384.7 264.7l-.7 0M390.3 265.4l-1.4-.1M388.9 265.3l-1.7-.3M393.3 265.9l-.4-.1M392.9 265.8l-2.6-.4M394.7 266.1l-1.4-.2M412.3 261.8l1.3 .2M416.6 262.5l-2.9-.5M413.7 262l-.1 0M419.5 263.1l-2.6-.5M416.9 262.6l-.3-.1M422.5 263.6l-2.5-.4M420 263.2l-.5-.1M425.4 264.2l-2.3-.5M423.1 263.7l-.6-.1M428.3 264.8l-2.2-.5M426.1 264.3l-.7-.1M431.3 265.4l-2.3-.5M429 264.9l-.7-.1M434.2 266l-2.3-.5M431.9 265.5l-.6-.1M437.1 266.7l-2.4-.5M434.7 266.2l-.5-.2M440 267.4l-2.5-.6M437.5 266.8l-.4-.1M351.7 281.5l3.1 .2M358.1 282l-.4 0M357.7 282l-2.9-.3M358.4 282.1l-.3-.1M362 275.8l1.7 .2M366.9 276.3l-2-.2M364.9 276.1l-1.2-.1M370 276.6l-3.1-.3M375.2 270.5l.4 0M378.7 270.9l-2.9-.4M375.8 270.5l-.2 0M381.8 271.2l-1.5-.2M380.3 271l-1.6-.1M384.9 271.6l-.2 0M384.7 271.6l-2.9-.4M385.6 271.7l-.7-.1M394.7 266.1l1.7 .2M399.4 266.8l-2.6-.4M396.8 266.4l-.4-.1M402.4 267.2l-2-.3M400.4 266.9l-1-.1M405.4 267.7l-1.4-.2M404 267.5l-1.6-.3M408.4 268.2l-1-.2M407.4 268l-2-.3M411.3 268.7l-.5-.1M410.8 268.6l-2.4-.4M414.3 269.3l-.2-.1M414.1 269.2l-2.8-.5M416.4 269.6l-2.1-.3M358.4 282.1l2.9 .2M364.5 282.6l-1.1-.1M363.4 282.5l-2.1-.2M366 282.8l-1.5-.2M370 276.6l.1 0M373.2 276.9l-3.1-.3M370.1 276.6l0 0M376.3 277.3l-1.4-.2M374.9 277.1l-1.7-.2M379.3 277.7l-3-.4M385.6 271.7l2.4 .3M391 272.5l-2.3-.4M388.7 272.1l-.7-.1M394 272.9l-1.4-.2M392.6 272.7l-1.6-.2M397 273.4l-.6-.1M396.4 273.3l-2.4-.4M399.4 273.7l-2.4-.3M416.4 269.6l.8 .2M420.1 270.4l-2.8-.6M417.3 269.8l-.1 0M423 270.9l-2.6-.5M420.4 270.4l-.3 0M426 271.5l-2.6-.5M423.4 271l-.4-.1M428.8 272.1l-2.4-.5M426.4 271.6l-.4-.1M431.7 272.7l-2.3-.5M429.4 272.2l-.6-.1M434.6 273.4l-2.4-.6M432.2 272.8l-.5-.1M437.5 274l-2.4-.5M435.1 273.5l-.5-.1M440.4 274.7l-2.5-.6M437.9 274.1l-.4-.1M443.3 275.4l-2.7-.6M440.6 274.8l-.2-.1" class="cl"/><path d="M509.5 315.2L587.6 287.8L675.5 310.9M508.4 291.1L587.6 266.9L676.6 287.5M507.2 266.4L587.6 245.5L677.8 263.4M506.1 240.9L587.6 223.5L679 238.6M527.9 330L523.7 211.6M544.2 323.6L541.2 208.7M559.6 317.6L557.7 206M574 312L573.1 203.4M595.4 308.9L595.8 202.1M611.5 313.6L612.9 204.4M628.4 318.5L630.9 206.7M646.1 323.7L649.9 209.2M664.7 329.1L669.9 211.8" class="gr"/><path d="M510.5 336.8L504.9 214.7L587.6 201L680.3 213.2M587.6 201L587.6 306.6M680.3 213.2L674.4 331.9" class="bx"/><g class="s"><path d="M510.5 336.8l3 1.2 3.4-1.4-3-1.1z" color="#91e7d0"/><path d="M513.5 338l3.1 1.2 3.4-1.4-3.1-1.2z" color="#9be9d4"/><path d="M516.6 339.2l3.1 1.2 3.4-1.4-3.1-1.2z" color="#a5ecd8"/><path d="M519.7 340.4l3.2 1.2 3.4-1.4-3.2-1.2z" color="#b3eedd"/><path d="M522.9 341.6l3.1 1.2 3.5-1.4-3.2-1.2z" color="#c2f1e2"/><path d="M526 342.8l3.2 1.2 3.5-1.4-3.2-1.2z" color="#d1f4e7"/><path d="M529.2 344l3.3 1.3 3.4-1.5-3.2-1.2z" color="#e3f6ea"/><path d="M532.5 345.3l3.3 1.2 3.4-1.5-3.3-1.2z" color="#f1f7e9"/><path d="M535.8 346.5l3.3 1.3 3.4-1.5-3.3-1.3z" color="#f4f2df"/><path d="M539.1 347.8l3.4 1.3 3.4-1.5-3.4-1.3z" color="#f8eed5"/><path d="M542.5 349.1l3.4 1.3 3.4-1.6-3.4-1.2z" color="#f6e3c2"/><path d="M545.9 350.4l3.4 1.3 3.4-1.6-3.4-1.3z" color="#f4d8af"/><path d="M549.3 351.7l3.5 1.3 3.4-1.5-3.5-1.4z" color="#f1cc9c"/><path d="M552.8 353l3.5 1.3 3.4-1.5-3.5-1.3z" color="#f0c18a"/><path d="M556.3 354.3l3.5 1.4 3.4-1.6-3.5-1.3z" color="#efb679"/><path d="M559.8 355.7l3.6 1.4 3.4-1.6-3.6-1.4z" color="#eeac69"/><path d="M563.4 357.1l3.7 1.4 3.3-1.7-3.6-1.3z" color="#eda35c"/><path d="M567.1 358.5l3.6 1.4 3.4-1.7-3.7-1.4z" color="#ec9e53"/><path d="M570.7 359.9l3.7 1.4 3.4-1.7-3.7-1.4z" color="#ea984b"/><path d="M574.4 361.3l3.8 1.4 3.4-1.7-3.8-1.4z" color="#e89444"/><path d="M578.2 362.7l3.8 1.5 3.4-1.7-3.8-1.5z" color="#e59142"/><path d="M582 364.2l3.9 1.5 3.3-1.8-3.8-1.4z" color="#e28e41"/><path d="M585.9 365.7l3.9 1.4 3.3-1.7-3.9-1.5z" color="#de8b40"/><path d="M589.8 367.1l3.9 1.5 3.3-1.7-3.9-1.5z" color="#db883e"/><path d="M593.7 368.6l4 1.6 3.3-1.8-4-1.5z" color="#d6853e"/><path d="M597.7 370.2l4 1.5 3.3-1.8-4-1.5z" color="#d1823d"/><path d="M513.9 335.5l3 1.1 3.4-1.3-3-1.1z" color="#a0ebd6"/><path d="M516.9 336.6l3.1 1.2 3.4-1.4-3.1-1.1z" color="#adeddb"/><path d="M520 337.8l3.1 1.2 3.4-1.4-3.1-1.2z" color="#bbf0e0"/><path d="M523.1 339l3.2 1.2 3.4-1.4-3.2-1.2z" color="#caf2e5"/><path d="M526.3 340.2l3.2 1.2 3.3-1.4-3.1-1.2z" color="#dbf5e8"/><path d="M529.5 341.4l3.2 1.2 3.4-1.4-3.3-1.2z" color="#eef8ec"/><path d="M532.7 342.6l3.2 1.2 3.4-1.4-3.2-1.2z" color="#f3f4e3"/><path d="M535.9 343.8l3.3 1.2 3.4-1.4-3.3-1.2z" color="#f6f0d9"/><path d="M539.2 345l3.3 1.3 3.4-1.5-3.3-1.2z" color="#f7e8ca"/><path d="M542.5 346.3l3.4 1.3 3.3-1.5-3.3-1.3z" color="#f4dcb6"/><path d="M545.9 347.6l3.4 1.2 3.3-1.4-3.4-1.3z" color="#f2d1a3"/><path d="M549.3 348.8l3.4 1.3 3.4-1.5-3.5-1.2z" color="#f0c590"/><path d="M552.7 350.1l3.5 1.4 3.3-1.6-3.4-1.3z" color="#efba80"/><path d="M556.2 351.5l3.5 1.3 3.3-1.6-3.5-1.3z" color="#efb06f"/><path d="M559.7 352.8l3.5 1.3 3.4-1.6-3.6-1.3z" color="#eea55f"/><path d="M563.2 354.1l3.6 1.4 3.3-1.6-3.5-1.4z" color="#eca056"/><path d="M566.8 355.5l3.6 1.3 3.4-1.6-3.7-1.3z" color="#eb9a4e"/><path d="M570.4 356.8l3.7 1.4 3.3-1.6-3.6-1.4z" color="#e99546"/><path d="M574.1 358.2l3.7 1.4 3.3-1.6-3.7-1.4z" color="#e69243"/><path d="M577.8 359.6l3.8 1.4 3.3-1.6-3.8-1.4z" color="#e38f42"/><path d="M581.6 361l3.8 1.5 3.3-1.7-3.8-1.4z" color="#df8c40"/><path d="M585.4 362.5l3.8 1.4 3.3-1.7-3.8-1.4z" color="#dc893f"/><path d="M589.2 363.9l3.9 1.5 3.3-1.7-3.9-1.5z" color="#d8863e"/><path d="M593.1 365.4l3.9 1.5 3.3-1.8-3.9-1.4z" color="#d2833d"/><path d="M597 366.9l4 1.5 3.3-1.8-4-1.5z" color="#cd803d"/><path d="M601 368.4l4 1.5 3.3-1.8-4-1.5z" color="#c87d3d"/><path d="M517.3 334.2l3 1.1 3.4-1.3-3.1-1.2z" color="#b2eedd"/><path d="M520.3 335.3l3.1 1.1 3.4-1.3-3.1-1.1z" color="#c1f1e2"/><path d="M523.4 336.4l3.1 1.2 3.4-1.3-3.1-1.2z" color="#d0f3e7"/><path d="M526.5 337.6l3.2 1.2 3.3-1.4-3.1-1.1z" color="#e3f6ea"/><path d="M529.7 338.8l3.1 1.2 3.4-1.4-3.2-1.2z" color="#f1f7e9"/><path d="M532.8 340l3.3 1.2 3.3-1.4-3.2-1.2z" color="#f4f3df"/><path d="M536.1 341.2l3.2 1.2 3.3-1.4-3.2-1.2z" color="#f8eed5"/><path d="M539.3 342.4l3.3 1.2 3.3-1.4-3.3-1.2z" color="#f6e3c2"/><path d="M542.6 343.6l3.3 1.2 3.3-1.4-3.3-1.2z" color="#f4d8ae"/><path d="M545.9 344.8l3.3 1.3 3.4-1.5-3.4-1.2z" color="#f1cc9b"/><path d="M549.2 346.1l3.4 1.3 3.4-1.5-3.4-1.3z" color="#f0c189"/><path d="M552.6 347.4l3.5 1.2 3.3-1.5-3.4-1.2z" color="#efb679"/><path d="M556.1 348.6l3.4 1.3 3.3-1.5-3.4-1.3z" color="#eeab68"/><path d="M559.5 349.9l3.5 1.3 3.3-1.5-3.5-1.3z" color="#eda35b"/><path d="M563 351.2l3.6 1.3 3.3-1.5-3.6-1.3z" color="#ec9d53"/><path d="M566.6 352.5l3.5 1.4 3.3-1.6-3.5-1.3z" color="#ea984a"/><path d="M570.1 353.9l3.7 1.3 3.2-1.5-3.6-1.4z" color="#e89344"/><path d="M573.8 355.2l3.6 1.4 3.3-1.6-3.7-1.3z" color="#e59042"/><path d="M577.4 356.6l3.7 1.4 3.3-1.6-3.7-1.4z" color="#e18d41"/><path d="M581.1 358l3.8 1.4 3.2-1.7-3.7-1.3z" color="#de8a40"/><path d="M584.9 359.4l3.8 1.4 3.2-1.7-3.8-1.4z" color="#da873e"/><path d="M588.7 360.8l3.8 1.4 3.2-1.6-3.8-1.5z" color="#d5843e"/><path d="M592.5 362.2l3.9 1.5 3.2-1.7-3.9-1.4z" color="#d0813d"/><path d="M596.4 363.7l3.9 1.4 3.2-1.7-3.9-1.4z" color="#ca7e3d"/><path d="M600.3 365.1l4 1.5 3.2-1.7-4-1.5z" color="#c57b3c"/><path d="M604.3 366.6l4 1.5 3.2-1.7-4-1.5z" color="#c0793c"/><path d="M520.6 332.8l3.1 1.2 3.3-1.3-3-1.1z" color="#c4f1e3"/><path d="M523.7 334l3.1 1.1 3.3-1.3-3.1-1.1z" color="#d4f4e7"/><path d="M526.8 335.1l3.1 1.2 3.3-1.4-3.1-1.1z" color="#e7f7ea"/><path d="M529.9 336.3l3.1 1.1 3.3-1.3-3.1-1.2z" color="#f2f6e7"/><path d="M533 337.4l3.2 1.2 3.3-1.4-3.2-1.1z" color="#f5f2dd"/><path d="M536.2 338.6l3.2 1.2 3.3-1.4-3.2-1.2z" color="#f8ecd1"/><path d="M539.4 339.8l3.2 1.2 3.3-1.4-3.2-1.2z" color="#f5e1be"/><path d="M542.6 341l3.3 1.2 3.3-1.4-3.3-1.2z" color="#f3d5aa"/><path d="M545.9 342.2l3.3 1.2 3.3-1.4-3.3-1.2z" color="#f1c997"/><path d="M549.2 343.4l3.4 1.2 3.2-1.4-3.3-1.2z" color="#f0be85"/><path d="M552.6 344.6l3.4 1.3 3.2-1.5-3.4-1.2z" color="#efb375"/><path d="M556 345.9l3.4 1.2 3.2-1.4-3.4-1.3z" color="#eea964"/><path d="M559.4 347.1l3.4 1.3 3.3-1.5-3.5-1.2z" color="#eda159"/><path d="M562.8 348.4l3.5 1.3 3.3-1.5-3.5-1.3z" color="#eb9c51"/><path d="M566.3 349.7l3.6 1.3 3.2-1.5-3.5-1.3z" color="#ea9748"/><path d="M569.9 351l3.5 1.3 3.3-1.5-3.6-1.3z" color="#e79243"/><path d="M573.4 352.3l3.6 1.4 3.3-1.6-3.6-1.3z" color="#e48f42"/><path d="M577 353.7l3.7 1.3 3.2-1.6-3.6-1.3z" color="#e08c41"/><path d="M580.7 355l3.7 1.4 3.2-1.6-3.7-1.4z" color="#dd893f"/><path d="M584.4 356.4l3.7 1.3 3.3-1.6-3.8-1.3z" color="#d9873e"/><path d="M588.1 357.7l3.8 1.4 3.2-1.6-3.7-1.4z" color="#d4833d"/><path d="M591.9 359.1l3.8 1.5 3.2-1.7-3.8-1.4z" color="#ce803d"/><path d="M595.7 360.6l3.9 1.4 3.2-1.7-3.9-1.4z" color="#c97d3d"/><path d="M599.6 362l3.9 1.4 3.2-1.7-3.9-1.4z" color="#c47a3c"/><path d="M603.5 363.4l4 1.5 3.2-1.7-4-1.5z" color="#bf783b"/><path d="M607.5 364.9l4 1.5 3.2-1.8-4-1.4z" color="#bb763a"/><path d="M524 331.6l3 1.1 3.3-1.3-3.1-1.1z" color="#d5f4e7"/><path d="M527 332.7l3.1 1.1 3.2-1.3-3-1.1z" color="#e7f7eb"/><path d="M530.1 333.8l3.1 1.1 3.2-1.3-3.1-1.1z" color="#f2f6e6"/><path d="M533.2 334.9l3.1 1.2 3.3-1.4-3.2-1.1z" color="#f5f1dc"/><path d="M536.3 336.1l3.2 1.1 3.2-1.3-3.1-1.2z" color="#f8ecd1"/><path d="M539.5 337.2l3.2 1.2 3.2-1.4-3.2-1.1z" color="#f5e0bd"/><path d="M542.7 338.4l3.2 1.2 3.3-1.4-3.3-1.2z" color="#f3d4a9"/><path d="M545.9 339.6l3.3 1.2 3.2-1.4-3.2-1.2z" color="#f1c996"/><path d="M549.2 340.8l3.3 1.2 3.2-1.4-3.3-1.2z" color="#efbe84"/><path d="M552.5 342l3.3 1.2 3.3-1.4-3.4-1.2z" color="#efb374"/><path d="M555.8 343.2l3.4 1.2 3.3-1.4-3.4-1.2z" color="#eea864"/><path d="M559.2 344.4l3.4 1.3 3.3-1.5-3.4-1.2z" color="#eda159"/><path d="M562.6 345.7l3.5 1.2 3.2-1.5-3.4-1.2z" color="#eb9c50"/><path d="M566.1 346.9l3.5 1.3 3.2-1.5-3.5-1.3z" color="#ea9648"/><path d="M569.6 348.2l3.5 1.3 3.2-1.5-3.5-1.3z" color="#e79243"/><path d="M573.1 349.5l3.6 1.3 3.2-1.5-3.6-1.3z" color="#e48f42"/><path d="M576.7 350.8l3.6 1.3 3.2-1.5-3.6-1.3z" color="#e08c40"/><path d="M580.3 352.1l3.6 1.3 3.2-1.5-3.6-1.3z" color="#dd893f"/><path d="M583.9 353.4l3.7 1.4 3.2-1.6-3.7-1.3z" color="#d9863e"/><path d="M587.6 354.8l3.8 1.3 3.1-1.6-3.7-1.3z" color="#d3833d"/><path d="M591.4 356.1l3.7 1.4 3.2-1.6-3.8-1.4z" color="#ce803d"/><path d="M595.1 357.5l3.8 1.4 3.2-1.6-3.8-1.4z" color="#c97d3d"/><path d="M598.9 358.9l3.9 1.4 3.2-1.6-3.9-1.4z" color="#c37a3c"/><path d="M602.8 360.3l3.9 1.4 3.2-1.6-3.9-1.4z" color="#bf783b"/><path d="M606.7 361.7l4 1.5 3.1-1.7-3.9-1.4z" color="#bb763a"/><path d="M610.7 363.2l4 1.4 3.1-1.7-4-1.4z" color="#b77439"/><path d="M527.2 330.3l3.1 1.1 3.2-1.3-3-1.1z" color="#e5f6ea"/><path d="M530.3 331.4l3 1.1 3.3-1.3-3.1-1.1z" color="#f1f6e8"/><path d="M533.3 332.5l3.1 1.1 3.3-1.3-3.1-1.1z" color="#f5f2de"/><path d="M536.4 333.6l3.2 1.1 3.2-1.3-3.1-1.1z" color="#f8eed3"/><path d="M539.6 334.7l3.1 1.2 3.3-1.4-3.2-1.1z" color="#f6e2c0"/><path d="M542.7 335.9l3.2 1.1 3.3-1.3-3.2-1.2z" color="#f3d6ac"/><path d="M545.9 337l3.3 1.2 3.2-1.4-3.2-1.1z" color="#f1cb99"/><path d="M549.2 338.2l3.2 1.2 3.2-1.4-3.2-1.2z" color="#f0bf87"/><path d="M552.4 339.4l3.3 1.2 3.2-1.4-3.3-1.2z" color="#efb476"/><path d="M555.7 340.6l3.4 1.2 3.2-1.4-3.4-1.2z" color="#eeaa66"/><path d="M559.1 341.8l3.4 1.2 3.1-1.4-3.3-1.2z" color="#eda25a"/><path d="M562.5 343l3.4 1.2 3.2-1.4-3.5-1.2z" color="#eb9c51"/><path d="M565.9 344.2l3.4 1.2 3.2-1.4-3.4-1.2z" color="#ea9749"/><path d="M569.3 345.4l3.5 1.3 3.2-1.5-3.5-1.2z" color="#e89343"/><path d="M572.8 346.7l3.5 1.3 3.2-1.5-3.5-1.3z" color="#e49042"/><path d="M576.3 348l3.6 1.3 3.1-1.5-3.5-1.3z" color="#e18d41"/><path d="M579.9 349.3l3.6 1.3 3.1-1.6-3.6-1.2z" color="#dd8a3f"/><path d="M583.5 350.6l3.6 1.3 3.2-1.6-3.7-1.3z" color="#da873e"/><path d="M587.1 351.9l3.7 1.3 3.2-1.6-3.7-1.3z" color="#d4843e"/><path d="M590.8 353.2l3.7 1.3 3.2-1.5-3.7-1.4z" color="#cf813d"/><path d="M594.5 354.5l3.8 1.4 3.1-1.6-3.7-1.3z" color="#c97e3d"/><path d="M598.3 355.9l3.8 1.4 3.1-1.6-3.8-1.4z" color="#c47b3c"/><path d="M602.1 357.3l3.9 1.4 3.1-1.7-3.9-1.3z" color="#bf783c"/><path d="M606 358.7l3.9 1.4 3.1-1.7-3.9-1.4z" color="#bc763b"/><path d="M609.9 360.1l3.9 1.4 3.1-1.7-3.9-1.4z" color="#b8753a"/><path d="M613.8 361.5l4 1.4 3.1-1.7-4-1.4z" color="#b47339"/><path d="M530.5 329l3 1.1 3.2-1.3-3.1-1z" color="#f0f8eb"/><path d="M533.5 330.1l3.1 1.1 3.1-1.3-3-1.1z" color="#f4f3e1"/><path d="M536.6 331.2l3.1 1.1 3.1-1.3-3.1-1.1z" color="#f7efd7"/><path d="M539.7 332.3l3.1 1.1 3.2-1.3-3.2-1.1z" color="#f6e6c6"/><path d="M542.8 333.4l3.2 1.1 3.1-1.3-3.1-1.1z" color="#f4dab2"/><path d="M546 334.5l3.2 1.2 3.1-1.4-3.2-1.1z" color="#f2ce9f"/><path d="M549.2 335.7l3.2 1.1 3.2-1.3-3.3-1.2z" color="#f0c38c"/><path d="M552.4 336.8l3.2 1.2 3.2-1.4-3.2-1.1z" color="#efb87c"/><path d="M555.6 338l3.3 1.2 3.2-1.4-3.3-1.2z" color="#efad6c"/><path d="M558.9 339.2l3.4 1.2 3.1-1.4-3.3-1.2z" color="#eea45d"/><path d="M562.3 340.4l3.3 1.2 3.2-1.4-3.4-1.2z" color="#ec9e54"/><path d="M565.6 341.6l3.5 1.2 3.1-1.4-3.4-1.2z" color="#ea994c"/><path d="M569.1 342.8l3.4 1.2 3.1-1.4-3.4-1.2z" color="#e99444"/><path d="M572.5 344l3.5 1.2 3.1-1.4-3.5-1.2z" color="#e59143"/><path d="M576 345.2l3.5 1.3 3.1-1.5-3.5-1.2z" color="#e28e41"/><path d="M579.5 346.5l3.5 1.3 3.2-1.5-3.6-1.3z" color="#de8b40"/><path d="M583 347.8l3.6 1.2 3.2-1.5-3.6-1.2z" color="#db883e"/><path d="M586.6 349l3.7 1.3 3.1-1.5-3.6-1.3z" color="#d6853e"/><path d="M590.3 350.3l3.7 1.3 3-1.5-3.6-1.3z" color="#d1823d"/><path d="M594 351.6l3.7 1.4 3.1-1.6-3.8-1.3z" color="#cb7f3d"/><path d="M597.7 353l3.7 1.3 3.1-1.6-3.7-1.3z" color="#c67c3c"/><path d="M601.4 354.3l3.8 1.4 3.1-1.6-3.8-1.4z" color="#c1793c"/><path d="M605.2 355.7l3.9 1.3 3-1.6-3.8-1.3z" color="#bd773b"/><path d="M609.1 357l3.9 1.4 3-1.6-3.9-1.4z" color="#ba753a"/><path d="M613 358.4l3.9 1.4 3-1.6-3.9-1.4z" color="#b67339"/><path d="M616.9 359.8l4 1.4 3-1.6-4-1.4z" color="#b27238"/><path d="M533.6 327.8l3.1 1 3.1-1.2-3-1.1z" color="#f2f6e6"/><path d="M536.7 328.8l3 1.1 3.2-1.2-3.1-1.1z" color="#f5f1dc"/><path d="M539.7 329.9l3.1 1.1 3.2-1.3-3.1-1z" color="#f8ecd0"/><path d="M542.8 331l3.2 1.1 3.1-1.3-3.1-1.1z" color="#f5e0bd"/><path d="M546 332.1l3.1 1.1 3.2-1.3-3.2-1.1z" color="#f3d4a9"/><path d="M549.1 333.2l3.2 1.1 3.2-1.3-3.2-1.1z" color="#f1c996"/><path d="M552.3 334.3l3.3 1.2 3.1-1.3-3.2-1.2z" color="#f0be85"/><path d="M555.6 335.5l3.2 1.1 3.1-1.3-3.2-1.1z" color="#efb374"/><path d="M558.8 336.6l3.3 1.2 3.1-1.4-3.3-1.1z" color="#eea864"/><path d="M562.1 337.8l3.3 1.2 3.1-1.4-3.3-1.2z" color="#eda159"/><path d="M565.4 339l3.4 1.2 3.1-1.4-3.4-1.2z" color="#eb9c51"/><path d="M568.8 340.2l3.4 1.2 3.1-1.4-3.4-1.2z" color="#ea9748"/><path d="M572.2 341.4l3.4 1.2 3.1-1.4-3.4-1.2z" color="#e79243"/><path d="M575.6 342.6l3.5 1.2 3.1-1.4-3.5-1.2z" color="#e48f42"/><path d="M579.1 343.8l3.5 1.2 3.1-1.4-3.5-1.2z" color="#e08d41"/><path d="M582.6 345l3.6 1.3 3-1.5-3.5-1.2z" color="#dd8a3f"/><path d="M586.2 346.3l3.6 1.2 3-1.4-3.6-1.3z" color="#da873e"/><path d="M589.8 347.5l3.6 1.3 3-1.5-3.6-1.2z" color="#d4843e"/><path d="M593.4 348.8l3.6 1.3 3.1-1.5-3.7-1.3z" color="#cf813d"/><path d="M597 350.1l3.8 1.3 3-1.5-3.7-1.3z" color="#c97e3d"/><path d="M600.8 351.4l3.7 1.3 3-1.5-3.7-1.3z" color="#c47b3c"/><path d="M604.5 352.7l3.8 1.4 3-1.6-3.8-1.3z" color="#c0783c"/><path d="M608.3 354.1l3.8 1.3 3.1-1.6-3.9-1.3z" color="#bc763b"/><path d="M612.1 355.4l3.9 1.4 3-1.6-3.8-1.4z" color="#b8753a"/><path d="M616 356.8l3.9 1.4 3-1.6-3.9-1.4z" color="#b57339"/><path d="M619.9 358.2l4 1.4 3-1.7-4-1.3z" color="#b17138"/><path d="M536.8 326.5l3 1.1 3.1-1.2-3-1.1z" color="#f3f4e3"/><path d="M539.8 327.6l3.1 1.1 3.1-1.3-3.1-1z" color="#f6f0d9"/><path d="M542.9 328.7l3.1 1 3.1-1.2-3.1-1.1z" color="#f7e8ca"/><path d="M546 329.7l3.1 1.1 3.1-1.2-3.1-1.1z" color="#f5ddb7"/><path d="M549.1 330.8l3.2 1.1 3.1-1.3-3.2-1z" color="#f2d1a4"/><path d="M552.3 331.9l3.2 1.1 3.1-1.3-3.2-1.1z" color="#f0c691"/><path d="M555.5 333l3.2 1.2 3.1-1.4-3.2-1.1z" color="#efbb80"/><path d="M558.7 334.2l3.2 1.1 3.1-1.3-3.2-1.2z" color="#efb070"/><path d="M561.9 335.3l3.3 1.1 3.1-1.3-3.3-1.1z" color="#eea660"/><path d="M565.2 336.4l3.3 1.2 3.1-1.4-3.3-1.1z" color="#eda057"/><path d="M568.5 337.6l3.4 1.2 3.1-1.4-3.4-1.2z" color="#eb9b4f"/><path d="M571.9 338.8l3.4 1.2 3.1-1.4-3.4-1.2z" color="#e99546"/><path d="M575.3 340l3.4 1.2 3.1-1.4-3.4-1.2z" color="#e69243"/><path d="M578.7 341.2l3.5 1.2 3.1-1.5-3.5-1.1z" color="#e38f42"/><path d="M582.2 342.4l3.5 1.2 3-1.4-3.4-1.3z" color="#e08c40"/><path d="M585.7 343.6l3.5 1.2 3.1-1.4-3.6-1.2z" color="#dc893f"/><path d="M589.2 344.8l3.6 1.3 3.1-1.5-3.6-1.2z" color="#d9863e"/><path d="M592.8 346.1l3.6 1.2 3.1-1.4-3.6-1.3z" color="#d3833d"/><path d="M596.4 347.3l3.7 1.3 3-1.5-3.6-1.2z" color="#ce803d"/><path d="M600.1 348.6l3.7 1.3 3-1.5-3.7-1.3z" color="#c97d3d"/><path d="M603.8 349.9l3.7 1.3 3-1.5-3.7-1.3z" color="#c37a3c"/><path d="M607.5 351.2l3.8 1.3 3-1.5-3.8-1.3z" color="#bf783b"/><path d="M611.3 352.5l3.9 1.3 2.9-1.5-3.8-1.3z" color="#bb763a"/><path d="M615.2 353.8l3.8 1.4 3-1.6-3.9-1.3z" color="#b87439"/><path d="M619 355.2l3.9 1.4 3-1.6-3.9-1.4z" color="#b47338"/><path d="M622.9 356.6l4 1.3 2.9-1.6-3.9-1.3z" color="#b17137"/><path d="M539.9 325.3l3 1.1 3.1-1.3-3-1z" color="#f3f4e2"/><path d="M542.9 326.4l3.1 1 3.1-1.2-3.1-1.1z" color="#f7f0d8"/><path d="M546 327.4l3.1 1.1 3.1-1.3-3.1-1z" color="#f7e7c8"/><path d="M549.1 328.5l3.1 1.1 3.1-1.3-3.1-1.1z" color="#f4dbb5"/><path d="M552.2 329.6l3.2 1 3-1.2-3.1-1.1z" color="#f2d0a2"/><path d="M555.4 330.6l3.2 1.1 3-1.2-3.2-1.1z" color="#f0c58f"/><path d="M558.6 331.7l3.2 1.1 3-1.2-3.2-1.1z" color="#efba7f"/><path d="M561.8 332.8l3.2 1.2 3.1-1.3-3.3-1.1z" color="#efb06f"/><path d="M565 334l3.3 1.1 3-1.3-3.2-1.1z" color="#eea55f"/><path d="M568.3 335.1l3.3 1.1 3.1-1.3-3.4-1.1z" color="#eca057"/><path d="M571.6 336.2l3.4 1.2 3-1.3-3.3-1.2z" color="#eb9a4e"/><path d="M575 337.4l3.4 1.2 3-1.4-3.4-1.1z" color="#e99546"/><path d="M578.4 338.6l3.4 1.2 3-1.4-3.4-1.2z" color="#e69243"/><path d="M581.8 339.8l3.5 1.1 3-1.3-3.5-1.2z" color="#e38f42"/><path d="M585.3 340.9l3.4 1.3 3.1-1.5-3.5-1.1z" color="#e08c40"/><path d="M588.7 342.2l3.6 1.2 3-1.4-3.5-1.3z" color="#dc893f"/><path d="M592.3 343.4l3.6 1.2 2.9-1.4-3.5-1.2z" color="#d9863e"/><path d="M595.9 344.6l3.6 1.3 3-1.5-3.7-1.2z" color="#d3833d"/><path d="M599.5 345.9l3.6 1.2 3-1.5-3.6-1.2z" color="#ce803d"/><path d="M603.1 347.1l3.7 1.3 3-1.5-3.7-1.3z" color="#c97d3d"/><path d="M606.8 348.4l3.7 1.3 3-1.5-3.7-1.3z" color="#c47b3c"/><path d="M610.5 349.7l3.8 1.3 3-1.5-3.8-1.3z" color="#bf783c"/><path d="M614.3 351l3.8 1.3 3-1.5-3.8-1.3z" color="#bc763b"/><path d="M618.1 352.3l3.9 1.3 2.9-1.5-3.8-1.3z" color="#b8753a"/><path d="M622 353.6l3.9 1.4 2.9-1.6-3.9-1.3z" color="#b57339"/><path d="M625.9 355l3.9 1.3 2.9-1.6-3.9-1.3z" color="#b17138"/><path d="M543 324.1l3 1 3-1.2-3-1z" color="#f3f4e2"/><path d="M546 325.1l3.1 1.1 3-1.2-3.1-1.1z" color="#f6f0d9"/><path d="M549.1 326.2l3.1 1 3-1.2-3.1-1z" color="#f7e8ca"/><path d="M552.2 327.2l3.1 1.1 3-1.2-3.1-1.1z" color="#f5ddb7"/><path d="M555.3 328.3l3.1 1.1 3-1.3-3.1-1z" color="#f2d1a4"/><path d="M558.4 329.4l3.2 1.1 3-1.3-3.2-1.1z" color="#f0c691"/><path d="M561.6 330.5l3.2 1.1 3-1.3-3.2-1.1z" color="#efbc81"/><path d="M564.8 331.6l3.3 1.1 3-1.3-3.3-1.1z" color="#efb171"/><path d="M568.1 332.7l3.2 1.1 3-1.3-3.2-1.1z" color="#eea762"/><path d="M571.3 333.8l3.4 1.1 3-1.3-3.4-1.1z" color="#eda158"/><path d="M574.7 334.9l3.3 1.2 3-1.4-3.3-1.1z" color="#eb9b50"/><path d="M578 336.1l3.4 1.1 3-1.3-3.4-1.2z" color="#ea9648"/><path d="M581.4 337.2l3.4 1.2 3-1.4-3.4-1.1z" color="#e79243"/><path d="M584.8 338.4l3.5 1.2 2.9-1.4-3.4-1.2z" color="#e49042"/><path d="M588.3 339.6l3.5 1.1 2.9-1.3-3.5-1.2z" color="#e18d41"/><path d="M591.8 340.7l3.5 1.3 2.9-1.5-3.5-1.1z" color="#dd8a3f"/><path d="M595.3 342l3.5 1.2 3-1.5-3.6-1.2z" color="#da873e"/><path d="M598.8 343.2l3.7 1.2 2.9-1.4-3.6-1.3z" color="#d5843e"/><path d="M602.5 344.4l3.6 1.2 2.9-1.4-3.6-1.2z" color="#d0813d"/><path d="M606.1 345.6l3.7 1.3 2.9-1.5-3.7-1.2z" color="#cb7e3d"/><path d="M609.8 346.9l3.7 1.3 2.9-1.5-3.7-1.3z" color="#c67c3c"/><path d="M613.5 348.2l3.8 1.3 2.9-1.5-3.8-1.3z" color="#c1793c"/><path d="M617.3 349.5l3.8 1.3 2.9-1.6-3.8-1.2z" color="#bd773b"/><path d="M621.1 350.8l3.8 1.3 2.9-1.6-3.8-1.3z" color="#ba753a"/><path d="M624.9 352.1l3.9 1.3 2.9-1.6-3.9-1.3z" color="#b67439"/><path d="M628.8 353.4l3.9 1.3 2.9-1.5-3.9-1.4z" color="#b37238"/><path d="M546 322.9l3 1 3-1.2-3-1z" color="#f2f5e5"/><path d="M549 323.9l3.1 1.1 3-1.2-3.1-1.1z" color="#f6f1db"/><path d="M552.1 325l3.1 1 3-1.2-3.1-1z" color="#f7ebcf"/><path d="M555.2 326l3.1 1.1 3-1.3-3.1-1z" color="#f5e0bd"/><path d="M558.3 327.1l3.1 1 3-1.2-3.1-1.1z" color="#f3d5aa"/><path d="M561.4 328.1l3.2 1.1 3-1.3-3.2-1z" color="#f1ca98"/><path d="M564.6 329.2l3.2 1.1 3-1.3-3.2-1.1z" color="#f0bf87"/><path d="M567.8 330.3l3.3 1.1 2.9-1.3-3.2-1.1z" color="#efb577"/><path d="M571.1 331.4l3.2 1.1 3-1.3-3.3-1.1z" color="#eeab68"/><path d="M574.3 332.5l3.4 1.1 2.9-1.3-3.3-1.1z" color="#eda35b"/><path d="M577.7 333.6l3.3 1.1 3-1.3-3.4-1.1z" color="#ec9e53"/><path d="M581 334.7l3.4 1.2 2.9-1.4-3.3-1.1z" color="#ea984b"/><path d="M584.4 335.9l3.4 1.1 2.9-1.3-3.4-1.2z" color="#e99444"/><path d="M587.8 337l3.4 1.2 3-1.4-3.5-1.1z" color="#e59143"/><path d="M591.2 338.2l3.5 1.2 3-1.4-3.5-1.2z" color="#e28e41"/><path d="M594.7 339.4l3.5 1.1 3-1.3-3.5-1.2z" color="#df8b40"/><path d="M598.2 340.5l3.6 1.2 2.9-1.4-3.5-1.1z" color="#dc893f"/><path d="M601.8 341.7l3.6 1.3 2.9-1.5-3.6-1.2z" color="#d8863e"/><path d="M605.4 343l3.6 1.2 2.9-1.4-3.6-1.3z" color="#d3833d"/><path d="M609 344.2l3.7 1.2 2.9-1.4-3.7-1.2z" color="#cd803d"/><path d="M612.7 345.4l3.7 1.3 2.9-1.5-3.7-1.2z" color="#c87d3d"/><path d="M616.4 346.7l3.8 1.3 2.9-1.5-3.8-1.3z" color="#c47a3c"/><path d="M620.2 348l3.8 1.2 2.8-1.5-3.7-1.2z" color="#bf783c"/><path d="M624 349.2l3.8 1.3 2.9-1.5-3.9-1.3z" color="#bc763b"/><path d="M627.8 350.5l3.9 1.3 2.8-1.5-3.8-1.3z" color="#b8753a"/><path d="M631.7 351.8l3.9 1.4 2.8-1.6-3.9-1.3z" color="#b57339"/><path d="M549 321.7l3 1 3-1.1-3-1z" color="#f1f7e9"/><path d="M552 322.7l3.1 1.1 3-1.2-3.1-1z" color="#f4f3e0"/><path d="M555.1 323.8l3.1 1 2.9-1.2-3-1z" color="#f7efd6"/><path d="M558.2 324.8l3.1 1 2.9-1.2-3.1-1z" color="#f6e6c6"/><path d="M561.3 325.8l3.1 1.1 3-1.2-3.2-1.1z" color="#f4dbb4"/><path d="M564.4 326.9l3.2 1 2.9-1.2-3.1-1z" color="#f2d0a1"/><path d="M567.6 327.9l3.2 1.1 2.9-1.2-3.2-1.1z" color="#f0c590"/><path d="M570.8 329l3.2 1.1 3-1.3-3.3-1z" color="#efbb80"/><path d="M574 330.1l3.3 1.1 2.9-1.3-3.2-1.1z" color="#efb171"/><path d="M577.3 331.2l3.3 1.1 2.9-1.3-3.3-1.1z" color="#eea762"/><path d="M580.6 332.3l3.4 1.1 2.9-1.3-3.4-1.1z" color="#eda158"/><path d="M584 333.4l3.3 1.1 2.9-1.3-3.3-1.1z" color="#eb9c50"/><path d="M587.3 334.5l3.4 1.2 2.9-1.4-3.4-1.1z" color="#ea9748"/><path d="M590.7 335.7l3.5 1.1 2.9-1.3-3.5-1.2z" color="#e89343"/><path d="M594.2 336.8l3.5 1.2 2.8-1.4-3.4-1.1z" color="#e49042"/><path d="M597.7 338l3.5 1.2 2.9-1.4-3.6-1.2z" color="#e18d41"/><path d="M601.2 339.2l3.5 1.1 2.9-1.3-3.5-1.2z" color="#de8b40"/><path d="M604.7 340.3l3.6 1.2 2.9-1.4-3.6-1.1z" color="#db883e"/><path d="M608.3 341.5l3.6 1.3 2.9-1.5-3.6-1.2z" color="#d7853e"/><path d="M611.9 342.8l3.7 1.2 2.9-1.5-3.7-1.2z" color="#d2823d"/><path d="M615.6 344l3.7 1.2 2.8-1.4-3.6-1.3z" color="#cd803d"/><path d="M619.3 345.2l3.8 1.3 2.8-1.5-3.8-1.2z" color="#c87d3d"/><path d="M623.1 346.5l3.7 1.2 2.9-1.4-3.8-1.3z" color="#c37a3c"/><path d="M626.8 347.7l3.9 1.3 2.8-1.5-3.8-1.2z" color="#bf783b"/><path d="M630.7 349l3.8 1.3 2.8-1.5-3.8-1.3z" color="#bc763b"/><path d="M634.5 350.3l3.9 1.3 2.8-1.5-3.9-1.3z" color="#b8753a"/><path d="M552 320.6l3 1 2.9-1.2-3-1z" color="#e9f7eb"/><path d="M555 321.6l3.1 1 2.9-1.2-3.1-1z" color="#f2f6e6"/><path d="M558.1 322.6l3 1 3-1.2-3.1-1z" color="#f5f2dd"/><path d="M561.1 323.6l3.1 1 3-1.2-3.1-1z" color="#f8eed4"/><path d="M564.2 324.6l3.2 1.1 2.9-1.2-3.1-1.1z" color="#f6e3c1"/><path d="M567.4 325.7l3.1 1 3-1.2-3.2-1z" color="#f4d8af"/><path d="M570.5 326.7l3.2 1.1 3-1.3-3.2-1z" color="#f1cd9d"/><path d="M573.7 327.8l3.3 1 2.9-1.2-3.2-1.1z" color="#f0c38c"/><path d="M577 328.8l3.2 1.1 2.9-1.2-3.2-1.1z" color="#efb97d"/><path d="M580.2 329.9l3.3 1.1 2.9-1.3-3.3-1z" color="#efaf6e"/><path d="M583.5 331l3.4 1.1 2.9-1.3-3.4-1.1z" color="#eea55f"/><path d="M586.9 332.1l3.3 1.1 2.9-1.3-3.3-1.1z" color="#eda057"/><path d="M590.2 333.2l3.4 1.1 2.9-1.3-3.4-1.1z" color="#eb9b50"/><path d="M593.6 334.3l3.5 1.2 2.8-1.3-3.4-1.2z" color="#ea9648"/><path d="M597.1 335.5l3.4 1.1 2.9-1.3-3.5-1.1z" color="#e79343"/><path d="M600.5 336.6l3.6 1.2 2.8-1.4-3.5-1.1z" color="#e49042"/><path d="M604.1 337.8l3.5 1.2 2.8-1.4-3.5-1.2z" color="#e18d41"/><path d="M607.6 339l3.6 1.1 2.8-1.3-3.6-1.2z" color="#de8b40"/><path d="M611.2 340.1l3.6 1.2 2.8-1.4-3.6-1.1z" color="#db883e"/><path d="M614.8 341.3l3.7 1.2 2.8-1.4-3.7-1.2z" color="#d7853e"/><path d="M618.5 342.5l3.6 1.3 2.9-1.5-3.7-1.2z" color="#d2833d"/><path d="M622.1 343.8l3.8 1.2 2.8-1.4-3.7-1.3z" color="#cd803d"/><path d="M625.9 345l3.8 1.3 2.8-1.5-3.8-1.2z" color="#c97d3d"/><path d="M629.7 346.3l3.8 1.2 2.8-1.5-3.8-1.2z" color="#c47b3c"/><path d="M633.5 347.5l3.8 1.3 2.8-1.5-3.8-1.3z" color="#c0783c"/><path d="M637.3 348.8l3.9 1.3 2.8-1.5-3.9-1.3z" color="#bd773b"/><path d="M554.9 319.4l3 1 2.9-1.1-3-1z" color="#daf5e8"/><path d="M557.9 320.4l3.1 1 2.9-1.1-3.1-1z" color="#ebf7eb"/><path d="M561 321.4l3.1 1 2.8-1.2-3-.9z" color="#f2f5e6"/><path d="M564.1 322.4l3.1 1 2.8-1.1-3.1-1.1z" color="#f5f1dc"/><path d="M567.2 323.4l3.1 1.1 2.9-1.2-3.2-1z" color="#f8edd3"/><path d="M570.3 324.5l3.2 1 2.8-1.2-3.1-1z" color="#f6e3c1"/><path d="M573.5 325.5l3.2 1 2.8-1.2-3.2-1z" color="#f4d8af"/><path d="M576.7 326.5l3.2 1.1 2.8-1.2-3.2-1.1z" color="#f2ce9e"/><path d="M579.9 327.6l3.2 1.1 2.9-1.3-3.3-1z" color="#f0c38d"/><path d="M583.1 328.7l3.3 1 2.9-1.2-3.3-1.1z" color="#efba7e"/><path d="M586.4 329.7l3.4 1.1 2.8-1.2-3.3-1.1z" color="#efb070"/><path d="M589.8 330.8l3.3 1.1 2.9-1.3-3.4-1z" color="#eea661"/><path d="M593.1 331.9l3.4 1.1 2.8-1.3-3.3-1.1z" color="#eda158"/><path d="M596.5 333l3.4 1.2 2.9-1.4-3.5-1.1z" color="#eb9c51"/><path d="M599.9 334.2l3.5 1.1 2.8-1.3-3.4-1.2z" color="#ea9749"/><path d="M603.4 335.3l3.5 1.1 2.8-1.3-3.5-1.1z" color="#e89344"/><path d="M606.9 336.4l3.5 1.2 2.8-1.4-3.5-1.1z" color="#e59142"/><path d="M610.4 337.6l3.6 1.2 2.8-1.4-3.6-1.2z" color="#e28e41"/><path d="M614 338.8l3.6 1.1 2.8-1.3-3.6-1.2z" color="#df8b40"/><path d="M617.6 339.9l3.7 1.2 2.7-1.4-3.6-1.1z" color="#dc893f"/><path d="M621.3 341.1l3.7 1.2 2.7-1.4-3.7-1.2z" color="#d9863e"/><path d="M625 342.3l3.7 1.3 2.7-1.5-3.7-1.2z" color="#d4843e"/><path d="M628.7 343.6l3.8 1.2 2.7-1.4-3.8-1.3z" color="#cf813d"/><path d="M632.5 344.8l3.8 1.2 2.7-1.4-3.8-1.2z" color="#cb7f3d"/><path d="M636.3 346l3.8 1.3 2.7-1.5-3.8-1.2z" color="#c67c3c"/><path d="M640.1 347.3l3.9 1.3 2.7-1.5-3.9-1.3z" color="#c2793c"/><path d="M557.8 318.3l3 1 2.9-1.2-3-.9z" color="#c9f2e4"/><path d="M560.8 319.3l3.1 1 2.8-1.2-3-1z" color="#d8f5e8"/><path d="M563.9 320.3l3 .9 2.9-1.1-3.1-1z" color="#e9f7eb"/><path d="M566.9 321.2l3.1 1.1 2.9-1.2-3.1-1z" color="#f2f6e7"/><path d="M570 322.3l3.2 1 2.8-1.2-3.1-1z" color="#f5f2de"/><path d="M573.2 323.3l3.1 1 2.9-1.2-3.2-1z" color="#f8eed5"/><path d="M576.3 324.3l3.2 1 2.9-1.2-3.2-1z" color="#f6e5c5"/><path d="M579.5 325.3l3.2 1.1 2.9-1.2-3.2-1.1z" color="#f4dbb4"/><path d="M582.7 326.4l3.3 1 2.8-1.2-3.2-1z" color="#f2d0a2"/><path d="M586 327.4l3.3 1.1 2.8-1.3-3.3-1z" color="#f0c692"/><path d="M589.3 328.5l3.3 1.1 2.8-1.3-3.3-1.1z" color="#efbd83"/><path d="M592.6 329.6l3.4 1 2.8-1.2-3.4-1.1z" color="#efb375"/><path d="M596 330.6l3.3 1.1 2.8-1.2-3.3-1.1z" color="#eeaa67"/><path d="M599.3 331.7l3.5 1.1 2.8-1.2-3.5-1.1z" color="#eda35c"/><path d="M602.8 332.8l3.4 1.2 2.8-1.3-3.4-1.1z" color="#ec9e54"/><path d="M606.2 334l3.5 1.1 2.8-1.3-3.5-1.1z" color="#eb9a4d"/><path d="M609.7 335.1l3.5 1.1 2.8-1.3-3.5-1.1z" color="#e99546"/><path d="M613.2 336.2l3.6 1.2 2.8-1.3-3.6-1.2z" color="#e79243"/><path d="M616.8 337.4l3.6 1.2 2.8-1.4-3.6-1.1z" color="#e49042"/><path d="M620.4 338.6l3.6 1.1 2.8-1.3-3.6-1.2z" color="#e18d41"/><path d="M624 339.7l3.7 1.2 2.8-1.4-3.7-1.1z" color="#de8b40"/><path d="M627.7 340.9l3.7 1.2 2.8-1.4-3.7-1.2z" color="#db883f"/><path d="M631.4 342.1l3.8 1.3 2.7-1.5-3.7-1.2z" color="#d8863e"/><path d="M635.2 343.4l3.8 1.2 2.7-1.4-3.8-1.3z" color="#d3833d"/><path d="M639 344.6l3.8 1.2 2.7-1.4-3.8-1.2z" color="#ce813d"/><path d="M642.8 345.8l3.9 1.3 2.7-1.5-3.9-1.2z" color="#ca7e3d"/><path d="M560.7 317.2l3 .9 2.8-1.1-3-.9z" color="#b8efdf"/><path d="M563.7 318.1l3 1 2.9-1.1-3.1-1z" color="#c4f1e3"/><path d="M566.7 319.1l3.1 1 2.8-1.1-3-1z" color="#d2f4e7"/><path d="M569.8 320.1l3.1 1 2.8-1.2-3.1-.9z" color="#e3f6ea"/><path d="M572.9 321.1l3.1 1 2.8-1.2-3.1-1z" color="#f1f7ea"/><path d="M576 322.1l3.2 1 2.8-1.2-3.2-1z" color="#f3f4e2"/><path d="M579.2 323.1l3.2 1 2.8-1.2-3.2-1z" color="#f6f0d9"/><path d="M582.4 324.1l3.2 1.1 2.8-1.2-3.2-1.1z" color="#f7eacd"/><path d="M585.6 325.2l3.2 1 2.8-1.2-3.2-1z" color="#f5e0bc"/><path d="M588.8 326.2l3.3 1 2.8-1.2-3.3-1z" color="#f3d6ac"/><path d="M592.1 327.2l3.3 1.1 2.8-1.2-3.3-1.1z" color="#f1cc9b"/><path d="M595.4 328.3l3.4 1.1 2.7-1.3-3.3-1z" color="#f0c38c"/><path d="M598.8 329.4l3.3 1.1 2.8-1.3-3.4-1.1z" color="#efb97e"/><path d="M602.1 330.5l3.5 1.1 2.7-1.3-3.4-1.1z" color="#efb070"/><path d="M605.6 331.6l3.4 1.1 2.8-1.3-3.5-1.1z" color="#eea763"/><path d="M609 332.7l3.5 1.1 2.7-1.3-3.4-1.1z" color="#eda25a"/><path d="M612.5 333.8l3.5 1.1 2.7-1.3-3.5-1.1z" color="#ec9d53"/><path d="M616 334.9l3.6 1.2 2.7-1.4-3.6-1.1z" color="#ea994c"/><path d="M619.6 336.1l3.6 1.1 2.7-1.3-3.6-1.2z" color="#e99445"/><path d="M623.2 337.2l3.6 1.2 2.7-1.4-3.6-1.1z" color="#e69243"/><path d="M626.8 338.4l3.7 1.1 2.7-1.3-3.7-1.2z" color="#e48f42"/><path d="M630.5 339.5l3.7 1.2 2.7-1.4-3.7-1.1z" color="#e18d41"/><path d="M634.2 340.7l3.7 1.2 2.7-1.4-3.7-1.2z" color="#de8b40"/><path d="M637.9 341.9l3.8 1.3 2.7-1.5-3.8-1.2z" color="#db883f"/><path d="M641.7 343.2l3.8 1.2 2.7-1.5-3.8-1.2z" color="#d8863e"/><path d="M645.5 344.4l3.9 1.2 2.7-1.4-3.9-1.3z" color="#d4833d"/><path d="M563.5 316.1l3 .9 2.8-1.1-3-.9z" color="#a4ecd8"/><path d="M566.5 317l3.1 1 2.8-1.1-3.1-1z" color="#b1eedc"/><path d="M569.6 318l3 1 2.8-1.2-3-.9z" color="#bdf0e0"/><path d="M572.6 319l3.1 .9 2.8-1.1-3.1-1z" color="#caf2e5"/><path d="M575.7 319.9l3.1 1 2.8-1.1-3.1-1z" color="#d8f5e8"/><path d="M578.8 320.9l3.2 1 2.8-1.1-3.2-1z" color="#e8f7eb"/><path d="M582 321.9l3.2 1 2.7-1.1-3.1-1z" color="#f1f6e8"/><path d="M585.2 322.9l3.2 1.1 2.7-1.2-3.2-1z" color="#f4f3df"/><path d="M588.4 324l3.2 1 2.8-1.2-3.3-1z" color="#f7efd7"/><path d="M591.6 325l3.3 1 2.7-1.2-3.2-1z" color="#f7e8c9"/><path d="M594.9 326l3.3 1.1 2.7-1.3-3.3-1z" color="#f5deb9"/><path d="M598.2 327.1l3.3 1 2.8-1.2-3.4-1.1z" color="#f3d4a9"/><path d="M601.5 328.1l3.4 1.1 2.7-1.2-3.3-1.1z" color="#f1cb99"/><path d="M604.9 329.2l3.4 1.1 2.7-1.3-3.4-1z" color="#f0c28b"/><path d="M608.3 330.3l3.5 1.1 2.7-1.3-3.5-1.1z" color="#efb97d"/><path d="M611.8 331.4l3.4 1.1 2.7-1.3-3.4-1.1z" color="#efb070"/><path d="M615.2 332.5l3.5 1.1 2.7-1.3-3.5-1.1z" color="#eea863"/><path d="M618.7 333.6l3.6 1.1 2.7-1.3-3.6-1.1z" color="#eda25a"/><path d="M622.3 334.7l3.6 1.2 2.7-1.4-3.6-1.1z" color="#ec9e53"/><path d="M625.9 335.9l3.6 1.1 2.7-1.3-3.6-1.2z" color="#eb994d"/><path d="M629.5 337l3.7 1.2 2.6-1.4-3.6-1.1z" color="#e99546"/><path d="M633.2 338.2l3.7 1.1 2.6-1.3-3.7-1.2z" color="#e79243"/><path d="M636.9 339.3l3.7 1.2 2.6-1.4-3.7-1.1z" color="#e49042"/><path d="M640.6 340.5l3.8 1.2 2.6-1.4-3.8-1.2z" color="#e28e41"/><path d="M644.4 341.7l3.8 1.2 2.6-1.4-3.8-1.2z" color="#df8b40"/><path d="M648.2 342.9l3.9 1.3 2.6-1.5-3.9-1.2z" color="#dd893f"/><path d="M566.3 315l3 .9 2.8-1.1-3-.9z" color="#96e8d2"/><path d="M569.3 315.9l3.1 1 2.7-1.1-3-1z" color="#9eead5"/><path d="M572.4 316.9l3 .9 2.8-1.1-3.1-.9z" color="#a7ecd9"/><path d="M575.4 317.8l3.1 1 2.8-1.1-3.1-1z" color="#b3eedd"/><path d="M578.5 318.8l3.1 1 2.8-1.2-3.1-.9z" color="#bff1e1"/><path d="M581.6 319.8l3.2 1 2.7-1.2-3.1-1z" color="#cbf3e5"/><path d="M584.8 320.8l3.1 1 2.8-1.2-3.2-1z" color="#daf5e8"/><path d="M587.9 321.8l3.2 1 2.8-1.2-3.2-1z" color="#e9f7eb"/><path d="M591.1 322.8l3.3 1 2.7-1.2-3.2-1z" color="#f1f6e8"/><path d="M594.4 323.8l3.2 1 2.8-1.2-3.3-1z" color="#f4f3e0"/><path d="M597.6 324.8l3.3 1 2.8-1.2-3.3-1z" color="#f7efd8"/><path d="M600.9 325.8l3.4 1.1 2.7-1.2-3.3-1.1z" color="#f7e9cb"/><path d="M604.3 326.9l3.3 1.1 2.7-1.3-3.3-1z" color="#f5dfbc"/><path d="M607.6 328l3.4 1 2.7-1.2-3.4-1.1z" color="#f3d6ac"/><path d="M611 329l3.5 1.1 2.7-1.3-3.5-1z" color="#f1cd9d"/><path d="M614.5 330.1l3.4 1.1 2.7-1.3-3.4-1.1z" color="#f0c48e"/><path d="M617.9 331.2l3.5 1.1 2.7-1.3-3.5-1.1z" color="#efbc82"/><path d="M621.4 332.3l3.6 1.1 2.6-1.3-3.5-1.1z" color="#efb375"/><path d="M625 333.4l3.6 1.1 2.6-1.3-3.6-1.1z" color="#eeab68"/><path d="M628.6 334.5l3.6 1.2 2.6-1.4-3.6-1.1z" color="#eea45d"/><path d="M632.2 335.7l3.6 1.1 2.7-1.3-3.7-1.2z" color="#eca057"/><path d="M635.8 336.8l3.7 1.2 2.6-1.4-3.6-1.1z" color="#eb9c50"/><path d="M639.5 338l3.7 1.1 2.7-1.3-3.8-1.2z" color="#ea984a"/><path d="M643.2 339.1l3.8 1.2 2.6-1.3-3.7-1.2z" color="#e99444"/><path d="M647 340.3l3.8 1.2 2.6-1.4-3.8-1.1z" color="#e69243"/><path d="M650.8 341.5l3.9 1.2 2.5-1.4-3.8-1.2z" color="#e49042"/><path d="M569.1 313.9l3 .9 2.7-1.1-3-.9z" color="#85e4cb"/><path d="M572.1 314.8l3 1 2.8-1.1-3.1-1z" color="#8de6cf"/><path d="M575.1 315.8l3.1 .9 2.7-1.1-3-.9z" color="#95e8d2"/><path d="M578.2 316.7l3.1 1 2.7-1.1-3.1-1z" color="#9dead5"/><path d="M581.3 317.7l3.1 .9 2.7-1.1-3.1-.9z" color="#a6ecd8"/><path d="M584.4 318.6l3.1 1 2.7-1.1-3.1-1z" color="#b1eedc"/><path d="M587.5 319.6l3.2 1 2.7-1.1-3.2-1z" color="#bdf0e0"/><path d="M590.7 320.6l3.2 1 2.7-1.2-3.2-.9z" color="#c8f2e4"/><path d="M593.9 321.6l3.2 1 2.7-1.2-3.2-1z" color="#d6f4e8"/><path d="M597.1 322.6l3.3 1 2.6-1.2-3.2-1z" color="#e4f6ea"/><path d="M600.4 323.6l3.3 1 2.6-1.2-3.3-1z" color="#f1f7ea"/><path d="M603.7 324.6l3.3 1.1 2.7-1.2-3.4-1.1z" color="#f3f4e3"/><path d="M607 325.7l3.3 1 2.7-1.2-3.3-1z" color="#f6f1db"/><path d="M610.3 326.7l3.4 1.1 2.7-1.3-3.4-1z" color="#f8edd2"/><path d="M613.7 327.8l3.5 1 2.6-1.2-3.4-1.1z" color="#f6e4c3"/><path d="M617.2 328.8l3.4 1.1 2.7-1.2-3.5-1.1z" color="#f4dbb5"/><path d="M620.6 329.9l3.5 1.1 2.7-1.3-3.5-1z" color="#f3d3a6"/><path d="M624.1 331l3.5 1.1 2.7-1.3-3.5-1.1z" color="#f1ca98"/><path d="M627.6 332.1l3.6 1.1 2.6-1.3-3.5-1.1z" color="#f0c28b"/><path d="M631.2 333.2l3.6 1.1 2.6-1.3-3.6-1.1z" color="#efba7e"/><path d="M634.8 334.3l3.7 1.2 2.6-1.3-3.7-1.2z" color="#efb272"/><path d="M638.5 335.5l3.6 1.1 2.6-1.3-3.6-1.1z" color="#eeaa67"/><path d="M642.1 336.6l3.8 1.2 2.5-1.4-3.7-1.1z" color="#eea45d"/><path d="M645.9 337.8l3.7 1.2 2.6-1.4-3.8-1.2z" color="#eca057"/><path d="M649.6 339l3.8 1.1 2.6-1.3-3.8-1.2z" color="#eb9c51"/><path d="M653.4 340.1l3.8 1.2 2.6-1.4-3.8-1.1z" color="#ea984b"/><path d="M571.8 312.8l3 .9 2.7-1-2.9-.9z" color="#78dfc6"/><path d="M574.8 313.7l3.1 1 2.6-1.1-3-.9z" color="#7ce1c8"/><path d="M577.9 314.7l3 .9 2.7-1.1-3.1-.9z" color="#83e3ca"/><path d="M580.9 315.6l3.1 1 2.7-1.1-3.1-1z" color="#8be5ce"/><path d="M584 316.6l3.1 .9 2.7-1.1-3.1-.9z" color="#93e7d1"/><path d="M587.1 317.5l3.1 1 2.7-1.1-3.1-1z" color="#9ae9d4"/><path d="M590.2 318.5l3.2 1 2.6-1.2-3.1-.9z" color="#a2ebd7"/><path d="M593.4 319.5l3.2 .9 2.6-1.1-3.2-1z" color="#acedda"/><path d="M596.6 320.4l3.2 1 2.7-1.1-3.3-1z" color="#b7efde"/><path d="M599.8 321.4l3.2 1 2.7-1.1-3.2-1z" color="#c2f1e2"/><path d="M603 322.4l3.3 1 2.7-1.1-3.3-1z" color="#cdf3e6"/><path d="M606.3 323.4l3.4 1.1 2.6-1.2-3.3-1z" color="#dbf5e8"/><path d="M609.7 324.5l3.3 1 2.6-1.2-3.3-1z" color="#e9f7eb"/><path d="M613 325.5l3.4 1 2.6-1.2-3.4-1z" color="#f1f6e8"/><path d="M616.4 326.5l3.4 1.1 2.6-1.2-3.4-1.1z" color="#f4f3e1"/><path d="M619.8 327.6l3.5 1.1 2.6-1.3-3.5-1z" color="#f6f0da"/><path d="M623.3 328.7l3.5 1 2.6-1.2-3.5-1.1z" color="#f8ecd1"/><path d="M626.8 329.7l3.5 1.1 2.6-1.2-3.5-1.1z" color="#f6e4c3"/><path d="M630.3 330.8l3.5 1.1 2.6-1.3-3.5-1z" color="#f4dbb5"/><path d="M633.8 331.9l3.6 1.1 2.6-1.3-3.6-1.1z" color="#f3d3a7"/><path d="M637.4 333l3.7 1.2 2.5-1.3-3.6-1.2z" color="#f1cb99"/><path d="M641.1 334.2l3.6 1.1 2.6-1.3-3.7-1.1z" color="#f0c38d"/><path d="M644.7 335.3l3.7 1.1 2.6-1.3-3.7-1.1z" color="#efbc81"/><path d="M648.4 336.4l3.8 1.2 2.5-1.4-3.7-1.1z" color="#efb476"/><path d="M652.2 337.6l3.8 1.2 2.5-1.4-3.8-1.2z" color="#eead6b"/><path d="M656 338.8l3.8 1.1 2.5-1.3-3.8-1.2z" color="#eea660"/><path d="M574.6 311.8l2.9 .9 2.7-1.1-3-.9z" color="#6fd9c2"/><path d="M577.5 312.7l3 .9 2.7-1.1-3-.9z" color="#73dcc3"/><path d="M580.5 313.6l3.1 .9 2.7-1.1-3.1-.9z" color="#77dec5"/><path d="M583.6 314.5l3.1 1 2.6-1.1-3-1z" color="#7ae0c7"/><path d="M586.7 315.5l3.1 .9 2.6-1.1-3.1-.9z" color="#7ee2c8"/><path d="M589.8 316.4l3.1 1 2.6-1.2-3.1-.9z" color="#86e4cc"/><path d="M592.9 317.4l3.1 .9 2.7-1.1-3.2-1z" color="#8de6cf"/><path d="M596 318.3l3.2 1 2.7-1.1-3.2-1z" color="#95e8d2"/><path d="M599.2 319.3l3.3 1 2.6-1.2-3.2-.9z" color="#9cead4"/><path d="M602.5 320.3l3.2 1 2.6-1.2-3.2-1z" color="#a3ecd7"/><path d="M605.7 321.3l3.3 1 2.6-1.2-3.3-1z" color="#adeddb"/><path d="M609 322.3l3.3 1 2.6-1.2-3.3-1z" color="#b8efdf"/><path d="M612.3 323.3l3.3 1 2.6-1.2-3.3-1z" color="#c3f1e2"/><path d="M615.6 324.3l3.4 1 2.6-1.2-3.4-1z" color="#cdf3e6"/><path d="M619 325.3l3.4 1.1 2.6-1.2-3.4-1.1z" color="#daf5e8"/><path d="M622.4 326.4l3.5 1 2.6-1.2-3.5-1z" color="#e7f7eb"/><path d="M625.9 327.4l3.5 1.1 2.5-1.2-3.4-1.1z" color="#f1f7ea"/><path d="M629.4 328.5l3.5 1.1 2.5-1.3-3.5-1z" color="#f3f4e3"/><path d="M632.9 329.6l3.5 1 2.6-1.2-3.6-1.1z" color="#f5f1dc"/><path d="M636.4 330.6l3.6 1.1 2.6-1.2-3.6-1.1z" color="#f8eed5"/><path d="M640 331.7l3.6 1.2 2.6-1.3-3.6-1.1z" color="#f7e7c8"/><path d="M643.6 332.9l3.7 1.1 2.5-1.3-3.6-1.1z" color="#f5dfbb"/><path d="M647.3 334l3.7 1.1 2.5-1.3-3.7-1.1z" color="#f4d8ae"/><path d="M651 335.1l3.7 1.1 2.5-1.3-3.7-1.1z" color="#f2d0a2"/><path d="M654.7 336.2l3.8 1.2 2.5-1.4-3.8-1.1z" color="#f0c895"/><path d="M658.5 337.4l3.8 1.2 2.5-1.4-3.8-1.2z" color="#f0c18a"/><path d="M577.2 310.7l3 .9 2.7-1-3-.9z" color="#66d3bd"/><path d="M580.2 311.6l3 .9 2.7-1-3-.9z" color="#69d5bf"/><path d="M583.2 312.5l3.1 .9 2.6-1-3-.9z" color="#6dd8c1"/><path d="M586.3 313.4l3 1 2.6-1.1-3-.9z" color="#70dac2"/><path d="M589.3 314.4l3.1 .9 2.6-1.1-3.1-.9z" color="#74dcc4"/><path d="M592.4 315.3l3.1 .9 2.7-1.1-3.2-.9z" color="#77dec5"/><path d="M595.5 316.2l3.2 1 2.6-1.1-3.1-1z" color="#7ae0c7"/><path d="M598.7 317.2l3.2 1 2.6-1.2-3.2-.9z" color="#7ee2c9"/><path d="M601.9 318.2l3.2 .9 2.6-1.1-3.2-1z" color="#86e4cb"/><path d="M605.1 319.1l3.2 1 2.6-1.1-3.2-1z" color="#8de6ce"/><path d="M608.3 320.1l3.3 1 2.6-1.1-3.3-1z" color="#94e8d1"/><path d="M611.6 321.1l3.3 1 2.6-1.2-3.3-.9z" color="#9be9d4"/><path d="M614.9 322.1l3.3 1 2.6-1.2-3.3-1z" color="#a2ebd7"/><path d="M618.2 323.1l3.4 1 2.6-1.2-3.4-1z" color="#aaedda"/><path d="M621.6 324.1l3.4 1.1 2.6-1.2-3.4-1.1z" color="#b4efdd"/><path d="M625 325.2l3.5 1 2.5-1.2-3.4-1z" color="#bef0e1"/><path d="M628.5 326.2l3.4 1.1 2.6-1.3-3.5-1z" color="#c8f2e4"/><path d="M631.9 327.3l3.5 1 2.6-1.2-3.5-1.1z" color="#d3f4e7"/><path d="M635.4 328.3l3.6 1.1 2.5-1.3-3.5-1z" color="#dff6e9"/><path d="M639 329.4l3.6 1.1 2.5-1.3-3.6-1.1z" color="#ecf7eb"/><path d="M642.6 330.5l3.6 1.1 2.5-1.3-3.6-1.1z" color="#f1f6e8"/><path d="M646.2 331.6l3.6 1.1 2.5-1.3-3.6-1.1z" color="#f4f4e1"/><path d="M649.8 332.7l3.7 1.1 2.5-1.3-3.7-1.1z" color="#f6f1db"/><path d="M653.5 333.8l3.7 1.1 2.5-1.3-3.7-1.1z" color="#f8eed5"/><path d="M657.2 334.9l3.8 1.1 2.5-1.3-3.8-1.1z" color="#f7e7c9"/><path d="M661 336l3.8 1.2 2.4-1.3-3.7-1.2z" color="#f5e0bd"/><path d="M579.9 309.7l3 .9 2.6-1.1-3-.9z" color="#5ecfb6"/><path d="M582.9 310.6l3 .9 2.6-1.1-3-.9z" color="#61d0b9"/><path d="M585.9 311.5l3 .9 2.6-1.1-3-.9z" color="#63d2bb"/><path d="M588.9 312.4l3 .9 2.6-1.1-3-.9z" color="#66d3bd"/><path d="M591.9 313.3l3.1 .9 2.6-1.1-3.1-.9z" color="#69d5bf"/><path d="M595 314.2l3.2 .9 2.5-1-3.1-1z" color="#6cd7c0"/><path d="M598.2 315.1l3.1 1 2.6-1.1-3.2-.9z" color="#6fd9c2"/><path d="M601.3 316.1l3.2 .9 2.6-1.1-3.2-.9z" color="#73dbc3"/><path d="M604.5 317l3.2 1 2.6-1.1-3.2-1z" color="#76ddc5"/><path d="M607.7 318l3.2 1 2.6-1.2-3.2-.9z" color="#79e0c6"/><path d="M610.9 319l3.3 1 2.5-1.2-3.2-1z" color="#7ce2c8"/><path d="M614.2 320l3.3 .9 2.5-1.1-3.3-1z" color="#82e3ca"/><path d="M617.5 320.9l3.3 1 2.6-1.1-3.4-1z" color="#89e5cd"/><path d="M620.8 321.9l3.4 1 2.5-1.1-3.3-1z" color="#90e7cf"/><path d="M624.2 322.9l3.4 1.1 2.5-1.2-3.4-1z" color="#96e8d2"/><path d="M627.6 324l3.4 1 2.5-1.2-3.4-1z" color="#9dead5"/><path d="M631 325l3.5 1 2.5-1.2-3.5-1z" color="#a3ecd7"/><path d="M634.5 326l3.5 1.1 2.5-1.2-3.5-1.1z" color="#acedda"/><path d="M638 327.1l3.5 1 2.5-1.2-3.5-1z" color="#b5efde"/><path d="M641.5 328.1l3.6 1.1 2.5-1.2-3.6-1.1z" color="#bef0e1"/><path d="M645.1 329.2l3.6 1.1 2.4-1.3-3.5-1z" color="#c7f2e4"/><path d="M648.7 330.3l3.6 1.1 2.5-1.3-3.7-1.1z" color="#d1f4e7"/><path d="M652.3 331.4l3.7 1.1 2.4-1.3-3.6-1.1z" color="#ddf5e9"/><path d="M656 332.5l3.7 1.1 2.4-1.3-3.7-1.1z" color="#e8f7eb"/><path d="M659.7 333.6l3.8 1.1 2.4-1.3-3.8-1.1z" color="#f1f7ea"/><path d="M663.5 334.7l3.7 1.2 2.5-1.4-3.8-1.1z" color="#f3f5e4"/><path d="M582.5 308.6l3 .9 2.6-1-3-.9z" color="#55caaf"/><path d="M585.5 309.5l3 .9 2.5-1-2.9-.9z" color="#58ccb1"/><path d="M588.5 310.4l3 .9 2.6-1-3.1-.9z" color="#5bcdb4"/><path d="M591.5 311.3l3 .9 2.6-1-3-.9z" color="#5dceb6"/><path d="M594.5 312.2l3.1 .9 2.6-1-3.1-.9z" color="#60d0b8"/><path d="M597.6 313.1l3.1 1 2.6-1.1-3.1-.9z" color="#62d1ba"/><path d="M600.7 314.1l3.2 .9 2.5-1.1-3.1-.9z" color="#65d3bc"/><path d="M603.9 315l3.2 .9 2.5-1.1-3.2-.9z" color="#67d4be"/><path d="M607.1 315.9l3.2 1 2.5-1.1-3.2-1z" color="#6ad6bf"/><path d="M610.3 316.9l3.2 .9 2.5-1.1-3.2-.9z" color="#6dd8c1"/><path d="M613.5 317.8l3.2 1 2.6-1.1-3.3-1z" color="#70dac2"/><path d="M616.7 318.8l3.3 1 2.6-1.1-3.3-1z" color="#73dcc4"/><path d="M620 319.8l3.4 1 2.5-1.2-3.3-.9z" color="#76dec5"/><path d="M623.4 320.8l3.3 1 2.5-1.2-3.3-1z" color="#79e0c6"/><path d="M626.7 321.8l3.4 1 2.5-1.2-3.4-1z" color="#7ce2c8"/><path d="M630.1 322.8l3.4 1 2.5-1.2-3.4-1z" color="#82e3ca"/><path d="M633.5 323.8l3.5 1 2.5-1.2-3.5-1z" color="#88e5cd"/><path d="M637 324.8l3.5 1.1 2.4-1.2-3.4-1.1z" color="#8fe6cf"/><path d="M640.5 325.9l3.5 1 2.5-1.2-3.6-1z" color="#95e8d1"/><path d="M644 326.9l3.6 1.1 2.4-1.3-3.5-1z" color="#9be9d4"/><path d="M647.6 328l3.5 1 2.5-1.2-3.6-1.1z" color="#a1ebd6"/><path d="M651.1 329l3.7 1.1 2.4-1.2-3.6-1.1z" color="#a7ecd9"/><path d="M654.8 330.1l3.6 1.1 2.5-1.3-3.7-1z" color="#b0eedc"/><path d="M658.4 331.2l3.7 1.1 2.5-1.3-3.7-1.1z" color="#b8efdf"/><path d="M662.1 332.3l3.8 1.1 2.4-1.3-3.7-1.1z" color="#c1f1e2"/><path d="M665.9 333.4l3.8 1.1 2.4-1.3-3.8-1.1z" color="#c9f2e4"/><path d="M585.1 307.6l3 .9 2.5-1-3-.9z" color="#4cc1a6"/><path d="M588.1 308.5l2.9 .9 2.6-1-3-.9z" color="#4fc3a9"/><path d="M591 309.4l3.1 .9 2.5-1.1-3-.8z" color="#51c6ab"/><path d="M594.1 310.3l3 .9 2.6-1.1-3.1-.9z" color="#54c9ae"/><path d="M597.1 311.2l3.1 .9 2.5-1.1-3-.9z" color="#56cbb0"/><path d="M600.2 312.1l3.1 .9 2.5-1.1-3.1-.9z" color="#59ccb2"/><path d="M603.3 313l3.1 .9 2.6-1.1-3.2-.9z" color="#5bcdb4"/><path d="M606.4 313.9l3.2 .9 2.5-1-3.1-1z" color="#5ecfb6"/><path d="M609.6 314.8l3.2 1 2.5-1.1-3.2-.9z" color="#60d0b8"/><path d="M612.8 315.8l3.2 .9 2.5-1.1-3.2-.9z" color="#62d1ba"/><path d="M616 316.7l3.3 1 2.5-1.1-3.3-1z" color="#65d3bc"/><path d="M619.3 317.7l3.3 1 2.4-1.2-3.2-.9z" color="#67d4be"/><path d="M622.6 318.7l3.3 .9 2.5-1.1-3.4-1z" color="#6ad6bf"/><path d="M625.9 319.6l3.3 1 2.5-1.1-3.3-1z" color="#6dd8c1"/><path d="M629.2 320.6l3.4 1 2.5-1.1-3.4-1z" color="#70d9c2"/><path d="M632.6 321.6l3.4 1 2.5-1.2-3.4-.9z" color="#72dbc3"/><path d="M636 322.6l3.5 1 2.4-1.1-3.4-1.1z" color="#75ddc4"/><path d="M639.5 323.6l3.4 1.1 2.5-1.2-3.5-1z" color="#78dfc6"/><path d="M642.9 324.7l3.6 1 2.4-1.2-3.5-1z" color="#7be1c7"/><path d="M646.5 325.7l3.5 1 2.4-1.2-3.5-1z" color="#7ee2c8"/><path d="M650 326.7l3.6 1.1 2.4-1.2-3.6-1.1z" color="#84e4cb"/><path d="M653.6 327.8l3.6 1.1 2.4-1.3-3.6-1z" color="#89e5cd"/><path d="M657.2 328.9l3.7 1 2.4-1.2-3.7-1.1z" color="#8fe6cf"/><path d="M660.9 329.9l3.7 1.1 2.3-1.3-3.6-1z" color="#95e8d1"/><path d="M664.6 331l3.7 1.1 2.4-1.3-3.8-1.1z" color="#9ae9d4"/><path d="M668.3 332.1l3.8 1.1 2.3-1.3-3.7-1.1z" color="#9febd6"/></g><path d="M516.6 336.8l-.1-.1M516.5 336.7l0-.2M517.6 338.8l-.4-.9M517.2 337.9l-.6-1.1M518 339.7l-.2-.6M517.8 339.1l-.2-.3M531.5 343.1l-.3-.5M531.2 342.6l-.4-.7M532.7 345.2l-.7-1.3M532 343.9l-.5-.8M532.8 345.4l-.1-.1M532.7 345.3l0-.1M547.7 349.5l-.4-.6M547.3 348.9l-.6-1M549.1 351.6l-.9-1.3M548.2 350.3l-.5-.8M565.5 356.1l-.5-.6M565 355.5l-.7-1M567.1 358.4l-1-1.4M566.1 357l-.6-.9M567.2 358.5l0 0M567.2 358.5l-.1-.1M584.8 362.8l-.2-.3M584.6 362.5l-.4-.5M586.8 365.2l-1-1.2M585.8 364l-1-1.2M587.7 366.4l-.6-.8M587.1 365.6l-.3-.4M516.5 336.5l-.4-1.1M516.1 335.4l-.2-.7M529.5 338.8l0 0M529.5 338.8l0-.1M530.4 341l-.3-.9M530.1 340.1l-.6-1.3M530.8 341.9l-.2-.6M530.6 341.3l-.2-.3M545.3 345.1l-.1-.2M545.2 344.9l-.2-.4M546.4 347.3l-.6-1.1M545.8 346.2l-.5-1.1M546.7 347.9l-.2-.4M546.5 347.5l-.1-.2M562.5 351.5l-.1-.3M562.4 351.2l-.2-.3M563.9 353.8l-.7-1.1M563.2 352.7l-.7-1.2M564.3 354.5l-.2-.4M564.1 354.1l-.2-.3M583 360.3l-.6-.8M582.4 359.5l-.9-1.4M584.2 362l-.7-1M583.5 361l-.5-.7M603.9 366.8l-.1-.2M603.8 366.6l-.3-.3M605.9 369.4l-.9-1.2M605 368.2l-1.1-1.4M529 336.6l-.1-.3M528.9 336.3l-.1-.5M529.5 338.7l-.3-1.2M529.2 337.5l-.2-.9M544.4 342.8l-.2-.6M544.2 342.2l-.2-.7M545 344.5l-.3-1M544.7 343.5l-.3-.7M561.4 349.1l-.2-.6M561.2 348.5l-.4-.8M562.2 350.9l-.4-1.1M561.8 349.8l-.4-.7M580.1 355.3l-.1-.3M580 355l-.2-.3M581.4 357.9l-.7-1.4M580.7 356.5l-.6-1.2M581.5 358.1l-.1-.1M581.4 358l0-.1M602.2 364.1l-.4-.6M601.8 363.5l-.5-.9M603.5 366.3l-.7-1.2M602.8 365.1l-.6-1M528.7 334.3l-.1-.5M528.6 333.8l0-.6M528.8 335.8l-.1-.8M528.7 335l0-.7M543.8 340.5l-.1-.9M543.7 339.6l-.1-.9M544 341.5l-.1-.6M543.9 340.9l-.1-.4M560.6 346.6l-.2-.9M560.4 345.7l-.2-.9M560.8 347.7l-.1-.6M560.7 347.1l-.1-.5M579.1 352.7l-.1-.6M579 352.1l-.2-.6M579.8 354.7l-.4-1.1M579.4 353.6l-.3-.9M600.8 361.4l-.4-1M600.4 360.4l-.5-1.2M601.3 362.6l-.3-.7M601 361.9l-.2-.5M528.8 331.9l.1-.5M528.9 331.4l.1-.5M528.6 333.2l.1-.6M528.7 332.6l.1-.7M543.6 338l.1-.9M543.7 337.1l.1-.9M543.6 338.7l0-.3M543.6 338.4l0-.4M560.2 344l0-1M560.2 343l0-.8M560.2 344.8l0-.4M560.2 344.4l0-.4M578.7 349.8l-.1-.5M578.6 349.3l0-.5M578.8 351.5l-.1-.8M578.7 350.7l0-.9M599.8 358.5l-.2-1.1M599.6 357.4l-.2-1.1M599.9 359.2l-.1-.3M599.8 358.9l0-.4M529 330.9l.3-.7M529.3 330.2l.3-.9M544.1 335.3l.3-.7M544.4 334.6l.2-.6M543.8 336.2l.1-.4M543.9 335.8l.2-.5M560.5 341.1l.2-.7M560.7 340.4l.2-.5M560.2 342.2l.1-.5M560.3 341.7l.2-.6M579 346.7l.1-.2M579.1 346.5l0-.1M578.6 348.8l.2-.9M578.8 347.9l.2-1.2M599.6 355.2l.1-.8M599.7 354.4l.1-.7M599.4 356.3l.1-.4M599.5 355.9l.1-.7M545.9 332.1l0 0M545.9 332.1l0 0M544.6 334l.5-.7M545.1 333.3l.8-1.2M560.9 339.9l.5-.8M561.4 339.1l.8-1.3M579.1 346.4l.8-1.3M579.9 345.1l.5-.9M599.8 353.7l.5-.8M600.3 352.9l.7-1.4M545.9 332.1l1.4-1.2M547.3 330.9l.6-.5M562.3 337.7l1.4-1.2M563.7 336.5l.4-.4M562.2 337.8l0 0M562.2 337.8l.1-.1M580.4 344.2l.5-.5M580.9 343.7l1.5-1.3M601.5 351l1.2-1.1M602.7 349.9l.4-.3M601 351.5l.1-.1M601.1 351.4l.4-.4M547.9 330.4l1.2-.8M549.1 329.6l1.2-.7M564.1 336.1l1.5-.9M565.6 335.2l1.1-.6M583.5 341.7l1.4-.7M584.9 341l.2-.1M582.4 342.4l.1 0M582.5 342.4l1-.7M603.1 349.6l2.2-1.2M605.3 348.4l.6-.3M550.3 328.9l1.3-.5M551.6 328.4l1.8-.7M566.7 334.6l1.8-.7M568.5 333.9l1.4-.6M585.1 340.9l1.6-.6M588.5 339.6l-1.8 .7M605.9 348.1l3.6-1.2M609.5 346.9l.1 0M553.4 327.7l1.9-.6M555.3 327.1l1.8-.5M569.9 333.3l3.1-.8M573 332.5l.8-.2M588.5 339.6l.4-.1M588.9 339.5l3.8-.8M609.6 346.9l.4-.1M614.3 346l-4.3 .8M557.1 326.6l4.1-.7M561.3 325.9l-.1 0M573.8 332.3l1.5-.2M578.4 331.6l-3.1 .5M592.7 338.7l4.9-.7M597.7 338l-.1 0M614.3 346l4.4-.5M619.9 345.4l-1.2 .1M561.3 325.9l.3-.1M561.6 325.8l4.7-.5M578.4 331.6l4.9-.5M583.8 331.1l-.5 0M597.7 338l.9 0M598.6 338l5-.4M619.9 345.4l5.5-.2M626.5 345.2l-1.1 0M555.9 319.7l-2.1 .2M566.3 325.3l2.3-.1M571.9 325l-3.3 .2M583.8 331.1l5.8-.2M590 330.9l-.4 0M603.6 337.6l.8 0M610.4 337.6l-.7 0M609.7 337.6l-5.3 0M610.5 337.6l-.1 0M626.5 345.2l4.9 .1M634.3 345.4l-2.9-.1M555.9 319.7l4.1-.1M561.8 319.6l-1.8 0M571.9 325l2.8 0M578.3 324.9l-3.6 .1M590 330.9l5.3 .1M597 331l-1.7 0M610.5 337.6l5.4 .2M618.5 337.9l-2.6-.1M634.3 345.4l2.8 .2M642.6 346l-1.4-.1M641.2 345.9l-4.1-.3M643.5 346l-.9 0M561.8 319.6l3.7 0M568.4 319.6l-2.9 0M578.3 324.9l2 .1M585.6 325.2l-.1 0M585.5 325.2l-5.2-.2M585.6 325.2l0 0M597 331l3.6 .2M605.1 331.4l-4.5-.2M618.5 337.9l2.8 .2M626.4 338.5l-1.5-.1M624.9 338.4l-3.6-.3M627.6 338.6l-1.2-.1M643.5 346l4.3 .5M568.4 319.6l2.3 .1M575.7 320l-.4-.1M575.3 319.9l-4.6-.2M575.8 320l-.1 0M585.6 325.2l4.9 .3M593.8 325.7l-3.3-.2M605.1 331.4l.7 .1M610.7 331.9l-4.2-.4M606.5 331.5l-.7 0M614.4 332.2l-3.7-.3M627.6 338.6l3.9 .4M636.4 339.6l-1.6-.2M634.8 339.4l-3.3-.4M638.3 339.8l-1.9-.2M567.4 315.3l-1.7-.1M575.8 320l4.6 .3M584.2 320.6l-3.8-.3M593.8 325.7l1.6 .1M600.1 326.2l-3.1-.2M597 326l-1.6-.2M603.1 326.5l-3-.3M614.4 332.2l1.2 .1M620.3 332.9l-3.8-.5M616.5 332.4l-.9-.1M624.9 333.4l-4.6-.5M638.3 339.8l3 .4M646.1 340.8l-2.9-.3M643.2 340.5l-1.9-.3M650.7 341.5l-4.6-.7M567.4 315.3l2.9 .2M574.7 315.9l-1.3-.1M573.4 315.8l-3.1-.3M575.9 316l-1.2-.1M584.2 320.6l.8 .1M589.5 321.1l-3.7-.4M585.8 320.7l-.8 0M593.6 321.5l-4.1-.4M603.1 326.5l1.6 .2M609.2 327.2l-3.3-.4M605.9 326.8l-1.2-.1M613.7 327.8l0 0M613.7 327.8l-4.5-.6M613.7 327.8l0 0M624.9 333.4l.1 0M629.6 334l-4.6-.6M625 333.4l0 0M634.2 334.7l-1.8-.3M632.4 334.4l-2.8-.4M637.2 335.1l-3-.4M650.7 341.5l.2 0M655.6 342.2l-4.6-.7M651 341.5l-.1 0M575.9 316l3.2 .3M583.4 316.8l-1.7-.2M581.7 316.6l-2.6-.3M585.5 317l-2.1-.2M593.6 321.5l.4 .1M598.3 322.1l-4.1-.5M594.2 321.6l-.2 0M602.7 322.6l-1.1-.1M601.6 322.5l-3.3-.4M604.3 322.8l-1.6-.2M613.7 327.8l4.4 .6M622.6 329l-1.9-.3M620.7 328.7l-2.6-.3M625.9 329.5l-3.3-.5M637.2 335.1l1.6 .2M643.3 336l-3.8-.6M639.5 335.4l-.7-.1M647.8 336.8l-1.6-.3M646.2 336.5l-2.9-.5M651.4 337.4l-3.6-.6M577.2 312.8l-1.1-.1M576.1 312.7l-3.1-.3M578.6 313l-1.4-.2M585.5 317l2.1 .3M591.8 317.8l-2.8-.3M589 317.5l-1.4-.2M596 318.3l-.1 0M595.9 318.3l-4.1-.5M596.2 318.4l-.2-.1M604.3 322.8l2.6 .4M611.2 323.8l-2.8-.4M608.4 323.4l-1.5-.2M615.4 324.4l-.5-.1M614.9 324.3l-3.7-.5M616.4 324.5l-1-.1M625.9 329.5l1.1 .1M631.3 330.3l-3.8-.6M627.5 329.7l-.5-.1M635.7 331l-1.9-.3M633.8 330.7l-2.5-.4M640 331.7l-4.3-.7M651.4 337.4l.9 .1M656.8 338.3l-4.1-.7M652.7 337.6l-.4-.1M661.3 339.1l-2.5-.4M658.8 338.7l-2-.4M578.6 313l2.6 .3M585.3 313.8l-2.5-.3M582.8 313.5l-1.6-.2M589.3 314.4l-.1 0M589.2 314.4l-3.9-.6M589.4 314.4l-.1 0M596.2 318.4l3.9 .5M604.2 319.5l-2.1-.3M602.1 319.2l-2-.3M608.3 320.1l-.1 0M608.2 320.1l-4-.6M608.4 320.1l-.1 0M616.4 324.5l3.2 .5M623.8 325.7l-2.7-.4M621.1 325.3l-1.5-.3M628 326.4l-.9-.2M627.1 326.2l-3.3-.5M630.4 326.8l-2.4-.4M640 331.7l0 0M644.3 332.5l-4.3-.8M640 331.7l0 0M648.7 333.3l-2.8-.5M645.9 332.8l-1.6-.3M653 334l-1.2-.2M651.8 333.8l-3.1-.5M656.5 334.7l-3.5-.7M582.6 310.7l-.6-.1M582 310.6l-3.3-.5M583.7 310.8l-1.1-.1M589.4 314.4l3.9 .5M597.2 315.5l-2.1-.3M595.1 315.2l-1.8-.3M601.2 316.1l-.2 0M601 316.1l-3.8-.6M601.7 316.2l-.5-.1M608.4 320.1l4 .7M616.4 321.4l-2.4-.4M614 321l-1.6-.2M620.5 322.1l-.8-.1M619.7 322l-3.3-.6M622.4 322.4l-1.9-.3M630.4 326.8l1.8 .3M636.4 327.8l-3.5-.6M632.9 327.2l-.7-.1M640.6 328.6l-2.1-.4M638.5 328.2l-2.1-.4M644.8 329.3l-.7-.1M644.1 329.2l-3.5-.6M646.7 329.7l-1.9-.4M656.5 334.7l.8 .1M661.7 335.7l-4.1-.8M657.6 334.9l-.3-.1M666 336.5l-2.8-.5M663.2 336l-1.5-.3M583.7 310.8l2.8 .4M590.3 311.8l-2.5-.4M587.8 311.4l-1.3-.2M594.2 312.4l-.9-.1M593.3 312.3l-3-.5M596.1 312.7l-1.9-.3M601.7 316.2l3.4 .6M609.1 317.4l-2.6-.4M606.5 317l-1.4-.2M613 318.1l-1-.2M612 317.9l-2.9-.5M615.7 318.5l-2.7-.4M622.4 322.4l2.1 .4M628.6 323.5l-3.3-.6M625.3 322.9l-.8-.1M632.6 324.2l-1.9-.3M630.7 323.9l-2.1-.4M636.7 325l-.6-.2M636.1 324.8l-3.5-.6M638.7 325.3l-2-.3M646.7 329.7l2.3 .4M653.2 330.9l-3.6-.6M649.6 330.3l-.6-.2M657.4 331.8l-2.4-.5M655 331.3l-1.8-.4M661.6 332.6l-1.2-.3M660.4 332.3l-3-.5M665.9 333.4l-.1 0M665.8 333.4l-4.2-.8M666.2 333.5l-.3-.1M587.2 308.8l-1.7-.2M585.5 308.6l-2-.3M591 309.4l-.2 0M590.8 309.4l-3.6-.6M591.4 309.5l-.4-.1M596.1 312.7l1.9 .3M601.8 313.6l-3.1-.5M598.7 313.1l-.7-.1M605.6 314.3l-1.6-.3M604 314l-2.2-.4M609.5 314.9l-.3 0M609.2 314.9l-3.6-.6M610.2 315l-.7-.1M615.7 318.5l1.2 .2M620.9 319.4l-3.6-.6M617.3 318.8l-.4-.1M624.8 320.1l-2.3-.4M622.5 319.7l-1.6-.3M628.7 320.8l-1-.1M627.7 320.7l-2.9-.6M632 321.4l-3.3-.6M638.7 325.3l2.1 .4M644.8 326.5l-3.5-.7M641.3 325.8l-.5-.1M648.9 327.3l-2.4-.5M646.5 326.8l-1.7-.3M653 328.1l-1.3-.3M651.7 327.8l-2.8-.5M657.1 328.9l-.2 0M656.9 328.9l-3.9-.8M658 329.1l-.9-.2M666.2 333.5l3.9 .8M591.4 309.5l3.3 .5M598.4 310.7l-2.6-.5M595.8 310.2l-1.1-.2M602.1 311.3l-1.2-.2M600.9 311.1l-2.5-.4M605.8 311.9l-3.7-.6M610.2 315l3.1 .6M617.1 316.3l-2.9-.6M614.2 315.7l-.9-.1M620.9 316.9l-1.7-.3M619.2 316.6l-2.1-.3M624.8 317.7l-.6-.1M624.2 317.6l-3.3-.7M626.6 318l-1.8-.3M632 321.4l.7 .2M636.6 322.3l-3.7-.7M632.9 321.6l-.2 0M640.6 323.1l-2.7-.5M637.9 322.6l-1.3-.3M644.6 323.9l-1.7-.4M642.9 323.5l-2.3-.4M648.6 324.6l-.7-.1M647.9 324.5l-3.3-.6M651.3 325.2l-2.7-.6M658 329.1l3.2 .6M665.4 330.6l-3.4-.7M662 329.9l-.8-.2M669.5 331.5l-2.5-.6M667 330.9l-1.6-.3M673.7 332.3l-1.6-.3M672.1 332l-2.6-.5" class="cl"/><path d="M510.5 336.8L587.6 306.6L674.4 331.9" class="fb"/><path d="M510.5 336.8L601.7 371.7L674.4 331.9" class="fe"/><g class="s"><path d="M585.7 289.3l2.2-.4 2 2.8-2.3 .3z" color="#31ad8d"/><path d="M587.9 288.9l2.4-.3 1.9 2.8-2.3 .3z" color="#32af90"/><path d="M583.7 286.7l2.2-.4 2 2.6-2.2 .4z" color="#37b696"/><path d="M590.3 288.6l2.3-.3 1.9 2.8-2.3 .3z" color="#34b292"/><path d="M585.9 286.3l2.4-.4 2 2.7-2.4 .3z" color="#39b998"/><path d="M592.6 288.3l2.3-.4 2 2.9-2.4 .3z" color="#36b494"/><path d="M581.6 284.2l2.3-.4 2 2.5-2.2 .4z" color="#3dbd9d"/><path d="M588.3 285.9l2.3-.3 2 2.7-2.3 .3z" color="#3bbb9a"/><path d="M594.9 287.9l2.4-.3 1.9 2.9-2.3 .3z" color="#38b796"/><path d="M583.9 283.8l2.3-.4 2.1 2.5-2.4 .4z" color="#3fbe9f"/><path d="M590.6 285.6l2.3-.4 2 2.7-2.3 .4z" color="#3cbc9c"/><path d="M579.6 281.8l2.3-.4 2 2.4-2.3 .4z" color="#43c1a3"/><path d="M597.3 287.6l2.4-.3 1.9 2.9-2.4 .3z" color="#39b999"/><path d="M586.2 283.4l2.4-.4 2 2.6-2.3 .3z" color="#41bfa1"/><path d="M592.9 285.2l2.4-.3 2 2.7-2.4 .3z" color="#3ebd9e"/><path d="M581.9 281.4l2.3-.4 2 2.4-2.3 .4z" color="#45c3a5"/><path d="M599.7 287.3l2.4-.3 1.9 2.9-2.4 .3z" color="#3bbb9b"/><path d="M577.5 279.6l2.3-.4 2.1 2.2-2.3 .4z" color="#49c5a9"/><path d="M588.6 283l2.3-.3 2 2.5-2.3 .4z" color="#43c1a3"/><path d="M595.3 284.9l2.4-.3 2 2.7-2.4 .3z" color="#40bfa0"/><path d="M584.2 281l2.3-.4 2.1 2.4-2.4 .4z" color="#47c4a7"/><path d="M602.1 287l2.4-.3 1.9 2.9-2.4 .3z" color="#3dbc9d"/><path d="M579.8 279.2l2.3-.4 2.1 2.2-2.3 .4z" color="#4bc7ac"/><path d="M590.9 282.7l2.4-.4 2 2.6-2.4 .3z" color="#45c2a5"/><path d="M575.4 277.6l2.3-.5 2.1 2.1-2.3 .4z" color="#50cbae"/><path d="M597.7 284.6l2.4-.4 2 2.8-2.4 .3z" color="#42c0a2"/><path d="M586.5 280.6l2.4-.4 2 2.5-2.3 .3z" color="#49c5a9"/><path d="M604.5 286.7l2.4-.3 2 2.9-2.5 .3z" color="#3fbe9e"/><path d="M582.1 278.8l2.4-.4 2 2.2-2.3 .4z" color="#4ec9ad"/><path d="M593.3 282.3l2.4-.4 2 2.7-2.4 .3z" color="#47c4a7"/><path d="M577.7 277.1l2.4-.4 2 2.1-2.3 .4z" color="#53cdb0"/><path d="M600.1 284.2l2.4-.3 2 2.8-2.4 .3z" color="#44c1a4"/><path d="M588.9 280.2l2.4-.3 2 2.4-2.4 .4z" color="#4bc7ab"/><path d="M573.3 275.7l2.3-.5 2.1 1.9-2.3 .5z" color="#57d1b2"/><path d="M606.9 286.4l2.5-.3 1.9 3-2.4 .2z" color="#40bfa0"/><path d="M584.5 278.4l2.4-.4 2 2.2-2.4 .4z" color="#51cbaf"/><path d="M595.7 281.9l2.4-.3 2 2.6-2.4 .4z" color="#48c5a9"/><path d="M580.1 276.7l2.3-.4 2.1 2.1-2.4 .4z" color="#56cfb1"/><path d="M602.5 283.9l2.5-.3 1.9 2.8-2.4 .3z" color="#45c3a6"/><path d="M591.3 279.9l2.4-.4 2 2.4-2.4 .4z" color="#4ec9ad"/><path d="M575.6 275.2l2.3-.4 2.2 1.9-2.4 .4z" color="#5ad3b4"/><path d="M609.4 286.1l2.5-.3 1.9 3-2.5 .3z" color="#42c0a2"/><path d="M586.9 278l2.3-.4 2.1 2.3-2.4 .3z" color="#53cdb0"/><path d="M598.1 281.6l2.5-.4 1.9 2.7-2.4 .3z" color="#4ac6ab"/><path d="M571.1 273.9l2.4-.4 2.1 1.7-2.3 .5z" color="#5ed6b6"/><path d="M582.4 276.3l2.4-.5 2.1 2.2-2.4 .4z" color="#58d2b3"/><path d="M605 283.6l2.5-.3 1.9 2.8-2.5 .3z" color="#47c4a8"/><path d="M593.7 279.5l2.4-.4 2 2.5-2.4 .3z" color="#50cbae"/><path d="M577.9 274.8l2.4-.5 2.1 2-2.3 .4z" color="#5dd5b5"/><path d="M611.9 285.8l2.5-.2 1.9 3-2.5 .2z" color="#44c1a4"/><path d="M589.2 277.6l2.5-.4 2 2.3-2.4 .4z" color="#56d0b1"/><path d="M600.6 281.2l2.4-.3 2 2.7-2.5 .3z" color="#4dc8ac"/><path d="M573.5 273.5l2.3-.5 2.1 1.8-2.3 .4z" color="#61d8b8"/><path d="M584.8 275.8l2.4-.4 2 2.2-2.3 .4z" color="#5bd4b4"/><path d="M607.5 283.3l2.5-.3 1.9 2.8-2.5 .3z" color="#49c5a9"/><path d="M596.1 279.1l2.5-.4 2 2.5-2.5 .4z" color="#53cdb0"/><path d="M569 272.3l2.3-.5 2.2 1.7-2.4 .4z" color="#69dbbb"/><path d="M580.3 274.3l2.4-.5 2.1 2-2.4 .5z" color="#60d7b7"/><path d="M614.4 285.6l2.5-.3 1.9 3-2.5 .3z" color="#45c3a6"/><path d="M591.7 277.2l2.4-.4 2 2.3-2.4 .4z" color="#59d2b3"/><path d="M603 280.9l2.5-.3 2 2.7-2.5 .3z" color="#4fcaae"/><path d="M575.8 273l2.4-.5 2.1 1.8-2.4 .5z" color="#67dabb"/><path d="M587.2 275.4l2.4-.4 2.1 2.2-2.5 .4z" color="#5ed6b6"/><path d="M610 283l2.5-.3 1.9 2.9-2.5 .2z" color="#4bc7ab"/><path d="M598.6 278.7l2.4-.3 2 2.5-2.4 .3z" color="#55cfb1"/><path d="M571.3 271.8l2.3-.5 2.2 1.7-2.3 .5z" color="#70ddbe"/><path d="M582.7 273.8l2.4-.4 2.1 2-2.4 .4z" color="#64dab9"/><path d="M616.9 285.3l2.6-.3 1.8 3.1-2.5 .2z" color="#47c4a7"/><path d="M566.8 270.9l2.3-.5 2.2 1.4-2.3 .5z" color="#77dfc2"/><path d="M594.1 276.8l2.4-.4 2.1 2.3-2.5 .4z" color="#5bd4b4"/><path d="M605.5 280.6l2.5-.4 2 2.8-2.5 .3z" color="#52ccaf"/><path d="M578.2 272.5l2.4-.5 2.1 1.8-2.4 .5z" color="#6edcbe"/><path d="M589.6 275l2.4-.4 2.1 2.2-2.4 .4z" color="#61d8b7"/><path d="M612.5 282.7l2.5-.3 1.9 2.9-2.5 .3z" color="#4dc8ad"/><path d="M601 278.4l2.5-.4 2 2.6-2.5 .3z" color="#58d1b3"/><path d="M573.6 271.3l2.4-.5 2.2 1.7-2.4 .5z" color="#77dfc2"/><path d="M585.1 273.4l2.4-.4 2.1 2-2.4 .4z" color="#6bdbbc"/><path d="M619.5 285l2.5-.2 1.9 3.1-2.6 .2z" color="#49c5a9"/><path d="M569.1 270.4l2.4-.5 2.1 1.4-2.3 .5z" color="#7ee1c5"/><path d="M596.5 276.4l2.5-.4 2 2.4-2.4 .3z" color="#5ed6b6"/><path d="M608 280.2l2.5-.3 2 2.8-2.5 .3z" color="#54ceb0"/><path d="M580.6 272l2.4-.5 2.1 1.9-2.4 .4z" color="#75dec1"/><path d="M564.6 269.6l2.3-.5 2.2 1.3-2.3 .5z" color="#84e3c8"/><path d="M615 282.4l2.6-.3 1.9 2.9-2.6 .3z" color="#4fcaae"/><path d="M592 274.6l2.5-.4 2 2.2-2.4 .4z" color="#66daba"/><path d="M603.5 278l2.5-.3 2 2.5-2.5 .4z" color="#5ad3b4"/><path d="M576 270.8l2.4-.5 2.2 1.7-2.4 .5z" color="#7ee1c5"/><path d="M622 284.8l2.6-.3 1.9 3.2-2.6 .2z" color="#4ac6ab"/><path d="M587.5 273l2.4-.5 2.1 2.1-2.4 .4z" color="#71ddbf"/><path d="M610.5 279.9l2.6-.3 1.9 2.8-2.5 .3z" color="#56d0b2"/><path d="M571.5 269.9l2.3-.6 2.2 1.5-2.4 .5z" color="#85e3c8"/><path d="M599 276l2.5-.4 2 2.4-2.5 .4z" color="#61d8b7"/><path d="M583 271.5l2.4-.4 2.1 1.9-2.4 .4z" color="#7be0c4"/><path d="M566.9 269.1l2.4-.5 2.2 1.3-2.4 .5z" color="#8be5cb"/><path d="M617.6 282.1l2.5-.3 1.9 3-2.5 .2z" color="#52ccaf"/><path d="M594.5 274.2l2.5-.4 2 2.2-2.5 .4z" color="#6cdcbd"/><path d="M606 277.7l2.5-.4 2 2.6-2.5 .3z" color="#5dd5b5"/><path d="M562.3 268.5l2.4-.5 2.2 1.1-2.3 .5z" color="#92e7cd"/><path d="M578.4 270.3l2.4-.4 2.2 1.6-2.4 .5z" color="#84e3c8"/><path d="M624.6 284.5l2.6-.2 1.9 3.1-2.6 .3z" color="#4cc8ac"/><path d="M589.9 272.5l2.5-.4 2.1 2.1-2.5 .4z" color="#78dfc2"/><path d="M613.1 279.6l2.5-.3 2 2.8-2.6 .3z" color="#59d2b3"/><path d="M601.5 275.6l2.5-.4 2 2.5-2.5 .3z" color="#65daba"/><path d="M573.8 269.3l2.4-.5 2.2 1.5-2.4 .5z" color="#8ce5cb"/><path d="M585.4 271.1l2.4-.5 2.1 1.9-2.4 .5z" color="#82e2c7"/><path d="M569.3 268.6l2.3-.6 2.2 1.3-2.3 .6z" color="#95e7cf"/><path d="M620.1 281.8l2.6-.2 1.9 2.9-2.6 .3z" color="#54ceb0"/><path d="M597 273.8l2.5-.4 2 2.2-2.5 .4z" color="#72dec0"/><path d="M608.5 277.3l2.6-.3 2 2.6-2.6 .3z" color="#60d7b7"/><path d="M564.7 268l2.3-.6 2.3 1.2-2.4 .5z" color="#9de9d2"/><path d="M580.8 269.9l2.4-.5 2.2 1.7-2.4 .4z" color="#8be5cb"/><path d="M627.2 284.3l2.6-.2 1.9 3.1-2.6 .2z" color="#4fcaad"/><path d="M560.1 267.6l2.3-.6 2.3 1-2.4 .5z" color="#a3ead4"/><path d="M592.4 272.1l2.5-.4 2.1 2.1-2.5 .4z" color="#7ee1c5"/><path d="M615.6 279.3l2.6-.3 1.9 2.8-2.5 .3z" color="#5bd4b4"/><path d="M604 275.2l2.5-.3 2 2.4-2.5 .4z" color="#6bdcbc"/><path d="M576.2 268.8l2.4-.5 2.2 1.6-2.4 .4z" color="#96e7cf"/><path d="M587.8 270.6l2.5-.4 2.1 1.9-2.5 .4z" color="#89e4ca"/><path d="M571.6 268l2.4-.5 2.2 1.3-2.4 .5z" color="#a1e9d3"/><path d="M622.7 281.6l2.6-.3 1.9 3-2.6 .2z" color="#56d0b2"/><path d="M599.5 273.4l2.5-.4 2 2.2-2.5 .4z" color="#78e0c2"/><path d="M611.1 277l2.6-.3 1.9 2.6-2.5 .3z" color="#63d9b8"/><path d="M567 267.4l2.4-.5 2.2 1.1-2.3 .6z" color="#a9ebd6"/><path d="M583.2 269.4l2.5-.5 2.1 1.7-2.4 .5z" color="#95e7cf"/><path d="M629.8 284.1l2.7-.2 1.8 3.1-2.6 .2z" color="#51ccaf"/><path d="M594.9 271.7l2.5-.4 2.1 2.1-2.5 .4z" color="#85e3c8"/><path d="M562.4 267l2.4-.6 2.2 1-2.3 .6z" color="#afecd8"/><path d="M618.2 279l2.6-.3 1.9 2.9-2.6 .2z" color="#5ed6b6"/><path d="M606.5 274.9l2.6-.4 2 2.5-2.6 .3z" color="#71ddbf"/><path d="M578.6 268.3l2.5-.5 2.1 1.6-2.4 .5z" color="#a1ead3"/><path d="M557.8 266.8l2.3-.6 2.3 .8-2.3 .6z" color="#b3edda"/><path d="M590.3 270.2l2.5-.5 2.1 2-2.5 .4z" color="#91e6cd"/><path d="M574 267.5l2.4-.5 2.2 1.3-2.4 .5z" color="#acecd7"/><path d="M625.3 281.3l2.7-.2 1.8 3-2.6 .2z" color="#59d2b3"/><path d="M602 273l2.5-.4 2 2.3-2.5 .3z" color="#7fe1c5"/><path d="M613.7 276.7l2.6-.3 1.9 2.6-2.6 .3z" color="#69dbbb"/><path d="M569.4 266.9l2.4-.6 2.2 1.2-2.4 .5z" color="#b5edda"/><path d="M585.7 268.9l2.5-.5 2.1 1.8-2.5 .4z" color="#9fe9d3"/><path d="M632.5 283.9l2.7-.3 1.8 3.3-2.7 .1z" color="#53cdb0"/><path d="M597.4 271.3l2.5-.5 2.1 2.2-2.5 .4z" color="#8be5cb"/><path d="M564.8 266.4l2.4-.5 2.2 1-2.4 .5z" color="#bbeedd"/><path d="M620.8 278.7l2.6-.2 1.9 2.8-2.6 .3z" color="#60d8b7"/><path d="M609.1 274.5l2.6-.3 2 2.5-2.6 .3z" color="#77dfc2"/><path d="M581.1 267.8l2.4-.5 2.2 1.6-2.5 .5z" color="#acecd7"/><path d="M560.1 266.2l2.4-.6 2.3 .8-2.4 .6z" color="#c0efde"/><path d="M592.8 269.7l2.5-.4 2.1 2-2.5 .4z" color="#9be8d1"/><path d="M576.4 267l2.5-.5 2.2 1.3-2.5 .5z" color="#b7eedb"/><path d="M555.5 266.2l2.3-.6 2.3 .6-2.3 .6z" color="#c2f0df"/><path d="M628 281.1l2.6-.3 1.9 3.1-2.7 .2z" color="#5bd4b4"/><path d="M604.5 272.6l2.6-.4 2 2.3-2.6 .4z" color="#85e3c8"/><path d="M616.3 276.4l2.6-.4 1.9 2.7-2.6 .3z" color="#6eddbe"/><path d="M571.8 266.3l2.4-.5 2.2 1.2-2.4 .5z" color="#c1efde"/><path d="M588.2 268.4l2.5-.4 2.1 1.7-2.5 .5z" color="#aaebd7"/><path d="M635.2 283.6l2.7-.2 1.8 3.3-2.7 .2z" color="#55cfb1"/><path d="M599.9 270.8l2.6-.4 2 2.2-2.5 .4z" color="#94e7ce"/><path d="M567.2 265.9l2.4-.6 2.2 1-2.4 .6z" color="#caf1e0"/><path d="M623.4 278.5l2.7-.3 1.9 2.9-2.7 .2z" color="#64d9b9"/><path d="M611.7 274.2l2.6-.4 2 2.6-2.6 .3z" color="#7de1c4"/><path d="M583.5 267.3l2.5-.4 2.2 1.5-2.5 .5z" color="#b7eedb"/><path d="M562.5 265.6l2.4-.5 2.3 .8-2.4 .5z" color="#d0f2e1"/><path d="M595.3 269.3l2.5-.4 2.1 1.9-2.5 .5z" color="#a5ead5"/><path d="M630.6 280.8l2.7-.2 1.9 3-2.7 .3z" color="#5dd5b6"/><path d="M578.9 266.5l2.4-.6 2.2 1.4-2.4 .5z" color="#c4f0df"/><path d="M557.8 265.6l2.4-.6 2.3 .6-2.4 .6z" color="#d3f2e2"/><path d="M607.1 272.2l2.6-.4 2 2.4-2.6 .3z" color="#8be5cb"/><path d="M618.9 276l2.6-.3 1.9 2.8-2.6 .2z" color="#74dec0"/><path d="M553.2 265.8l2.3-.6 2.3 .4-2.3 .6z" color="#d3f2e2"/><path d="M574.2 265.8l2.5-.6 2.2 1.3-2.5 .5z" color="#d1f2e1"/><path d="M590.7 268l2.5-.5 2.1 1.8-2.5 .4z" color="#b5eddb"/><path d="M637.9 283.4l2.7-.1 1.8 3.2-2.7 .2z" color="#57d1b2"/><path d="M602.5 270.4l2.5-.4 2.1 2.2-2.6 .4z" color="#9ee9d2"/><path d="M626.1 278.2l2.7-.3 1.8 2.9-2.6 .3z" color="#69dbbb"/><path d="M569.6 265.3l2.4-.5 2.2 1-2.4 .5z" color="#daf3e3"/><path d="M614.3 273.8l2.6-.3 2 2.5-2.6 .4z" color="#83e3c7"/><path d="M586 266.9l2.5-.5 2.2 1.6-2.5 .4z" color="#c4f0df"/><path d="M564.9 265.1l2.4-.6 2.3 .8-2.4 .6z" color="#e0f4e4"/><path d="M597.8 268.9l2.6-.5 2.1 2-2.6 .4z" color="#afecd9"/><path d="M633.3 280.6l2.7-.2 1.9 3-2.7 .2z" color="#60d7b7"/><path d="M581.3 265.9l2.5-.5 2.2 1.5-2.5 .4z" color="#d4f2e2"/><path d="M560.2 265l2.4-.6 2.3 .7-2.4 .5z" color="#e4f5e4"/><path d="M609.7 271.8l2.6-.3 2 2.3-2.6 .4z" color="#93e7ce"/><path d="M621.5 275.7l2.7-.3 1.9 2.8-2.7 .3z" color="#7ae0c3"/><path d="M555.5 265.2l2.4-.6 2.3 .4-2.4 .6z" color="#e4f5e4"/><path d="M576.7 265.2l2.4-.5 2.2 1.2-2.4 .6z" color="#e0f4e4"/><path d="M593.2 267.5l2.5-.4 2.1 1.8-2.5 .4z" color="#c0efde"/><path d="M640.6 283.3l2.7-.2 1.8 3.2-2.7 .2z" color="#5ad3b4"/><path d="M550.8 265.6l2.4-.7 2.3 .3-2.3 .6z" color="#e1f4e4"/><path d="M605 270l2.6-.4 2.1 2.2-2.6 .4z" color="#a7ebd6"/><path d="M628.8 277.9l2.7-.2 1.8 2.9-2.7 .2z" color="#6fddbe"/><path d="M616.9 273.5l2.7-.3 1.9 2.5-2.6 .3z" color="#89e4ca"/><path d="M572 264.8l2.4-.6 2.3 1-2.5 .6z" color="#eaf5e6"/><path d="M588.5 266.4l2.5-.5 2.2 1.6-2.5 .5z" color="#d3f2e2"/><path d="M567.3 264.5l2.4-.6 2.3 .9-2.4 .5z" color="#ecf4e2"/><path d="M600.4 268.4l2.6-.4 2 2-2.5 .4z" color="#baeedc"/><path d="M636 280.4l2.8-.3 1.8 3.2-2.7 .1z" color="#62d9b8"/><path d="M583.8 265.4l2.5-.5 2.2 1.5-2.5 .5z" color="#e3f4e4"/><path d="M612.3 271.5l2.6-.4 2 2.4-2.6 .3z" color="#9de9d2"/><path d="M562.6 264.4l2.4-.6 2.3 .7-2.4 .6z" color="#edf3e0"/><path d="M624.2 275.4l2.7-.2 1.9 2.7-2.7 .3z" color="#7fe2c5"/><path d="M557.9 264.6l2.4-.6 2.3 .4-2.4 .6z" color="#edf3e0"/><path d="M595.7 267.1l2.6-.5 2.1 1.8-2.6 .5z" color="#cef1e1"/><path d="M579.1 264.7l2.5-.5 2.2 1.2-2.5 .5z" color="#ecf4e3"/><path d="M643.3 283.1l2.8-.2 1.8 3.3-2.8 .1z" color="#5cd4b5"/><path d="M553.2 264.9l2.3-.6 2.4 .3-2.4 .6z" color="#ecf4e2"/><path d="M607.6 269.6l2.6-.3 2.1 2.2-2.6 .3z" color="#b1edd9"/><path d="M631.5 277.7l2.7-.3 1.8 3-2.7 .2z" color="#74dec0"/><path d="M548.5 265.5l2.3-.6 2.4 0-2.4 .7z" color="#ebf5e5"/><path d="M619.6 273.2l2.6-.3 2 2.5-2.7 .3z" color="#90e6cd"/><path d="M574.4 264.2l2.5-.5 2.2 1-2.4 .5z" color="#eef2dd"/><path d="M591 265.9l2.6-.5 2.1 1.7-2.5 .4z" color="#e2f4e4"/><path d="M569.7 263.9l2.5-.6 2.2 .9-2.4 .6z" color="#eff0d9"/><path d="M603 268l2.6-.4 2 2-2.6 .4z" color="#c6f0df"/><path d="M638.8 280.1l2.7-.2 1.8 3.2-2.7 .2z" color="#68dbbb"/><path d="M586.3 264.9l2.6-.5 2.1 1.5-2.5 .5z" color="#ecf4e2"/><path d="M614.9 271.1l2.7-.3 2 2.4-2.7 .3z" color="#a6ebd5"/><path d="M626.9 275.2l2.7-.3 1.9 2.8-2.7 .2z" color="#85e3c8"/><path d="M565 263.8l2.4-.6 2.3 .7-2.4 .6z" color="#f0efd7"/><path d="M560.3 264l2.4-.7 2.3 .5-2.4 .6z" color="#f0efd7"/><path d="M646.1 282.9l2.8-.2 1.7 3.3-2.7 .2z" color="#5ed6b6"/><path d="M598.3 266.6l2.6-.4 2.1 1.8-2.6 .4z" color="#ddf4e3"/><path d="M581.6 264.2l2.5-.5 2.2 1.2-2.5 .5z" color="#eff1da"/><path d="M555.5 264.3l2.4-.6 2.4 .3-2.4 .6z" color="#f0f0d8"/><path d="M634.2 277.4l2.7-.2 1.9 2.9-2.8 .3z" color="#79e0c3"/><path d="M610.2 269.3l2.7-.4 2 2.2-2.6 .4z" color="#bbeedd"/><path d="M622.2 272.9l2.7-.4 2 2.7-2.7 .2z" color="#99e8d0"/><path d="M550.8 264.9l2.4-.7 2.3 .1-2.3 .6z" color="#eff1db"/><path d="M576.9 263.7l2.5-.6 2.2 1.1-2.5 .5z" color="#f1eed5"/><path d="M593.6 265.4l2.5-.4 2.2 1.6-2.6 .5z" color="#ecf4e2"/><path d="M546.1 265.7l2.3-.7 2.4-.1-2.3 .6z" color="#edf3e0"/><path d="M572.2 263.3l2.4-.5 2.3 .9-2.5 .5z" color="#f2edd1"/><path d="M641.5 279.9l2.8-.2 1.8 3.2-2.8 .2z" color="#6ddcbd"/><path d="M605.6 267.6l2.6-.4 2 2.1-2.6 .3z" color="#d4f2e2"/><path d="M588.9 264.4l2.5-.5 2.2 1.5-2.6 .5z" color="#eff0d9"/><path d="M629.6 274.9l2.7-.3 1.9 2.8-2.7 .3z" color="#8be5cb"/><path d="M617.6 270.8l2.6-.4 2 2.5-2.6 .3z" color="#b0ecd9"/><path d="M567.4 263.2l2.5-.6 2.3 .7-2.5 .6z" color="#f3ecce"/><path d="M648.9 282.7l2.8-.1 1.7 3.3-2.8 .1z" color="#60d8b7"/><path d="M562.7 263.3l2.4-.6 2.3 .5-2.4 .6z" color="#f3ebce"/><path d="M600.9 266.2l2.6-.4 2.1 1.8-2.6 .4z" color="#ebf5e5"/><path d="M584.1 263.7l2.6-.5 2.2 1.2-2.6 .5z" color="#f2edd2"/><path d="M557.9 263.7l2.5-.6 2.3 .2-2.4 .7z" color="#f3eccf"/><path d="M636.9 277.2l2.8-.3 1.8 3-2.7 .2z" color="#7fe1c5"/><path d="M612.9 268.9l2.6-.4 2.1 2.3-2.7 .3z" color="#c8f0e0"/><path d="M624.9 272.5l2.7-.3 2 2.7-2.7 .3z" color="#a2ead4"/><path d="M553.2 264.2l2.4-.6 2.3 .1-2.4 .6z" color="#f2edd2"/><path d="M579.4 263.1l2.5-.5 2.2 1.1-2.5 .5z" color="#f4ebcc"/><path d="M596.1 265l2.6-.5 2.2 1.7-2.6 .4z" color="#eff1da"/><path d="M548.4 265l2.4-.7 2.4-.1-2.4 .7z" color="#f0efd6"/><path d="M543.7 266l2.3-.7 2.4-.3-2.3 .7z" color="#eef2dc"/><path d="M574.6 262.8l2.5-.6 2.3 .9-2.5 .6z" color="#f5e9c8"/><path d="M644.3 279.7l2.8-.2 1.8 3.2-2.8 .2z" color="#72debf"/><path d="M608.2 267.2l2.6-.4 2.1 2.1-2.7 .4z" color="#e2f4e4"/><path d="M632.3 274.6l2.7-.3 1.9 2.9-2.7 .2z" color="#92e7cd"/><path d="M620.2 270.4l2.7-.3 2 2.4-2.7 .4z" color="#baeedc"/><path d="M591.4 263.9l2.6-.4 2.1 1.5-2.5 .4z" color="#f2edd1"/><path d="M569.9 262.6l2.5-.5 2.2 .7-2.4 .5z" color="#f5e7c5"/><path d="M651.7 282.6l2.8-.2 1.8 3.4-2.9 .1z" color="#63d9b9"/><path d="M565.1 262.7l2.5-.6 2.3 .5-2.5 .6z" color="#f5e6c3"/><path d="M603.5 265.8l2.6-.5 2.1 1.9-2.6 .4z" color="#eef2de"/><path d="M586.7 263.2l2.5-.6 2.2 1.3-2.5 .5z" color="#f5eaca"/><path d="M639.7 276.9l2.8-.2 1.8 3-2.8 .2z" color="#84e3c8"/><path d="M615.5 268.5l2.7-.3 2 2.2-2.6 .4z" color="#d5f2e2"/><path d="M560.4 263.1l2.4-.7 2.3 .3-2.4 .6z" color="#f5e7c5"/><path d="M627.6 272.2l2.8-.3 1.9 2.7-2.7 .3z" color="#abebd7"/><path d="M581.9 262.6l2.5-.6 2.3 1.2-2.6 .5z" color="#f5e5c1"/><path d="M555.6 263.6l2.4-.7 2.4 .2-2.5 .6z" color="#f5e9c9"/><path d="M598.7 264.5l2.6-.5 2.2 1.8-2.6 .4z" color="#f1edd2"/><path d="M550.8 264.3l2.4-.6 2.4-.1-2.4 .6z" color="#f3ebcd"/><path d="M546 265.3l2.4-.7 2.4-.3-2.4 .7z" color="#f1edd3"/><path d="M647.1 279.5l2.8-.2 1.8 3.3-2.8 .1z" color="#77dfc2"/><path d="M577.1 262.2l2.6-.5 2.2 .9-2.5 .5z" color="#f4e0b9"/><path d="M610.8 266.8l2.7-.4 2 2.1-2.6 .4z" color="#ecf4e3"/><path d="M541.3 266.5l2.3-.7 2.4-.5-2.3 .7z" color="#eff1da"/><path d="M635 274.3l2.8-.2 1.9 2.8-2.8 .3z" color="#9ae8d1"/><path d="M622.9 270.1l2.8-.3 1.9 2.4-2.7 .3z" color="#c5f0df"/><path d="M594 263.5l2.6-.5 2.1 1.5-2.6 .5z" color="#f5e9c9"/><path d="M572.4 262.1l2.5-.6 2.2 .7-2.5 .6z" color="#f3ddb4"/><path d="M654.5 282.4l2.9-.1 1.7 3.4-2.8 .1z" color="#68dbbb"/><path d="M606.1 265.3l2.7-.4 2 1.9-2.6 .4z" color="#f0efd6"/><path d="M567.6 262.1l2.5-.6 2.3 .6-2.5 .5z" color="#f3dcb2"/><path d="M589.2 262.6l2.6-.5 2.2 1.4-2.6 .4z" color="#f4e2bd"/><path d="M642.5 276.7l2.8-.2 1.8 3-2.8 .2z" color="#8ae5ca"/><path d="M618.2 268.2l2.7-.4 2 2.3-2.7 .3z" color="#e3f4e4"/><path d="M562.8 262.4l2.4-.6 2.4 .3-2.5 .6z" color="#f3dcb4"/><path d="M630.4 271.9l2.7-.2 1.9 2.6-2.7 .3z" color="#b4edda"/><path d="M584.4 262l2.6-.5 2.2 1.1-2.5 .6z" color="#f3dbb1"/><path d="M558 262.9l2.4-.6 2.4 .1-2.4 .7z" color="#f4dfb8"/><path d="M601.3 264l2.7-.4 2.1 1.7-2.6 .5z" color="#f4eacb"/><path d="M553.2 263.7l2.4-.7 2.4-.1-2.4 .7z" color="#f5e4c0"/><path d="M649.9 279.3l2.9-.1 1.7 3.2-2.8 .2z" color="#7ce1c4"/><path d="M548.4 264.6l2.4-.6 2.4-.3-2.4 .6z" color="#f5e9c9"/><path d="M579.7 261.7l2.5-.6 2.2 .9-2.5 .6z" color="#f2d5a9"/><path d="M613.5 266.4l2.7-.4 2 2.2-2.7 .3z" color="#eef1db"/><path d="M543.6 265.8l2.4-.7 2.4-.5-2.4 .7z" color="#f2edd1"/><path d="M637.8 274.1l2.8-.3 1.9 2.9-2.8 .2z" color="#a3ead4"/><path d="M538.8 267.2l2.4-.7 2.4-.7-2.3 .7z" color="#eff1da"/><path d="M625.7 269.8l2.7-.4 2 2.5-2.8 .3z" color="#d2f2e1"/><path d="M596.6 263l2.6-.5 2.1 1.5-2.6 .5z" color="#f4e2bc"/><path d="M574.9 261.5l2.5-.6 2.3 .8-2.6 .5z" color="#f1d2a4"/><path d="M657.4 282.3l2.9-.2 1.7 3.5-2.9 .1z" color="#6ddcbd"/><path d="M608.8 264.9l2.6-.4 2.1 1.9-2.7 .4z" color="#f3ecce"/><path d="M570.1 261.5l2.5-.5 2.3 .5-2.5 .6z" color="#f1d1a2"/><path d="M591.8 262.1l2.6-.5 2.2 1.4-2.6 .5z" color="#f2d8ad"/><path d="M645.3 276.5l2.8-.2 1.8 3-2.8 .2z" color="#90e6cd"/><path d="M620.9 267.8l2.8-.4 2 2.4-2.8 .3z" color="#ecf4e3"/><path d="M633.1 271.7l2.8-.3 1.9 2.7-2.8 .2z" color="#bdefde"/><path d="M565.2 261.8l2.5-.6 2.4 .3-2.5 .6z" color="#f1d2a3"/><path d="M587 261.5l2.6-.5 2.2 1.1-2.6 .5z" color="#f1d1a1"/><path d="M560.4 262.3l2.5-.6 2.3 .1-2.4 .6z" color="#f2d4a7"/><path d="M604 263.6l2.6-.4 2.2 1.7-2.7 .4z" color="#f5e4c0"/><path d="M652.8 279.2l2.9-.2 1.7 3.3-2.9 .1z" color="#81e2c6"/><path d="M555.6 263l2.5-.6 2.3-.1-2.4 .6z" color="#f3d9af"/><path d="M616.2 266l2.7-.3 2 2.1-2.7 .4z" color="#f1eed4"/><path d="M550.8 264l2.4-.7 2.4-.3-2.4 .7z" color="#f4e0b9"/><path d="M582.2 261.1l2.6-.5 2.2 .9-2.6 .5z" color="#f0cb99"/><path d="M640.6 273.8l2.8-.2 1.9 2.9-2.8 .2z" color="#acebd7"/><path d="M546 265.1l2.4-.7 2.4-.4-2.4 .6z" color="#f5e8c7"/><path d="M628.4 269.4l2.8-.3 1.9 2.6-2.7 .2z" color="#def4e4"/><path d="M541.2 266.5l2.4-.7 2.4-.7-2.4 .7z" color="#f2ecd0"/><path d="M599.2 262.5l2.6-.4 2.2 1.5-2.7 .4z" color="#f2d8ad"/><path d="M536.4 268.1l2.3-.7 2.5-.9-2.4 .7z" color="#eff1db"/><path d="M577.4 260.9l2.5-.5 2.3 .7-2.5 .6z" color="#efc894"/><path d="M660.3 282.1l2.9-.1 1.7 3.5-2.9 .1z" color="#71ddbf"/><path d="M611.4 264.5l2.7-.4 2.1 1.9-2.7 .4z" color="#f6e8c7"/><path d="M594.4 261.6l2.6-.4 2.2 1.3-2.6 .5z" color="#f0cf9e"/><path d="M572.6 261l2.5-.6 2.3 .5-2.5 .6z" color="#efc792"/><path d="M648.1 276.3l2.9-.2 1.8 3.1-2.9 .1z" color="#98e8d0"/><path d="M623.7 267.4l2.7-.3 2 2.3-2.7 .4z" color="#eef1dc"/><path d="M635.9 271.4l2.8-.3 1.9 2.7-2.8 .3z" color="#c9f1e0"/><path d="M567.7 261.2l2.5-.6 2.4 .4-2.5 .5z" color="#efc793"/><path d="M589.6 261l2.6-.5 2.2 1.1-2.6 .5z" color="#efc792"/><path d="M606.6 263.2l2.7-.5 2.1 1.8-2.6 .4z" color="#f3dbb1"/><path d="M562.9 261.7l2.5-.6 2.3 .1-2.5 .6z" color="#efca96"/><path d="M655.7 279l2.9-.2 1.7 3.3-2.9 .2z" color="#86e3c8"/><path d="M558.1 262.4l2.4-.7 2.4 0-2.5 .6z" color="#f0ce9d"/><path d="M618.9 265.7l2.8-.4 2 2.1-2.8 .4z" color="#f4ebcd"/><path d="M584.8 260.6l2.5-.6 2.3 1-2.6 .5z" color="#eec28a"/><path d="M553.2 263.3l2.5-.7 2.4-.2-2.5 .6z" color="#f2d5a8"/><path d="M643.4 273.6l2.9-.3 1.8 3-2.8 .2z" color="#b4edda"/><path d="M631.2 269.1l2.8-.3 1.9 2.6-2.8 .3z" color="#ebf6e6"/><path d="M548.4 264.4l2.4-.6 2.4-.5-2.4 .7z" color="#f3ddb5"/><path d="M601.8 262.1l2.7-.5 2.1 1.6-2.6 .4z" color="#f0cf9e"/><path d="M543.6 265.8l2.3-.7 2.5-.7-2.4 .7z" color="#f6e8c6"/><path d="M533.9 269.2l2.4-.7 2.4-1.1-2.3 .7z" color="#eef2dd"/><path d="M538.7 267.4l2.4-.7 2.5-.9-2.4 .7z" color="#f2edd1"/><path d="M663.2 282l2.9-.1 1.7 3.5-2.9 .1z" color="#76dfc1"/><path d="M579.9 260.4l2.6-.6 2.3 .8-2.6 .5z" color="#edbe85"/><path d="M614.1 264.1l2.8-.4 2 2-2.7 .3z" color="#f4dfb9"/><path d="M651 276.1l2.9-.2 1.8 3.1-2.9 .2z" color="#a0e9d3"/><path d="M597 261.2l2.7-.5 2.1 1.4-2.6 .4z" color="#eec58f"/><path d="M575.1 260.4l2.5-.6 2.3 .6-2.5 .5z" color="#edbd82"/><path d="M626.4 267.1l2.8-.3 2 2.3-2.8 .3z" color="#f1eed5"/><path d="M638.7 271.1l2.9-.3 1.8 2.8-2.8 .2z" color="#d5f2e2"/><path d="M570.2 260.6l2.6-.6 2.3 .4-2.5 .6z" color="#edbd83"/><path d="M592.2 260.5l2.6-.5 2.2 1.2-2.6 .4z" color="#edbe84"/><path d="M609.3 262.7l2.7-.4 2.1 1.8-2.7 .4z" color="#f1d2a3"/><path d="M565.4 261.1l2.5-.7 2.3 .2-2.5 .6z" color="#edbf86"/><path d="M658.6 278.8l2.9-.1 1.7 3.3-2.9 .1z" color="#8be5ca"/><path d="M560.5 261.7l2.5-.6 2.4 0-2.5 .6z" color="#eec48d"/><path d="M621.7 265.3l2.7-.4 2 2.2-2.7 .3z" color="#f5e7c4"/><path d="M646.3 273.3l2.9-.2 1.8 3-2.9 .2z" color="#bdefdd"/><path d="M587.3 260l2.7-.5 2.2 1-2.6 .5z" color="#ecb87b"/><path d="M555.7 262.6l2.4-.6 2.4-.3-2.4 .7z" color="#efca96"/><path d="M634 268.8l2.8-.3 1.9 2.6-2.8 .3z" color="#edf3df"/><path d="M550.8 263.8l2.4-.7 2.5-.5-2.5 .7z" color="#f1d2a3"/><path d="M604.5 261.6l2.7-.5 2.1 1.6-2.7 .5z" color="#eec690"/><path d="M531.4 270.5l2.4-.7 2.5-1.3-2.4 .7z" color="#edf4e1"/><path d="M545.9 265.1l2.5-.7 2.4-.6-2.4 .6z" color="#f3dcb4"/><path d="M536.3 268.5l2.3-.7 2.5-1.1-2.4 .7z" color="#f1eed3"/><path d="M541.1 266.7l2.4-.7 2.4-.9-2.3 .7z" color="#f5e9c7"/><path d="M666.1 281.9l3-.1 1.7 3.5-3 .1z" color="#7be0c3"/><path d="M582.5 259.8l2.6-.6 2.2 .8-2.5 .6z" color="#ebb576"/><path d="M616.9 263.7l2.7-.4 2.1 2-2.8 .4z" color="#f2d7ab"/><path d="M653.9 275.9l2.9-.2 1.8 3.1-2.9 .2z" color="#a8ebd6"/><path d="M599.7 260.7l2.6-.5 2.2 1.4-2.7 .5z" color="#ecbc81"/><path d="M577.6 259.8l2.6-.6 2.3 .6-2.6 .6z" color="#ebb374"/><path d="M629.2 266.8l2.8-.4 2 2.4-2.8 .3z" color="#f3ebce"/><path d="M641.6 270.8l2.8-.2 1.9 2.7-2.9 .3z" color="#e1f4e4"/><path d="M572.8 260l2.5-.6 2.3 .4-2.5 .6z" color="#ebb374"/><path d="M594.8 260l2.7-.5 2.2 1.2-2.7 .5z" color="#ebb576"/><path d="M612 262.3l2.8-.4 2.1 1.8-2.8 .4z" color="#efc995"/><path d="M661.5 278.7l2.9-.2 1.7 3.4-2.9 .1z" color="#91e6cd"/><path d="M567.9 260.4l2.5-.6 2.4 .2-2.6 .6z" color="#ebb577"/><path d="M624.4 264.9l2.8-.3 2 2.2-2.8 .3z" color="#f4deb7"/><path d="M563 261.1l2.5-.6 2.4-.1-2.5 .7z" color="#ecb97d"/><path d="M649.2 273.1l2.9-.2 1.8 3-2.9 .2z" color="#c8f0e0"/><path d="M590 259.5l2.6-.5 2.2 1-2.6 .5z" color="#ebaf6f"/><path d="M636.8 268.5l2.9-.3 1.9 2.6-2.9 .3z" color="#f0f0d8"/><path d="M558.1 262l2.5-.7 2.4-.2-2.5 .6z" color="#edbf86"/><path d="M607.2 261.1l2.7-.4 2.1 1.6-2.7 .4z" color="#edbd83"/><path d="M528.9 272l2.4-.7 2.5-1.5-2.4 .7z" color="#eaf5e6"/><path d="M553.2 263.1l2.5-.7 2.4-.4-2.4 .6z" color="#efc792"/><path d="M669.1 281.8l3-.1 1.6 3.5-2.9 .1z" color="#7fe2c5"/><path d="M533.8 269.8l2.3-.7 2.5-1.3-2.3 .7z" color="#f0efd7"/><path d="M548.4 264.4l2.4-.6 2.4-.7-2.4 .7z" color="#f1d1a2"/><path d="M538.6 267.8l2.4-.7 2.5-1.1-2.4 .7z" color="#f5e9c9"/><path d="M543.5 266l2.4-.7 2.5-.9-2.5 .7z" color="#f3ddb5"/><path d="M585.1 259.2l2.6-.5 2.3 .8-2.7 .5z" color="#eaab6a"/><path d="M619.6 263.3l2.8-.4 2 2-2.7 .4z" color="#f0ce9d"/><path d="M656.8 275.7l2.9-.2 1.8 3.2-2.9 .1z" color="#b0ecd9"/><path d="M602.3 260.2l2.7-.5 2.2 1.4-2.7 .5z" color="#ebb374"/><path d="M580.2 259.2l2.6-.5 2.3 .5-2.6 .6z" color="#eaaa67"/><path d="M632 266.4l2.9-.3 1.9 2.4-2.8 .3z" color="#f6e8c7"/><path d="M644.4 270.6l2.9-.3 1.9 2.8-2.9 .2z" color="#ebf5e4"/><path d="M575.3 259.4l2.6-.6 2.3 .4-2.6 .6z" color="#eaaa67"/><path d="M597.5 259.5l2.7-.5 2.1 1.2-2.6 .5z" color="#eaac6a"/><path d="M614.8 261.9l2.7-.4 2.1 1.8-2.7 .4z" color="#edc087"/><path d="M664.4 278.5l3-.1 1.7 3.4-3 .1z" color="#98e8d0"/><path d="M570.4 259.8l2.6-.6 2.3 .2-2.5 .6z" color="#eaac6a"/><path d="M627.2 264.6l2.8-.4 2 2.2-2.8 .4z" color="#f2d6a9"/><path d="M652.1 272.9l2.9-.2 1.8 3-2.9 .2z" color="#d3f2e2"/><path d="M565.5 260.5l2.5-.6 2.4-.1-2.5 .6z" color="#ebaf6f"/><path d="M639.7 268.2l2.8-.2 1.9 2.6-2.8 .2z" color="#f2edd1"/><path d="M592.6 259l2.7-.5 2.2 1-2.7 .5z" color="#eaa663"/><path d="M526.4 273.7l2.3-.7 2.6-1.7-2.4 .7z" color="#def4e3"/><path d="M560.6 261.3l2.5-.6 2.4-.2-2.5 .6z" color="#ebb576"/><path d="M609.9 260.7l2.8-.4 2.1 1.6-2.8 .4z" color="#ebb476"/><path d="M672.1 281.7l3-.1 1.6 3.6-3 0z" color="#84e3c7"/><path d="M531.3 271.3l2.3-.7 2.5-1.5-2.3 .7z" color="#eef1dc"/><path d="M555.7 262.4l2.5-.6 2.4-.5-2.5 .7z" color="#ecbc82"/><path d="M536.1 269.1l2.4-.7 2.5-1.3-2.4 .7z" color="#f3ebcd"/><path d="M550.8 263.8l2.5-.7 2.4-.7-2.5 .7z" color="#efc691"/><path d="M541 267.1l2.4-.7 2.5-1.1-2.4 .7z" color="#f4e0b9"/><path d="M545.9 265.3l2.5-.7 2.4-.8-2.4 .6z" color="#f1d2a3"/><path d="M587.7 258.7l2.6-.5 2.3 .8-2.6 .5z" color="#eaa35e"/><path d="M622.4 262.9l2.8-.4 2 2.1-2.8 .3z" color="#eec690"/><path d="M659.7 275.5l3-.1 1.7 3.1-2.9 .2z" color="#b8eedc"/><path d="M605 259.7l2.8-.4 2.1 1.4-2.7 .4z" color="#eaab69"/><path d="M634.9 266.1l2.8-.3 2 2.4-2.9 .3z" color="#f4e0ba"/><path d="M647.3 270.3l2.9-.2 1.9 2.8-2.9 .2z" color="#eef2de"/><path d="M582.8 258.7l2.6-.6 2.3 .6-2.6 .5z" color="#eaa15c"/><path d="M577.9 258.8l2.6-.6 2.3 .5-2.6 .5z" color="#eaa05b"/><path d="M667.4 278.4l3-.1 1.7 3.4-3 .1z" color="#a0e9d3"/><path d="M617.5 261.5l2.8-.4 2.1 1.8-2.8 .4z" color="#ebb87b"/><path d="M600.2 259l2.7-.5 2.1 1.2-2.7 .5z" color="#eaa35f"/><path d="M573 259.2l2.5-.6 2.4 .2-2.6 .6z" color="#eaa25d"/><path d="M655 272.7l2.9-.2 1.8 3-2.9 .2z" color="#def4e4"/><path d="M630 264.2l2.9-.3 2 2.2-2.9 .3z" color="#f0ce9c"/><path d="M642.5 268l2.9-.3 1.9 2.6-2.9 .3z" color="#f4eacb"/><path d="M568 259.9l2.6-.7 2.4 0-2.6 .6z" color="#eaa662"/><path d="M523.9 275.6l2.3-.7 2.5-1.9-2.3 .7z" color="#cff1e1"/><path d="M595.3 258.5l2.6-.6 2.3 1.1-2.7 .5z" color="#e99e58"/><path d="M563.1 260.7l2.6-.6 2.3-.2-2.5 .6z" color="#eaab69"/><path d="M612.7 260.3l2.7-.5 2.1 1.7-2.7 .4z" color="#eaac6b"/><path d="M528.7 273l2.4-.7 2.5-1.7-2.3 .7z" color="#ecf4e3"/><path d="M558.2 261.8l2.5-.7 2.4-.4-2.5 .6z" color="#ebb273"/><path d="M533.6 270.6l2.4-.8 2.5-1.4-2.4 .7z" color="#f2edd2"/><path d="M553.3 263.1l2.5-.7 2.4-.6-2.5 .6z" color="#ecbb80"/><path d="M538.5 268.4l2.4-.8 2.5-1.2-2.4 .7z" color="#f5e4c0"/><path d="M548.4 264.6l2.4-.7 2.5-.8-2.5 .7z" color="#efc792"/><path d="M543.4 266.4l2.5-.7 2.5-1.1-2.5 .7z" color="#f1d4a7"/><path d="M590.3 258.2l2.7-.6 2.3 .9-2.7 .5z" color="#e99a53"/><path d="M662.7 275.4l3-.2 1.7 3.2-3 .1z" color="#c0efde"/><path d="M625.2 262.5l2.8-.3 2 2-2.8 .4z" color="#edbd83"/><path d="M607.8 259.3l2.7-.5 2.2 1.5-2.8 .4z" color="#eaa35e"/><path d="M650.2 270.1l3-.2 1.8 2.8-2.9 .2z" color="#f0efd7"/><path d="M637.7 265.8l2.9-.3 1.9 2.5-2.8 .2z" color="#f2d8ad"/><path d="M585.4 258.1l2.7-.6 2.2 .7-2.6 .5z" color="#e99850"/><path d="M580.5 258.2l2.6-.5 2.3 .4-2.6 .6z" color="#e99850"/><path d="M670.4 278.3l3-.1 1.7 3.4-3 .1z" color="#a7ebd5"/><path d="M620.3 261.1l2.8-.4 2.1 1.8-2.8 .4z" color="#ebb06f"/><path d="M602.9 258.5l2.7-.5 2.2 1.3-2.8 .4z" color="#e99b54"/><path d="M575.5 258.6l2.6-.6 2.4 .2-2.6 .6z" color="#e99952"/><path d="M657.9 272.5l3-.2 1.8 3.1-3 .1z" color="#eaf5e5"/><path d="M632.9 263.9l2.8-.4 2 2.3-2.8 .3z" color="#eec690"/><path d="M521.3 277.8l2.4-.8 2.5-2.1-2.3 .7z" color="#beefde"/><path d="M645.4 267.7l2.9-.3 1.9 2.7-2.9 .2z" color="#f5e5c2"/><path d="M570.6 259.2l2.6-.6 2.3 0-2.5 .6z" color="#e99c56"/><path d="M597.9 257.9l2.7-.5 2.3 1.1-2.7 .5z" color="#e9954d"/><path d="M526.2 274.9l2.4-.7 2.5-1.9-2.4 .7z" color="#e2f4e4"/><path d="M615.4 259.8l2.8-.4 2.1 1.7-2.8 .4z" color="#eaa460"/><path d="M565.7 260.1l2.5-.7 2.4-.2-2.6 .7z" color="#eaa15c"/><path d="M531.1 272.3l2.4-.8 2.5-1.7-2.4 .8z" color="#eff0d9"/><path d="M560.7 261.1l2.5-.6 2.5-.4-2.6 .6z" color="#eaa865"/><path d="M536 269.8l2.4-.7 2.5-1.5-2.4 .8z" color="#f5e9c8"/><path d="M555.8 262.4l2.5-.6 2.4-.7-2.5 .7z" color="#ebb171"/><path d="M540.9 267.6l2.5-.7 2.5-1.2-2.5 .7z" color="#f2d8ad"/><path d="M593 257.6l2.7-.5 2.2 .8-2.6 .6z" color="#e99148"/><path d="M665.7 275.2l3-.2 1.7 3.3-3 .1z" color="#cbf1e0"/><path d="M550.8 263.9l2.5-.6 2.5-.9-2.5 .7z" color="#ecbc81"/><path d="M545.9 265.7l2.4-.7 2.5-1.1-2.4 .7z" color="#efc995"/><path d="M628 262.2l2.9-.4 2 2.1-2.9 .3z" color="#ebb577"/><path d="M653.2 269.9l2.9-.3 1.8 2.9-2.9 .2z" color="#f2edd1"/><path d="M610.5 258.8l2.8-.5 2.1 1.5-2.7 .5z" color="#e99b54"/><path d="M640.6 265.5l2.9-.3 1.9 2.5-2.9 .3z" color="#f1d0a0"/><path d="M588.1 257.5l2.6-.5 2.3 .6-2.7 .6z" color="#e88f45"/><path d="M583.1 257.7l2.7-.6 2.3 .4-2.7 .6z" color="#e88f45"/><path d="M623.1 260.7l2.9-.4 2 1.9-2.8 .3z" color="#eaa865"/><path d="M605.6 258l2.7-.5 2.2 1.3-2.7 .5z" color="#e9934a"/><path d="M518.8 280.1l2.3-.7 2.6-2.4-2.4 .8z" color="#afecd8"/><path d="M660.9 272.3l3-.2 1.8 3.1-3 .2z" color="#edf3e0"/><path d="M578.1 258l2.7-.6 2.3 .3-2.6 .5z" color="#e89046"/><path d="M635.7 263.5l2.9-.3 2 2.3-2.9 .3z" color="#edbe84"/><path d="M648.3 267.4l3-.2 1.9 2.7-3 .2z" color="#f3deb5"/><path d="M523.7 277l2.3-.7 2.6-2.1-2.4 .7z" color="#d0f2e1"/><path d="M573.2 258.6l2.6-.6 2.3 0-2.6 .6z" color="#e9934a"/><path d="M600.6 257.4l2.8-.5 2.2 1.1-2.7 .5z" color="#e88d43"/><path d="M528.6 274.2l2.4-.8 2.5-1.9-2.4 .8z" color="#edf3e1"/><path d="M618.2 259.4l2.8-.4 2.1 1.7-2.8 .4z" color="#e99c56"/><path d="M568.2 259.4l2.6-.6 2.4-.2-2.6 .6z" color="#e99850"/><path d="M533.5 271.5l2.4-.7 2.5-1.7-2.4 .7z" color="#f3eccf"/><path d="M563.2 260.5l2.6-.7 2.4-.4-2.5 .7z" color="#e99e59"/><path d="M538.4 269.1l2.5-.7 2.5-1.5-2.5 .7z" color="#f4deb7"/><path d="M668.7 275l3-.1 1.7 3.3-3 .1z" color="#d5f2e2"/><path d="M595.7 257.1l2.7-.5 2.2 .8-2.7 .5z" color="#e88b40"/><path d="M558.3 261.8l2.5-.7 2.4-.6-2.5 .6z" color="#eaa764"/><path d="M543.4 266.9l2.4-.7 2.5-1.2-2.4 .7z" color="#f0cd9b"/><path d="M630.9 261.8l2.8-.4 2 2.1-2.8 .4z" color="#eaae6d"/><path d="M553.3 263.3l2.5-.7 2.5-.8-2.5 .6z" color="#ebb172"/><path d="M548.3 265l2.5-.7 2.5-1-2.5 .6z" color="#edbe84"/><path d="M656.1 269.6l3-.2 1.8 2.9-3 .2z" color="#f4eacb"/><path d="M643.5 265.2l2.9-.3 1.9 2.5-2.9 .3z" color="#efc894"/><path d="M613.3 258.3l2.8-.4 2.1 1.5-2.8 .4z" color="#e9934a"/><path d="M590.7 257l2.7-.6 2.3 .7-2.7 .5z" color="#e78a3f"/><path d="M516.2 282.7l2.3-.8 2.6-2.5-2.3 .7z" color="#9fe9d2"/><path d="M626 260.3l2.8-.4 2.1 1.9-2.9 .4z" color="#eaa05b"/><path d="M585.8 257.1l2.6-.6 2.3 .5-2.6 .5z" color="#e78a3e"/><path d="M608.3 257.5l2.8-.4 2.2 1.2-2.8 .5z" color="#e88c41"/><path d="M663.9 272.1l3.1-.1 1.7 3-3 .2z" color="#eff1da"/><path d="M521.1 279.4l2.3-.8 2.6-2.3-2.3 .7z" color="#bdefdd"/><path d="M638.6 263.2l3-.3 1.9 2.3-2.9 .3z" color="#ebb678"/><path d="M580.8 257.4l2.6-.6 2.4 .3-2.7 .6z" color="#e78a3f"/><path d="M651.3 267.2l3-.3 1.8 2.7-2.9 .3z" color="#f2d6a9"/><path d="M526 276.3l2.4-.7 2.6-2.2-2.4 .8z" color="#e3f4e4"/><path d="M603.4 256.9l2.7-.5 2.2 1.1-2.7 .5z" color="#e7893e"/><path d="M575.8 258l2.6-.6 2.4 0-2.7 .6z" color="#e88c41"/><path d="M621 259l2.9-.4 2.1 1.7-2.9 .4z" color="#e9954c"/><path d="M531 273.4l2.4-.7 2.5-1.9-2.4 .7z" color="#f0efd6"/><path d="M570.8 258.8l2.6-.6 2.4-.2-2.6 .6z" color="#e88f44"/><path d="M535.9 270.8l2.4-.7 2.6-1.7-2.5 .7z" color="#f5e6c3"/><path d="M565.8 259.8l2.6-.6 2.4-.4-2.6 .6z" color="#e9954c"/><path d="M598.4 256.6l2.7-.6 2.3 .9-2.8 .5z" color="#e6873b"/><path d="M540.9 268.4l2.4-.7 2.5-1.5-2.4 .7z" color="#f1d3a4"/><path d="M633.7 261.4l2.9-.3 2 2.1-2.9 .3z" color="#eaa663"/><path d="M560.8 261.1l2.6-.7 2.4-.6-2.6 .7z" color="#e99d57"/><path d="M545.8 266.2l2.5-.6 2.5-1.3-2.5 .7z" color="#eec28a"/><path d="M555.8 262.6l2.6-.7 2.4-.8-2.5 .7z" color="#eaa764"/><path d="M550.8 264.3l2.5-.7 2.5-1-2.5 .7z" color="#ebb374"/><path d="M659.1 269.4l3-.2 1.8 2.9-3 .2z" color="#f5e6c3"/><path d="M646.4 264.9l3-.3 1.9 2.6-3 .2z" color="#edc189"/><path d="M616.1 257.9l2.8-.4 2.1 1.5-2.8 .4z" color="#e88c41"/><path d="M513.6 285.4l2.3-.7 2.6-2.8-2.3 .8z" color="#8de6cc"/><path d="M593.4 256.4l2.7-.5 2.3 .7-2.7 .5z" color="#e68639"/><path d="M518.5 281.9l2.4-.7 2.5-2.6-2.3 .8z" color="#acecd7"/><path d="M628.8 259.9l2.9-.4 2 1.9-2.8 .4z" color="#e99951"/><path d="M588.4 256.5l2.7-.5 2.3 .4-2.7 .6z" color="#e68539"/><path d="M611.1 257.1l2.8-.5 2.2 1.3-2.8 .4z" color="#e7883c"/><path d="M667 272l3-.2 1.7 3.1-3 .1z" color="#f1eed4"/><path d="M641.6 262.9l2.9-.3 1.9 2.3-2.9 .3z" color="#ebaf6e"/><path d="M523.4 278.6l2.4-.7 2.6-2.3-2.4 .7z" color="#cff1e1"/><path d="M654.3 266.9l3-.2 1.8 2.7-3 .2z" color="#f0ce9e"/><path d="M583.4 256.8l2.7-.5 2.3 .2-2.6 .6z" color="#e68639"/><path d="M606.1 256.4l2.8-.5 2.2 1.2-2.8 .4z" color="#e58538"/><path d="M528.4 275.6l2.4-.8 2.6-2.1-2.4 .7z" color="#edf3e0"/><path d="M578.4 257.4l2.7-.6 2.3 0-2.6 .6z" color="#e6873b"/><path d="M623.9 258.6l2.8-.4 2.1 1.7-2.8 .4z" color="#e88d43"/><path d="M533.4 272.7l2.4-.7 2.5-1.9-2.4 .7z" color="#f4ebcd"/><path d="M573.4 258.2l2.6-.6 2.4-.2-2.6 .6z" color="#e78a3e"/><path d="M538.3 270.1l2.5-.7 2.5-1.7-2.4 .7z" color="#f3dab0"/><path d="M568.4 259.2l2.6-.6 2.4-.4-2.6 .6z" color="#e88d42"/><path d="M636.6 261.1l3-.3 2 2.1-3 .3z" color="#e99f59"/><path d="M601.1 256l2.8-.5 2.2 .9-2.7 .5z" color="#e58336"/><path d="M511 288.4l2.3-.7 2.6-3-2.3 .7z" color="#81e2c6"/><path d="M543.3 267.7l2.5-.7 2.5-1.4-2.5 .6z" color="#efc793"/><path d="M563.4 260.4l2.6-.6 2.4-.6-2.6 .6z" color="#e9944b"/><path d="M662.1 269.2l3.1-.2 1.8 3-3.1 .1z" color="#f4dfb7"/><path d="M548.3 265.6l2.5-.7 2.5-1.3-2.5 .7z" color="#ebb779"/><path d="M558.4 261.9l2.5-.7 2.5-.8-2.6 .7z" color="#e99d57"/><path d="M649.4 264.6l3-.2 1.9 2.5-3 .3z" color="#ecb97d"/><path d="M553.3 263.6l2.6-.7 2.5-1-2.6 .7z" color="#eaa967"/><path d="M618.9 257.5l2.9-.5 2.1 1.6-2.9 .4z" color="#e7883c"/><path d="M596.1 255.9l2.8-.5 2.2 .6-2.7 .6z" color="#e48234"/><path d="M515.9 284.7l2.4-.7 2.6-2.8-2.4 .7z" color="#9be8d1"/><path d="M631.7 259.5l2.9-.4 2 2-2.9 .3z" color="#e99148"/><path d="M591.1 256l2.8-.6 2.2 .5-2.7 .5z" color="#e48133"/><path d="M613.9 256.6l2.9-.5 2.1 1.4-2.8 .4z" color="#e58437"/><path d="M520.9 281.2l2.3-.7 2.6-2.6-2.4 .7z" color="#baeedc"/><path d="M644.5 262.6l3-.3 1.9 2.3-3 .3z" color="#eaa765"/><path d="M657.3 266.7l3-.2 1.8 2.7-3 .2z" color="#efc792"/><path d="M586.1 256.3l2.7-.6 2.3 .3-2.7 .5z" color="#e48234"/><path d="M525.8 277.9l2.4-.7 2.6-2.4-2.4 .8z" color="#e2f4e4"/><path d="M608.9 255.9l2.8-.4 2.2 1.1-2.8 .5z" color="#e48133"/><path d="M581.1 256.8l2.7-.6 2.3 .1-2.7 .5z" color="#e58335"/><path d="M626.7 258.2l2.9-.4 2.1 1.7-2.9 .4z" color="#e78a3e"/><path d="M530.8 274.8l2.4-.7 2.6-2.1-2.4 .7z" color="#f0efd6"/><path d="M508.4 291.6l2.3-.7 2.6-3.2-2.3 .7z" color="#73dec0"/><path d="M576 257.6l2.7-.7 2.4-.1-2.7 .6z" color="#e58538"/><path d="M535.8 272l2.5-.7 2.5-1.9-2.5 .7z" color="#f5e4bf"/><path d="M639.6 260.8l2.9-.4 2 2.2-2.9 .3z" color="#e99850"/><path d="M571 258.6l2.6-.7 2.4-.3-2.6 .6z" color="#e6883c"/><path d="M540.8 269.4l2.5-.7 2.5-1.7-2.5 .7z" color="#f0cf9e"/><path d="M603.9 255.5l2.8-.5 2.2 .9-2.8 .5z" color="#e37f30"/><path d="M665.2 269l3-.2 1.8 3-3 .2z" color="#f2d8ac"/><path d="M566 259.8l2.6-.7 2.4-.5-2.6 .6z" color="#e88c41"/><path d="M513.3 287.7l2.4-.8 2.6-2.9-2.4 .7z" color="#8ae5ca"/><path d="M652.4 264.4l3-.3 1.9 2.6-3 .2z" color="#ebb273"/><path d="M545.8 267l2.5-.7 2.5-1.4-2.5 .7z" color="#ecbc82"/><path d="M560.9 261.2l2.6-.6 2.5-.8-2.6 .6z" color="#e9944b"/><path d="M550.8 264.9l2.6-.7 2.5-1.3-2.6 .7z" color="#eaac6b"/><path d="M555.9 262.9l2.5-.6 2.5-1.1-2.5 .7z" color="#ea9f5a"/><path d="M621.8 257l2.8-.4 2.1 1.6-2.8 .4z" color="#e58538"/><path d="M598.9 255.4l2.8-.6 2.2 .7-2.8 .5z" color="#e37e2f"/><path d="M518.3 284l2.3-.8 2.6-2.7-2.3 .7z" color="#a8ebd6"/><path d="M634.6 259.1l3-.3 2 2-3 .3z" color="#e88c41"/><path d="M616.8 256.1l2.8-.4 2.2 1.3-2.9 .5z" color="#e48132"/><path d="M593.9 255.4l2.7-.5 2.3 .5-2.8 .5z" color="#e37d2e"/><path d="M523.2 280.5l2.4-.8 2.6-2.5-2.4 .7z" color="#cbf1e0"/><path d="M647.5 262.3l3-.3 1.9 2.4-3 .2z" color="#eaa15b"/><path d="M660.3 266.5l3.1-.3 1.8 2.8-3.1 .2z" color="#edc088"/><path d="M588.8 255.7l2.7-.6 2.4 .3-2.8 .6z" color="#e37d2e"/><path d="M528.2 277.2l2.5-.7 2.5-2.4-2.4 .7z" color="#edf3e1"/><path d="M611.7 255.5l2.9-.5 2.2 1.1-2.9 .5z" color="#e37d2e"/><path d="M629.6 257.8l3-.4 2 1.7-2.9 .4z" color="#e68639"/><path d="M583.8 256.2l2.7-.6 2.3 .1-2.7 .6z" color="#e37f30"/><path d="M533.2 274.1l2.5-.7 2.6-2.1-2.5 .7z" color="#f4ebcc"/><path d="M510.7 290.9l2.3-.7 2.7-3.3-2.4 .8z" color="#7ce1c4"/><path d="M578.7 256.9l2.7-.6 2.4-.1-2.7 .6z" color="#e48132"/><path d="M538.3 271.3l2.4-.7 2.6-1.9-2.5 .7z" color="#f2d8ac"/><path d="M642.5 260.4l3-.3 2 2.2-3 .3z" color="#e99147"/><path d="M606.7 255l2.8-.5 2.2 1-2.8 .4z" color="#e27b2c"/><path d="M573.6 257.9l2.7-.6 2.4-.4-2.7 .7z" color="#e58336"/><path d="M543.3 268.7l2.5-.7 2.5-1.7-2.5 .7z" color="#eec38d"/><path d="M655.4 264.1l3-.2 1.9 2.6-3 .2z" color="#eaac6a"/><path d="M568.6 259.1l2.6-.6 2.4-.6-2.6 .7z" color="#e6873b"/><path d="M548.3 266.3l2.6-.7 2.5-1.4-2.6 .7z" color="#ebb272"/><path d="M515.7 286.9l2.3-.7 2.6-3-2.3 .8z" color="#95e7ce"/><path d="M624.6 256.6l2.9-.4 2.1 1.6-2.9 .4z" color="#e48133"/><path d="M563.5 260.6l2.6-.7 2.5-.8-2.6 .7z" color="#e88c41"/><path d="M553.4 264.2l2.5-.7 2.5-1.2-2.5 .6z" color="#eaa25e"/><path d="M558.4 262.3l2.6-.7 2.5-1-2.6 .6z" color="#e9954d"/><path d="M601.7 254.8l2.8-.5 2.2 .7-2.8 .5z" color="#e17a2b"/><path d="M520.6 283.2l2.4-.7 2.6-2.8-2.4 .8z" color="#b6eddb"/><path d="M637.6 258.8l2.9-.4 2 2-2.9 .4z" color="#e7883c"/><path d="M619.6 255.7l2.9-.5 2.1 1.4-2.8 .4z" color="#e37d2e"/><path d="M596.6 254.9l2.8-.6 2.3 .5-2.8 .6z" color="#e17a2b"/><path d="M650.5 262l3-.3 1.9 2.4-3 .3z" color="#e99a53"/><path d="M663.4 266.2l3.1-.2 1.7 2.8-3 .2z" color="#ecb97d"/><path d="M525.6 279.7l2.5-.7 2.6-2.5-2.5 .7z" color="#def4e3"/><path d="M591.5 255.1l2.8-.6 2.3 .4-2.7 .5z" color="#e17a2b"/><path d="M530.7 276.5l2.4-.8 2.6-2.3-2.5 .7z" color="#f0efd6"/><path d="M614.6 255l2.8-.5 2.2 1.2-2.8 .4z" color="#e17a2b"/><path d="M632.6 257.4l2.9-.4 2.1 1.8-3 .3z" color="#e48235"/><path d="M586.5 255.6l2.7-.6 2.3 .1-2.7 .6z" color="#e27a2b"/><path d="M535.7 273.4l2.5-.7 2.5-2.1-2.4 .7z" color="#f4e3be"/><path d="M513 290.2l2.4-.8 2.6-3.2-2.3 .7z" color="#84e3c8"/><path d="M581.4 256.3l2.7-.6 2.4-.1-2.7 .6z" color="#e27c2d"/><path d="M645.5 260.1l3-.3 2 2.2-3 .3z" color="#e88c41"/><path d="M540.7 270.6l2.5-.7 2.6-1.9-2.5 .7z" color="#f0cc9a"/><path d="M609.5 254.5l2.9-.5 2.2 1-2.9 .5z" color="#df782a"/><path d="M658.4 263.9l3.1-.3 1.9 2.6-3.1 .3z" color="#eaa561"/><path d="M576.3 257.3l2.7-.6 2.4-.4-2.7 .6z" color="#e37f31"/><path d="M545.8 268l2.5-.7 2.6-1.7-2.6 .7z" color="#ecb87c"/><path d="M571.2 258.5l2.7-.6 2.4-.6-2.7 .6z" color="#e58335"/><path d="M627.5 256.2l3-.4 2.1 1.6-3 .4z" color="#e37d2e"/><path d="M550.9 265.6l2.5-.7 2.5-1.4-2.5 .7z" color="#eaa764"/><path d="M566.1 259.9l2.6-.6 2.5-.8-2.6 .6z" color="#e6873b"/><path d="M518 286.2l2.4-.7 2.6-3-2.4 .7z" color="#a2ead3"/><path d="M555.9 263.5l2.6-.7 2.5-1.2-2.6 .7z" color="#e99951"/><path d="M561 261.6l2.6-.7 2.5-1-2.6 .7z" color="#e88d42"/><path d="M604.5 254.3l2.8-.5 2.2 .7-2.8 .5z" color="#de782a"/><path d="M640.5 258.4l3-.3 2 2-3 .3z" color="#e58538"/><path d="M523 282.5l2.5-.7 2.6-2.8-2.5 .7z" color="#c5f0df"/><path d="M622.5 255.2l2.9-.4 2.1 1.4-2.9 .4z" color="#e17a2b"/><path d="M599.4 254.3l2.8-.5 2.3 .5-2.8 .5z" color="#de772a"/><path d="M653.5 261.7l3.1-.3 1.8 2.5-3 .2z" color="#e9934a"/><path d="M528.1 279l2.4-.7 2.6-2.6-2.4 .8z" color="#ecf4e3"/><path d="M594.3 254.5l2.8-.5 2.3 .3-2.8 .6z" color="#de772a"/><path d="M617.4 254.5l2.9-.4 2.2 1.1-2.9 .5z" color="#de782a"/><path d="M635.5 257l3-.4 2 1.8-2.9 .4z" color="#e37f30"/><path d="M533.1 275.7l2.5-.7 2.6-2.3-2.5 .7z" color="#f4ebcd"/><path d="M589.2 255l2.7-.6 2.4 .1-2.8 .6z" color="#de782a"/><path d="M538.2 272.7l2.5-.7 2.5-2.1-2.5 .7z" color="#f2d7ab"/><path d="M648.5 259.8l3.1-.3 1.9 2.2-3 .3z" color="#e7883c"/><path d="M584.1 255.7l2.7-.6 2.4-.1-2.7 .6z" color="#e0792a"/><path d="M515.4 289.4l2.4-.7 2.6-3.2-2.4 .7z" color="#8de6cc"/><path d="M661.5 263.6l3.1-.2 1.9 2.6-3.1 .2z" color="#e99e59"/><path d="M612.4 254l2.8-.5 2.2 1-2.8 .5z" color="#dc7629"/><path d="M543.2 269.9l2.6-.7 2.5-1.9-2.5 .7z" color="#edc189"/><path d="M579 256.7l2.7-.6 2.4-.4-2.7 .6z" color="#e27b2b"/><path d="M548.3 267.3l2.6-.7 2.5-1.7-2.5 .7z" color="#eaae6d"/><path d="M630.5 255.8l2.9-.4 2.1 1.6-2.9 .4z" color="#e17a2b"/><path d="M573.9 257.9l2.6-.7 2.5-.5-2.7 .6z" color="#e37e30"/><path d="M553.4 264.9l2.6-.6 2.5-1.5-2.6 .7z" color="#e99d57"/><path d="M568.7 259.3l2.7-.7 2.5-.7-2.7 .6z" color="#e58335"/><path d="M558.5 262.8l2.6-.7 2.5-1.2-2.6 .7z" color="#e88f45"/><path d="M563.6 260.9l2.7-.6 2.4-1-2.6 .6z" color="#e6883c"/><path d="M520.4 285.5l2.4-.7 2.7-3-2.5 .7z" color="#afecd8"/><path d="M607.3 253.8l2.8-.5 2.3 .7-2.9 .5z" color="#db7529"/><path d="M643.5 258.1l3-.4 2 2.1-3 .3z" color="#e48133"/><path d="M525.5 281.8l2.4-.7 2.6-2.8-2.4 .7z" color="#d7f3e2"/><path d="M625.4 254.8l3-.4 2.1 1.4-3 .4z" color="#de772a"/><path d="M656.6 261.4l3-.2 1.9 2.4-3.1 .3z" color="#e88d43"/><path d="M602.2 253.8l2.8-.6 2.3 .6-2.8 .5z" color="#da7529"/><path d="M530.5 278.3l2.5-.7 2.6-2.6-2.5 .7z" color="#eff0d9"/><path d="M597.1 254l2.8-.6 2.3 .4-2.8 .5z" color="#da7529"/><path d="M638.5 256.6l3-.4 2 1.9-3 .3z" color="#e27b2c"/><path d="M620.3 254.1l3-.5 2.1 1.2-2.9 .4z" color="#db7629"/><path d="M535.6 275l2.5-.7 2.6-2.3-2.5 .7z" color="#f5e4bf"/><path d="M591.9 254.4l2.8-.5 2.4 .1-2.8 .5z" color="#db7529"/><path d="M651.6 259.5l3-.3 2 2.2-3.1 .3z" color="#e58538"/><path d="M540.7 272l2.5-.7 2.6-2.1-2.6 .7z" color="#f0cb99"/><path d="M586.8 255.1l2.8-.6 2.3-.1-2.7 .6z" color="#dd7729"/><path d="M517.8 288.7l2.4-.7 2.6-3.2-2.4 .7z" color="#9ae8d0"/><path d="M615.2 253.5l2.9-.4 2.2 1-2.9 .4z" color="#d97429"/><path d="M545.8 269.2l2.5-.7 2.6-1.9-2.6 .7z" color="#ebb678"/><path d="M581.7 256.1l2.7-.6 2.4-.4-2.7 .6z" color="#df782a"/><path d="M633.4 255.4l3-.4 2.1 1.6-3 .4z" color="#de782a"/><path d="M550.9 266.6l2.6-.7 2.5-1.6-2.6 .6z" color="#eaa460"/><path d="M576.5 257.2l2.8-.6 2.4-.5-2.7 .6z" color="#e17a2b"/><path d="M556 264.3l2.6-.7 2.5-1.5-2.6 .7z" color="#e9944b"/><path d="M571.4 258.6l2.7-.6 2.4-.8-2.6 .7z" color="#e37e2f"/><path d="M561.1 262.1l2.7-.6 2.5-1.2-2.7 .6z" color="#e78a3e"/><path d="M566.3 260.3l2.6-.7 2.5-1-2.7 .7z" color="#e58336"/><path d="M522.8 284.8l2.5-.7 2.6-3-2.4 .7z" color="#bdefdd"/><path d="M610.1 253.3l2.9-.5 2.2 .7-2.8 .5z" color="#d87328"/><path d="M646.5 257.7l3.1-.3 2 2.1-3.1 .3z" color="#e37e2f"/><path d="M628.4 254.4l2.9-.5 2.1 1.5-2.9 .4z" color="#db7529"/><path d="M659.6 261.2l3.2-.3 1.8 2.5-3.1 .2z" color="#e78a3e"/><path d="M527.9 281.1l2.5-.8 2.6-2.7-2.5 .7z" color="#eaf5e6"/><path d="M605 253.2l2.9-.5 2.2 .6-2.8 .5z" color="#d77328"/><path d="M533 277.6l2.5-.7 2.6-2.6-2.5 .7z" color="#f3eccf"/><path d="M599.9 253.4l2.8-.5 2.3 .3-2.8 .6z" color="#d77328"/><path d="M641.5 256.2l3-.3 2 1.8-3 .4z" color="#e0792a"/><path d="M623.3 253.6l2.9-.4 2.2 1.2-3 .4z" color="#d87328"/><path d="M538.1 274.3l2.5-.7 2.6-2.3-2.5 .7z" color="#f2d8ac"/><path d="M594.7 253.9l2.8-.6 2.4 .1-2.8 .6z" color="#d87328"/><path d="M654.6 259.2l3.1-.3 1.9 2.3-3 .2z" color="#e48234"/><path d="M543.2 271.3l2.6-.7 2.5-2.1-2.5 .7z" color="#edc088"/><path d="M589.6 254.5l2.8-.5 2.3-.1-2.8 .5z" color="#d97429"/><path d="M618.1 253.1l3-.5 2.2 1-3 .5z" color="#d67228"/><path d="M520.2 288l2.5-.7 2.6-3.2-2.5 .7z" color="#a7ebd5"/><path d="M548.3 268.5l2.6-.7 2.6-1.9-2.6 .7z" color="#eaac6a"/><path d="M584.4 255.5l2.8-.7 2.4-.3-2.8 .6z" color="#db7629"/><path d="M636.4 255l3-.4 2.1 1.6-3 .4z" color="#dc7629"/><path d="M553.5 265.9l2.6-.7 2.5-1.6-2.6 .7z" color="#e99a53"/><path d="M579.3 256.6l2.7-.6 2.4-.5-2.7 .6z" color="#de782a"/><path d="M558.6 263.6l2.7-.7 2.5-1.4-2.7 .6z" color="#e88c41"/><path d="M574.1 258l2.7-.6 2.5-.8-2.8 .6z" color="#e17a2b"/><path d="M563.8 261.5l2.6-.7 2.5-1.2-2.6 .7z" color="#e58538"/><path d="M568.9 259.6l2.7-.6 2.5-1-2.7 .6z" color="#e37f30"/><path d="M613 252.8l2.9-.5 2.2 .8-2.9 .4z" color="#d57128"/><path d="M525.3 284.1l2.5-.8 2.6-3-2.5 .8z" color="#cff1e1"/><path d="M649.6 257.4l3.1-.3 1.9 2.1-3 .3z" color="#e27b2b"/><path d="M631.3 253.9l3-.4 2.1 1.5-3 .4z" color="#d87328"/><path d="M607.9 252.7l2.9-.5 2.2 .6-2.9 .5z" color="#d47027"/><path d="M530.4 280.3l2.5-.7 2.6-2.7-2.5 .7z" color="#eef1dc"/><path d="M602.7 252.9l2.9-.6 2.3 .4-2.9 .5z" color="#d47027"/><path d="M535.5 276.9l2.5-.7 2.6-2.6-2.5 .7z" color="#f5e6c3"/><path d="M644.5 255.9l3.1-.4 2 1.9-3.1 .3z" color="#dd772a"/><path d="M626.2 253.2l3-.5 2.1 1.2-2.9 .5z" color="#d67128"/><path d="M597.5 253.3l2.9-.6 2.3 .2-2.8 .5z" color="#d57127"/><path d="M540.6 273.6l2.6-.7 2.6-2.3-2.6 .7z" color="#f0cc9a"/><path d="M657.7 258.9l3.1-.3 2 2.3-3.2 .3z" color="#e37f30"/><path d="M592.4 254l2.8-.6 2.3-.1-2.8 .6z" color="#d67228"/><path d="M545.8 270.6l2.5-.7 2.6-2.1-2.6 .7z" color="#ebb577"/><path d="M621.1 252.6l2.9-.5 2.2 1.1-2.9 .4z" color="#d47027"/><path d="M639.4 254.6l3.1-.4 2 1.7-3 .3z" color="#d97429"/><path d="M587.2 254.8l2.8-.6 2.4-.2-2.8 .5z" color="#d87328"/><path d="M522.7 287.3l2.4-.7 2.7-3.3-2.5 .8z" color="#b5edda"/><path d="M550.9 267.8l2.6-.7 2.6-1.9-2.6 .7z" color="#eaa25d"/><path d="M582 256l2.8-.6 2.4-.6-2.8 .7z" color="#db7529"/><path d="M556.1 265.2l2.6-.7 2.6-1.6-2.7 .7z" color="#e89046"/><path d="M576.8 257.4l2.8-.7 2.4-.7-2.7 .6z" color="#de772a"/><path d="M561.3 262.9l2.6-.7 2.5-1.4-2.6 .7z" color="#e6873b"/><path d="M615.9 252.3l3-.5 2.2 .8-3 .5z" color="#d26f27"/><path d="M571.6 259l2.7-.7 2.5-.9-2.7 .6z" color="#e27a2b"/><path d="M566.4 260.8l2.7-.6 2.5-1.2-2.7 .6z" color="#e48032"/><path d="M652.7 257.1l3.1-.3 1.9 2.1-3.1 .3z" color="#df792a"/><path d="M527.8 283.3l2.5-.7 2.6-3-2.5 .7z" color="#e1f4e4"/><path d="M634.3 253.5l3-.4 2.1 1.5-3 .4z" color="#d67128"/><path d="M610.8 252.2l2.9-.5 2.2 .6-2.9 .5z" color="#d16e27"/><path d="M532.9 279.6l2.5-.7 2.6-2.7-2.5 .7z" color="#f2edd2"/><path d="M605.6 252.3l2.9-.5 2.3 .4-2.9 .5z" color="#d16e27"/><path d="M647.6 255.5l3.1-.3 2 1.9-3.1 .3z" color="#db7529"/><path d="M629.2 252.7l3-.4 2.1 1.2-3 .4z" color="#d36f27"/><path d="M538 276.2l2.6-.7 2.6-2.6-2.6 .7z" color="#f3dab0"/><path d="M600.4 252.7l2.8-.5 2.4 .1-2.9 .6z" color="#d26f27"/><path d="M543.2 272.9l2.6-.7 2.5-2.3-2.5 .7z" color="#edc189"/><path d="M595.2 253.4l2.8-.6 2.4-.1-2.9 .6z" color="#d36f27"/><path d="M624 252.1l3-.4 2.2 1-3 .5z" color="#d16e26"/><path d="M548.3 269.9l2.7-.7 2.5-2.1-2.6 .7z" color="#eaab69"/><path d="M642.5 254.2l3-.4 2.1 1.7-3.1 .4z" color="#d67228"/><path d="M590 254.2l2.8-.5 2.4-.3-2.8 .6z" color="#d57127"/><path d="M525.1 286.6l2.5-.7 2.7-3.3-2.5 .7z" color="#c4f0df"/><path d="M553.5 267.1l2.7-.7 2.5-1.9-2.6 .7z" color="#e99850"/><path d="M584.8 255.4l2.8-.6 2.4-.6-2.8 .6z" color="#d77328"/><path d="M558.7 264.5l2.7-.6 2.5-1.7-2.6 .7z" color="#e78a3f"/><path d="M579.6 256.7l2.7-.6 2.5-.7-2.8 .6z" color="#da7529"/><path d="M618.9 251.8l2.9-.5 2.2 .8-2.9 .5z" color="#cf6d26"/><path d="M563.9 262.2l2.7-.6 2.5-1.4-2.7 .6z" color="#e58235"/><path d="M655.8 256.8l3.1-.3 1.9 2.1-3.1 .3z" color="#dd772a"/><path d="M574.3 258.3l2.8-.6 2.5-1-2.8 .7z" color="#de782a"/><path d="M569.1 260.2l2.8-.7 2.4-1.2-2.7 .7z" color="#e27c2c"/><path d="M530.3 282.6l2.5-.7 2.6-3-2.5 .7z" color="#edf4e1"/><path d="M637.3 253.1l3.1-.4 2.1 1.5-3.1 .4z" color="#d36f27"/><path d="M613.7 251.7l2.9-.5 2.3 .6-3 .5z" color="#ce6c26"/><path d="M535.4 278.9l2.6-.7 2.6-2.7-2.6 .7z" color="#f5e9c8"/><path d="M650.7 255.2l3.1-.3 2 1.9-3.1 .3z" color="#d87328"/><path d="M608.5 251.8l2.9-.5 2.3 .4-2.9 .5z" color="#ce6c26"/><path d="M632.2 252.3l3-.5 2.1 1.3-3 .4z" color="#d06d26"/><path d="M540.6 275.5l2.5-.7 2.7-2.6-2.6 .7z" color="#f0cf9e"/><path d="M603.2 252.2l2.9-.6 2.4 .2-2.9 .5z" color="#cf6c26"/><path d="M545.8 272.2l2.6-.7 2.6-2.3-2.7 .7z" color="#ebb678"/><path d="M627 251.7l3-.5 2.2 1.1-3 .4z" color="#ce6c26"/><path d="M598 252.8l2.9-.6 2.3 0-2.8 .5z" color="#d06d26"/><path d="M645.5 253.8l3.1-.3 2.1 1.7-3.1 .3z" color="#d47027"/><path d="M551 269.2l2.6-.7 2.6-2.1-2.7 .7z" color="#eaa15c"/><path d="M592.8 253.7l2.8-.6 2.4-.3-2.8 .6z" color="#d26e27"/><path d="M556.2 266.4l2.6-.7 2.6-1.8-2.7 .6z" color="#e88e44"/><path d="M527.6 285.9l2.5-.7 2.7-3.3-2.5 .7z" color="#d6f3e2"/><path d="M587.6 254.8l2.8-.7 2.4-.4-2.8 .5z" color="#d47027"/><path d="M561.4 263.9l2.7-.7 2.5-1.6-2.7 .6z" color="#e68538"/><path d="M621.8 251.3l3-.5 2.2 .9-3 .4z" color="#cb6b26"/><path d="M582.3 256.1l2.8-.6 2.5-.7-2.8 .6z" color="#d77228"/><path d="M566.6 261.6l2.7-.7 2.6-1.4-2.8 .7z" color="#e37e2f"/><path d="M577.1 257.7l2.8-.7 2.4-.9-2.7 .6z" color="#db7529"/><path d="M571.9 259.5l2.7-.6 2.5-1.2-2.8 .6z" color="#df792a"/><path d="M640.4 252.7l3.1-.4 2 1.5-3 .4z" color="#d06d26"/><path d="M532.8 281.9l2.5-.7 2.7-3-2.6 .7z" color="#f0efd7"/><path d="M616.6 251.2l3-.5 2.2 .6-2.9 .5z" color="#ca6a26"/><path d="M538 278.2l2.5-.7 2.6-2.7-2.5 .7z" color="#f4deb7"/><path d="M653.8 254.9l3.1-.4 2 2-3.1 .3z" color="#d67128"/><path d="M611.4 251.3l2.9-.6 2.3 .5-2.9 .5z" color="#c96a26"/><path d="M635.2 251.8l3.1-.4 2.1 1.3-3.1 .4z" color="#cd6b26"/><path d="M543.1 274.8l2.7-.7 2.6-2.6-2.6 .7z" color="#eec48d"/><path d="M606.1 251.6l3-.5 2.3 .2-2.9 .5z" color="#ca6a26"/><path d="M548.4 271.5l2.6-.7 2.6-2.3-2.6 .7z" color="#eaac6a"/><path d="M630 251.2l3.1-.4 2.1 1-3 .5z" color="#c96a26"/><path d="M600.9 252.2l2.9-.5 2.3-.1-2.9 .6z" color="#cc6b26"/><path d="M648.6 253.5l3.2-.4 2 1.8-3.1 .3z" color="#d16e27"/><path d="M553.6 268.5l2.7-.7 2.5-2.1-2.6 .7z" color="#e9974f"/><path d="M595.6 253.1l2.9-.6 2.4-.3-2.9 .6z" color="#ce6c26"/><path d="M558.8 265.7l2.7-.6 2.6-1.9-2.7 .7z" color="#e7893d"/><path d="M590.4 254.1l2.8-.6 2.4-.4-2.8 .6z" color="#d16e26"/><path d="M530.1 285.2l2.6-.7 2.6-3.3-2.5 .7z" color="#e8f5e5"/><path d="M624.8 250.8l3-.5 2.2 .9-3 .5z" color="#c66825"/><path d="M564.1 263.2l2.7-.7 2.5-1.6-2.7 .7z" color="#e48133"/><path d="M585.1 255.5l2.8-.6 2.5-.8-2.8 .7z" color="#d47027"/><path d="M569.3 260.9l2.8-.6 2.5-1.4-2.7 .6z" color="#e17a2b"/><path d="M579.9 257l2.8-.6 2.4-.9-2.8 .6z" color="#d87328"/><path d="M574.6 258.9l2.8-.7 2.5-1.2-2.8 .7z" color="#dc7629"/><path d="M643.5 252.3l3.1-.4 2 1.6-3.1 .3z" color="#cd6c26"/><path d="M535.3 281.2l2.6-.7 2.6-3-2.5 .7z" color="#f3ebcd"/><path d="M619.6 250.7l3-.5 2.2 .6-3 .5z" color="#c56825"/><path d="M540.5 277.5l2.6-.7 2.7-2.7-2.7 .7z" color="#f1d3a5"/><path d="M614.3 250.7l3-.5 2.3 .5-3 .5z" color="#c46725"/><path d="M638.3 251.4l3.1-.4 2.1 1.3-3.1 .4z" color="#c86925"/><path d="M545.8 274.1l2.6-.7 2.6-2.6-2.6 .7z" color="#ecb87c"/><path d="M609.1 251.1l2.9-.6 2.3 .2-2.9 .6z" color="#c56825"/><path d="M633.1 250.8l3-.5 2.2 1.1-3.1 .4z" color="#c56725"/><path d="M551 270.8l2.7-.7 2.6-2.3-2.7 .7z" color="#eaa25d"/><path d="M603.8 251.7l2.9-.6 2.4 0-3 .5z" color="#c76825"/><path d="M651.8 253.1l3.1-.3 2 1.7-3.1 .4z" color="#cf6c26"/><path d="M556.3 267.8l2.6-.7 2.6-2-2.7 .6z" color="#e88e43"/><path d="M598.5 252.5l2.9-.6 2.4-.2-2.9 .5z" color="#c96a26"/><path d="M561.5 265.1l2.7-.7 2.6-1.9-2.7 .7z" color="#e58437"/><path d="M593.2 253.5l2.9-.5 2.4-.5-2.9 .6z" color="#cd6c26"/><path d="M627.8 250.3l3.1-.4 2.2 .9-3.1 .4z" color="#c26625"/><path d="M532.7 284.5l2.5-.7 2.7-3.3-2.6 .7z" color="#eef2dd"/><path d="M566.8 262.5l2.7-.6 2.6-1.6-2.8 .6z" color="#e27c2d"/><path d="M587.9 254.9l2.9-.7 2.4-.7-2.8 .6z" color="#d16e26"/><path d="M572.1 260.3l2.8-.7 2.5-1.4-2.8 .7z" color="#dd772a"/><path d="M582.7 256.4l2.8-.6 2.4-.9-2.8 .6z" color="#d47027"/><path d="M577.4 258.2l2.8-.6 2.5-1.2-2.8 .6z" color="#d87428"/><path d="M646.6 251.9l3.1-.3 2.1 1.5-3.2 .4z" color="#c96a26"/><path d="M622.6 250.2l3-.5 2.2 .6-3 .5z" color="#c06525"/><path d="M537.9 280.5l2.6-.7 2.6-3-2.6 .7z" color="#f5e4c0"/><path d="M641.4 251l3.1-.4 2.1 1.3-3.1 .4z" color="#c46725"/><path d="M617.3 250.2l3-.5 2.3 .5-3 .5z" color="#c06525"/><path d="M543.1 276.8l2.7-.7 2.6-2.7-2.6 .7z" color="#efc893"/><path d="M612 250.5l3-.5 2.3 .2-3 .5z" color="#c06525"/><path d="M548.4 273.4l2.6-.7 2.7-2.6-2.7 .7z" color="#eaae6d"/><path d="M636.1 250.3l3.1-.4 2.2 1.1-3.1 .4z" color="#c06525"/><path d="M606.7 251.1l3-.6 2.3 0-2.9 .6z" color="#c26625"/><path d="M553.7 270.1l2.6-.6 2.6-2.4-2.6 .7z" color="#e99850"/><path d="M601.4 251.9l3-.6 2.3-.2-2.9 .6z" color="#c46725"/><path d="M558.9 267.1l2.8-.6 2.5-2.1-2.7 .7z" color="#e7893d"/><path d="M630.9 249.9l3.1-.5 2.1 .9-3 .5z" color="#bd6425"/><path d="M596.1 253l2.9-.6 2.4-.5-2.9 .6z" color="#c86925"/><path d="M564.2 264.4l2.8-.7 2.5-1.8-2.7 .6z" color="#e48031"/><path d="M535.2 283.8l2.6-.7 2.7-3.3-2.6 .7z" color="#f1eed3"/><path d="M590.8 254.2l2.9-.6 2.4-.6-2.9 .5z" color="#cd6b26"/><path d="M569.5 261.9l2.8-.7 2.6-1.6-2.8 .7z" color="#e0792a"/><path d="M649.7 251.6l3.2-.4 2 1.6-3.1 .3z" color="#c56825"/><path d="M585.5 255.8l2.8-.6 2.5-1-2.9 .7z" color="#d16e26"/><path d="M574.9 259.6l2.8-.6 2.5-1.4-2.8 .6z" color="#da7529"/><path d="M580.2 257.6l2.8-.7 2.5-1.1-2.8 .6z" color="#d57128"/><path d="M625.6 249.7l3.1-.5 2.2 .7-3.1 .4z" color="#bc6325"/><path d="M540.5 279.8l2.6-.6 2.7-3.1-2.7 .7z" color="#f2d9ae"/><path d="M644.5 250.6l3.1-.4 2.1 1.4-3.1 .3z" color="#c06525"/><path d="M620.3 249.7l3-.5 2.3 .5-3 .5z" color="#bb6325"/><path d="M545.8 276.1l2.6-.6 2.6-2.8-2.6 .7z" color="#edbc82"/><path d="M615 250l3-.5 2.3 .2-3 .5z" color="#bb6325"/><path d="M551 272.7l2.7-.7 2.6-2.5-2.6 .6z" color="#eaa460"/><path d="M639.2 249.9l3.2-.4 2.1 1.1-3.1 .4z" color="#bc6325"/><path d="M609.7 250.5l3-.5 2.3 0-3 .5z" color="#bd6425"/><path d="M556.3 269.5l2.8-.7 2.6-2.3-2.8 .6z" color="#e88e44"/><path d="M604.4 251.3l2.9-.5 2.4-.3-3 .6z" color="#bf6525"/><path d="M561.7 266.5l2.7-.7 2.6-2.1-2.8 .7z" color="#e58437"/><path d="M634 249.4l3.1-.4 2.1 .9-3.1 .4z" color="#b96225"/><path d="M599 252.4l3-.6 2.4-.5-3 .6z" color="#c36725"/><path d="M567 263.7l2.8-.6 2.5-1.9-2.8 .7z" color="#e27b2c"/><path d="M593.7 253.6l2.9-.6 2.4-.6-2.9 .6z" color="#c86925"/><path d="M572.3 261.2l2.8-.6 2.6-1.6-2.8 .6z" color="#dc7629"/><path d="M537.8 283.1l2.6-.7 2.7-3.2-2.6 .6z" color="#f5eaca"/><path d="M588.3 255.2l2.9-.6 2.5-1-2.9 .6z" color="#cd6c26"/><path d="M577.7 259l2.8-.7 2.5-1.4-2.8 .7z" color="#d77228"/><path d="M583 256.9l2.9-.6 2.4-1.1-2.8 .6z" color="#d26f27"/><path d="M628.7 249.2l3-.5 2.3 .7-3.1 .5z" color="#b76125"/><path d="M543.1 279.2l2.7-.7 2.6-3-2.6 .6z" color="#f0cd9c"/><path d="M647.6 250.2l3.2-.4 2.1 1.4-3.2 .4z" color="#bc6325"/><path d="M623.3 249.2l3.1-.5 2.3 .5-3.1 .5z" color="#b66125"/><path d="M548.4 275.5l2.7-.7 2.6-2.8-2.7 .7z" color="#ebb272"/><path d="M618 249.5l3.1-.5 2.2 .2-3 .5z" color="#b76125"/><path d="M553.7 272l2.7-.7 2.7-2.5-2.8 .7z" color="#e99a53"/><path d="M642.4 249.5l3.1-.5 2.1 1.2-3.1 .4z" color="#b86125"/><path d="M612.7 250l3-.5 2.3 0-3 .5z" color="#b86125"/><path d="M559.1 268.8l2.7-.7 2.6-2.3-2.7 .7z" color="#e7893d"/><path d="M607.3 250.8l3-.6 2.4-.2-3 .5z" color="#ba6325"/><path d="M564.4 265.8l2.8-.7 2.6-2-2.8 .6z" color="#e37f31"/><path d="M637.1 249l3.1-.5 2.2 1-3.2 .4z" color="#b56024"/><path d="M602 251.8l2.9-.6 2.4-.4-2.9 .5z" color="#be6425"/><path d="M569.8 263.1l2.8-.7 2.5-1.8-2.8 .6z" color="#df782a"/><path d="M596.6 253l2.9-.6 2.5-.6-3 .6z" color="#c26625"/><path d="M575.1 260.6l2.8-.7 2.6-1.6-2.8 .7z" color="#d97428"/><path d="M540.4 282.4l2.7-.7 2.7-3.2-2.7 .7z" color="#f4e0ba"/><path d="M591.2 254.6l2.9-.7 2.5-.9-2.9 .6z" color="#c86925"/><path d="M580.5 258.3l2.8-.6 2.6-1.4-2.9 .6z" color="#d37027"/><path d="M585.9 256.3l2.8-.6 2.5-1.1-2.9 .6z" color="#cf6c26"/><path d="M631.7 248.7l3.2-.5 2.2 .8-3.1 .4z" color="#b35f24"/><path d="M545.8 278.5l2.6-.7 2.7-3-2.7 .7z" color="#eec28b"/><path d="M626.4 248.7l3.1-.5 2.2 .5-3 .5z" color="#b25f24"/><path d="M551.1 274.8l2.7-.7 2.6-2.8-2.7 .7z" color="#eaa865"/><path d="M621.1 249l3-.5 2.3 .2-3.1 .5z" color="#b25f24"/><path d="M645.5 249l3.2-.4 2.1 1.2-3.2 .4z" color="#b35f24"/><path d="M556.4 271.3l2.8-.6 2.6-2.6-2.7 .7z" color="#e99047"/><path d="M615.7 249.5l3-.6 2.4 .1-3.1 .5z" color="#b35f24"/><path d="M561.8 268.1l2.8-.7 2.6-2.3-2.8 .7z" color="#e58437"/><path d="M610.3 250.2l3-.5 2.4-.2-3 .5z" color="#b66025"/><path d="M640.2 248.5l3.2-.4 2.1 .9-3.1 .5z" color="#b05e24"/><path d="M567.2 265.1l2.8-.6 2.6-2.1-2.8 .7z" color="#e27b2b"/><path d="M604.9 251.2l3-.6 2.4-.4-3 .6z" color="#b96225"/><path d="M572.6 262.4l2.8-.6 2.5-1.9-2.8 .7z" color="#db7629"/><path d="M599.5 252.4l3-.5 2.4-.7-2.9 .6z" color="#bd6425"/><path d="M577.9 259.9l2.9-.6 2.5-1.6-2.8 .6z" color="#d57128"/><path d="M594.1 253.9l3-.6 2.4-.9-2.9 .6z" color="#c36725"/><path d="M583.3 257.7l2.9-.6 2.5-1.4-2.8 .6z" color="#d06d26"/><path d="M543.1 281.7l2.7-.7 2.6-3.2-2.6 .7z" color="#f2d5a7"/><path d="M588.7 255.7l3-.6 2.4-1.2-2.9 .7z" color="#c96a26"/><path d="M634.9 248.2l3.1-.4 2.2 .7-3.1 .5z" color="#af5d24"/><path d="M548.4 277.8l2.7-.7 2.7-3-2.7 .7z" color="#ebb77a"/><path d="M629.5 248.2l3.1-.5 2.3 .5-3.2 .5z" color="#ae5d24"/><path d="M553.8 274.1l2.7-.7 2.7-2.7-2.8 .6z" color="#e99e58"/><path d="M624.1 248.5l3.1-.6 2.3 .3-3.1 .5z" color="#ae5d24"/><path d="M559.2 270.7l2.8-.7 2.6-2.6-2.8 .7z" color="#e78a3f"/><path d="M618.7 248.9l3.1-.5 2.3 .1-3 .5z" color="#af5d24"/><path d="M564.6 267.4l2.8-.6 2.6-2.3-2.8 .6z" color="#e48031"/><path d="M613.3 249.7l3.1-.6 2.3-.2-3 .6z" color="#b15e24"/><path d="M643.4 248.1l3.2-.4 2.1 .9-3.2 .4z" color="#ad5c24"/><path d="M570 264.5l2.8-.7 2.6-2-2.8 .6z" color="#df782a"/><path d="M607.9 250.6l3-.5 2.4-.4-3 .5z" color="#b46024"/><path d="M575.4 261.8l2.9-.7 2.5-1.8-2.9 .6z" color="#d87328"/><path d="M602.5 251.9l3-.6 2.4-.7-3 .6z" color="#b86225"/><path d="M580.8 259.3l2.9-.7 2.5-1.5-2.9 .6z" color="#d26f27"/><path d="M597.1 253.3l3-.6 2.4-.8-3 .5z" color="#be6425"/><path d="M586.2 257.1l2.9-.7 2.6-1.3-3 .6z" color="#cc6b26"/><path d="M591.7 255.1l2.9-.6 2.5-1.2-3 .6z" color="#c46725"/><path d="M545.8 281l2.7-.6 2.6-3.3-2.7 .7z" color="#efc996"/><path d="M638 247.8l3.2-.5 2.2 .8-3.2 .4z" color="#ac5c24"/><path d="M551.1 277.1l2.8-.6 2.6-3.1-2.7 .7z" color="#eaad6c"/><path d="M632.6 247.7l3.2-.4 2.2 .5-3.1 .4z" color="#ab5b23"/><path d="M556.5 273.4l2.8-.6 2.7-2.8-2.8 .7z" color="#e9944b"/><path d="M627.2 247.9l3.2-.5 2.2 .3-3.1 .5z" color="#ab5b23"/><path d="M562 270l2.8-.7 2.6-2.5-2.8 .6z" color="#e68539"/><path d="M621.8 248.4l3.1-.5 2.3 0-3.1 .6z" color="#ac5c24"/><path d="M567.4 266.8l2.8-.7 2.6-2.3-2.8 .7z" color="#e27b2c"/><path d="M616.4 249.1l3.1-.5 2.3-.2-3.1 .5z" color="#ad5c24"/><path d="M572.8 263.8l2.9-.6 2.6-2.1-2.9 .7z" color="#db7529"/><path d="M610.9 250.1l3.1-.6 2.4-.4-3.1 .6z" color="#af5d24"/><path d="M578.3 261.1l2.8-.6 2.6-1.9-2.9 .7z" color="#d57127"/><path d="M605.5 251.3l3-.6 2.4-.6-3 .5z" color="#b35f24"/><path d="M583.7 258.6l2.9-.6 2.5-1.6-2.9 .7z" color="#cf6c26"/><path d="M600.1 252.7l3-.5 2.4-.9-3 .6z" color="#b96225"/><path d="M589.1 256.4l3-.6 2.5-1.3-2.9 .6z" color="#c66825"/><path d="M594.6 254.5l3-.6 2.5-1.2-3 .6z" color="#bf6525"/><path d="M641.2 247.3l3.2-.4 2.2 .8-3.2 .4z" color="#a95a23"/><path d="M548.5 280.4l2.7-.7 2.7-3.2-2.8 .6z" color="#edbe85"/><path d="M635.8 247.3l3.2-.5 2.2 .5-3.2 .5z" color="#a85a23"/><path d="M553.9 276.5l2.7-.7 2.7-3-2.8 .6z" color="#eaa35e"/><path d="M630.4 247.4l3.1-.4 2.3 .3-3.2 .4z" color="#a85a23"/><path d="M559.3 272.8l2.8-.7 2.7-2.8-2.8 .7z" color="#e88c41"/><path d="M624.9 247.9l3.2-.5 2.3 0-3.2 .5z" color="#a85a23"/><path d="M564.8 269.3l2.8-.6 2.6-2.6-2.8 .7z" color="#e48133"/><path d="M619.5 248.6l3.1-.6 2.3-.1-3.1 .5z" color="#aa5b23"/><path d="M570.2 266.1l2.9-.6 2.6-2.3-2.9 .6z" color="#df782a"/><path d="M614 249.5l3.1-.5 2.4-.4-3.1 .5z" color="#ac5c24"/><path d="M575.7 263.2l2.9-.7 2.5-2-2.8 .6z" color="#d87328"/><path d="M608.5 250.7l3.1-.6 2.4-.6-3.1 .6z" color="#af5d24"/><path d="M581.1 260.5l3-.7 2.5-1.8-2.9 .6z" color="#d16e27"/><path d="M603.1 252.2l3-.6 2.4-.9-3 .6z" color="#b45f24"/><path d="M586.6 258l3-.6 2.5-1.6-3 .6z" color="#ca6a26"/><path d="M597.6 253.9l3-.6 2.5-1.1-3 .5z" color="#ba6225"/><path d="M592.1 255.8l3-.6 2.5-1.3-3 .6z" color="#c16625"/><path d="M551.2 279.7l2.8-.6 2.6-3.3-2.7 .7z" color="#ebb475"/><path d="M639 246.8l3.2-.5 2.2 .6-3.2 .4z" color="#a55922"/><path d="M556.6 275.8l2.8-.7 2.7-3-2.8 .7z" color="#e99952"/><path d="M633.5 247l3.2-.5 2.3 .3-3.2 .5z" color="#a55922"/><path d="M562.1 272.1l2.8-.7 2.7-2.7-2.8 .6z" color="#e6873b"/><path d="M628.1 247.4l3.1-.5 2.3 .1-3.1 .4z" color="#a55922"/><path d="M567.6 268.7l2.8-.7 2.7-2.5-2.9 .6z" color="#e27c2d"/><path d="M622.6 248l3.1-.5 2.4-.1-3.2 .5z" color="#a65a23"/><path d="M573.1 265.5l2.9-.7 2.6-2.3-2.9 .7z" color="#db7629"/><path d="M617.1 249l3.1-.6 2.4-.4-3.1 .6z" color="#a95a23"/><path d="M578.6 262.5l2.9-.6 2.6-2.1-3 .7z" color="#d47027"/><path d="M611.6 250.1l3.1-.5 2.4-.6-3.1 .5z" color="#ab5c23"/><path d="M584.1 259.8l2.9-.6 2.6-1.8-3 .6z" color="#ce6c26"/><path d="M606.1 251.6l3.1-.6 2.4-.9-3.1 .6z" color="#af5d24"/><path d="M589.6 257.4l2.9-.6 2.6-1.6-3 .6z" color="#c46725"/><path d="M600.6 253.3l3-.6 2.5-1.1-3 .6z" color="#b56024"/><path d="M595.1 255.2l3-.6 2.5-1.3-3 .6z" color="#bc6325"/><path d="M554 279.1l2.8-.7 2.6-3.3-2.8 .7z" color="#eaaa67"/><path d="M559.4 275.1l2.9-.6 2.6-3.1-2.8 .7z" color="#e89046"/><path d="M636.7 246.5l3.2-.5 2.3 .3-3.2 .5z" color="#a15722"/><path d="M564.9 271.4l2.9-.6 2.6-2.8-2.8 .7z" color="#e58335"/><path d="M631.2 246.9l3.2-.5 2.3 .1-3.2 .5z" color="#a25822"/><path d="M570.4 268l2.9-.6 2.7-2.6-2.9 .7z" color="#e0792a"/><path d="M625.7 247.5l3.2-.5 2.3-.1-3.1 .5z" color="#a35822"/><path d="M576 264.8l2.9-.6 2.6-2.3-2.9 .6z" color="#d87328"/><path d="M620.2 248.4l3.2-.5 2.3-.4-3.1 .5z" color="#a55922"/><path d="M581.5 261.9l2.9-.6 2.6-2.1-2.9 .6z" color="#d16e26"/><path d="M614.7 249.6l3.1-.6 2.4-.6-3.1 .6z" color="#a85a23"/><path d="M587 259.2l3-.6 2.5-1.8-2.9 .6z" color="#c86925"/><path d="M609.2 251l3.1-.6 2.4-.8-3.1 .5z" color="#ab5c23"/><path d="M592.5 256.8l3.1-.6 2.5-1.6-3 .6z" color="#bf6525"/><path d="M603.6 252.7l3.1-.6 2.5-1.1-3.1 .6z" color="#b05e24"/><path d="M598.1 254.6l3-.6 2.5-1.3-3 .6z" color="#b76125"/><path d="M556.8 278.4l2.8-.7 2.7-3.2-2.9 .6z" color="#eaa05a"/><path d="M562.3 274.5l2.8-.7 2.7-3-2.9 .6z" color="#e78a3e"/><path d="M567.8 270.8l2.9-.6 2.6-2.8-2.9 .6z" color="#e37e2f"/><path d="M634.4 246.4l3.3-.5 2.2 .1-3.2 .5z" color="#9f5621"/><path d="M573.3 267.4l2.9-.7 2.7-2.5-2.9 .6z" color="#dc7629"/><path d="M628.9 247l3.2-.5 2.3-.1-3.2 .5z" color="#a05721"/><path d="M578.9 264.2l2.9-.7 2.6-2.2-2.9 .6z" color="#d57127"/><path d="M623.4 247.9l3.2-.6 2.3-.3-3.2 .5z" color="#a25822"/><path d="M584.4 261.3l3-.7 2.6-2-3 .6z" color="#cd6c26"/><path d="M617.8 249l3.2-.5 2.4-.6-3.2 .5z" color="#a55922"/><path d="M590 258.6l3-.6 2.6-1.8-3.1 .6z" color="#c36725"/><path d="M612.3 250.4l3.1-.6 2.4-.8-3.1 .6z" color="#a85a23"/><path d="M595.6 256.2l3-.7 2.5-1.5-3 .6z" color="#ba6225"/><path d="M606.7 252.1l3.1-.6 2.5-1.1-3.1 .6z" color="#ac5c24"/><path d="M601.1 254l3.1-.6 2.5-1.3-3.1 .6z" color="#b25f24"/><path d="M559.6 277.7l2.8-.6 2.7-3.3-2.8 .7z" color="#e9964e"/><path d="M565.1 273.8l2.9-.6 2.7-3-2.9 .6z" color="#e58538"/><path d="M570.7 270.2l2.9-.7 2.6-2.8-2.9 .7z" color="#e17a2b"/><path d="M576.2 266.7l3-.6 2.6-2.6-2.9 .7z" color="#d97429"/><path d="M632.1 246.5l3.3-.5 2.3-.1-3.3 .5z" color="#9d5621"/><path d="M581.8 263.5l3-.6 2.6-2.3-3 .7z" color="#d16e27"/><path d="M626.6 247.3l3.2-.5 2.3-.3-3.2 .5z" color="#9f5621"/><path d="M587.4 260.6l3-.6 2.6-2-3 .6z" color="#c86925"/><path d="M621 248.5l3.2-.6 2.4-.6-3.2 .6z" color="#a15722"/><path d="M593 258l3.1-.7 2.5-1.8-3 .7z" color="#be6425"/><path d="M615.4 249.8l3.2-.5 2.4-.8-3.2 .5z" color="#a55922"/><path d="M598.6 255.5l3.1-.6 2.5-1.5-3.1 .6z" color="#b56024"/><path d="M609.8 251.5l3.1-.6 2.5-1.1-3.1 .6z" color="#a95b23"/><path d="M604.2 253.4l3.1-.6 2.5-1.3-3.1 .6z" color="#ae5d24"/><path d="M562.4 277.1l2.9-.6 2.7-3.3-2.9 .6z" color="#e88d43"/><path d="M568 273.2l2.9-.7 2.7-3-2.9 .7z" color="#e48132"/><path d="M573.6 269.5l2.9-.6 2.7-2.8-3 .6z" color="#de772a"/><path d="M579.2 266.1l3-.6 2.6-2.6-3 .6z" color="#d57128"/><path d="M629.8 246.8l3.2-.5 2.4-.3-3.3 .5z" color="#9c5521"/><path d="M584.8 262.9l3-.6 2.6-2.3-3 .6z" color="#ce6c26"/><path d="M624.2 247.9l3.2-.5 2.4-.6-3.2 .5z" color="#9e5621"/><path d="M590.4 260l3.1-.6 2.6-2.1-3.1 .7z" color="#c36725"/><path d="M618.6 249.3l3.1-.6 2.5-.8-3.2 .6z" color="#a15722"/><path d="M596.1 257.3l3-.6 2.6-1.8-3.1 .6z" color="#b96225"/><path d="M612.9 250.9l3.2-.6 2.5-1-3.2 .5z" color="#a55922"/><path d="M601.7 254.9l3.1-.6 2.5-1.5-3.1 .6z" color="#b05e24"/><path d="M607.3 252.8l3.1-.6 2.5-1.3-3.1 .6z" color="#aa5b23"/><path d="M565.3 276.5l2.9-.7 2.7-3.3-2.9 .7z" color="#e7883c"/><path d="M570.9 272.5l3-.6 2.6-3-2.9 .6z" color="#e27c2d"/><path d="M576.5 268.9l3-.7 2.7-2.7-3 .6z" color="#da7529"/><path d="M582.2 265.5l3-.7 2.6-2.5-3 .6z" color="#d26f27"/><path d="M587.8 262.3l3.1-.6 2.6-2.3-3.1 .6z" color="#c86925"/><path d="M627.4 247.4l3.2-.6 2.4-.5-3.2 .5z" color="#9b5520"/><path d="M593.5 259.4l3.1-.6 2.5-2.1-3 .6z" color="#bd6425"/><path d="M621.7 248.7l3.3-.5 2.4-.8-3.2 .5z" color="#9e5621"/><path d="M599.1 256.7l3.1-.6 2.6-1.8-3.1 .6z" color="#b45f24"/><path d="M616.1 250.3l3.2-.5 2.4-1.1-3.1 .6z" color="#a25822"/><path d="M604.8 254.3l3.1-.6 2.5-1.5-3.1 .6z" color="#ac5c24"/><path d="M610.4 252.2l3.2-.6 2.5-1.3-3.2 .6z" color="#a75a23"/><path d="M568.2 275.8l3-.6 2.7-3.3-3 .6z" color="#e58436"/><path d="M573.9 271.9l3-.6 2.6-3.1-3 .7z" color="#e0792a"/><path d="M579.5 268.2l3-.6 2.7-2.8-3 .7z" color="#d77228"/><path d="M585.2 264.8l3-.6 2.7-2.5-3.1 .6z" color="#cf6c26"/><path d="M590.9 261.7l3-.6 2.7-2.3-3.1 .6z" color="#c36725"/><path d="M596.6 258.8l3.1-.6 2.5-2.1-3.1 .6z" color="#b86225"/><path d="M625 248.2l3.2-.6 2.4-.8-3.2 .6z" color="#9b5520"/><path d="M602.2 256.1l3.2-.6 2.5-1.8-3.1 .6z" color="#af5d24"/><path d="M619.3 249.8l3.2-.6 2.5-1-3.3 .5z" color="#9f5621"/><path d="M607.9 253.7l3.2-.5 2.5-1.6-3.2 .6z" color="#a95b23"/><path d="M613.6 251.6l3.2-.5 2.5-1.3-3.2 .5z" color="#a35822"/><path d="M571.2 275.2l3-.6 2.7-3.3-3 .6z" color="#e37f31"/><path d="M576.9 271.3l3-.6 2.6-3.1-3 .6z" color="#dc7629"/><path d="M582.5 267.6l3.1-.6 2.6-2.8-3 .6z" color="#d47027"/><path d="M588.2 264.2l3.1-.6 2.6-2.5-3 .6z" color="#ca6a26"/><path d="M593.9 261.1l3.2-.6 2.6-2.3-3.1 .6z" color="#be6425"/><path d="M599.7 258.2l3.1-.6 2.6-2.1-3.2 .6z" color="#b35f24"/><path d="M605.4 255.5l3.2-.6 2.5-1.7-3.2 .5z" color="#ab5c23"/><path d="M622.5 249.2l3.3-.5 2.4-1.1-3.2 .6z" color="#9c5521"/><path d="M611.1 253.2l3.2-.6 2.5-1.5-3.2 .5z" color="#a55922"/><path d="M616.8 251.1l3.3-.6 2.4-1.3-3.2 .6z" color="#a05721"/><path d="M574.2 274.6l3-.7 2.7-3.2-3 .6z" color="#e27b2b"/><path d="M579.9 270.7l3-.7 2.7-3-3.1 .6z" color="#d97428"/><path d="M585.6 267l3.1-.6 2.6-2.8-3.1 .6z" color="#d06d26"/><path d="M591.3 263.6l3.1-.6 2.7-2.5-3.2 .6z" color="#c56725"/><path d="M597.1 260.5l3.1-.7 2.6-2.2-3.1 .6z" color="#b96225"/><path d="M602.8 257.6l3.2-.6 2.6-2.1-3.2 .6z" color="#af5d24"/><path d="M608.6 254.9l3.2-.5 2.5-1.8-3.2 .6z" color="#a85a23"/><path d="M614.3 252.6l3.3-.6 2.5-1.5-3.3 .6z" color="#a25822"/><path d="M620.1 250.5l3.2-.6 2.5-1.2-3.3 .5z" color="#9d5521"/><path d="M577.2 273.9l3-.6 2.7-3.3-3 .7z" color="#df782a"/><path d="M582.9 270l3.1-.6 2.7-3-3.1 .6z" color="#d57128"/><path d="M588.7 266.4l3.1-.6 2.6-2.8-3.1 .6z" color="#cc6b26"/><path d="M594.4 263l3.2-.6 2.6-2.6-3.1 .7z" color="#bf6525"/><path d="M600.2 259.8l3.2-.5 2.6-2.3-3.2 .6z" color="#b45f24"/><path d="M606 257l3.2-.6 2.6-2-3.2 .5z" color="#ab5c23"/><path d="M611.8 254.4l3.2-.6 2.6-1.8-3.3 .6z" color="#a45922"/><path d="M617.6 252l3.2-.6 2.5-1.5-3.2 .6z" color="#9f5621"/><path d="M580.2 273.3l3.1-.6 2.7-3.3-3.1 .6z" color="#db7629"/><path d="M586 269.4l3.1-.6 2.7-3-3.1 .6z" color="#d26f27"/><path d="M591.8 265.8l3.1-.6 2.7-2.8-3.2 .6z" color="#c76825"/><path d="M597.6 262.4l3.2-.6 2.6-2.5-3.2 .5z" color="#ba6325"/><path d="M603.4 259.3l3.2-.6 2.6-2.3-3.2 .6z" color="#af5d24"/><path d="M609.2 256.4l3.2-.6 2.6-2-3.2 .6z" color="#a85a23"/><path d="M615 253.8l3.3-.6 2.5-1.8-3.2 .6z" color="#a15722"/><path d="M583.3 272.7l3.1-.6 2.7-3.3-3.1 .6z" color="#d87328"/><path d="M589.1 268.8l3.2-.6 2.6-3-3.1 .6z" color="#cf6c26"/><path d="M594.9 265.2l3.2-.6 2.7-2.8-3.2 .6z" color="#c26625"/><path d="M600.8 261.8l3.2-.6 2.6-2.5-3.2 .6z" color="#b56024"/><path d="M606.6 258.7l3.3-.6 2.5-2.3-3.2 .6z" color="#ab5c23"/><path d="M612.4 255.8l3.3-.6 2.6-2-3.3 .6z" color="#a45922"/><path d="M586.4 272.1l3.2-.6 2.7-3.3-3.2 .6z" color="#d57127"/><path d="M592.3 268.2l3.1-.6 2.7-3-3.2 .6z" color="#ca6a26"/><path d="M598.1 264.6l3.2-.6 2.7-2.8-3.2 .6z" color="#bc6425"/><path d="M604 261.2l3.2-.6 2.7-2.5-3.3 .6z" color="#b05e24"/><path d="M609.9 258.1l3.2-.6 2.6-2.3-3.3 .6z" color="#a85a23"/><path d="M589.6 271.5l3.1-.6 2.7-3.3-3.1 .6z" color="#d16e27"/><path d="M595.4 267.6l3.3-.6 2.6-3-3.2 .6z" color="#c56725"/><path d="M601.3 264l3.3-.6 2.6-2.8-3.2 .6z" color="#b76125"/><path d="M607.2 260.6l3.3-.6 2.6-2.5-3.2 .6z" color="#ac5c24"/><path d="M592.7 270.9l3.2-.6 2.8-3.3-3.3 .6z" color="#ce6c26"/><path d="M598.7 267l3.2-.6 2.7-3-3.3 .6z" color="#c06525"/><path d="M604.6 263.4l3.3-.6 2.6-2.8-3.3 .6z" color="#b25f24"/><path d="M595.9 270.3l3.3-.5 2.7-3.4-3.2 .6z" color="#c96926"/><path d="M601.9 266.4l3.3-.5 2.7-3.1-3.3 .6z" color="#bb6325"/><path d="M599.2 269.8l3.3-.6 2.7-3.3-3.3 .5z" color="#c46725"/></g><path d="M515 287.7l-.1-.1M514.9 287.6l-.2-.3M515.8 289l-.4-.7M515.4 288.3l-.4-.6M516 289.3l-.2-.2M515.8 289.1l0-.1M529.6 283.4l-.1-.2M529.5 283.2l-.3-.3M530.5 284.6l-.5-.6M530 284l-.4-.6M530.8 285l-.2-.2M530.6 284.8l-.1-.2M545.6 278.7l-.1-.1M545.5 278.6l-.1 0M546.7 279.9l-.5-.5M546.2 279.4l-.6-.7M547.4 280.6l-.4-.4M547 280.2l-.3-.3M564.4 274.7l-.2-.2M564.2 274.5l-.4-.4M565.8 275.9l-.8-.7M565 275.2l-.6-.5M566.2 276.3l-.3-.3M565.9 276l-.1-.1M585.4 270.2l-.3-.2M585.1 270l-.4-.3M587 271.4l-.8-.7M586.2 270.7l-.8-.5M587.7 271.9l-.5-.4M587.2 271.5l-.2-.1M514.3 286.5l-.2-.5M514.1 286l-.4-.6M514.7 287.3l-.2-.5M514.5 286.8l-.2-.3M528.8 282.2l-.3-.5M528.5 281.7l-.5-.7M529.2 282.9l-.3-.4M528.9 282.5l-.1-.3M544.6 277.4l-.3-.3M544.3 277.1l-.4-.5M545.4 278.6l-.5-.7M544.9 277.9l-.3-.5M562 272.3l-.1-.1M561.9 272.2l0 0M563.1 273.5l-.4-.6M562.7 272.9l-.7-.6M563.8 274.1l-.4-.4M563.4 273.7l-.3-.2M582.4 267.8l0-.1M582.4 267.7l-.1 0M583.9 268.9l-.6-.5M583.3 268.4l-.9-.6M584.7 269.7l-.5-.5M584.2 269.2l-.3-.3M607 263.8l-.4-.2M606.6 263.6l-.6-.4M513.7 285.4l0-.1M513.7 285.3l0 0M527.4 279.7l-.1-.2M527.3 279.5l-.1-.2M528 281l-.3-.8M527.7 280.2l-.3-.5M528 281l0 0M528 281l0 0M542.9 275l0-.1M542.9 274.9l-.1-.1M543.7 276.2l-.4-.6M543.3 275.6l-.4-.6M543.9 276.6l-.1-.2M543.8 276.4l-.1-.2M561 271l-.2-.3M560.8 270.7l-.4-.4M561.9 272.2l-.6-.7M561.3 271.5l-.3-.5M581.2 266.5l-.3-.3M580.9 266.2l-.4-.4M582.3 267.7l-.7-.8M581.6 266.9l-.4-.4M603.8 261.4l-.1-.1M603.7 261.3l-.1 0M605.3 262.6l-.7-.5M604.6 262.1l-.8-.7M606 263.2l-.4-.4M605.6 262.8l-.3-.2M526.9 278.4l-.1-.3M526.8 278.1l-.1-.5M527.2 279.3l-.2-.5M527 278.8l-.1-.4M542.4 273.7l-.1-.2M542.3 273.5l-.2-.3M542.8 274.8l-.2-.6M542.6 274.2l-.2-.5M560.1 269.7l-.3-.4M559.8 269.3l-.3-.6M560.4 270.3l-.1-.3M560.3 270l-.2-.3M580.1 265.2l-.4-.5M579.7 264.7l-.5-.6M580.5 265.8l-.3-.3M580.2 265.5l-.1-.3M602.5 260.1l-.3-.2M602.2 259.9l-.3-.4M603.6 261.3l-.6-.7M603 260.6l-.5-.5M526.7 277.1l-.1-.5M526.6 276.6l0-.5M526.7 277.6l0-.2M526.7 277.4l0-.3M542 272.4l-.1-.4M541.9 272l-.1-.3M542.1 273.2l-.1-.5M542 272.7l0-.3M558.9 267.2l0-.1M558.9 267.1l0 0M559.4 268.5l-.2-.7M559.2 267.8l-.3-.6M559.5 268.7l-.1-.1M559.4 268.6l0-.1M578.4 262.7l0-.1M578.4 262.6l0 0M579.1 264l-.3-.7M578.8 263.3l-.4-.6M579.2 264.1l-.1-.1M579.1 264l0 0M601.4 258.8l-.3-.4M601.1 258.4l-.4-.4M601.9 259.5l-.3-.4M601.6 259.1l-.2-.3M526.6 275.8l.1-.6M526.7 275.2l0-.5M526.6 276.1l0-.1M526.6 276l0-.2M541.8 271l0-.4M541.8 270.6l.1-.3M541.8 271.7l0-.4M541.8 271.3l0-.3M558.8 265.8l0-.1M558.8 265.7l0 0M558.9 267.1l0-.7M558.9 266.4l-.1-.6M578.1 261.3l-.1-.1M578 261.2l0 0M578.4 262.6l-.2-.7M578.2 261.9l-.1-.6M600.5 257.5l-.1-.5M600.4 257l-.3-.5M600.7 258l-.1-.3M600.6 257.7l-.1-.2M526.9 274.4l.2-.5M527.1 273.9l.2-.5M526.7 274.7l.1-.1M526.8 274.6l.1-.2M542.1 269.6l.1-.3M542.2 269.3l.1-.3M541.9 270.3l.1-.4M542 269.9l.1-.3M558.8 265.7l.2-.7M559 265l.1-.5M578 261.2l.1-.7M578.1 260.5l.1-.6M600.1 256l0-.4M600.1 255.6l0-.4M600.1 256.5l0-.2M600.1 256.3l0-.3M527.3 273.4l.1-.2M527.4 273.2l.3-.4M542.9 268l0-.1M542.9 267.9l.1-.1M542.3 269l.2-.4M542.5 268.6l.4-.6M559.2 264.2l.3-.5M559.5 263.7l.3-.4M559.1 264.5l0-.1M559.1 264.4l.1-.2M578.2 259.7l.3-.6M578.5 259.1l.2-.4M578.2 259.9l0-.1M578.2 259.8l0-.1M600.4 254.4l.1-.2M600.5 254.2l0-.1M600.1 255.2l.1-.3M600.2 254.9l.2-.5M543 267.8l.6-.6M543.6 267.2l.5-.5M560.6 262.5l.1-.2M560.7 262.3l.1-.1M559.8 263.3l.3-.3M560.1 263l.5-.5M579.5 257.9l.2-.1M579.7 257.8l0-.1M578.7 258.7l.3-.3M579 258.4l.5-.5M600.5 254.1l.6-.6M601.1 253.5l.4-.4M545.1 266.1l.3-.2M545.4 265.9l.1-.1M544.1 266.7l.3-.2M544.4 266.5l.5-.3M560.8 262.2l.9-.6M561.7 261.6l.5-.3M579.7 257.7l1-.6M580.7 257.1l.5-.4M602.9 252.2l.1 0M603 252.2l0 0M601.5 253.1l.4-.3M601.9 252.8l1-.6M545.8 265.6l.3-.1M546.4 265.3l.3-.1M546.9 265.1l.1-.1M562.2 261.3l.2-.1M562.6 261.1l.3-.2M563.2 260.8l.3-.1M581.2 256.7l.8-.3M582 256.4l.3-.1M582.5 256.1l.3-.1M603 252.2l.4-.2M603.9 251.8l.8-.3M547.3 264.9l.3-.1M564.3 260.4l.1-.1M583.3 255.9l.3-.1M605 251.4l.5-.2M606.6 250.9l.6-.1M628.6 249.2l-3.8 0M628.6 249.2l.1 0M633.5 249.3l-4.6-.1M628.9 249.2l-.2 0M634.8 249.3l-1.3 0M634.8 249.3l3.3 .1M641.8 249.5l-3.7-.1M618.4 253.5l.9 .1M622.6 253.7l-3.3-.1M641.8 249.5l.8 .1M646.9 249.8l-3.4-.2M643.5 249.6l-.9 0M649.7 249.9l-2.8-.1M622.6 253.7l.9 0M627.7 254l-3-.2M624.7 253.8l-1.2-.1M630.1 254.1l-2.4-.1M649.7 249.9l1.5 .1M613.1 258.3l-.2-.1M613.6 258.3l-.5 0M630.1 254.1l1.6 .1M635.7 254.5l-2.6-.2M633.1 254.3l-1.4-.1M638.6 254.7l-2.9-.2M613.6 258.3l3.4 .2M620.8 258.8l-.9-.1M619.9 258.7l-2.9-.2M621.7 258.9l-.9-.1M638.6 254.7l1.1 .1M643.6 255.1l-3.2-.3M640.4 254.8l-.7 0M647.4 255.4l-.4 0M647 255.4l-3.4-.3M648.1 255.5l-.7-.1M621.7 258.9l2.8 .2M628.2 259.4l-1.7-.2M626.5 259.2l-2-.1M630.8 259.6l-2.6-.2M648.1 255.5l3.2 .2M655.1 256.1l-2-.2M653.1 255.9l-1.8-.2M658.8 256.5l-3.7-.4M608 263.1l2 .2M613.5 263.6l-1.7-.2M611.8 263.4l-1.8-.1M616 263.8l-2.5-.2M630.8 259.6l1.1 .1M635.6 260.1l-3-.3M632.6 259.8l-.7-.1M639.3 260.4l-1-.1M638.3 260.3l-2.7-.2M640.9 260.6l-1.6-.2M658.8 256.5l.1 0M616 263.8l1.1 .1M620.6 264.2l-2.9-.2M617.7 264l-.6-.1M624.1 264.6l-.9-.1M623.2 264.5l-2.6-.3M625.7 264.8l-1.6-.2M640.9 260.6l2 .2M646.5 261.2l-2.7-.3M643.8 260.9l-.9-.1M650.1 261.6l-1-.1M649.1 261.5l-2.6-.3M652.3 261.8l-2.2-.2M574.7 275.4l-2-.2M592.4 272.1l-2.5-.3M604.1 268l2.1 .2M609.6 268.6l-1.7-.2M607.9 268.4l-1.7-.2M612.7 268.9l-3.1-.3M625.7 264.8l1.9 .2M631 265.3l-2.5-.3M628.5 265l-.9 0M634.5 265.7l-.9-.1M633.6 265.6l-2.6-.3M636.5 265.9l-2-.2M652.3 261.8l1.4 .2M657.3 262.4l-3-.4M654.3 262l-.6 0M660.9 262.8l-1.6-.2M659.3 262.6l-2-.2M664.5 263.2l-.2 0M664.3 263.2l-3.4-.4M574.7 275.4l1.2 .1M579.1 275.8l-2.4-.2M576.7 275.6l-.8-.1M582.3 276.1l-.3 0M582 276.1l-2.9-.3M582.7 276.2l-.4-.1M592.4 272.1l0 0M595.7 272.4l-3.3-.3M592.4 272.1l0 0M598.9 272.8l-1.4-.2M597.5 272.6l-1.8-.2M601.4 273.1l-2.5-.3M612.7 268.9l.2 0M616.3 269.3l-3.2-.3M613.1 269l-.2-.1M619.6 269.7l-1.6-.2M618 269.5l-1.7-.2M622.9 270.1l0 0M622.9 270.1l-3.3-.4M623 270.1l-.1 0M636.5 265.9l1.5 .2M641.4 266.5l-2.8-.3M638.6 266.2l-.6-.1M644.8 266.9l-1.4-.2M643.4 266.7l-2-.2M648.3 267.4l-.1-.1M648.2 267.3l-3.4-.4M648.6 267.4l-.3 0M582.7 276.2l2.7 .3M588.6 276.8l-1.7-.2M586.9 276.6l-1.5-.1M591.5 277.2l-2.9-.4M601.4 273.1l.7 0M605.3 273.5l-2.8-.3M602.5 273.2l-.4-.1M608.6 273.9l-1.3-.2M607.3 273.7l-2-.2M611.3 274.2l-2.7-.3M623 270.1l3.2 .4M629.5 270.9l-1.9-.3M627.6 270.6l-1.4-.1M632.9 271.3l-.7-.1M632.2 271.2l-2.7-.3M634.5 271.5l-1.6-.2M648.6 267.4l3.1 .4M655.2 268.2l-2.4-.3M652.8 267.9l-1.1-.1M658.6 268.7l-1.2-.2M657.4 268.5l-2.2-.3M662.1 269.1l-.1 0M662 269.1l-3.4-.4M662.4 269.2l-.3-.1M581.6 281.1l-.7-.1M580.9 281l-2.4-.3M582.9 281.3l-1.3-.2M591.5 277.2l.2 0M594.8 277.5l-3-.3M591.8 277.2l-.1 0M597.9 277.9l-1.5-.2M596.4 277.7l-1.6-.2M601 278.3l-.1 0M600.9 278.3l-3-.4M601.2 278.4l-.2-.1M611.3 274.2l.5 .1M614.9 274.7l-2.9-.4M612 274.3l-.2 0M618.1 275.1l-1.7-.2M616.4 274.9l-1.5-.2M621.3 275.5l-.4-.1M620.9 275.4l-2.8-.3M622.4 275.6l-1.1-.1M634.5 271.5l1.7 .2M639.5 272.1l-2.7-.3M636.8 271.8l-.6-.1M642.8 272.6l-1.6-.2M641.2 272.4l-1.7-.3M646.1 273l-.5 0M645.6 273l-2.8-.4M647.5 273.2l-1.4-.2M662.4 269.2l3.1 .4M669 270.1l-2.5-.4M666.5 269.7l-1-.1M582.9 281.3l1.7 .2M587.6 281.8l-2.2-.2M585.4 281.6l-.8-.1M590.6 282.2l-.8-.1M589.8 282.1l-2.2-.3M592.3 282.5l-1.7-.3M601.2 278.4l2.9 .3M607.1 279.1l-1.8-.2M605.3 278.9l-1.2-.2M610.2 279.5l-.6-.1M609.6 279.4l-2.5-.3M611.9 279.8l-1.7-.3M622.4 275.6l2.1 .3M627.7 276.3l-2.4-.3M625.3 276l-.8-.1M630.9 276.8l-1.4-.2M629.5 276.6l-1.8-.3M634.1 277.2l-.3 0M633.8 277.2l-2.9-.4M634.8 277.3l-.7-.1M647.5 273.2l1.9 .3M652.7 274l-2.7-.4M650 273.6l-.6-.1M656 274.4l-1.7-.2M654.3 274.2l-1.6-.2M659.4 274.9l-.9-.1M658.5 274.8l-2.5-.4M662.4 275.4l-3-.5M584.5 286.5l-1.1-.1M592.3 282.5l1.3 .1M596.5 283l-2.4-.3M594.1 282.7l-.5-.1M599.5 283.4l-1.2-.2M598.3 283.2l-1.8-.2M602.5 283.8l-.1 0M602.4 283.8l-2.9-.4M602.7 283.9l-.2-.1M611.9 279.8l1.4 .2M616.4 280.4l-2.6-.4M613.8 280l-.5 0M619.4 280.8l-1.5-.2M617.9 280.6l-1.5-.2M622.5 281.3l-.4-.1M622.1 281.2l-2.7-.4M623.8 281.5l-1.3-.2M634.8 277.3l2.5 .4M640.4 278.1l-2.4-.3M638 277.8l-.7-.1M643.6 278.6l-1.5-.2M642.1 278.4l-1.7-.3M646.9 279.1l-.6-.1M646.3 279l-2.7-.4M648.9 279.4l-2-.3M662.4 275.4l.3 0M666.1 275.9l-3.3-.5M662.8 275.4l-.1 0M669.4 276.4l-2.4-.4M667 276l-.9-.1M672.8 276.9l-1.6-.2M671.2 276.7l-1.8-.3M584.5 286.5l1.8 .3M589.2 287.2l-2.2-.3M587 286.9l-.7-.1M592.1 287.6l-1-.2M591.1 287.4l-1.9-.2M594.7 288l-2.6-.4M602.7 283.9l2.8 .4M608.4 284.7l-2-.3M606.4 284.4l-.9-.1M611.4 285.1l-1-.1M610.4 285l-2-.3M614.3 285.6l-2.9-.5M623.8 281.5l1.8 .2M628.7 282.2l-2.6-.4M626.1 281.8l-.5-.1M631.8 282.6l-1.7-.2M630.1 282.4l-1.4-.2M634.8 283.1l-.7-.1M634.1 283l-2.3-.4M637.3 283.5l-2.5-.4M648.9 279.4l1.2 .2M653.3 280.1l-2.9-.5M650.4 279.6l-.3 0M656.5 280.6l-2.1-.4M654.4 280.2l-1.1-.1M659.7 281.1l-1.3-.2M658.4 280.9l-1.9-.3M663 281.6l-.5-.1M662.5 281.5l-2.8-.4M665.1 281.9l-2.1-.3M594.7 288l.3 0M597.8 288.4l-2.7-.4M595.1 288l-.1 0M600.7 288.8l-1.7-.2M599 288.6l-1.2-.2M603.6 289.3l-.8-.1M602.8 289.2l-2.1-.4M606 289.7l-2.4-.4M614.3 285.6l.1 0M617.4 286l-3-.4M614.4 285.6l0 0M620.3 286.5l-2-.3M618.3 286.2l-.9-.2M623.3 286.9l-1.1-.1M622.2 286.8l-1.9-.3M626.3 287.4l-.2 0M626.1 287.4l-2.8-.5M627.3 287.6l-1-.2M637.3 283.5l.6 .1M641 284.1l-2.9-.5M638.1 283.6l-.2 0M644.2 284.5l-2.2-.3M642 284.2l-1-.1M647.3 285l-1.4-.2M645.9 284.8l-1.7-.3M650.4 285.6l-.6-.1M649.8 285.5l-2.5-.5M652.7 285.9l-2.3-.3M665.1 281.9l1.1 .2M669.5 282.6l-3-.5M666.5 282.1l-.3 0M672.8 283.1l-2.3-.3M670.5 282.8l-1-.2M676.1 283.7l-1.7-.3M674.4 283.4l-1.6-.3" class="cl"/><text x="31.5" y="316.7" class="zl" text-anchor="end">42</text><text x="30.5" y="293.1" class="zl" text-anchor="end">44</text><text x="29.4" y="268.8" class="zl" text-anchor="end">46</text><text x="28.3" y="243.9" class="zl" text-anchor="end">48</text><text x="27.2" y="218.2" class="zl" text-anchor="end">50</text><path d="M34.7 313.8l-2.7 1M33.7 290.2l-2.8 .9M32.6 265.9l-2.8 .8M31.5 241l-2.8 .6M30.4 215.3l-2.9 .5" class="tk"/><text transform="matrix(0.044 0.999 -0.817 0.235 15.2 281.1)" class="dh" text-anchor="middle">DH (%)</text><text transform="matrix(0.93 -0.368 0.801 0.31 28.9 337.5)" class="kl" text-anchor="middle" dy=".35em">2.4</text><text transform="matrix(0.92 -0.391 0.852 0.33 49.2 345.3)" class="kl" text-anchor="middle" dy=".35em">2.6</text><text transform="matrix(0.908 -0.418 0.91 0.352 71 353.8)" class="kl" text-anchor="middle" dy=".35em">2.8</text><text transform="matrix(0.894 -0.448 0.974 0.377 94.4 362.9)" class="kl" text-anchor="middle" dy=".35em">3.0</text><text transform="matrix(0.876 -0.482 1.047 0.406 119.7 372.7)" class="kl" text-anchor="middle" dy=".35em">3.2</text><text transform="matrix(0.935 0.354 -0.737 0.421 135.8 372.7)" class="kl" text-anchor="middle" dy=".35em">7.50</text><text transform="matrix(0.944 0.331 -0.689 0.393 156 361.1)" class="kl" text-anchor="middle" dy=".35em">7.75</text><text transform="matrix(0.95 0.311 -0.647 0.369 174.5 350.6)" class="kl" text-anchor="middle" dy=".35em">8.00</text><text transform="matrix(0.956 0.293 -0.609 0.348 191.4 340.9)" class="kl" text-anchor="middle" dy=".35em">8.25</text><text transform="matrix(0.961 0.277 -0.575 0.328 207 332.1)" class="kl" text-anchor="middle" dy=".35em">8.50</text><path d="M35.6 334.8l-2.2 .9M55.9 342.5l-2.2 .9M77.7 350.7l-2.2 1M101 359.5l-2.1 1.1M126.2 369.1l-2.1 1.2M126.2 369.1l2.7 1M146.6 357.8l2.6 .9M165.3 347.6l2.5 .8M182.4 338.2l2.5 .7M198.1 329.5l2.4 .7" class="tk"/><text transform="matrix(0.995 0.406 -1.036 0.482 59.5 361.6)" class="at" text-anchor="middle" dy=".35em"><tspan font-style="italic">X</tspan><tspan font-size="4px" dy="1">1</tspan><tspan dy="-1">: Enzyme dosage (%)</tspan></text><text transform="matrix(0.786 -0.478 1.206 0.402 185.5 358.8)" class="at" text-anchor="middle" dy=".35em"><tspan font-style="italic">X</tspan><tspan font-size="4px" dy="1">2</tspan><tspan dy="-1">: pH</tspan></text><text x="274.4" y="328.8" class="zl" text-anchor="end">40</text><text x="273.4" y="302.3" class="zl" text-anchor="end">42</text><text x="272.3" y="275.1" class="zl" text-anchor="end">44</text><text x="271.2" y="247.1" class="zl" text-anchor="end">46</text><text x="270.1" y="218.4" class="zl" text-anchor="end">48</text><path d="M277.6 325.9l-2.7 1M276.6 299.4l-2.8 .9M275.5 272.2l-2.8 .8M274.4 244.2l-2.9 .7M273.3 215.5l-3 .5" class="tk"/><text transform="matrix(0.04 0.999 -0.818 0.232 259.6 282.7)" class="dh" text-anchor="middle">DH (%)</text><text transform="matrix(0.932 -0.363 0.796 0.311 271.3 339.6)" class="kl" text-anchor="middle" dy=".35em">2.4</text><text transform="matrix(0.922 -0.387 0.847 0.331 291.6 347.6)" class="kl" text-anchor="middle" dy=".35em">2.6</text><text transform="matrix(0.911 -0.413 0.903 0.353 313.5 356.2)" class="kl" text-anchor="middle" dy=".35em">2.8</text><text transform="matrix(0.897 -0.442 0.967 0.378 337.1 365.4)" class="kl" text-anchor="middle" dy=".35em">3.0</text><text transform="matrix(0.88 -0.475 1.039 0.406 362.5 375.3)" class="kl" text-anchor="middle" dy=".35em">3.2</text><text transform="matrix(0.934 0.357 -0.746 0.417 378.8 375.4)" class="kl" text-anchor="middle" dy=".35em">50</text><text transform="matrix(0.941 0.338 -0.707 0.395 395.4 366.1)" class="kl" text-anchor="middle" dy=".35em">52</text><text transform="matrix(0.947 0.322 -0.671 0.376 410.9 357.4)" class="kl" text-anchor="middle" dy=".35em">54</text><text transform="matrix(0.952 0.306 -0.639 0.358 425.4 349.3)" class="kl" text-anchor="middle" dy=".35em">56</text><text transform="matrix(0.956 0.292 -0.61 0.341 438.9 341.8)" class="kl" text-anchor="middle" dy=".35em">58</text><text transform="matrix(0.96 0.28 -0.583 0.326 451.6 334.7)" class="kl" text-anchor="middle" dy=".35em">60</text><path d="M278.1 337l-2.3 .8M298.5 344.7l-2.3 1M320.3 353.1l-2.2 1M343.8 362.1l-2.2 1.1M369.1 371.7l-2.1 1.2M369.1 371.7l2.7 1.1M385.9 362.7l2.7 .9M401.6 354.2l2.6 .9M416.2 346.3l2.5 .9M429.8 339l2.5 .7M442.6 332.1l2.5 .7" class="tk"/><text transform="matrix(0.995 0.406 -1.023 0.474 308.2 364.2)" class="at" text-anchor="middle" dy=".35em"><tspan font-style="italic">X</tspan><tspan font-size="4px" dy="1">1</tspan><tspan dy="-1">: Enzyme dosage (%)</tspan></text><text transform="matrix(0.818 -0.473 1.205 0.405 422.4 358.8)" class="at" text-anchor="middle" dy=".35em"><tspan font-style="italic">X</tspan><tspan font-size="4px" dy="1">2</tspan><tspan dy="-1">: Temperature (℃)</tspan></text><text x="507.3" y="341.6" class="zl" text-anchor="end">40</text><text x="506.3" y="318.1" class="zl" text-anchor="end">42</text><text x="505.2" y="294" class="zl" text-anchor="end">44</text><text x="504" y="269.3" class="zl" text-anchor="end">46</text><text x="502.9" y="243.8" class="zl" text-anchor="end">48</text><text x="501.7" y="217.6" class="zl" text-anchor="end">50</text><path d="M510.5 338.7l-2.7 1.1M509.5 315.2l-2.8 1M508.4 291.1l-2.8 .9M507.2 266.4l-2.8 .7M506.1 240.9l-2.9 .6M504.9 214.7l-3 .5" class="tk"/><text transform="matrix(0.046 0.999 -0.818 0.23 490.4 281.4)" class="dh" text-anchor="middle">DH (%)</text><text transform="matrix(0.928 -0.374 0.817 0.32 511.6 342.6)" class="kl" text-anchor="middle" dy=".35em">7.50</text><text transform="matrix(0.919 -0.393 0.859 0.336 528.3 349.2)" class="kl" text-anchor="middle" dy=".35em">7.75</text><text transform="matrix(0.91 -0.415 0.906 0.354 546 356.1)" class="kl" text-anchor="middle" dy=".35em">8.00</text><text transform="matrix(0.898 -0.439 0.957 0.374 564.8 363.4)" class="kl" text-anchor="middle" dy=".35em">8.25</text><text transform="matrix(0.885 -0.466 1.013 0.397 584.7 371.2)" class="kl" text-anchor="middle" dy=".35em">8.50</text><text transform="matrix(0.934 0.357 -0.739 0.42 611.4 375.4)" class="kl" text-anchor="middle" dy=".35em">50</text><text transform="matrix(0.941 0.338 -0.7 0.397 627.9 366)" class="kl" text-anchor="middle" dy=".35em">52</text><text transform="matrix(0.947 0.322 -0.664 0.377 643.3 357.3)" class="kl" text-anchor="middle" dy=".35em">54</text><text transform="matrix(0.952 0.306 -0.632 0.359 657.6 349.2)" class="kl" text-anchor="middle" dy=".35em">56</text><text transform="matrix(0.956 0.293 -0.603 0.342 670.9 341.6)" class="kl" text-anchor="middle" dy=".35em">58</text><text transform="matrix(0.96 0.28 -0.576 0.327 683.4 334.5)" class="kl" text-anchor="middle" dy=".35em">60</text><path d="M518.5 339.9l-2.3 .9M535.1 346.3l-2.2 .9M552.8 353l-2.3 1M571.5 360.2l-2.2 1M591.3 367.7l-2.2 1.2M601.7 371.7l2.7 1M618.4 362.6l2.6 .9M633.9 354.1l2.6 .9M648.3 346.2l2.6 .8M661.8 338.8l2.5 .8M674.4 331.9l2.5 .7" class="tk"/><text transform="matrix(1.019 0.414 -1.06 0.485 536.4 361.3)" class="at" text-anchor="middle" dy=".35em"><tspan font-style="italic">X</tspan><tspan font-size="4px" dy="1">1</tspan><tspan dy="-1">: pH</tspan></text><text transform="matrix(0.741 -0.437 1.108 0.372 655.8 358.8)" class="at" text-anchor="middle" dy=".35em"><tspan font-style="italic">X</tspan><tspan font-size="4px" dy="1">2</tspan><tspan dy="-1">: Temperature (℃)</tspan></text><text x=".8" y="201.6" class="pl">D</text><text x="240.6" y="201.6" class="pl">E</text><text x="474.4" y="201.6" class="pl">F</text></svg></body></html>
